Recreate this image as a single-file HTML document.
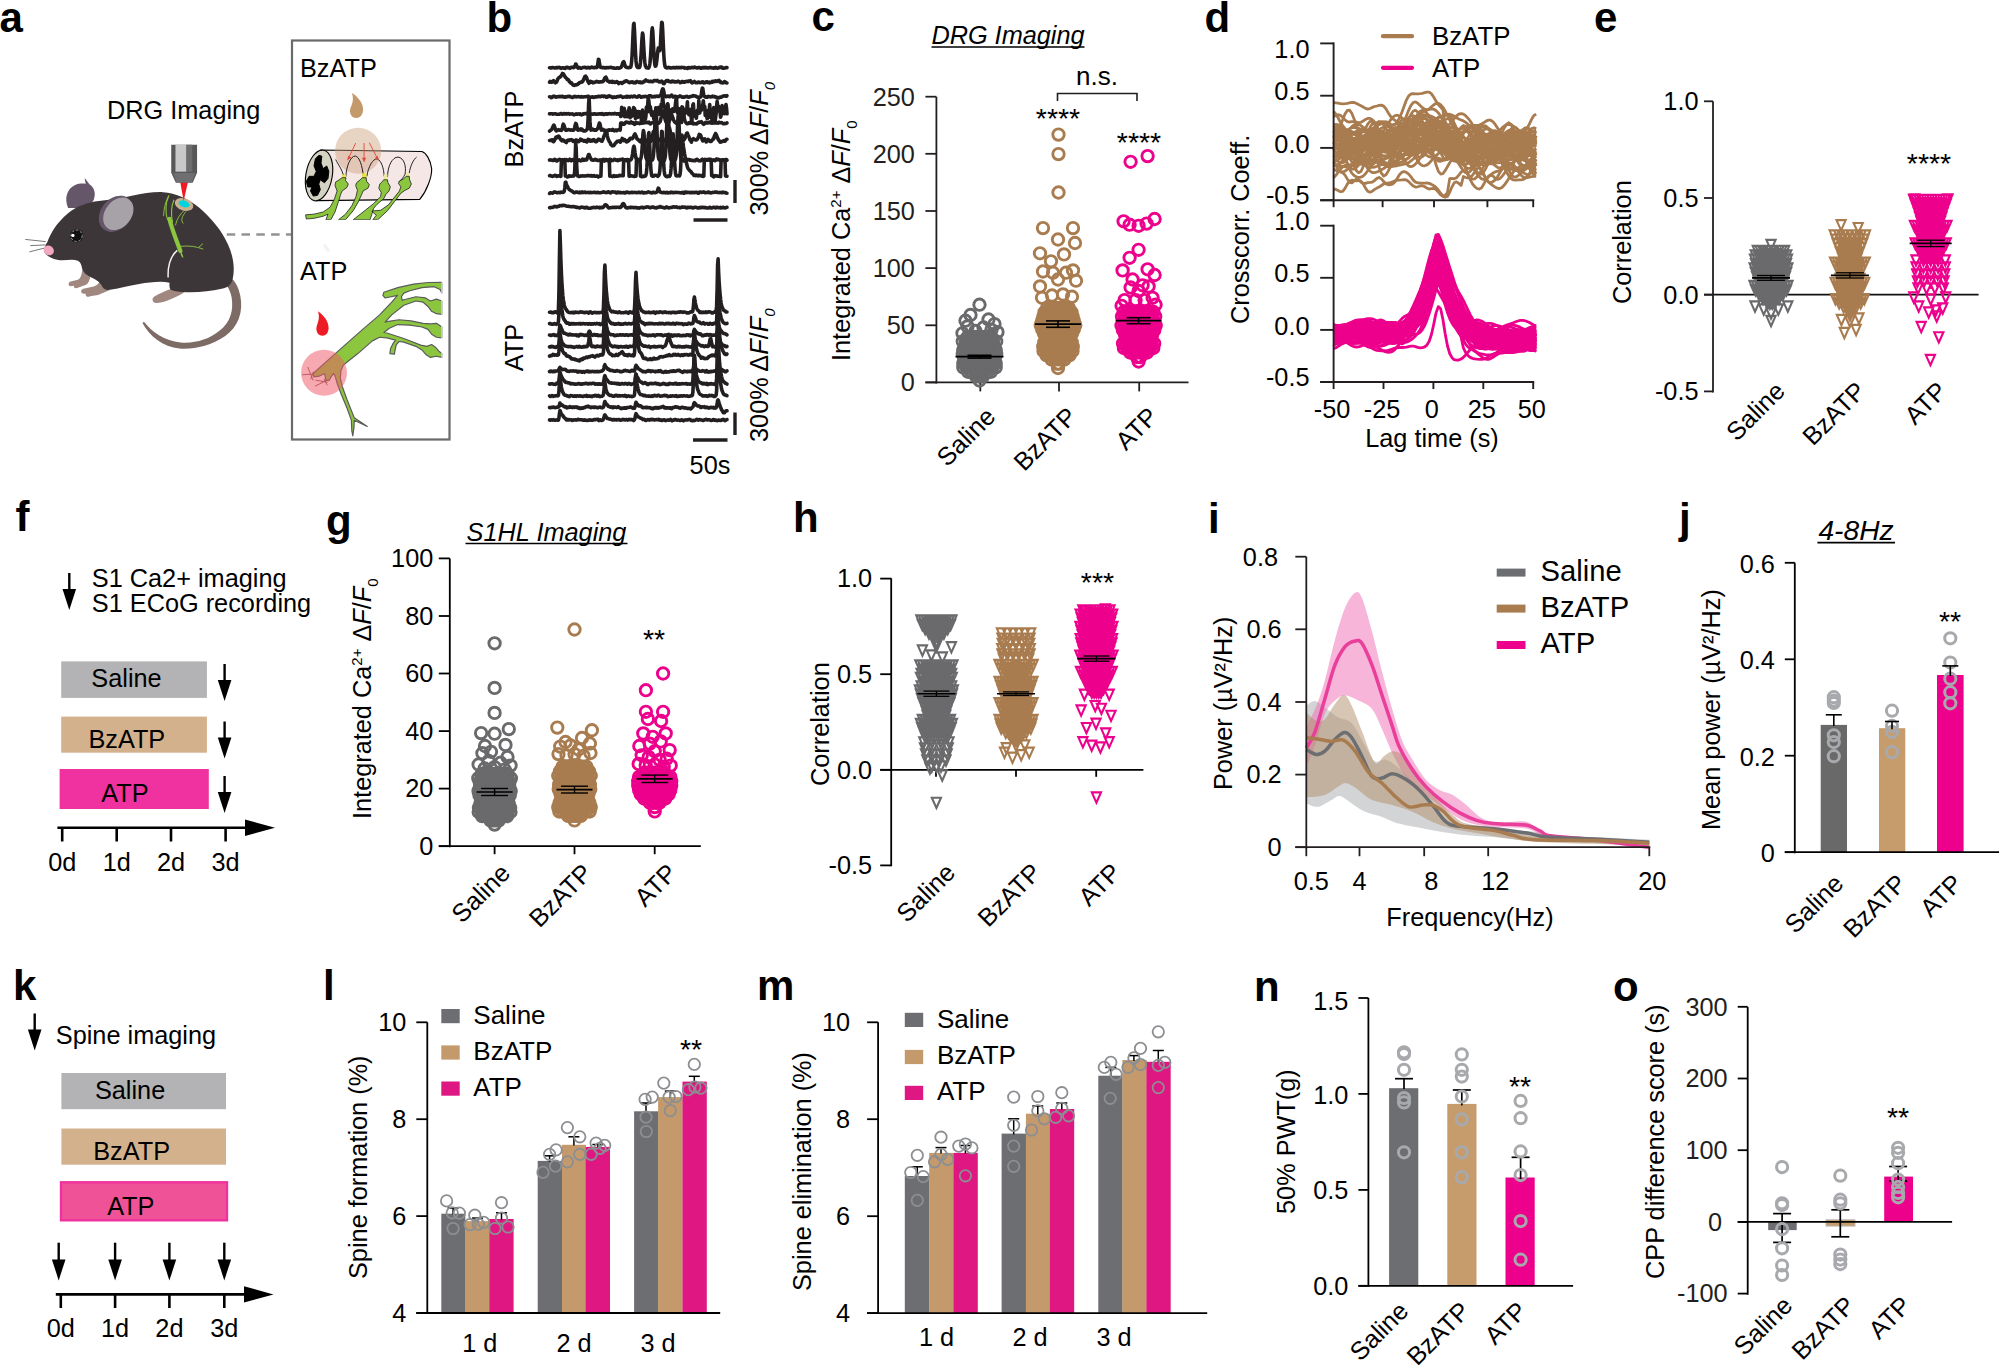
<!DOCTYPE html>
<html><head><meta charset="utf-8"><title>Figure</title>
<style>html,body{margin:0;padding:0;background:#fff;width:1999px;height:1365px;overflow:hidden}svg{display:block}svg{font-family:"Liberation Sans",sans-serif;font-size:25.3px}.pl{font-weight:bold;font-size:42px}.it{font-style:italic}</style></head>
<body>
<svg width="1999" height="1365" viewBox="0 0 1999 1365">
<rect width="1999" height="1365" fill="#fff"/>
<!-- panel a -->
<text x="-0.5" y="32" class="pl">a</text>
<text x="107" y="118.6">DRG Imaging</text>
<g transform="translate(0 120) scale(0.18315)">
<path d="M1235 850 C1275 860 1300 900 1312 960 C1330 1050 1300 1130 1230 1180 C1150 1235 1050 1255 980 1248 C890 1238 815 1180 778 1108 L786 1102 C830 1160 900 1205 985 1215 C1060 1222 1140 1200 1200 1150 C1260 1100 1275 1040 1265 970 C1258 930 1240 900 1215 880Z" fill="#7d6b66"/>
<path d="M372 480 C350 430 365 375 410 355 C430 346 450 345 468 348 C465 335 462 325 463 318 C475 330 482 345 490 352 C515 370 525 400 512 435 C500 462 470 478 440 480Z" fill="#65566a"/>
<path d="M450 815 C445 850 440 865 425 872 L385 882 C370 890 372 905 385 908 L405 905 C400 915 410 922 425 916 L470 900 C485 890 490 870 495 850Z" fill="#a08880"/>
<path d="M545 880 C535 900 525 905 505 910 L455 922 C438 930 440 945 455 948 L468 948 C465 962 478 970 492 962 L535 955 L600 928Z" fill="#a08880"/>
<path d="M935 922 C900 935 870 950 845 962 C828 972 830 992 845 998 C870 1004 905 990 935 978 C965 966 990 952 1010 938Z" fill="#a08880"/>
<path d="M246 728 C238 715 242 690 258 668 C275 620 310 560 370 510 C420 470 480 448 540 442 C600 436 660 428 720 414 C780 400 840 392 890 394 C960 398 1030 430 1090 480 C1150 532 1210 600 1245 680 C1275 745 1282 810 1272 860 C1265 900 1245 915 1210 922 C1150 936 1080 942 1020 940 C980 940 950 935 930 925 C924 912 924 898 926 888 C880 878 820 885 760 895 C700 905 650 918 610 926 C585 930 570 928 562 915 C550 890 530 872 505 862 C475 850 455 835 448 810 C445 790 440 775 425 768 C400 758 370 765 340 766 C300 766 265 750 246 728Z" fill="#3d3639"/>
<path d="M968 712 C935 740 915 790 918 860" fill="none" stroke="#f4f2f2" stroke-width="8"/>
<ellipse cx="632" cy="512" rx="108" ry="82" transform="rotate(-52 632 512)" fill="#65566a"/>
<ellipse cx="646" cy="512" rx="98" ry="72" transform="rotate(-52 646 512)" fill="#a7a1a8"/>
<circle cx="418" cy="632" r="36" fill="#111"/>
<circle cx="418" cy="632" r="31" fill="none" stroke="#fff" stroke-width="3" stroke-dasharray="14 9"/>
<circle cx="398" cy="630" r="9" fill="#fff"/>
<ellipse cx="266" cy="712" rx="29" ry="26" transform="rotate(35 266 712)" fill="#f1a7c1"/>
<path d="M250 664L138 652M246 682L165 686M240 700L160 720" fill="none" stroke="#444" stroke-width="4"/>
<path d="M922 412 C905 450 898 490 915 545M950 435 C935 470 932 510 942 560" fill="none" stroke="#8cc63f" stroke-width="6"/>
<path d="M925 540 C940 600 965 660 985 715" fill="none" stroke="#8cc63f" stroke-width="23" stroke-linecap="round"/>
<path d="M985 715L996 746" fill="none" stroke="#8cc63f" stroke-width="8" stroke-linecap="round"/>
<path d="M922 412 C905 440 895 480 893 525M1010 490 C985 510 965 540 958 575M1015 500 C995 525 985 545 1000 565M985 690 C1030 685 1070 690 1110 705M1085 695L1108 675M990 735L1000 750" fill="none" stroke="#8cc63f" stroke-width="5"/>
<ellipse cx="1005" cy="461" rx="52" ry="33" transform="rotate(18 1005 461)" fill="#c9b18e"/>
<ellipse cx="1005" cy="458" rx="31" ry="18" transform="rotate(18 1005 458)" fill="#00d4de"/>
<path d="M984 340L1026 340L1003 442Z" fill="#ed1c24"/>
<path d="M935 135L1076 135L1076 288L1052 342L960 342L935 288Z" fill="#58585a"/>
<path d="M958 135L1018 135L1018 282L958 282Z" fill="#c9c9c9"/>
<path d="M1018 135L1050 135L1050 282L1018 282Z" fill="#6d6e70"/>
<path d="M945 290L1066 290L1048 338L964 338Z" fill="#6f6f71"/>
</g>
<line x1="226.7" y1="234.5" x2="291" y2="234.5" stroke="#929297" stroke-width="2.6" stroke-dasharray="8.5 6.3"/>
<rect x="292" y="40.5" width="157.5" height="399" fill="none" stroke="#6a6a6a" stroke-width="2.2"/>
<text x="300" y="76.8">BzATP</text>
<text x="300" y="279.6">ATP</text>
<g transform="translate(300 135) scale(0.07003)">
<path d="M290 215L1740 235C1800 255 1862 350 1880 480C1885 600 1810 800 1710 920L250 937Z" fill="#f6e7e7" stroke="#000" stroke-width="16"/>
<ellipse cx="272" cy="578" rx="188" ry="366" transform="rotate(10 272 578)" fill="#d3d2c3" stroke="#000" stroke-width="16"/>
<path d="M270 290 312 302 300 400 330 480 382 442 412 520 400 620 350 682 290 640 268 700 290 780 250 862 190 872 150 800 170 742 110 742 90 660 130 590 200 590 232 520 200 440 220 340Z" fill="#000" stroke="#000" stroke-width="14" stroke-linejoin="round"/>
<circle cx="830" cy="225" r="330" fill="#c89870" fill-opacity="0.42"/>
<path d="M510 350C540 420 600 480 625 595M655 595C660 450 720 300 790 300C850 310 890 440 905 590M955 590C975 450 1040 340 1100 340C1160 360 1200 480 1200 590M1250 600C1250 440 1320 315 1400 315C1490 330 1520 450 1500 560C1480 610 1440 640 1410 672M1560 545C1575 440 1620 350 1665 315" fill="none" stroke="#111" stroke-width="13"/>
<path d="M608 565L660 565L655 615L603 615ZM890 545L950 545L948 612L888 612Z" fill="#e9e531"/>
<path d="M1195 560L1250 560L1250 645L1195 645ZM1515 540L1560 540L1560 595L1515 595Z" fill="#ece9a0"/>
<path d="M600 610 655 610 650 650 690 700 670 750 600 800 580 850 550 950 500 1100 440 1210 370 1210 400 1130 330 1160 200 1190 90 1200 80 1140 200 1130 330 1100 430 1030 490 920 530 800 500 720 510 670 560 640ZM890 610 945 610 950 660 990 710 970 760 900 800 880 850 830 960 760 1080 650 1210 550 1210 650 1130 740 1010 800 880 820 790 795 720 810 680 860 640ZM1195 640 1250 640 1255 680 1290 740 1270 800 1225 850 1195 910 1100 990 1050 1050 1030 1120 1000 1210 760 1210 900 1100 1050 980 1150 880 1160 820 1125 760 1140 700 1180 660ZM1515 590 1560 590 1565 640 1590 700 1560 760 1500 790 1440 832 1350 950 1250 1080 1110 1210 1040 1210 1090 1145 1035 1100 1030 1085 1150 1075 1260 1000 1340 900 1420 800 1440 740 1405 690 1420 660 1480 625Z" fill="#8cc63f" stroke="#1a1a1a" stroke-width="11" stroke-linejoin="round"/>
<rect x="60" y="1212" width="1200" height="60" fill="#fff"/>
<path d="M795 115L690 340M915 115L915 370M990 110L1110 345" fill="none" stroke="#e04a3a" stroke-width="13"/>
<path d="M672 365L690 295L735 320ZM915 392L885 325L945 325ZM1125 365L1068 330L1112 300Z" fill="#e04a3a"/>
</g>
<g transform="translate(280 30) scale(0.15385)">
<path d="M468 410C500 430 540 470 540 515C540 550 520 572 495 572C470 572 453 552 455 520C460 490 485 470 468 410Z" fill="#c49a6c"/>
</g>
<g transform="translate(295 275) scale(0.1209)">
<path d="M150 815 345 640 560 450 700 330 800 225 848 168 745 190 727 168 735 143 850 105 980 75 1100 62 1215 60 1215 150 1200 120 1150 97 1050 105 950 130 900 150 880 180 887 210 900 205 1000 180 1080 190 1120 215 1170 200 1215 215 1215 325 1170 320 1130 300 1100 260 1060 225 1000 215 900 250 800 330 745 390 760 385 860 370 960 380 1060 400 1120 405 1170 400 1215 430 1215 520 1170 515 1130 490 1100 450 1050 430 950 415 850 410 780 440 735 475 760 480 900 525 1040 580 1090 590 1130 575 1165 600 1190 630 1215 650 1215 682 1170 672 1120 682 1080 655 1050 620 1000 590 900 555 860 550 837 578 828 620 822 655 785 650 790 610 812 565 832 538 760 520 700 515 640 545 520 650 400 745 380 790 375 850 390 920 430 1030 470 1130 490 1180 598 1253 490 1202 488 1260 478 1330 470 1290 466 1200 430 1100 380 980 350 900 330 830 318 815 300 840 282 872 256 872 245 815 200 837 156 842Z" fill="#8cc63f" stroke="#5b5b5b" stroke-width="10" stroke-linejoin="round"/>
<path d="M1215 56L1215 690" fill="none" stroke="#fff" stroke-width="8"/>
<path d="M60 825L142 820M105 760L150 872M152 800L130 862M170 870L270 887M165 920L265 870M240 858L266 912" fill="none" stroke="#7a3b40" stroke-width="7"/>
<circle cx="240" cy="808" r="190" fill="#ee5a68" fill-opacity="0.52"/>
<path d="M190 300C235 330 280 385 278 440C276 478 256 502 228 502C198 502 175 476 177 440C180 400 212 370 190 300Z" fill="#ed1c24"/>
</g>
<path d="M324 244.5L329 251.5" fill="none" stroke="#f3f3f3" stroke-width="3.2"/>
<!-- panel b -->
<text x="486.5" y="32" class="pl">b</text>
<text x="523" y="129" text-anchor="middle" transform="rotate(-90 523 129)">BzATP</text>
<text x="523" y="347.5" text-anchor="middle" transform="rotate(-90 523 347.5)">ATP</text>
<text transform="translate(768 215.5) rotate(-90)">300% Δ<tspan class="it">F</tspan>/<tspan class="it">F</tspan><tspan class="it" font-size="15" dy="7">0</tspan></text>
<text transform="translate(768 442) rotate(-90)">300% Δ<tspan class="it">F</tspan>/<tspan class="it">F</tspan><tspan class="it" font-size="15" dy="7">0</tspan></text>
<g fill="none" stroke="#231f20" stroke-width="3.6" stroke-linejoin="round" stroke-linecap="round">
<path d="M549.5 67.8 550 67.8 550.5 67.8 551 68 551.5 67.8 552 67.7 552.5 67.5 553 67.7 553.5 67.7 553.9 67.7 554.4 67.7 554.9 68 555.4 67.9 555.9 67.8 556.4 67.5 556.9 67.9 557.4 67.6 557.9 67.7 558.4 67.5 558.9 67.4 559.4 67.4 559.9 67.6 560.4 68 560.9 68.4 561.4 68 561.9 68 562.4 67.7 562.8 67.7 563.3 67.9 563.8 67.7 564.3 68.2 564.8 68.1 565.3 68.4 565.8 67.8 566.3 67.4 566.8 67.2 567.3 67.3 567.8 67.6 568.3 67.5 568.8 67.8 569.3 68 569.8 68.4 570.3 68.2 570.8 67.6 571.3 67.2 571.7 67.4 572.2 67.4 572.7 67.4 573.2 67.3 573.7 67.6 574.2 67.4 574.7 66.6 575.2 65.3 575.7 64 576.2 64.4 576.7 65.6 577.2 67 577.7 67.8 578.2 68.1 578.7 67.7 579.2 67.5 579.7 67.6 580.2 68.1 580.6 68.2 581.1 68.1 581.6 68.1 582.1 67.7 582.6 67.7 583.1 67.5 583.6 67.5 584.1 67.2 584.6 67.2 585.1 67.4 585.6 67.6 586.1 67.6 586.6 67.9 587.1 67.9 587.6 67.7 588.1 67.4 588.6 67.6 589.1 67.8 589.5 68 590 67.9 590.5 67.6 591 67.3 591.5 67.1 592 67.2 592.5 67.4 593 67.5 593.5 67.6 594 67.8 594.5 67.8 595 67.4 595.5 67.2 596 67.2 596.5 67.6 597 67.5 597.5 65.8 598 62.4 598.4 59.3 598.9 59.4 599.4 62.9 599.9 65.6 600.4 67.1 600.9 67.1 601.4 67.5 601.9 67.5 602.4 67.8 602.9 67.5 603.4 67.4 603.9 67.6 604.4 67.8 604.9 67.9 605.4 67.7 605.9 67.9 606.4 67.6 606.9 67.6 607.3 67.6 607.8 67.8 608.3 67.7 608.8 67.6 609.3 67.6 609.8 67.5 610.3 67.4 610.8 67.4 611.3 67.4 611.8 67.6 612.3 67.8 612.8 68 613.3 67.8 613.8 67.9 614.3 68.2 614.8 68.2 615.3 68.2 615.8 68.2 616.2 68.2 616.7 68.1 617.2 67.7 617.7 67.8 618.2 67.9 618.7 68.2 619.2 68.2 619.7 68 620.2 67.8 620.7 67.5 621.2 67.1 621.7 65.8 622.2 64.6 622.7 62.9 623.2 62 623.7 61.7 624.2 62.6 624.7 64.6 625.1 66 625.6 66.9 626.1 67 626.6 67.4 627.1 67.6 627.6 67.5 628.1 67.6 628.6 67.6 629.1 67.7 629.6 67.5 630.1 67.4 630.6 67.2 631.1 65.6 631.6 62.1 632.1 54.8 632.6 44.1 633.1 32.2 633.6 24.2 634 23.4 634.5 30.5 635 41.6 635.5 52.8 636 60.7 636.5 65.1 637 66.7 637.5 67.4 638 67.3 638.5 67.4 639 67.6 639.5 67.5 640 65.9 640.5 62.2 641 55.6 641.5 47.1 642 38.4 642.5 33.1 642.9 34.1 643.4 40.8 643.9 49.7 644.4 58 644.9 63 645.4 66.1 645.9 66.9 646.4 67.7 646.9 67.8 647.4 68 647.9 68 648.4 68.1 648.9 67.4 649.4 66.2 649.9 63.5 650.4 58.5 650.9 50.1 651.4 40 651.8 31.2 652.3 27.9 652.8 31.8 653.3 41 653.8 51.5 654.3 59.6 654.8 64.3 655.3 66.2 655.8 66 656.3 64.3 656.8 60.5 657.3 55.8 657.8 50.8 658.3 48 658.8 47.8 659.3 49.6 659.8 50.6 660.3 47.6 660.7 39.7 661.2 29.4 661.7 22.4 662.2 22.7 662.7 30.6 663.2 42.2 663.7 53.2 664.2 60.6 664.7 64.8 665.2 66.8 665.7 67.6 666.2 67.7 666.7 68 667.2 67.8 667.7 67.8 668.2 67.4 668.7 67.8 669.2 67.6 669.6 67.8 670.1 67.6 670.6 68 671.1 68 671.6 68 672.1 67.8 672.6 67.7 673.1 67.6 673.6 67.5 674.1 67.6 674.6 67.8 675.1 67.9 675.6 67.8 676.1 67.4 676.6 67.3 677.1 67.7 677.6 67.8 678.1 67.7 678.5 67.4 679 67.5 679.5 67.7 680 67.8 680.5 67.6 681 67.7 681.5 67.4 682 67.4 682.5 67.5 683 67.6 683.5 67.6 684 67.5 684.5 67.7 685 68.2 685.5 68 686 68 686.5 68 687 68.4 687.4 68.4 687.9 67.9 688.4 67.6 688.9 67.5 689.4 67.8 689.9 68 690.4 68 690.9 67.7 691.4 67.5 691.9 67.4 692.4 67.6 692.9 67.7 693.4 67.8 693.9 67.3 694.4 67.2 694.9 67.1 695.4 67.5 695.9 67.5 696.3 67.8 696.8 67.9 697.3 68 697.8 67.8 698.3 67.5 698.8 67.6 699.3 67.5 699.8 67.7 700.3 67.9 700.8 68.3 701.3 68.3 701.8 67.8 702.3 67.6 702.8 67.6 703.3 67.9 703.8 67.5 704.3 67.4 704.8 67.5 705.2 67.9 705.7 67.7 706.2 67.5 706.7 67.7 707.2 68 707.7 67.9 708.2 67.8 708.7 67.9 709.2 67.8 709.7 67.6 710.2 67.4 710.7 67.7 711.2 67.7 711.7 67.8 712.2 68 712.7 68 713.2 68.1 713.7 67.8 714.1 68.1 714.6 67.9 715.1 68 715.6 67.4 716.1 67.6 716.6 67.8 717.1 68.2 717.6 68.2 718.1 68.1 718.6 67.9 719.1 67.6 719.6 67.2 720.1 67.4 720.6 67.1 721.1 67.1 721.6 67 722.1 67.8 722.6 68.1 723 68.1 723.5 68.1 724 68.1 724.5 68.1 725 67.9 725.5 67.8 726 67.6 726.5 67.5 727 67.6"/>
<path d="M549.5 82.2 550 81.5 550.5 82.1 551 82 551.5 81.7 552 82.2 552.5 82 553 81.3 553.5 80.7 553.9 81.1 554.4 81.3 554.9 82.3 555.4 82.8 555.9 82.5 556.4 82.2 556.9 81.3 557.4 79.9 557.9 78.9 558.4 78.1 558.9 77.7 559.4 77.3 559.9 77.2 560.4 76.4 560.9 76.2 561.4 75.4 561.9 74.5 562.4 73.5 562.8 73.9 563.3 73.8 563.8 74.6 564.3 75.4 564.8 76.2 565.3 77.2 565.8 77.7 566.3 78.1 566.8 78.7 567.3 79.5 567.8 79.3 568.3 79.8 568.8 80.4 569.3 81.6 569.8 81.9 570.3 82.3 570.8 83.2 571.3 83.4 571.7 83 572.2 84 572.7 84.7 573.2 85.1 573.7 85 574.2 85.4 574.7 84.9 575.2 84.8 575.7 84.8 576.2 84.9 576.7 84.8 577.2 84.5 577.7 84.5 578.2 83.6 578.7 83.5 579.2 82.9 579.7 82.5 580.2 82.4 580.6 82.4 581.1 82.1 581.6 82 582.1 82 582.6 81.4 583.1 80.7 583.6 79.2 584.1 78.5 584.6 77.1 585.1 76.4 585.6 76.2 586.1 77.1 586.6 77.3 587.1 79.4 587.6 80.5 588.1 81.8 588.6 82.4 589.1 83.3 589.5 82.7 590 82.3 590.5 81.4 591 82.3 591.5 82.2 592 81.9 592.5 82.1 593 82.8 593.5 82.3 594 82.5 594.5 82.4 595 82.1 595.5 81.9 596 81.8 596.5 81.4 597 81.7 597.5 81.9 598 81.9 598.4 81.8 598.9 81.8 599.4 82.1 599.9 82 600.4 81.7 600.9 81.9 601.4 81.8 601.9 81.7 602.4 81.6 602.9 81.6 603.4 81 603.9 80.1 604.4 78.8 604.9 78 605.4 77.3 605.9 77.1 606.4 78.3 606.9 79.5 607.3 80.8 607.8 81.2 608.3 81.2 608.8 81.5 609.3 82 609.8 81.6 610.3 81.5 610.8 81.9 611.3 82.1 611.8 81.6 612.3 81.3 612.8 82.3 613.3 82.1 613.8 81.8 614.3 82.1 614.8 82.5 615.3 82.3 615.8 82.3 616.2 81.8 616.7 81.5 617.2 81.9 617.7 82.1 618.2 82.6 618.7 83.6 619.2 83.1 619.7 82.9 620.2 82.7 620.7 82.7 621.2 82.5 621.7 83.1 622.2 83.4 622.7 82.5 623.2 82.4 623.7 82.3 624.2 82.1 624.7 81.2 625.1 81.3 625.6 81.2 626.1 80.9 626.6 80.9 627.1 81.2 627.6 81.6 628.1 81.7 628.6 82.2 629.1 82.2 629.6 82.7 630.1 82.4 630.6 82.1 631.1 82 631.6 82.2 632.1 81.9 632.6 82.4 633.1 82.1 633.6 82.3 634 82.8 634.5 82.5 635 82.5 635.5 82.8 636 82.2 636.5 81.6 637 81.5 637.5 81.7 638 81.7 638.5 82.1 639 82.4 639.5 82.5 640 82 640.5 82.7 641 82.8 641.5 82.3 642 82.2 642.5 82.6 642.9 82 643.4 82.1 643.9 81.4 644.4 81.6 644.9 81.1 645.4 80.8 645.9 80 646.4 80.7 646.9 80.9 647.4 81 647.9 81.2 648.4 81 648.9 81.5 649.4 81.5 649.9 81.6 650.4 81.2 650.9 81.5 651.4 81.5 651.8 81.4 652.3 81.8 652.8 81.6 653.3 81.3 653.8 80.7 654.3 80.6 654.8 80.6 655.3 80.8 655.8 80.6 656.3 80.8 656.8 80.9 657.3 80.4 657.8 80.9 658.3 81.1 658.8 81.6 659.3 81.9 659.8 82 660.3 81.8 660.7 81.4 661.2 81.3 661.7 81 662.2 81.5 662.7 82.2 663.2 83.4 663.7 83.2 664.2 83.6 664.7 82.8 665.2 81.8 665.7 81.3 666.2 80.9 666.7 80.5 667.2 80.5 667.7 81 668.2 80.6 668.7 81.4 669.2 81.3 669.6 81.8 670.1 81.8 670.6 81.9 671.1 81.5 671.6 81.8 672.1 81.4 672.6 81.1 673.1 81.7 673.6 81.6 674.1 81.4 674.6 81.8 675.1 82 675.6 81.9 676.1 81.7 676.6 82 677.1 81.7 677.6 81.5 678.1 81.1 678.5 81.4 679 81.6 679.5 81.8 680 82.6 680.5 82.6 681 82.5 681.5 82.1 682 81.6 682.5 81.5 683 81.7 683.5 82.2 684 82.1 684.5 82.3 685 81.9 685.5 81.5 686 81.4 686.5 81.5 687 81.2 687.4 81.4 687.9 81.6 688.4 81 688.9 81 689.4 81.2 689.9 81.2 690.4 80.6 690.9 81.8 691.4 82.2 691.9 82.8 692.4 82.1 692.9 82.6 693.4 82 693.9 82 694.4 81.5 694.9 82 695.4 82.4 695.9 82.8 696.3 82.7 696.8 82.7 697.3 82.7 697.8 82.4 698.3 82 698.8 82.2 699.3 82.3 699.8 82.7 700.3 82.7 700.8 82.5 701.3 82.2 701.8 82.5 702.3 81.9 702.8 81.8 703.3 82.1 703.8 82.9 704.3 82.5 704.8 82.7 705.2 82.4 705.7 82.4 706.2 81.7 706.7 81.8 707.2 81.7 707.7 82.5 708.2 82.3 708.7 82.4 709.2 82.2 709.7 82.9 710.2 82.4 710.7 82.5 711.2 82.3 711.7 82.2 712.2 81.4 712.7 82 713.2 81.6 713.7 81.3 714.1 81.6 714.6 81.5 715.1 80.9 715.6 80.8 716.1 81.2 716.6 81.3 717.1 81.4 717.6 80.8 718.1 81 718.6 80.5 719.1 80.4 719.6 81.2 720.1 82 720.6 81.7 721.1 82.6 721.6 82.6 722.1 82.8 722.6 82.7 723 82.9 723.5 82.7 724 82.6 724.5 81.6 725 81.7 725.5 82.3 726 82.4 726.5 82.9 727 83"/>
<path d="M549.5 96.8 550 96.8 550.5 97 551 97.6 551.5 97.3 552 97.5 552.5 96.8 553 96.4 553.5 96.5 553.9 96.1 554.4 96.6 554.9 96.5 555.4 96.5 555.9 97.2 556.4 96.9 556.9 96.9 557.4 96.8 557.9 96.7 558.4 96.6 558.9 96.7 559.4 96.5 559.9 96.3 560.4 96.6 560.9 96.6 561.4 96.6 561.9 96.3 562.4 96.4 562.8 96.4 563.3 96.8 563.8 97.2 564.3 97.2 564.8 97 565.3 96.7 565.8 97.1 566.3 96.9 566.8 96.8 567.3 96.8 567.8 96.4 568.3 96.4 568.8 96.4 569.3 96.6 569.8 96.4 570.3 96.7 570.8 96.9 571.3 97 571.7 97.3 572.2 97.4 572.7 97.4 573.2 96.9 573.7 96.9 574.2 96.5 574.7 96.3 575.2 96.5 575.7 96.6 576.2 96.9 576.7 96.8 577.2 96.7 577.7 96.8 578.2 96.5 578.7 96.6 579.2 96.7 579.7 96.9 580.2 97 580.6 97 581.1 96.9 581.6 96.6 582.1 96.9 582.6 97 583.1 97 583.6 96.9 584.1 96.8 584.6 96.8 585.1 96.8 585.6 96.7 586.1 96.8 586.6 96.6 587.1 96.5 587.6 96.3 588.1 96.2 588.6 96.4 589.1 96.9 589.5 96.9 590 97.3 590.5 97.4 591 97.2 591.5 97.2 592 96.7 592.5 96.8 593 97 593.5 97.4 594 97.4 594.5 97.1 595 96.9 595.5 96.9 596 96.9 596.5 96.7 597 96.9 597.5 96.8 598 96.4 598.4 96.5 598.9 96.3 599.4 96.2 599.9 96.7 600.4 96.8 600.9 96.4 601.4 96.1 601.9 96.3 602.4 96.2 602.9 96.1 603.4 96.6 603.9 96.2 604.4 96 604.9 96.5 605.4 96.3 605.9 96.4 606.4 97.2 606.9 97 607.3 97.1 607.8 96.9 608.3 96 608.8 95.9 609.3 95.9 609.8 96.1 610.3 96.5 610.8 96.4 611.3 96.6 611.8 97 612.3 97.5 612.8 97.6 613.3 97.3 613.8 97.2 614.3 96.9 614.8 97.1 615.3 97.3 615.8 97.3 616.2 97.2 616.7 96.8 617.2 96.5 617.7 96.6 618.2 96.6 618.7 96.7 619.2 96.6 619.7 96.4 620.2 96.1 620.7 96 621.2 96.4 621.7 96.6 622.2 97.2 622.7 97.4 623.2 97.2 623.7 97.2 624.2 97 624.7 97 625.1 96.9 625.6 96.9 626.1 96.4 626.6 96.8 627.1 97.1 627.6 96.4 628.1 96.7 628.6 96.6 629.1 96.5 629.6 97.1 630.1 96.8 630.6 96.5 631.1 96.3 631.6 96.3 632.1 96.8 632.6 96.9 633.1 96.7 633.6 96.4 634 96.1 634.5 96 635 96.4 635.5 96.7 636 96.9 636.5 97.1 637 97 637.5 97.1 638 96.6 638.5 96.1 639 95.8 639.5 95.9 640 96.2 640.5 96.8 641 97.3 641.5 97.2 642 97 642.5 96.8 642.9 96.5 643.4 96.5 643.9 96.6 644.4 96.8 644.9 96.5 645.4 96.3 645.9 96.4 646.4 96.5 646.9 97 647.4 97.2 647.9 96.7 648.4 96.3 648.9 95.9 649.4 95.7 649.9 95.7 650.4 95.8 650.9 95.9 651.4 96.2 651.8 96.9 652.3 97 652.8 96.7 653.3 96.8 653.8 96.6 654.3 96.3 654.8 96.7 655.3 96.7 655.8 96.2 656.3 96.3 656.8 96.1 657.3 96.2 657.8 96.4 658.3 96.5 658.8 96.5 659.3 96 659.8 95.8 660.3 95.6 660.7 94.9 661.2 94 661.7 92 662.2 89.8 662.7 88.8 663.2 89.1 663.7 91 664.2 93.7 664.7 95.3 665.2 96.1 665.7 96.8 666.2 96.7 666.7 96.6 667.2 96.4 667.7 96 668.2 96 668.7 96.3 669.2 96.7 669.6 96.8 670.1 96.2 670.6 95.8 671.1 95.4 671.6 95.2 672.1 96.1 672.6 96.4 673.1 96.9 673.6 96.9 674.1 96.2 674.6 96.3 675.1 96.2 675.6 96.3 676.1 96.8 676.6 96.8 677.1 97 677.6 96.9 678.1 97 678.5 96.6 679 96.4 679.5 96.5 680 95.9 680.5 96.3 681 96.5 681.5 96.6 682 97.2 682.5 97.2 683 97 683.5 97.1 684 97.1 684.5 97.1 685 96.9 685.5 96.6 686 96.8 686.5 96.4 687 96.3 687.4 96.9 687.9 96.8 688.4 97 688.9 97.3 689.4 97 689.9 96.5 690.4 96.7 690.9 96.5 691.4 96.4 691.9 96.4 692.4 96 692.9 95.6 693.4 95.7 693.9 95.9 694.4 95.8 694.9 96 695.4 96 695.9 96.2 696.3 96.5 696.8 96.9 697.3 97 697.8 97.1 698.3 97.4 698.8 97.2 699.3 97.4 699.8 97.3 700.3 97.1 700.8 96.8 701.3 94.7 701.8 90.8 702.3 88 702.8 88.5 703.3 92.4 703.8 95.3 704.3 96.1 704.8 96.8 705.2 96.6 705.7 96.9 706.2 97.3 706.7 97.1 707.2 97.2 707.7 96.9 708.2 96.4 708.7 96.6 709.2 96.6 709.7 96.7 710.2 96.7 710.7 97 711.2 96.6 711.7 96.7 712.2 96.7 712.7 96.2 713.2 96.7 713.7 96.6 714.1 96.7 714.6 96.6 715.1 96.9 715.6 96.8 716.1 97.4 716.6 97.7 717.1 97.4 717.6 98 718.1 97.9 718.6 97.9 719.1 97.8 719.6 97.4 720.1 97.1 720.6 97.3 721.1 97.2 721.6 96.9 722.1 96.6 722.6 96.3 723 96.1 723.5 96.1 724 96 724.5 95.7 725 95.9 725.5 96.1 726 96.1 726.5 96.2 727 95.7"/>
<path d="M549.5 113.8 550 113.9 550.5 113.7 551 113.8 551.5 113.7 552 113.8 552.5 113.8 553 114.1 553.5 114 553.9 113.9 554.4 113.8 554.9 113.8 555.4 113.8 555.9 113.9 556.4 114.1 556.9 114.3 557.4 114.2 557.9 114.2 558.4 114.2 558.9 114.2 559.4 114.2 559.9 114 560.4 113.8 560.9 113.5 561.4 113.7 561.9 113.7 562.4 114.2 562.8 114.1 563.3 113.9 563.8 113.5 564.3 113.7 564.8 114 565.3 113.9 565.8 113.9 566.3 113.6 566.8 114 567.3 113.8 567.8 113.8 568.3 113.5 568.8 113.9 569.3 114.1 569.8 114.1 570.3 114 570.8 113.9 571.3 114 571.7 114 572.2 113.8 572.7 114.1 573.2 114.3 573.7 114.8 574.2 114.6 574.7 114.7 575.2 114.3 575.7 114.2 576.2 113.9 576.7 114.1 577.2 114.1 577.7 114.1 578.2 113.9 578.7 114 579.2 114 579.7 114.3 580.2 113.9 580.6 114.5 581.1 114.4 581.6 114.8 582.1 114.2 582.6 114.3 583.1 113.8 583.6 114.2 584.1 113.6 584.6 113.8 585.1 113.6 585.6 113.8 586.1 113.6 586.6 113.4 587.1 113.9 587.6 114 588.1 114.1 588.6 114 589.1 114.1 589.5 114.3 590 114 590.5 114.1 591 114 591.5 114 592 114.2 592.5 114 593 114.2 593.5 114.1 594 113.8 594.5 113.7 595 113.8 595.5 114.2 596 114.3 596.5 114.1 597 114.1 597.5 114 598 113.9 598.4 114.1 598.9 114 599.4 113.8 599.9 113.9 600.4 113.9 600.9 114.1 601.4 113.8 601.9 113.6 602.4 113.7 602.9 113.9 603.4 114.4 603.9 114.4 604.4 114.4 604.9 114.1 605.4 113.7 605.9 113.8 606.4 114.1 606.9 114.2 607.3 114.2 607.8 113.9 608.3 113.9 608.8 113.8 609.3 113.7 609.8 113.6 610.3 113.8 610.8 113.8 611.3 114 611.8 113.9 612.3 113.8 612.8 113.6 613.3 113.8 613.8 113.9 614.3 113.8 614.8 113.4 615.3 113.6 615.8 113.7 616.2 113.9 616.7 114.1 617.2 113.9 617.7 113.9 618.2 113.9 618.7 114.2 619.2 113.8 619.7 113.6 620.2 113.6 620.7 116.4 621.2 116.3 621.7 107.4 622.2 110.9 622.7 110.5 623.2 110 623.7 109.3 624.2 108.3 624.7 116.6 625.1 115.5 625.6 114.7 626.1 116.5 626.6 114.2 627.1 116.8 627.6 116.1 628.1 110.6 628.6 113.2 629.1 107.8 629.6 109.7 630.1 117.8 630.6 113.2 631.1 111.1 631.6 111 632.1 116.1 632.6 112.6 633.1 111.6 633.6 107.5 634 111.4 634.5 108.6 635 114.5 635.5 118.6 636 117.5 636.5 111.4 637 114 637.5 116.4 638 117.3 638.5 111.6 639 111.9 639.5 112.9 640 111.8 640.5 115 641 113.6 641.5 123.2 642 116.8 642.5 110.1 642.9 114 643.4 122.8 643.9 114.1 644.4 116.5 644.9 115.6 645.4 119.1 645.9 116.3 646.4 107.1 646.9 110.8 647.4 112 647.9 101.5 648.4 98.1 648.9 101.4 649.4 107.2 649.9 110.9 650.4 106.8 650.9 112.4 651.4 114.3 651.8 115.5 652.3 111.5 652.8 113.4 653.3 113 653.8 118.9 654.3 119.6 654.8 115.9 655.3 113.7 655.8 111.4 656.3 108.2 656.8 111.6 657.3 113.6 657.8 114.5 658.3 113.3 658.8 107.2 659.3 110.7 659.8 112.6 660.3 114.2 660.7 112.3 661.2 104 661.7 106.2 662.2 102.2 662.7 95 663.2 102.6 663.7 104.3 664.2 107.2 664.7 106.6 665.2 113 665.7 110 666.2 107.7 666.7 111.3 667.2 109.6 667.7 103.9 668.2 108.5 668.7 110 669.2 113.8 669.6 114.6 670.1 110.5 670.6 113.4 671.1 109.7 671.6 111.3 672.1 112.1 672.6 108.9 673.1 111.1 673.6 111.1 674.1 111.3 674.6 110.7 675.1 107 675.6 102.7 676.1 98.4 676.6 99 677.1 111.2 677.6 113.1 678.1 109.9 678.5 108.5 679 114.2 679.5 114.1 680 109.8 680.5 109.1 681 113.1 681.5 122.5 682 116.8 682.5 116.2 683 117.8 683.5 109.4 684 113 684.5 111.7 685 113.7 685.5 111.8 686 112.4 686.5 111.7 687 106.7 687.4 101.9 687.9 111.2 688.4 111.7 688.9 114.8 689.4 114.8 689.9 112.3 690.4 109.6 690.9 115 691.4 119.6 691.9 121.9 692.4 109.7 692.9 104.8 693.4 103.8 693.9 112.6 694.4 115.4 694.9 115.7 695.4 116.6 695.9 114.4 696.3 118.2 696.8 114 697.3 110.4 697.8 110.8 698.3 113.3 698.8 100.6 699.3 108 699.8 113 700.3 108.6 700.8 109.4 701.3 110.2 701.8 105.8 702.3 107.2 702.8 104.7 703.3 100.8 703.8 105.4 704.3 107.9 704.8 106.7 705.2 115.5 705.7 112.6 706.2 110.5 706.7 116.3 707.2 118.8 707.7 118 708.2 111.8 708.7 110 709.2 110.6 709.7 104.5 710.2 111.1 710.7 117.4 711.2 116.5 711.7 117.6 712.2 123.2 712.7 119.4 713.2 116.2 713.7 107.5 714.1 109.2 714.6 114.7 715.1 121 715.6 117.4 716.1 113.6 716.6 106.7 717.1 101.3 717.6 105.2 718.1 108.8 718.6 106.2 719.1 107.9 719.6 111 720.1 112.7 720.6 117.2 721.1 115.6 721.6 109.8 722.1 105.6 722.6 112.3 723 108.7 723.5 112.8 724 111.1 724.5 113.8 725 112.9 725.5 107.2 726 104.6 726.5 108 727 113.8"/>
<path d="M549.5 131.1 550 130.7 550.5 130.6 551 130.1 551.5 129.4 552 128.9 552.5 127.9 553 126.8 553.5 125.3 553.9 125.1 554.4 126.1 554.9 127.5 555.4 129.5 555.9 130.4 556.4 130.9 556.9 130.3 557.4 130 557.9 130 558.4 129.6 558.9 130.1 559.4 130.1 559.9 130.1 560.4 130.2 560.9 130.1 561.4 130.4 561.9 129.7 562.4 128 562.8 125.5 563.3 124.1 563.8 124.9 564.3 126.2 564.8 128.1 565.3 129.2 565.8 130.2 566.3 130.3 566.8 130.2 567.3 130.1 567.8 129.7 568.3 129.6 568.8 129.5 569.3 129.8 569.8 129.8 570.3 130.2 570.8 130.2 571.3 130 571.7 129.9 572.2 130.1 572.7 130.1 573.2 130.3 573.7 130 574.2 129.4 574.7 127.4 575.2 125.1 575.7 123.4 576.2 123.8 576.7 125.8 577.2 128.2 577.7 129.9 578.2 130.2 578.7 129.9 579.2 129.3 579.7 129.8 580.2 129.7 580.6 129.9 581.1 128.9 581.6 129.1 582.1 129.4 582.6 130.4 583.1 130.7 583.6 131 584.1 130.8 584.6 130.9 585.1 131 585.6 130.7 586.1 130.4 586.6 129.8 587.1 129.5 587.6 127 588.1 118.6 588.6 104.2 589.1 97.3 589.5 107.8 590 121.9 590.5 128.7 591 130.1 591.5 129.6 592 129.2 592.5 129 593 129.4 593.5 130 594 130.1 594.5 129.9 595 130.1 595.5 129.9 596 130.2 596.5 129.7 597 129.4 597.5 128.6 598 127.9 598.4 126.6 598.9 124.8 599.4 123 599.9 123.7 600.4 126.2 600.9 128.7 601.4 130.1 601.9 130 602.4 129.6 602.9 129.4 603.4 129.5 603.9 130.4 604.4 130.3 604.9 130.6 605.4 130.5 605.9 131 606.4 130.4 606.9 130.5 607.3 130.4 607.8 130.8 608.3 130.3 608.8 129.9 609.3 129.9 609.8 130.2 610.3 130 610.8 130 611.3 130.2 611.8 129.9 612.3 130.1 612.8 129.4 613.3 130.3 613.8 130.5 614.3 130.9 614.8 130.7 615.3 130.1 615.8 130.4 616.2 130.2 616.7 130.7 617.2 130.1 617.7 130.1 618.2 130 618.7 129.5 619.2 129.6 619.7 129.2 620.2 130.1 620.7 123.1 621.2 123.4 621.7 123 622.2 123.1 622.7 123.3 623.2 124.2 623.7 124.2 624.2 124.2 624.7 123.5 625.1 123.1 625.6 122.3 626.1 122.1 626.6 122 627.1 122.4 627.6 122.4 628.1 122.5 628.6 122.7 629.1 123 629.6 123.1 630.1 122.5 630.6 122.2 631.1 121.9 631.6 122.7 632.1 122.9 632.6 123.2 633.1 122.7 633.6 123.1 634 123.7 634.5 124.4 635 124.2 635.5 123.1 636 122.4 636.5 122.6 637 123.2 637.5 123.3 638 123 638.5 123.2 639 123.4 639.5 123.6 640 123.3 640.5 122.9 641 122.4 641.5 122.9 642 122.7 642.5 123 642.9 122.7 643.4 122.6 643.9 122.6 644.4 122.6 644.9 122.8 645.4 122.6 645.9 122.4 646.4 122.3 646.9 122.3 647.4 122.6 647.9 122.3 648.4 122.5 648.9 122.2 649.4 123.1 649.9 123.7 650.4 124 650.9 123.7 651.4 123 651.8 122.8 652.3 122.6 652.8 122.5 653.3 122.2 653.8 122.4 654.3 122.7 654.8 123 655.3 123.2 655.8 122.9 656.3 123.2 656.8 122.9 657.3 123.3 657.8 123.5 658.3 123.2 658.8 123.2 659.3 122.3 659.8 122 660.3 121.2 660.7 119.5 661.2 117.1 661.7 113.9 662.2 111.7 662.7 111.1 663.2 111.4 663.7 112.9 664.2 114.6 664.7 117.3 665.2 119.8 665.7 121.3 666.2 122.4 666.7 121.8 667.2 122.2 667.7 122.4 668.2 123 668.7 122.1 669.2 121.1 669.6 120.4 670.1 118.8 670.6 116.9 671.1 115.1 671.6 114.8 672.1 115.6 672.6 117 673.1 118.6 673.6 120.1 674.1 120.9 674.6 122 675.1 122.2 675.6 122.5 676.1 123.2 676.6 123.3 677.1 123.4 677.6 122.6 678.1 122.6 678.5 121.7 679 121.3 679.5 120.5 680 118.7 680.5 115.5 681 111.7 681.5 108.8 682 106.9 682.5 107.1 683 108.7 683.5 112.1 684 115.8 684.5 119.2 685 121.4 685.5 122.1 686 122.7 686.5 123.3 687 123.8 687.4 123.7 687.9 123.6 688.4 123.5 688.9 122.9 689.4 122.6 689.9 122.6 690.4 123.1 690.9 122.8 691.4 122.4 691.9 122.4 692.4 123.2 692.9 123.8 693.4 123.9 693.9 123.5 694.4 123.5 694.9 123.8 695.4 123.8 695.9 123.9 696.3 124 696.8 124 697.3 123.3 697.8 122.8 698.3 122.5 698.8 122.2 699.3 122 699.8 122.4 700.3 122.2 700.8 122 701.3 121.7 701.8 122.5 702.3 122.8 702.8 123.6 703.3 123.5 703.8 124.3 704.3 123.8 704.8 123.5 705.2 122.8 705.7 122.3 706.2 122.5 706.7 122.5 707.2 123 707.7 122.9 708.2 122.9 708.7 122.5 709.2 122.2 709.7 122.1 710.2 122.7 710.7 123 711.2 122.7 711.7 122.3 712.2 122.3 712.7 122.5 713.2 122.3 713.7 123 714.1 122.9 714.6 123 715.1 122.2 715.6 122.8 716.1 122.9 716.6 122.9 717.1 123.1 717.6 123 718.1 123.1 718.6 122.3 719.1 122.4 719.6 122.4 720.1 122.8 720.6 122.8 721.1 122.7 721.6 122.6 722.1 123 722.6 123.3 723 123.6 723.5 123.8 724 123.7 724.5 123.4 725 123.5 725.5 123.6 726 123.5 726.5 123.2 727 122.9"/>
<path d="M549.5 140.5 550 140.4 550.5 140.2 551 140.4 551.5 139.9 552 140.6 552.5 139.9 553 140.2 553.5 141.7 553.9 141.3 554.4 140.6 554.9 139.2 555.4 138.2 555.9 137.2 556.4 137.1 556.9 137.8 557.4 136.9 557.9 136.3 558.4 136.1 558.9 136.4 559.4 137 559.9 138 560.4 139.3 560.9 139.4 561.4 140.3 561.9 140.8 562.4 139.8 562.8 140.2 563.3 140.6 563.8 140.3 564.3 141.1 564.8 141.5 565.3 141.5 565.8 142.2 566.3 142.5 566.8 141.5 567.3 140.6 567.8 140.3 568.3 140 568.8 140.5 569.3 140.4 569.8 139.8 570.3 140 570.8 140 571.3 139.5 571.7 139.7 572.2 139.9 572.7 140.4 573.2 141.4 573.7 141.3 574.2 141.2 574.7 140.5 575.2 140.6 575.7 140.8 576.2 140 576.7 140.4 577.2 140.3 577.7 140.7 578.2 141.6 578.7 141.6 579.2 141.1 579.7 140.9 580.2 140.3 580.6 139.1 581.1 139.6 581.6 139.5 582.1 140 582.6 140.7 583.1 140.4 583.6 140.7 584.1 141.2 584.6 140.5 585.1 140.6 585.6 141 586.1 141.3 586.6 142 587.1 141.8 587.6 140.8 588.1 139.3 588.6 139.5 589.1 139.5 589.5 140.6 590 141 590.5 140.5 591 141 591.5 140.4 592 140.4 592.5 140.8 593 139.8 593.5 140.2 594 139.7 594.5 140.3 595 141.3 595.5 141.1 596 141.8 596.5 141.5 597 140.9 597.5 140.6 598 139.5 598.4 139.2 598.9 139.5 599.4 139.3 599.9 140 600.4 140.3 600.9 140.7 601.4 141.1 601.9 141.2 602.4 140.4 602.9 139.1 603.4 137.8 603.9 136.3 604.4 135.2 604.9 133.7 605.4 132 605.9 131.6 606.4 131.5 606.9 133.2 607.3 135.5 607.8 138 608.3 139.4 608.8 140.4 609.3 141.7 609.8 142 610.3 142.9 610.8 144.3 611.3 145 611.8 145.1 612.3 145.8 612.8 145.3 613.3 145.7 613.8 145.5 614.3 144.9 614.8 144.1 615.3 143.3 615.8 143 616.2 142.3 616.7 142.1 617.2 141.2 617.7 141.3 618.2 141.2 618.7 141 619.2 140.9 619.7 141.3 620.2 142.2 620.7 141.7 621.2 140.8 621.7 139.8 622.2 138.4 622.7 139.1 623.2 139.8 623.7 140 624.2 140.7 624.7 139.7 625.1 140.3 625.6 140.7 626.1 140.8 626.6 141.9 627.1 140.9 627.6 141.6 628.1 140.9 628.6 140.2 629.1 140.4 629.6 138.9 630.1 138.3 630.6 138.6 631.1 138.2 631.6 138.4 632.1 138.7 632.6 138.2 633.1 137.7 633.6 136.3 634 135.7 634.5 134.5 635 133.9 635.5 135.1 636 135.9 636.5 137.5 637 139 637.5 139 638 139.6 638.5 139.8 639 140.7 639.5 141 640 141.7 640.5 141.9 641 140.3 641.5 139.8 642 139.3 642.5 139.7 642.9 140.3 643.4 141.3 643.9 140.9 644.4 141 644.9 140.6 645.4 139.8 645.9 140.6 646.4 140.3 646.9 141.1 647.4 141.5 647.9 141.7 648.4 141.3 648.9 141.1 649.4 141.7 649.9 140.4 650.4 141.2 650.9 141.3 651.4 140.5 651.8 139.1 652.3 136.6 652.8 134.2 653.3 131.8 653.8 131.2 654.3 131.3 654.8 132.2 655.3 134.2 655.8 134.9 656.3 136.9 656.8 137.9 657.3 139 657.8 140.7 658.3 139.8 658.8 139.6 659.3 139.3 659.8 139.4 660.3 140.4 660.7 140.6 661.2 141.1 661.7 141.1 662.2 140.4 662.7 141.1 663.2 141.3 663.7 140.7 664.2 141 664.7 140.1 665.2 139.9 665.7 139.5 666.2 138.9 666.7 137.2 667.2 134.3 667.7 132 668.2 128.6 668.7 127.4 669.2 127.7 669.6 128.3 670.1 131 670.6 133.1 671.1 135.1 671.6 137 672.1 138.6 672.6 140.3 673.1 141.3 673.6 141.6 674.1 142.2 674.6 142.4 675.1 142.4 675.6 142.6 676.1 141.6 676.6 141.1 677.1 140.1 677.6 140.1 678.1 139.7 678.5 139 679 139.6 679.5 139.7 680 140.3 680.5 140.5 681 140.1 681.5 140.2 682 139.8 682.5 139.9 683 139.7 683.5 139.6 684 139.8 684.5 139 685 138.2 685.5 136.5 686 134.8 686.5 133.8 687 133 687.4 133.1 687.9 134.5 688.4 136 688.9 136.8 689.4 138.3 689.9 140 690.4 140.3 690.9 141.3 691.4 142.1 691.9 139.9 692.4 139.3 692.9 139.1 693.4 138.6 693.9 139.4 694.4 139.5 694.9 139.7 695.4 139.9 695.9 139.9 696.3 140 696.8 139.7 697.3 139.3 697.8 138.3 698.3 137.1 698.8 135.9 699.3 134.4 699.8 134.9 700.3 134.9 700.8 135.6 701.3 137.6 701.8 138.2 702.3 139.9 702.8 141 703.3 140.3 703.8 140.2 704.3 139 704.8 138.8 705.2 139.8 705.7 140 706.2 142 706.7 141.2 707.2 140.6 707.7 140.5 708.2 139.3 708.7 140.5 709.2 140.7 709.7 141.2 710.2 141.5 710.7 141 711.2 141.4 711.7 140.3 712.2 140.3 712.7 139.6 713.2 138.6 713.7 138.8 714.1 136.7 714.6 135.6 715.1 134.4 715.6 133.5 716.1 134.4 716.6 135.4 717.1 137 717.6 138.3 718.1 138.7 718.6 140.2 719.1 140.6 719.6 141.1 720.1 142.1 720.6 142.1 721.1 142 721.6 141.7 722.1 141.4 722.6 141.5 723 141.1 723.5 140.8 724 140.7 724.5 140.5 725 141.2 725.5 140.6 726 139.9 726.5 139.2 727 139.2"/>
<path d="M549.5 160 550 159.7 550.5 160 551 160.1 551.5 160.2 552 160 552.5 160.3 553 160.5 553.5 160.5 553.9 159.9 554.4 159.4 554.9 159.6 555.4 159.6 555.9 160.6 556.4 160.8 556.9 161 557.4 160.6 557.9 160.2 558.4 159.9 558.9 159.7 559.4 159.4 559.9 159.6 560.4 159.6 560.9 160.1 561.4 160 561.9 160 562.4 159.9 562.8 160.9 563.3 161.2 563.8 160.3 564.3 159.5 564.8 159.5 565.3 160.2 565.8 159.8 566.3 159.6 566.8 159.7 567.3 160.3 567.8 160.5 568.3 160.7 568.8 160.3 569.3 159.8 569.8 159.2 570.3 159.5 570.8 160.1 571.3 160.8 571.7 160.5 572.2 160.1 572.7 159.5 573.2 159.6 573.7 160 574.2 160.7 574.7 160.5 575.2 160.4 575.7 159.4 576.2 160.3 576.7 160.4 577.2 161.1 577.7 160.5 578.2 160 578.7 159.9 579.2 159.8 579.7 160.3 580.2 160.3 580.6 160.8 581.1 160.6 581.6 160.7 582.1 160.3 582.6 159.2 583.1 159.4 583.6 159.5 584.1 160.3 584.6 159.9 585.1 159.4 585.6 159.9 586.1 159.6 586.6 159.9 587.1 158.7 587.6 157.6 588.1 155.7 588.6 154.6 589.1 154.6 589.5 155.7 590 156.9 590.5 158.1 591 158.7 591.5 159.9 592 159.9 592.5 159.9 593 160.2 593.5 160.3 594 160 594.5 159.6 595 159.4 595.5 159.9 596 159.5 596.5 159.9 597 160.1 597.5 160.4 598 160.4 598.4 160.4 598.9 160.5 599.4 160.1 599.9 160.1 600.4 160.2 600.9 160.7 601.4 160.5 601.9 160.7 602.4 160.3 602.9 160.3 603.4 159.3 603.9 159.6 604.4 160 604.9 160.3 605.4 160.1 605.9 159.6 606.4 159.6 606.9 159.8 607.3 160.5 607.8 160.5 608.3 160.4 608.8 159.7 609.3 159.6 609.8 159.3 610.3 159.3 610.8 159.5 611.3 160.2 611.8 160.7 612.3 160.5 612.8 160.5 613.3 160.1 613.8 159.9 614.3 159.3 614.8 159.4 615.3 159.7 615.8 159.9 616.2 160.3 616.7 160.1 617.2 160.4 617.7 159.9 618.2 160.6 618.7 160.2 619.2 160.3 619.7 159.6 620.2 159.7 620.7 159.9 621.2 159.5 621.7 159.2 622.2 159.2 622.7 159.1 623.2 159.7 623.7 159.6 624.2 159.9 624.7 160.1 625.1 160.1 625.6 160.4 626.1 159.9 626.6 160.2 627.1 160.5 627.6 161.1 628.1 160.8 628.6 160.3 629.1 159.8 629.6 160 630.1 159.9 630.6 160 631.1 159.5 631.6 158.5 632.1 156.4 632.6 153.5 633.1 149.7 633.6 146.8 634 146.2 634.5 148.5 635 152.5 635.5 155.7 636 158.3 636.5 158.5 637 159.6 637.5 159.7 638 160.3 638.5 159.6 639 159.7 639.5 160 640 159.8 640.5 159.4 641 158 641.5 155.4 642 149.6 642.5 142.1 642.9 134.4 643.4 130.6 643.9 132.4 644.4 139 644.9 147.1 645.4 153.4 645.9 157.4 646.4 158.8 646.9 159.7 647.4 159.8 647.9 160.6 648.4 160.7 648.9 160.5 649.4 160.1 649.9 160.3 650.4 160.5 650.9 160.6 651.4 160.4 651.8 160.2 652.3 160.1 652.8 159 653.3 156.5 653.8 151.1 654.3 140.6 654.8 126.9 655.3 113.7 655.8 107.8 656.3 112.5 656.8 125.3 657.3 139.9 657.8 150.6 658.3 156.8 658.8 159.1 659.3 159.9 659.8 160.1 660.3 160.6 660.7 160.4 661.2 160.4 661.7 159.5 662.2 160.1 662.7 159.7 663.2 160.9 663.7 160.6 664.2 160.7 664.7 159.2 665.2 157.1 665.7 151.9 666.2 141.4 666.7 126.6 667.2 111.9 667.7 104.2 668.2 108.4 668.7 121.1 669.2 136.3 669.6 148.1 670.1 155.1 670.6 158.9 671.1 159.7 671.6 160 672.1 159.8 672.6 159.7 673.1 159.3 673.6 159.1 674.1 159.8 674.6 160.1 675.1 159.9 675.6 158.6 676.1 155.9 676.6 149.3 677.1 138.1 677.6 125 678.1 115.9 678.5 115.2 679 123.4 679.5 135.9 680 147.2 680.5 154.8 681 158.7 681.5 160.1 682 160.1 682.5 159.1 683 159.7 683.5 160 684 161 684.5 160.3 685 160.4 685.5 160.2 686 160 686.5 160 687 160 687.4 159.8 687.9 159.4 688.4 159.8 688.9 159.7 689.4 160.1 689.9 159.6 690.4 160.3 690.9 160.2 691.4 160.5 691.9 160.2 692.4 160.3 692.9 160.4 693.4 160.7 693.9 160.5 694.4 160.7 694.9 160.4 695.4 160.6 695.9 159.8 696.3 159.7 696.8 159.4 697.3 159.4 697.8 159.9 698.3 160.2 698.8 160.8 699.3 160.8 699.8 160.7 700.3 160.9 700.8 160.7 701.3 160.2 701.8 159.5 702.3 159.2 702.8 159.7 703.3 160.1 703.8 160.4 704.3 160.4 704.8 160.4 705.2 160.2 705.7 160 706.2 159.9 706.7 160.1 707.2 160.2 707.7 159.9 708.2 159.5 708.7 159.6 709.2 160.1 709.7 160.1 710.2 159.3 710.7 159.2 711.2 159.8 711.7 160.8 712.2 160.6 712.7 160.3 713.2 160.1 713.7 159.8 714.1 160.1 714.6 160.2 715.1 160.7 715.6 160.2 716.1 159.7 716.6 159 717.1 159.6 717.6 159.5 718.1 159.8 718.6 159.4 719.1 159.6 719.6 159.8 720.1 160 720.6 160.6 721.1 160.6 721.6 160.6 722.1 160.5 722.6 160.4 723 160 723.5 159.8 724 160.1 724.5 160.6 725 160.5 725.5 159.7 726 159.5 726.5 159.5 727 160.3"/>
<path d="M549.5 175.7 550 175.5 550.5 175.6 551 175.8 551.5 176 552 176.3 552.5 176.4 553 176.2 553.5 176.1 553.9 175.8 554.4 175.7 554.9 175.4 555.4 175.4 555.9 175.6 556.4 175.9 556.9 176.4 557.4 176 557.9 176.1 558.4 175.9 558.9 175.8 559.4 175.9 559.9 176 560.4 176.4 560.9 176.3 561.4 160.1 561.9 160.1 562.4 159.8 562.8 159.9 563.3 159.8 563.8 160 564.3 159.8 564.8 159.7 565.3 176 565.8 176.2 566.3 176.4 566.8 176.4 567.3 177 567.8 176.9 568.3 176.7 568.8 175.9 569.3 176 569.8 175.9 570.3 176.1 570.8 176.1 571.3 176.2 571.7 176.3 572.2 176.1 572.7 176 573.2 175.8 573.7 175.9 574.2 175.4 574.7 171.3 575.2 157.2 575.7 142.9 576.2 148.6 576.7 166 577.2 174.3 577.7 176 578.2 176 578.7 176.4 579.2 176.5 579.7 176.3 580.2 176.1 580.6 176.2 581.1 176.1 581.6 176 582.1 175.9 582.6 175.9 583.1 175.9 583.6 176 584.1 176 584.6 176 585.1 175.7 585.6 176 586.1 175.9 586.6 175.8 587.1 175.6 587.6 175.6 588.1 175.7 588.6 175.6 589.1 175.7 589.5 175.7 590 175.9 590.5 175.6 591 175.8 591.5 175.6 592 176.2 592.5 175.9 593 175.8 593.5 175.9 594 175.6 594.5 176.1 595 176 595.5 176.3 596 176.3 596.5 176 597 175.9 597.5 176.3 598 176.7 598.4 177 598.9 176.3 599.4 176.3 599.9 176.3 600.4 176.2 600.9 176.2 601.4 160 601.9 160.4 602.4 160 602.9 159.8 603.4 159.8 603.9 160.4 604.4 161 604.9 160.6 605.4 160.3 605.9 159.7 606.4 160.2 606.9 160.3 607.3 160.5 607.8 160 608.3 159.9 608.8 160.1 609.3 160.2 609.8 176.1 610.3 175.8 610.8 175.9 611.3 176.1 611.8 176.2 612.3 176.6 612.8 176.4 613.3 176.2 613.8 175.6 614.3 175.9 614.8 176.4 615.3 176.2 615.8 176.2 616.2 175.9 616.7 176.1 617.2 176.1 617.7 176.1 618.2 175.8 618.7 175.8 619.2 175.4 619.7 175.7 620.2 175.5 620.7 175.7 621.2 175.6 621.7 175.4 622.2 175.5 622.7 175.8 623.2 175.7 623.7 159.8 624.2 159.9 624.7 160 625.1 159.9 625.6 159.7 626.1 159.9 626.6 159.9 627.1 159.5 627.6 159.5 628.1 159.9 628.6 160.4 629.1 176.3 629.6 176.1 630.1 176.1 630.6 176 631.1 175.9 631.6 175.8 632.1 175.9 632.6 176.1 633.1 176.2 633.6 176.3 634 176.5 634.5 176.3 635 176.2 635.5 176.1 636 176.1 636.5 160.1 637 160.1 637.5 160.3 638 160.4 638.5 160 639 160.2 639.5 160.1 640 160.2 640.5 176.1 641 176.3 641.5 176.6 642 176.8 642.5 176.4 642.9 176.2 643.4 176.1 643.9 176.4 644.4 176.4 644.9 176.2 645.4 176 645.9 175.1 646.4 172.8 646.9 167.2 647.4 157.8 647.9 145.6 648.4 135.3 648.9 132.5 649.4 137.9 649.9 149.5 650.4 160.8 650.9 169.6 651.4 174 651.8 175.8 652.3 176.2 652.8 176.2 653.3 176.2 653.8 176 654.3 175.6 654.8 175.2 655.3 175.3 655.8 175.3 656.3 175.4 656.8 175.5 657.3 176 657.8 176.3 658.3 175.7 658.8 175.3 659.3 174.1 659.8 170.8 660.3 163.7 660.7 152.5 661.2 139.9 661.7 131.2 662.2 131.7 662.7 140.9 663.2 153.5 663.7 164.5 664.2 171 664.7 174.5 665.2 175.4 665.7 175.9 666.2 176.4 666.7 176.6 667.2 176.8 667.7 176.4 668.2 176 668.7 175.8 669.2 175.8 669.6 176.3 670.1 175.6 670.6 173.5 671.1 168.2 671.6 159.2 672.1 147.3 672.6 137.2 673.1 133.8 673.6 139.6 674.1 150.3 674.6 161.6 675.1 169.6 675.6 173.9 676.1 175.8 676.6 175.8 677.1 175.9 677.6 175.8 678.1 175.7 678.5 175.8 679 175.8 679.5 175.9 680 174.6 680.5 170.3 681 160.2 681.5 145.8 682 135.1 682.5 137.9 683 142.9 683.5 146.9 684 150.2 684.5 153.6 685 156.4 685.5 159 686 161 686.5 163.3 687 165.2 687.4 166.9 687.9 168.2 688.4 169 688.9 169.5 689.4 170.2 689.9 170.8 690.4 171.3 690.9 171.6 691.4 172.2 691.9 173.2 692.4 173.5 692.9 174 693.4 174.5 693.9 175.5 694.4 175.3 694.9 175.4 695.4 175.2 695.9 175.6 696.3 175.1 696.8 175.4 697.3 175.5 697.8 175.8 698.3 175.3 698.8 175.4 699.3 175.4 699.8 175.8 700.3 175.6 700.8 175.5 701.3 175.5 701.8 175.7 702.3 176.2 702.8 176.1 703.3 176.4 703.8 176.2 704.3 160 704.8 159.4 705.2 159.3 705.7 159.5 706.2 160 706.7 159.9 707.2 159.9 707.7 159.7 708.2 159.5 708.7 159.4 709.2 159.7 709.7 159.8 710.2 160.1 710.7 160.3 711.2 160.3 711.7 175.8 712.2 175.1 712.7 175.4 713.2 176.5 713.7 176.9 714.1 176.7 714.6 176.1 715.1 175.7 715.6 176 716.1 175.8 716.6 176 717.1 175.8 717.6 176.2 718.1 176.3 718.6 176.3 719.1 176.1 719.6 176.3 720.1 176.5 720.6 176.6 721.1 160.3 721.6 160 722.1 159.7 722.6 159.7 723 159.9 723.5 160 724 160.4 724.5 160.4 725 160.2 725.5 176 726 175.8 726.5 176.3 727 176.2"/>
<path d="M549.5 193.4 550 192.9 550.5 192.7 551 192.7 551.5 193 552 193.1 552.5 193.2 553 192.7 553.5 192.6 553.9 192 554.4 192 554.9 191.9 555.4 192.3 555.9 192.3 556.4 192.4 556.9 192.8 557.4 192.8 557.9 192.7 558.4 192.3 558.9 192.4 559.4 192.6 559.9 192.6 560.4 192.6 560.9 192.1 561.4 192.2 561.9 192.3 562.4 192.4 562.8 192.4 563.3 192.2 563.8 192.1 564.3 191 564.8 188 565.3 182.5 565.8 182.1 566.3 183.8 566.8 185.2 567.3 186.2 567.8 187.1 568.3 188.1 568.8 189 569.3 189.5 569.8 189.9 570.3 190.1 570.8 190.7 571.3 190.8 571.7 190.9 572.2 191.1 572.7 191.7 573.2 192.2 573.7 192.5 574.2 192.8 574.7 192.8 575.2 192.5 575.7 192.1 576.2 192 576.7 192 577.2 192.1 577.7 192.3 578.2 192.6 578.7 192.7 579.2 192.4 579.7 192.1 580.2 192.4 580.6 192.8 581.1 192.7 581.6 192.5 582.1 192 582.6 192.4 583.1 192.6 583.6 192.5 584.1 192.4 584.6 192 585.1 192.1 585.6 192.3 586.1 192.6 586.6 192.5 587.1 192.5 587.6 192.4 588.1 192.4 588.6 192.5 589.1 192.6 589.5 192.8 590 192.4 590.5 192.3 591 192.5 591.5 192.6 592 192.6 592.5 192.5 593 192.5 593.5 192.4 594 192.3 594.5 192.2 595 192.4 595.5 192.5 596 192.7 596.5 192.5 597 192.6 597.5 192.4 598 192.3 598.4 192.4 598.9 192.8 599.4 192.8 599.9 192.8 600.4 192.7 600.9 192.7 601.4 192.6 601.9 192.2 602.4 192.2 602.9 192 603.4 192.1 603.9 191.9 604.4 192.1 604.9 192.2 605.4 192.5 605.9 192.6 606.4 192.6 606.9 192.5 607.3 192.2 607.8 191.9 608.3 191.8 608.8 191.9 609.3 192.3 609.8 192.8 610.3 192.9 610.8 192.8 611.3 192.2 611.8 191.8 612.3 191.8 612.8 191.8 613.3 192 613.8 192 614.3 192.1 614.8 192.2 615.3 192 615.8 192.3 616.2 192.8 616.7 193 617.2 192.7 617.7 192.1 618.2 192.2 618.7 192.3 619.2 192.6 619.7 192.4 620.2 192.6 620.7 192.7 621.2 192.6 621.7 192.7 622.2 192.8 622.7 192.8 623.2 192.6 623.7 192.7 624.2 192.6 624.7 192.9 625.1 192.6 625.6 192.8 626.1 192.2 626.6 192.2 627.1 192 627.6 192.3 628.1 192.3 628.6 192.6 629.1 192.6 629.6 192.8 630.1 192.7 630.6 192.7 631.1 192.4 631.6 192.2 632.1 192.3 632.6 192.3 633.1 192.6 633.6 192.5 634 192.5 634.5 192.3 635 192.4 635.5 192.5 636 192.6 636.5 192.6 637 192.5 637.5 192.7 638 192.5 638.5 192.5 639 192.1 639.5 192.5 640 192.7 640.5 192.8 641 192.5 641.5 192.4 642 192.1 642.5 192.2 642.9 192.6 643.4 193 643.9 193 644.4 192.6 644.9 192.7 645.4 192.7 645.9 192.7 646.4 192.6 646.9 192.6 647.4 192.2 647.9 192.1 648.4 191.8 648.9 192.1 649.4 192.2 649.9 192.5 650.4 192.6 650.9 192.5 651.4 192.9 651.8 192.8 652.3 192.9 652.8 192.3 653.3 192.4 653.8 192.3 654.3 192.7 654.8 192.7 655.3 192.7 655.8 192.7 656.3 192.3 656.8 192.1 657.3 191.1 657.8 189.6 658.3 188.2 658.8 188.4 659.3 190.1 659.8 191.4 660.3 192 660.7 192.1 661.2 192.3 661.7 192.5 662.2 192.6 662.7 192.8 663.2 192.6 663.7 192.4 664.2 192.4 664.7 192.5 665.2 192.9 665.7 192.8 666.2 192.5 666.7 192.4 667.2 192.3 667.7 192.9 668.2 192.9 668.7 192.8 669.2 192.5 669.6 192.8 670.1 192.8 670.6 192.7 671.1 192.1 671.6 192.3 672.1 192.3 672.6 192.7 673.1 192.6 673.6 192.8 674.1 192.6 674.6 192.5 675.1 192.2 675.6 192.5 676.1 192.5 676.6 192.4 677.1 192.4 677.6 192.5 678.1 192.5 678.5 192.5 679 192.6 679.5 192.7 680 192.7 680.5 192.8 681 192.9 681.5 192.8 682 192.5 682.5 192.3 683 193 683.5 193.3 684 193.3 684.5 192.4 685 192 685.5 192.1 686 192.4 686.5 192.7 687 192.3 687.4 192.2 687.9 192.3 688.4 192.5 688.9 192.4 689.4 192.5 689.9 192.8 690.4 192.8 690.9 192.3 691.4 192.4 691.9 192.6 692.4 192.6 692.9 192.3 693.4 192.5 693.9 192.6 694.4 192.6 694.9 192.3 695.4 192.5 695.9 192.2 696.3 192.2 696.8 192.3 697.3 192.8 697.8 193.2 698.3 193.1 698.8 193.1 699.3 192.2 699.8 192.1 700.3 192 700.8 192.3 701.3 192.3 701.8 192.4 702.3 192.3 702.8 192.3 703.3 191.9 703.8 192 704.3 192.2 704.8 192.5 705.2 192.8 705.7 192.7 706.2 192.5 706.7 192.5 707.2 192.6 707.7 192.4 708.2 192.1 708.7 192 709.2 192.4 709.7 192.7 710.2 192.9 710.7 192.9 711.2 192.9 711.7 192.7 712.2 192.6 712.7 192.3 713.2 192.5 713.7 192.5 714.1 192.3 714.6 192.1 715.1 192.2 715.6 192.1 716.1 192 716.6 192.1 717.1 192.4 717.6 192.6 718.1 192.5 718.6 192.5 719.1 192.5 719.6 192.7 720.1 192.7 720.6 192.5 721.1 192.4 721.6 192.6 722.1 192.6 722.6 192.3 723 192.1 723.5 192.3 724 192.5 724.5 192.7 725 192.7 725.5 192.6 726 192.9 726.5 193.2 727 193.2"/>
<path d="M549.5 207.7 550 207.6 550.5 207.6 551 207.6 551.5 207.5 552 207.3 552.5 207.4 553 207.2 553.5 207.1 553.9 206.8 554.4 206.4 554.9 206.5 555.4 206.6 555.9 206.7 556.4 206.9 556.9 206.6 557.4 206.5 557.9 206.6 558.4 206.2 558.9 206.3 559.4 205.9 559.9 205.6 560.4 205.8 560.9 205.6 561.4 205.7 561.9 205.8 562.4 205.3 562.8 205.4 563.3 205.2 563.8 205.3 564.3 205.4 564.8 205.5 565.3 205.7 565.8 205.7 566.3 206.1 566.8 206.2 567.3 206.2 567.8 206.3 568.3 206.2 568.8 206.3 569.3 206.5 569.8 206.5 570.3 206.6 570.8 206.7 571.3 206.7 571.7 206.8 572.2 206.7 572.7 206.6 573.2 206.6 573.7 206.5 574.2 206.8 574.7 206.8 575.2 206.9 575.7 207.2 576.2 207.1 576.7 207.4 577.2 207.2 577.7 207.2 578.2 207.5 578.7 207.5 579.2 207.8 579.7 208 580.2 207.7 580.6 207.4 581.1 207.2 581.6 207.1 582.1 207.3 582.6 207.2 583.1 207.2 583.6 207.6 584.1 207.5 584.6 207.7 585.1 208 585.6 207.6 586.1 207.4 586.6 207.4 587.1 207.4 587.6 207.9 588.1 208.1 588.6 208.2 589.1 208.2 589.5 208.2 590 208.3 590.5 208.2 591 208 591.5 207.8 592 207.6 592.5 207.6 593 207.6 593.5 207.4 594 207.5 594.5 207.4 595 207.6 595.5 207.6 596 207.4 596.5 207.3 597 207.1 597.5 207.3 598 207.5 598.4 207.6 598.9 207.5 599.4 207.9 599.9 207.4 600.4 207.6 600.9 207.7 601.4 207.4 601.9 207.7 602.4 207.4 602.9 207.5 603.4 206.9 603.9 206.5 604.4 205.8 604.9 205 605.4 204.7 605.9 204.7 606.4 205.2 606.9 205.6 607.3 206.3 607.8 207 608.3 207.4 608.8 207.9 609.3 207.9 609.8 207.7 610.3 207.8 610.8 207.6 611.3 207.6 611.8 207.5 612.3 207.4 612.8 207.3 613.3 207.3 613.8 207.5 614.3 207.4 614.8 207.2 615.3 207.4 615.8 207.2 616.2 207.3 616.7 207.4 617.2 207.2 617.7 207.3 618.2 207.3 618.7 207.4 619.2 207.4 619.7 207.3 620.2 207.5 620.7 207.3 621.2 206.8 621.7 206.1 622.2 204.8 622.7 204 623.2 203.5 623.7 203.8 624.2 204.5 624.7 205.5 625.1 206.5 625.6 207.2 626.1 207.7 626.6 207.9 627.1 207.9 627.6 207.9 628.1 207.9 628.6 207.5 629.1 207.5 629.6 207.5 630.1 207.3 630.6 207.6 631.1 207.3 631.6 207.2 632.1 207.4 632.6 207.5 633.1 207.6 633.6 207.7 634 207.6 634.5 207.6 635 207.5 635.5 207.6 636 207.7 636.5 207.6 637 207.9 637.5 207.8 638 207.8 638.5 208 639 208.1 639.5 207.8 640 207.8 640.5 207.7 641 207.5 641.5 207.4 642 207.4 642.5 207.7 642.9 207.5 643.4 207.9 643.9 207.8 644.4 207.5 644.9 207.4 645.4 207.2 645.9 207.3 646.4 207.1 646.9 206.9 647.4 207 647.9 206.8 648.4 207 648.9 207.3 649.4 207.4 649.9 207.7 650.4 207.6 650.9 207.6 651.4 207.5 651.8 207.1 652.3 207.1 652.8 207 653.3 207.1 653.8 207.4 654.3 207.3 654.8 207.7 655.3 207.8 655.8 207.9 656.3 208 656.8 207.7 657.3 207.4 657.8 207.2 658.3 207.4 658.8 207.2 659.3 206.7 659.8 206.7 660.3 206.5 660.7 206.8 661.2 207.1 661.7 207.1 662.2 207.3 662.7 207.3 663.2 207.6 663.7 207.7 664.2 207.9 664.7 208 665.2 207.6 665.7 207.5 666.2 207.2 666.7 206.9 667.2 207.4 667.7 207.5 668.2 207.8 668.7 207.9 669.2 207.8 669.6 207.7 670.1 207.6 670.6 207.5 671.1 207.5 671.6 207.5 672.1 207.3 672.6 207 673.1 206.8 673.6 206.8 674.1 207 674.6 207.2 675.1 207.2 675.6 207 676.1 206.8 676.6 206.9 677.1 207.1 677.6 207.5 678.1 207.5 678.5 207.5 679 207.6 679.5 207.4 680 207.6 680.5 207.7 681 207.4 681.5 207.4 682 207 682.5 206.9 683 207.3 683.5 207.2 684 207.2 684.5 207.2 685 207.1 685.5 207.4 686 207.7 686.5 207.9 687 208 687.4 207.4 687.9 207.6 688.4 207.2 688.9 207.3 689.4 207.5 689.9 207.4 690.4 207.4 690.9 207.3 691.4 207.3 691.9 207.5 692.4 207.9 692.9 207.9 693.4 207.9 693.9 207.7 694.4 207.3 694.9 207.2 695.4 207.3 695.9 207.3 696.3 207.4 696.8 207.6 697.3 207.8 697.8 208 698.3 208 698.8 207.9 699.3 207.6 699.8 207.7 700.3 207.4 700.8 207.6 701.3 207.6 701.8 207.3 702.3 207.4 702.8 207.4 703.3 207.4 703.8 207.6 704.3 207.6 704.8 207.6 705.2 207.4 705.7 207.6 706.2 207.8 706.7 207.9 707.2 208 707.7 208 708.2 208 708.7 207.7 709.2 207.6 709.7 207.4 710.2 207.4 710.7 207.9 711.2 207.9 711.7 207.9 712.2 207.9 712.7 207.5 713.2 207.4 713.7 207.2 714.1 207.4 714.6 207.6 715.1 207.6 715.6 207.9 716.1 207.4 716.6 207.3 717.1 207.4 717.6 207.3 718.1 207.6 718.6 207.8 719.1 207.7 719.6 207.7 720.1 207.7 720.6 207.4 721.1 207.9 721.6 207.8 722.1 207.6 722.6 207.7 723 207.4 723.5 207.4 724 207.8 724.5 207.8 725 207.9 725.5 207.9 726 207.5 726.5 207.4 727 207.3"/>
<path d="M549.5 312.3 550 312.3 550.5 312 551 312.2 551.5 312.6 552 312.7 552.5 312.6 553 312.7 553.5 312.4 553.9 312.6 554.4 312.1 554.9 312.1 555.4 311.8 555.9 311.9 556.4 312.1 556.9 312.6 557.4 313.1 557.9 312.6 558.4 309.8 558.9 294.5 559.4 260.6 559.9 230.5 560.4 244.7 560.9 260.8 561.4 273.2 561.9 282.9 562.4 289.9 562.8 295.5 563.3 299.5 563.8 302.7 564.3 305.1 564.8 307.1 565.3 308.2 565.8 308.9 566.3 309.5 566.8 310.5 567.3 311.1 567.8 311.8 568.3 312.2 568.8 312.4 569.3 312.5 569.8 312.5 570.3 312.7 570.8 312.6 571.3 312.5 571.7 312.6 572.2 312.3 572.7 312.6 573.2 312.3 573.7 312.9 574.2 312.4 574.7 312.5 575.2 312.1 575.7 312.2 576.2 312.4 576.7 312.3 577.2 312.3 577.7 312.2 578.2 312.5 578.7 312.6 579.2 312.5 579.7 312.2 580.2 311.8 580.6 311.8 581.1 312 581.6 312.1 582.1 312.3 582.6 312.1 583.1 312.2 583.6 312.5 584.1 312.6 584.6 312.8 585.1 312.4 585.6 312.4 586.1 312.3 586.6 312.3 587.1 312.2 587.6 312.4 588.1 312.8 588.6 313.1 589.1 312.9 589.5 312.1 590 311.9 590.5 311.8 591 312.2 591.5 312.7 592 313.1 592.5 313.1 593 312.7 593.5 312.6 594 312.5 594.5 312.4 595 312.4 595.5 312.5 596 312.8 596.5 312.5 597 312.8 597.5 312.5 598 312.6 598.4 312.6 598.9 312.8 599.4 312.7 599.9 312.5 600.4 312.5 600.9 312.7 601.4 312.3 601.9 312.1 602.4 312.2 602.9 312.1 603.4 308.8 603.9 295.1 604.4 272.8 604.9 265 605.4 276.4 605.9 285 606.4 291.6 606.9 296.8 607.3 300.3 607.8 303.4 608.3 305.6 608.8 307.4 609.3 308.4 609.8 309.7 610.3 310.3 610.8 311 611.3 311.2 611.8 311.8 612.3 311.5 612.8 311.7 613.3 311.3 613.8 311.8 614.3 312 614.8 312.2 615.3 312.2 615.8 312.1 616.2 312.1 616.7 312.2 617.2 312.4 617.7 312.7 618.2 312.4 618.7 312.2 619.2 311.9 619.7 312.2 620.2 312.3 620.7 312.8 621.2 312.8 621.7 312.8 622.2 312.6 622.7 312.8 623.2 312.8 623.7 312.8 624.2 312.5 624.7 312.4 625.1 312.4 625.6 312.4 626.1 312.1 626.6 312.1 627.1 312.3 627.6 312.9 628.1 313.1 628.6 313.1 629.1 312.5 629.6 311.9 630.1 311.7 630.6 312.1 631.1 312.3 631.6 312.7 632.1 312.6 632.6 313 633.1 312.7 633.6 312.4 634 311.4 634.5 308.8 635 298.9 635.5 281.4 636 272.4 636.5 281.9 637 288.7 637.5 294.1 638 298.5 638.5 301.7 639 304.3 639.5 306.3 640 307.5 640.5 308.7 641 309.4 641.5 310.6 642 310.7 642.5 311.2 642.9 311.4 643.4 312 643.9 311.9 644.4 312.2 644.9 312.5 645.4 312.7 645.9 312.6 646.4 312.3 646.9 312.4 647.4 312.5 647.9 312.5 648.4 312.4 648.9 312.1 649.4 312.2 649.9 312.6 650.4 312.8 650.9 312.8 651.4 312.5 651.8 312.4 652.3 312.4 652.8 312.2 653.3 312.4 653.8 312 654.3 312.5 654.8 312.8 655.3 313.3 655.8 312.5 656.3 312.2 656.8 312 657.3 312.5 657.8 312.5 658.3 312.4 658.8 312.5 659.3 312 659.8 311.8 660.3 311.8 660.7 312 661.2 312.2 661.7 312.4 662.2 312.3 662.7 312.6 663.2 312.2 663.7 312.4 664.2 312.1 664.7 312 665.2 311.9 665.7 312.2 666.2 312.5 666.7 312.5 667.2 312.5 667.7 312.5 668.2 312.6 668.7 312.6 669.2 312.4 669.6 312.5 670.1 312.4 670.6 312.6 671.1 312.9 671.6 312.7 672.1 312.4 672.6 312.2 673.1 312.2 673.6 312.3 674.1 312.4 674.6 312.4 675.1 312.8 675.6 312.6 676.1 312.7 676.6 312.5 677.1 312.2 677.6 312.4 678.1 312 678.5 312.3 679 312.1 679.5 312.3 680 311.9 680.5 311.9 681 311.7 681.5 312 682 312.1 682.5 312.3 683 312.4 683.5 312.2 684 312 684.5 312 685 312.2 685.5 312.2 686 312.5 686.5 312.5 687 313 687.4 312.9 687.9 312.9 688.4 312.8 688.9 312.9 689.4 312.7 689.9 312.3 690.4 311.9 690.9 311.9 691.4 311.9 691.9 311.9 692.4 311.9 692.9 310.6 693.4 306.8 693.9 299.7 694.4 297.1 694.9 300.4 695.4 303.1 695.9 305.5 696.3 307.1 696.8 308.4 697.3 309.5 697.8 310.2 698.3 310.7 698.8 310.9 699.3 311.7 699.8 312.4 700.3 312.5 700.8 312 701.3 312.1 701.8 312.3 702.3 312.6 702.8 312.2 703.3 312.1 703.8 312.3 704.3 312.5 704.8 312.3 705.2 312.2 705.7 311.9 706.2 312.5 706.7 312.4 707.2 312.5 707.7 312 708.2 311.9 708.7 311.7 709.2 311.8 709.7 312 710.2 312.1 710.7 312.2 711.2 312.4 711.7 312.8 712.2 313 712.7 313 713.2 312.4 713.7 312.3 714.1 312.1 714.6 312.3 715.1 311.8 715.6 312 716.1 310.8 716.6 306.4 717.1 290.3 717.6 265.2 718.1 258.8 718.6 271.6 719.1 281.6 719.6 288.6 720.1 294.4 720.6 299.2 721.1 303 721.6 305.6 722.1 307.2 722.6 308 723 309.2 723.5 309.7 724 310.5 724.5 310.5 725 311 725.5 311.2 726 311.9 726.5 312 727 312"/>
<path d="M549.5 323.6 550 323.5 550.5 323.6 551 324 551.5 324.1 552 324.1 552.5 324 553 324.2 553.5 323.9 553.9 323.8 554.4 323.6 554.9 323.6 555.4 324 555.9 324.1 556.4 324.3 556.9 323.7 557.4 323.6 557.9 323.3 558.4 321.7 558.9 315 559.4 298.9 559.9 284.8 560.4 291.1 560.9 298.8 561.4 304.7 561.9 309.4 562.4 312.9 562.8 315.8 563.3 317.9 563.8 319.1 564.3 319.8 564.8 320.6 565.3 321.1 565.8 322.1 566.3 322.8 566.8 323.3 567.3 323.2 567.8 322.8 568.3 322.9 568.8 323.3 569.3 324.2 569.8 323.9 570.3 324.1 570.8 323.5 571.3 323.6 571.7 323.6 572.2 323.9 572.7 324 573.2 323.5 573.7 323.5 574.2 323.8 574.7 324 575.2 323.7 575.7 323.7 576.2 323.9 576.7 323.9 577.2 323.7 577.7 323.7 578.2 323.9 578.7 323.9 579.2 323.5 579.7 323.5 580.2 323.6 580.6 324.1 581.1 324 581.6 323.9 582.1 323.6 582.6 323.7 583.1 323.7 583.6 323.6 584.1 323.7 584.6 323.9 585.1 323.9 585.6 323.9 586.1 323.8 586.6 323.8 587.1 323.8 587.6 323.8 588.1 324.1 588.6 323.8 589.1 324 589.5 323.6 590 324 590.5 323.9 591 324.2 591.5 323.9 592 323.7 592.5 323.7 593 324.1 593.5 323.9 594 323.8 594.5 323.5 595 323.8 595.5 323.9 596 323.8 596.5 323.7 597 323.4 597.5 323.5 598 323.8 598.4 323.9 598.9 323.9 599.4 323.7 599.9 324.4 600.4 324.6 600.9 324.5 601.4 324 601.9 323.8 602.4 323.7 602.9 323.3 603.4 321.3 603.9 313.2 604.4 299.7 604.9 294.9 605.4 302.3 605.9 307.8 606.4 311.6 606.9 314.3 607.3 316.8 607.8 318.7 608.3 320 608.8 320.5 609.3 321.2 609.8 321.7 610.3 322.4 610.8 323.1 611.3 323.6 611.8 323.4 612.3 323.5 612.8 323.3 613.3 323.9 613.8 324 614.3 324.2 614.8 324.1 615.3 323.9 615.8 324.2 616.2 324 616.7 323.8 617.2 323.9 617.7 323.8 618.2 323.9 618.7 323.5 619.2 324 619.7 323.9 620.2 324.3 620.7 323.9 621.2 324.2 621.7 324.1 622.2 324.2 622.7 324.3 623.2 324.1 623.7 323.8 624.2 323.7 624.7 323.6 625.1 323.7 625.6 323.4 626.1 323.8 626.6 323.8 627.1 324 627.6 323.8 628.1 323.7 628.6 323.6 629.1 323.6 629.6 323.6 630.1 323.8 630.6 323.8 631.1 324 631.6 323.8 632.1 323.6 632.6 323.3 633.1 323.5 633.6 323.7 634 323.2 634.5 320.9 635 313.3 635.5 299.4 636 292.3 636.5 299.7 637 305.7 637.5 310.3 638 313.6 638.5 316.2 639 318.2 639.5 319.6 640 320.8 640.5 321.3 641 321.6 641.5 322 642 322.6 642.5 322.9 642.9 323.1 643.4 322.9 643.9 323.6 644.4 324.1 644.9 324.7 645.4 324.2 645.9 323.7 646.4 323.6 646.9 323.7 647.4 323.9 647.9 323.7 648.4 323.4 648.9 323.8 649.4 323.4 649.9 323.6 650.4 323.3 650.9 323.6 651.4 323.8 651.8 323.6 652.3 323.6 652.8 323.5 653.3 323.8 653.8 323.7 654.3 324 654.8 323.9 655.3 323.8 655.8 323.8 656.3 323.7 656.8 323.8 657.3 323.7 657.8 324 658.3 323.9 658.8 323.9 659.3 323.3 659.8 323.6 660.3 323.4 660.7 323.9 661.2 323.7 661.7 323.6 662.2 323.6 662.7 323.4 663.2 323.7 663.7 323.8 664.2 324 664.7 324.1 665.2 324 665.7 323.6 666.2 323.4 666.7 323.7 667.2 323.7 667.7 323.7 668.2 323.2 668.7 323.3 669.2 323.5 669.6 323.6 670.1 323.9 670.6 323.8 671.1 323.9 671.6 323.9 672.1 323.6 672.6 323.4 673.1 323.4 673.6 323.4 674.1 324 674.6 324 675.1 324.2 675.6 323.7 676.1 323.4 676.6 323.4 677.1 323.3 677.6 323.5 678.1 323.4 678.5 323.7 679 323.7 679.5 323.7 680 323.6 680.5 323.8 681 323.7 681.5 323.8 682 323.6 682.5 324.3 683 324.3 683.5 324.6 684 324 684.5 324.1 685 323.9 685.5 324 686 324.2 686.5 324.1 687 324.3 687.4 324.1 687.9 323.9 688.4 323.4 688.9 323.1 689.4 323.3 689.9 323.7 690.4 323.9 690.9 323.6 691.4 323.6 691.9 323.4 692.4 323.6 692.9 323.4 693.4 321.5 693.9 317.5 694.4 315.5 694.9 316.5 695.4 317.8 695.9 319.1 696.3 320.4 696.8 321.3 697.3 321.6 697.8 321.8 698.3 322.1 698.8 322.2 699.3 322 699.8 322.4 700.3 323 700.8 323.4 701.3 323.3 701.8 323.6 702.3 323.2 702.8 323.1 703.3 322.7 703.8 323.6 704.3 323.7 704.8 324.1 705.2 323.7 705.7 323.7 706.2 323.5 706.7 323.5 707.2 323.7 707.7 323.7 708.2 324.2 708.7 324 709.2 324.1 709.7 323.2 710.2 323.3 710.7 323.7 711.2 323.9 711.7 324.1 712.2 323.8 712.7 324.1 713.2 323.8 713.7 323.2 714.1 323.3 714.6 323.5 715.1 323.8 715.6 323.8 716.1 323.5 716.6 320.8 717.1 311.1 717.6 295.6 718.1 291.8 718.6 299.4 719.1 305.4 719.6 309.3 720.1 312.8 720.6 315.5 721.1 317.7 721.6 319.3 722.1 320.4 722.6 321.4 723 322.1 723.5 322.7 724 323 724.5 323.3 725 323.5 725.5 323.8 726 323.6 726.5 323.5 727 323.4"/>
<path d="M549.5 335 550 335.2 550.5 335.3 551 335.4 551.5 335.3 552 335.1 552.5 335 553 334.7 553.5 334.6 553.9 334.8 554.4 335.1 554.9 335.4 555.4 335.1 555.9 335.1 556.4 335.2 556.9 335.6 557.4 335.4 557.9 335.4 558.4 335.3 558.9 333.5 559.4 329.2 559.9 325 560.4 326 560.9 327.3 561.4 328.5 561.9 329.6 562.4 330.7 562.8 331.9 563.3 332.8 563.8 333.1 564.3 333 564.8 333 565.3 333.5 565.8 333.8 566.3 334 566.8 334 567.3 334.4 567.8 334.7 568.3 335 568.8 335 569.3 334.6 569.8 334.1 570.3 334.3 570.8 334.5 571.3 334.9 571.7 334.9 572.2 334.9 572.7 334.8 573.2 335 573.7 334.8 574.2 335 574.7 335 575.2 334.9 575.7 335.1 576.2 334.9 576.7 335.5 577.2 335.1 577.7 335.6 578.2 335.4 578.7 335.9 579.2 335.1 579.7 334.8 580.2 334.4 580.6 334.8 581.1 335 581.6 334.7 582.1 334.5 582.6 334.8 583.1 334.9 583.6 335.2 584.1 335.2 584.6 335.5 585.1 335.2 585.6 335 586.1 335 586.6 335.2 587.1 335.6 587.6 335.4 588.1 334.5 588.6 332.9 589.1 331.4 589.5 331.2 590 331.9 590.5 333.5 591 334.1 591.5 334.9 592 335 592.5 335.4 593 335.2 593.5 335.1 594 334.5 594.5 334.5 595 334.7 595.5 335.2 596 335.2 596.5 334.9 597 334.7 597.5 334.9 598 335.3 598.4 335.7 598.9 335.6 599.4 335.4 599.9 335.2 600.4 335.2 600.9 335.4 601.4 335.8 601.9 335.8 602.4 335.5 602.9 335 603.4 333.2 603.9 327.2 604.4 317.3 604.9 314.1 605.4 319.4 605.9 323 606.4 325.9 606.9 327.9 607.3 329.7 607.8 331.2 608.3 332.2 608.8 333.4 609.3 333.8 609.8 334.2 610.3 334.3 610.8 334.6 611.3 334.6 611.8 334.7 612.3 334.7 612.8 334.7 613.3 334.8 613.8 335.1 614.3 335.6 614.8 335.6 615.3 335.7 615.8 335.3 616.2 335.4 616.7 335.1 617.2 335.2 617.7 335.1 618.2 335.3 618.7 335.2 619.2 335.1 619.7 334.8 620.2 334.7 620.7 334.9 621.2 335.1 621.7 334.9 622.2 334.8 622.7 334.7 623.2 334.9 623.7 335.1 624.2 335.2 624.7 335.3 625.1 335.2 625.6 334.9 626.1 334.9 626.6 334.7 627.1 335.1 627.6 335.2 628.1 335.4 628.6 335.1 629.1 335 629.6 335 630.1 335 630.6 334.7 631.1 334.7 631.6 334.9 632.1 335.1 632.6 334.8 633.1 334.7 633.6 334.7 634 335 634.5 332.7 635 324.1 635.5 307.3 636 299.3 636.5 307.4 637 314.4 637.5 319.4 638 323.5 638.5 326.6 639 328.8 639.5 330.1 640 331.4 640.5 332.3 641 333 641.5 333.2 642 333.5 642.5 334 642.9 334.2 643.4 334.8 643.9 334.7 644.4 334.9 644.9 334.7 645.4 335.1 645.9 335.2 646.4 335 646.9 335.2 647.4 335.4 647.9 335.8 648.4 335.5 648.9 335.4 649.4 335.1 649.9 335.5 650.4 335.4 650.9 335.5 651.4 335.4 651.8 335.2 652.3 335.1 652.8 335.1 653.3 334.9 653.8 335.1 654.3 335.1 654.8 335.9 655.3 335.4 655.8 335.2 656.3 334.8 656.8 334.9 657.3 334.9 657.8 334.8 658.3 334.7 658.8 334.7 659.3 334.7 659.8 334.9 660.3 335 660.7 334.8 661.2 334.8 661.7 334.8 662.2 335.4 662.7 335.6 663.2 335.8 663.7 335.5 664.2 335.2 664.7 335.1 665.2 335.1 665.7 335.1 666.2 335.1 666.7 334.9 667.2 335.3 667.7 335.1 668.2 335 668.7 334.4 669.2 334.7 669.6 335.2 670.1 335.4 670.6 335.1 671.1 334.9 671.6 335.2 672.1 336.1 672.6 336.1 673.1 335.3 673.6 335 674.1 335.2 674.6 335.6 675.1 335.2 675.6 335 676.1 335.3 676.6 335.3 677.1 335.6 677.6 335.1 678.1 335.1 678.5 334.8 679 335.1 679.5 335.4 680 335.8 680.5 335.6 681 335.5 681.5 335.6 682 335.7 682.5 335.8 683 335.4 683.5 335.4 684 335.3 684.5 335.5 685 335.7 685.5 335.4 686 335.5 686.5 334.9 687 334.9 687.4 334.9 687.9 335.1 688.4 335.2 688.9 334.9 689.4 335.6 689.9 335.7 690.4 335.9 690.9 335.1 691.4 335.3 691.9 335.1 692.4 335.3 692.9 334.9 693.4 333.5 693.9 330.7 694.4 329.4 694.9 330.2 695.4 331.1 695.9 331.7 696.3 332.1 696.8 332.6 697.3 333.3 697.8 333.7 698.3 333.9 698.8 333.6 699.3 334 699.8 333.9 700.3 334.4 700.8 334.1 701.3 334.8 701.8 334.9 702.3 335.7 702.8 335.6 703.3 335.7 703.8 335.2 704.3 335.1 704.8 335.1 705.2 335.3 705.7 334.9 706.2 335.1 706.7 334.6 707.2 334.6 707.7 334.6 708.2 334.9 708.7 335.3 709.2 334.9 709.7 335 710.2 334.5 710.7 334.8 711.2 335 711.7 335.4 712.2 335.4 712.7 335.3 713.2 335.1 713.7 335.1 714.1 335 714.6 335 715.1 335.2 715.6 335.5 716.1 335.5 716.6 334.4 717.1 330.7 717.6 325 718.1 323.4 718.6 325.2 719.1 327.1 719.6 328 720.1 329.5 720.6 330.1 721.1 331.1 721.6 331.4 722.1 332.1 722.6 332.8 723 333.2 723.5 333.5 724 333.5 724.5 333.6 725 333.6 725.5 333.8 726 334.3 726.5 334.5 727 334.9"/>
<path d="M549.5 346.8 550 347.2 550.5 346.6 551 346.5 551.5 346.3 552 346.8 552.5 346.5 553 346.6 553.5 346.8 553.9 347.1 554.4 347.1 554.9 347.2 555.4 347.5 555.9 347.3 556.4 347.1 556.9 346.5 557.4 346.6 557.9 346.6 558.4 346.1 558.9 343.8 559.4 337.8 559.9 333.3 560.4 335.6 560.9 338.4 561.4 340.3 561.9 341.8 562.4 343.1 562.8 343.7 563.3 344 563.8 344.6 564.3 345.4 564.8 345.8 565.3 346 565.8 346.1 566.3 346.2 566.8 346.2 567.3 346.5 567.8 346.6 568.3 346.7 568.8 346.5 569.3 346.7 569.8 346.5 570.3 346.5 570.8 346.4 571.3 346.8 571.7 346.9 572.2 346.9 572.7 346.8 573.2 347 573.7 347.3 574.2 347.4 574.7 347.2 575.2 347 575.7 346.7 576.2 346.7 576.7 346.5 577.2 346.5 577.7 346.9 578.2 347 578.7 346.8 579.2 346.3 579.7 346.4 580.2 346.9 580.6 346.9 581.1 347.1 581.6 347.2 582.1 347.2 582.6 346.8 583.1 346.6 583.6 346.6 584.1 346.9 584.6 346.6 585.1 346.5 585.6 346.4 586.1 346.8 586.6 346.8 587.1 346.4 587.6 345.9 588.1 344.5 588.6 341.7 589.1 338.3 589.5 337 590 338.7 590.5 342.2 591 344.8 591.5 346.2 592 346.6 592.5 346.3 593 346.3 593.5 346.1 594 346.5 594.5 346.6 595 346.9 595.5 347 596 346.8 596.5 346.3 597 346 597.5 346.1 598 346.4 598.4 346.4 598.9 346.5 599.4 346.6 599.9 346.6 600.4 346.3 600.9 346.3 601.4 346.7 601.9 346.9 602.4 346.8 602.9 346.2 603.4 343.5 603.9 333.3 604.4 315.4 604.9 309.1 605.4 317.7 605.9 324.5 606.4 330 606.9 334.2 607.3 337.3 607.8 339.3 608.3 340.9 608.8 342.1 609.3 343.6 609.8 344.4 610.3 345.1 610.8 345.4 611.3 345.7 611.8 346.1 612.3 346.4 612.8 346.8 613.3 346.7 613.8 346.5 614.3 346.1 614.8 346.1 615.3 346.2 615.8 346.6 616.2 346.8 616.7 346.9 617.2 346.4 617.7 346.5 618.2 346.7 618.7 347.3 619.2 346.9 619.7 346.8 620.2 346.5 620.7 346.8 621.2 346.5 621.7 346.9 622.2 346.9 622.7 347 623.2 346.7 623.7 346.8 624.2 346.6 624.7 346.9 625.1 346.9 625.6 346.9 626.1 346.3 626.6 346.2 627.1 346.6 627.6 347.2 628.1 347.3 628.6 347.1 629.1 346.6 629.6 346.3 630.1 346.1 630.6 346.5 631.1 346.5 631.6 346.5 632.1 346.3 632.6 346.4 633.1 346.6 633.6 346.6 634 345.9 634.5 343.1 635 332.4 635.5 313 636 302.8 636.5 312.9 637 321 637.5 327.1 638 332.2 638.5 336.1 639 339 639.5 340.8 640 342.2 640.5 343.3 641 344.2 641.5 344.6 642 345 642.5 345.2 642.9 345.6 643.4 345.9 643.9 346.2 644.4 346.1 644.9 346.2 645.4 346.1 645.9 346.2 646.4 346.2 646.9 346.5 647.4 346.8 647.9 346.7 648.4 346.7 648.9 346.2 649.4 346.8 649.9 347 650.4 347.5 650.9 346.9 651.4 346.8 651.8 346.8 652.3 346.8 652.8 346.8 653.3 346.7 653.8 346.6 654.3 346.3 654.8 346.6 655.3 346.9 655.8 347 656.3 346.8 656.8 346.8 657.3 346.8 657.8 346.7 658.3 346.5 658.8 346.4 659.3 346.5 659.8 346.4 660.3 346.5 660.7 346.4 661.2 346.4 661.7 346.7 662.2 347.1 662.7 347.5 663.2 347 663.7 346.5 664.2 346.2 664.7 346.1 665.2 345.8 665.7 344.7 666.2 343.3 666.7 341.5 667.2 339.9 667.7 338.5 668.2 337.5 668.7 337.5 669.2 337.7 669.6 338.9 670.1 340.4 670.6 342.1 671.1 343.2 671.6 344.5 672.1 345.4 672.6 346.4 673.1 346.5 673.6 346.6 674.1 346.3 674.6 346.4 675.1 346.3 675.6 346.7 676.1 346.9 676.6 347 677.1 347 677.6 346.7 678.1 346.4 678.5 346.4 679 346.4 679.5 346.8 680 346.4 680.5 346.8 681 346.7 681.5 347 682 346.8 682.5 346.9 683 346.8 683.5 347 684 346.6 684.5 347 685 346.6 685.5 346.6 686 346.3 686.5 346.3 687 346.5 687.4 346.6 687.9 346.5 688.4 346.7 688.9 346.7 689.4 347 689.9 346.8 690.4 346.8 690.9 347.2 691.4 347.2 691.9 347.1 692.4 346.3 692.9 345.5 693.4 343 693.9 338.7 694.4 337.3 694.9 338.7 695.4 340 695.9 340.7 696.3 341.5 696.8 342.1 697.3 343 697.8 343.6 698.3 344.1 698.8 344.6 699.3 344.8 699.8 345 700.3 345.2 700.8 345.5 701.3 346 701.8 345.8 702.3 345.8 702.8 345.6 703.3 346 703.8 346.3 704.3 346.6 704.8 346.3 705.2 345.9 705.7 345.8 706.2 346.1 706.7 346.3 707.2 346.3 707.7 346.5 708.2 346.2 708.7 345.9 709.2 344 709.7 341.4 710.2 338.9 710.7 338.7 711.2 340.7 711.7 343.5 712.2 345.5 712.7 346.7 713.2 346.8 713.7 346.7 714.1 346.5 714.6 346.9 715.1 347 715.6 346.8 716.1 346.4 716.6 345.1 717.1 340.1 717.6 332 718.1 329.7 718.6 333.8 719.1 337 719.6 339.9 720.1 341.9 720.6 342.8 721.1 343.1 721.6 343.8 722.1 344.8 722.6 345.2 723 345.4 723.5 345.3 724 345.4 724.5 345.6 725 345.9 725.5 346.5 726 346.6 726.5 346.8 727 346.5"/>
<path d="M549.5 356.1 550 355.8 550.5 355.6 551 355.5 551.5 355.7 552 355.6 552.5 355.1 553 354.4 553.5 354.6 553.9 354.6 554.4 355.3 554.9 355.2 555.4 355.1 555.9 354.8 556.4 355.1 556.9 355.2 557.4 355 557.9 355.1 558.4 354.7 558.9 351.2 559.4 342.9 559.9 335.9 560.4 339.3 560.9 343.2 561.4 346.6 561.9 348.6 562.4 350.3 562.8 351.2 563.3 352.2 563.8 353.1 564.3 353.6 564.8 353.6 565.3 353.6 565.8 354.7 566.3 355.6 566.8 356.2 567.3 356.1 567.8 356 568.3 356.1 568.8 356.5 569.3 356.5 569.8 357.1 570.3 357.2 570.8 358 571.3 358.8 571.7 358.9 572.2 358.9 572.7 358.7 573.2 359 573.7 359.3 574.2 359.1 574.7 359.6 575.2 359.1 575.7 359.5 576.2 359.9 576.7 360 577.2 360.3 577.7 360 578.2 360.5 578.7 360.3 579.2 361 579.7 360.8 580.2 359.8 580.6 359.3 581.1 359.6 581.6 359.6 582.1 359.6 582.6 358.7 583.1 359 583.6 358.2 584.1 358.4 584.6 358.2 585.1 358 585.6 357.8 586.1 357.2 586.6 357.4 587.1 357.1 587.6 357.6 588.1 357.1 588.6 356.9 589.1 356.6 589.5 356.9 590 356.4 590.5 356.3 591 356.2 591.5 356 592 356 592.5 355.7 593 356.2 593.5 356 594 356.7 594.5 356.5 595 357 595.5 356.2 596 356.2 596.5 355.6 597 355.6 597.5 355.3 598 355.9 598.4 356 598.9 355.5 599.4 355.4 599.9 354.9 600.4 355.2 600.9 354.6 601.4 354.9 601.9 354.8 602.4 354.9 602.9 354.4 603.4 352.3 603.9 344.5 604.4 331.2 604.9 326.3 605.4 332.8 605.9 338.4 606.4 342.5 606.9 345.7 607.3 348.2 607.8 350.3 608.3 351.2 608.8 352.3 609.3 353.2 609.8 353.6 610.3 354 610.8 354.1 611.3 354.4 611.8 354.8 612.3 355.7 612.8 355.7 613.3 355.3 613.8 355.3 614.3 355.7 614.8 355.5 615.3 355.4 615.8 354.9 616.2 354.5 616.7 355.2 617.2 355.1 617.7 355.4 618.2 354.9 618.7 354.6 619.2 353.8 619.7 353.7 620.2 353.4 620.7 353.3 621.2 352.6 621.7 352 622.2 351.7 622.7 352.3 623.2 353.1 623.7 354 624.2 355 624.7 354.9 625.1 355.1 625.6 354.9 626.1 354.9 626.6 355.1 627.1 355.5 627.6 355.7 628.1 354.9 628.6 354.6 629.1 354.6 629.6 354.7 630.1 355.2 630.6 355.5 631.1 355.6 631.6 355.2 632.1 355.3 632.6 354.9 633.1 355.4 633.6 355.9 634 355.6 634.5 353.3 635 344.6 635.5 329.1 636 321.6 636.5 330.1 637 336.1 637.5 341.1 638 344.5 638.5 347.5 639 349.4 639.5 351.6 640 352 640.5 352.6 641 353.2 641.5 354 642 355 642.5 356.3 642.9 357.2 643.4 358.2 643.9 358.3 644.4 358.5 644.9 358.6 645.4 358.1 645.9 358.3 646.4 358.9 646.9 359.1 647.4 359.3 647.9 359.6 648.4 359.4 648.9 359.4 649.4 359.2 649.9 359.4 650.4 358.7 650.9 359.4 651.4 359.5 651.8 359.6 652.3 359.4 652.8 359.3 653.3 358.5 653.8 358.1 654.3 358.4 654.8 359 655.3 359 655.8 358.7 656.3 358.8 656.8 358.8 657.3 358.7 657.8 358.4 658.3 358.2 658.8 358 659.3 357.4 659.8 356.8 660.3 357 660.7 356.8 661.2 356.5 661.7 356.8 662.2 356.9 662.7 357 663.2 356.8 663.7 356.7 664.2 356.2 664.7 356.3 665.2 356.3 665.7 356 666.2 356 666.7 355.4 667.2 355.3 667.7 355.7 668.2 355.7 668.7 355.1 669.2 354.7 669.6 355.2 670.1 355.3 670.6 355.6 671.1 355.5 671.6 355.5 672.1 355.5 672.6 355 673.1 355 673.6 354.3 674.1 355 674.6 354.7 675.1 354.9 675.6 354.4 676.1 355 676.6 355.2 677.1 355.1 677.6 354.8 678.1 354.4 678.5 354.8 679 354.9 679.5 355.2 680 355.3 680.5 355.6 681 355.1 681.5 354.8 682 354.8 682.5 355.3 683 355.4 683.5 355.1 684 354.7 684.5 355 685 354.6 685.5 354.8 686 354.5 686.5 354.7 687 354.6 687.4 354.8 687.9 354.7 688.4 355.2 688.9 355 689.4 355 689.9 354.4 690.4 354.2 690.9 354.5 691.4 354.7 691.9 355.1 692.4 354.8 692.9 352.9 693.4 346.2 693.9 334.9 694.4 331 694.9 336.6 695.4 341.6 695.9 344.8 696.3 348 696.8 350 697.3 352 697.8 353.1 698.3 354 698.8 354.8 699.3 355.6 699.8 355.8 700.3 356.5 700.8 357 701.3 358.2 701.8 358 702.3 357.6 702.8 357.3 703.3 357.7 703.8 358.1 704.3 358.5 704.8 358.7 705.2 358.7 705.7 358.6 706.2 358.4 706.7 358.3 707.2 358.5 707.7 358 708.2 357.5 708.7 356.7 709.2 356.5 709.7 356 710.2 356.1 710.7 355.9 711.2 355.4 711.7 355.2 712.2 355.1 712.7 355.6 713.2 355.2 713.7 355.4 714.1 355.1 714.6 355.8 715.1 355.6 715.6 355.8 716.1 355 716.6 351.1 717.1 337.6 717.6 316.2 718.1 311.1 718.6 321.8 719.1 329.4 719.6 335.3 720.1 339.6 720.6 343 721.1 345.4 721.6 347.6 722.1 349 722.6 350.3 723 351.1 723.5 351.9 724 352.8 724.5 353.9 725 354.1 725.5 354.4 726 354.5 726.5 354.5 727 354"/>
<path d="M549.5 371.5 550 371.2 550.5 371.6 551 371.1 551.5 371.2 552 371.5 552.5 371.7 553 371.8 553.5 371.1 553.9 371.5 554.4 371.2 554.9 371.6 555.4 371 555.9 371.2 556.4 371 556.9 371 557.4 371 557.9 370.7 558.4 370.4 558.9 369.4 559.4 368.2 559.9 367.4 560.4 368.1 560.9 368.6 561.4 369 561.9 369.1 562.4 369.6 562.8 369.6 563.3 369.5 563.8 369.3 564.3 369.3 564.8 369.5 565.3 369.3 565.8 369.8 566.3 370.2 566.8 370.9 567.3 370.9 567.8 371.2 568.3 371.3 568.8 371.3 569.3 371.4 569.8 371.2 570.3 371 570.8 370.8 571.3 371 571.7 371 572.2 371.1 572.7 371 573.2 370.9 573.7 370.9 574.2 371 574.7 371.2 575.2 371.1 575.7 371 576.2 371.1 576.7 371.2 577.2 371.8 577.7 372.2 578.2 372.1 578.7 371.3 579.2 371.4 579.7 371.7 580.2 371.6 580.6 371.5 581.1 371.6 581.6 372.3 582.1 372.3 582.6 371.8 583.1 371.5 583.6 371.7 584.1 372.1 584.6 372.3 585.1 371.6 585.6 371.4 586.1 371.3 586.6 371.4 587.1 371 587.6 371.1 588.1 371.2 588.6 371.9 589.1 371.6 589.5 371.6 590 371.4 590.5 371.8 591 371.8 591.5 371.7 592 371.3 592.5 371.3 593 371.5 593.5 371.7 594 371.7 594.5 371.6 595 371.6 595.5 371.5 596 371.7 596.5 371.6 597 371.7 597.5 371.4 598 371.5 598.4 371.7 598.9 371.5 599.4 371.6 599.9 371.5 600.4 371.3 600.9 371.2 601.4 371.1 601.9 371.1 602.4 370.7 602.9 370.2 603.4 369.8 603.9 368.2 604.4 365.7 604.9 364.7 605.4 366.2 605.9 366.8 606.4 367.5 606.9 368.1 607.3 368.4 607.8 369.2 608.3 368.9 608.8 369.5 609.3 369.6 609.8 370.4 610.3 370.3 610.8 370.3 611.3 370.4 611.8 370.6 612.3 370.7 612.8 370.5 613.3 370.8 613.8 371.1 614.3 371.2 614.8 371.2 615.3 371.2 615.8 370.9 616.2 370.9 616.7 370.6 617.2 370.6 617.7 371 618.2 371 618.7 371 619.2 371 619.7 371.4 620.2 371.8 620.7 371.8 621.2 371.6 621.7 371.7 622.2 371.2 622.7 371.4 623.2 371 623.7 371.1 624.2 370.6 624.7 370.5 625.1 370.4 625.6 370.4 626.1 370.8 626.6 370.7 627.1 371 627.6 370.8 628.1 371 628.6 371.1 629.1 371.3 629.6 371.4 630.1 371.5 630.6 371.3 631.1 371 631.6 370.4 632.1 370.6 632.6 370.4 633.1 370.9 633.6 371 634 371.1 634.5 370.9 635 369.3 635.5 366.6 636 365.3 636.5 365.8 637 366.7 637.5 367.2 638 368.1 638.5 368.7 639 369.2 639.5 369.4 640 369.8 640.5 370.1 641 370.4 641.5 370.7 642 371.1 642.5 371.6 642.9 371.6 643.4 371.4 643.9 371.7 644.4 371.5 644.9 371.8 645.4 371.9 645.9 371.9 646.4 371.7 646.9 371 647.4 371 647.9 370.6 648.4 371.1 648.9 370.6 649.4 370.7 649.9 370.9 650.4 371.4 650.9 371.7 651.4 371 651.8 370.9 652.3 371 652.8 371.1 653.3 371.2 653.8 371.2 654.3 371.5 654.8 371.5 655.3 371.9 655.8 371.3 656.3 371.3 656.8 371.2 657.3 371.3 657.8 371.5 658.3 371 658.8 371.4 659.3 371.1 659.8 370.8 660.3 370.6 660.7 370.8 661.2 371.6 661.7 371.9 662.2 371.9 662.7 372.1 663.2 372.3 663.7 372.4 664.2 372.2 664.7 371.6 665.2 371.6 665.7 371.3 666.2 372.1 666.7 371.8 667.2 372 667.7 371.7 668.2 371.9 668.7 372 669.2 371.6 669.6 371.6 670.1 371.3 670.6 371.2 671.1 371.2 671.6 371.1 672.1 371.5 672.6 371.2 673.1 370.8 673.6 370.7 674.1 370.9 674.6 371.3 675.1 371.4 675.6 371.2 676.1 371.1 676.6 370.9 677.1 370.5 677.6 370.6 678.1 370.3 678.5 370.4 679 370.2 679.5 370.4 680 371 680.5 371.3 681 371.6 681.5 371.7 682 371.7 682.5 372.3 683 371.7 683.5 371.9 684 371.1 684.5 371.4 685 371.2 685.5 371.3 686 371.5 686.5 371.7 687 371.9 687.4 371.4 687.9 371.2 688.4 371.3 688.9 371.7 689.4 371.5 689.9 371.2 690.4 371 690.9 371.3 691.4 371.6 691.9 371.4 692.4 370.7 692.9 369.9 693.4 368.7 693.9 366.8 694.4 366.1 694.9 367 695.4 368.1 695.9 368.7 696.3 369.6 696.8 369.8 697.3 370.1 697.8 370.1 698.3 370.4 698.8 370.7 699.3 371 699.8 371.2 700.3 371.3 700.8 371.3 701.3 371.3 701.8 370.9 702.3 370.8 702.8 370.6 703.3 371 703.8 371 704.3 371 704.8 371.1 705.2 371.9 705.7 371.7 706.2 371.4 706.7 370.7 707.2 371.4 707.7 372 708.2 372.1 708.7 371.9 709.2 371.9 709.7 371.9 710.2 371.4 710.7 371.7 711.2 371.6 711.7 371.7 712.2 371.3 712.7 371.5 713.2 371.3 713.7 371.1 714.1 370.9 714.6 371.1 715.1 371 715.6 371.1 716.1 371 716.6 370.4 717.1 368.9 717.6 367.1 718.1 367 718.6 368 719.1 368.6 719.6 368.9 720.1 369.4 720.6 369.4 721.1 369.3 721.6 369.3 722.1 370 722.6 370.4 723 370.9 723.5 370.6 724 370.9 724.5 371.1 725 371.8 725.5 371.5 726 371.7 726.5 371.1 727 370.9"/>
<path d="M549.5 383.9 550 384.2 550.5 384 551 383.8 551.5 383.7 552 383.8 552.5 383.8 553 384.1 553.5 384.2 553.9 384.3 554.4 384.2 554.9 384.3 555.4 384.4 555.9 384.1 556.4 383.6 556.9 383.1 557.4 383.1 557.9 383.1 558.4 382.6 558.9 380.6 559.4 375.9 559.9 372 560.4 373.3 560.9 374.8 561.4 376.1 561.9 377.4 562.4 378.4 562.8 379.4 563.3 379.6 563.8 380.1 564.3 380.8 564.8 381.5 565.3 382.1 565.8 382.1 566.3 382.5 566.8 382.4 567.3 382.6 567.8 382.7 568.3 383 568.8 382.7 569.3 382.9 569.8 383.1 570.3 383.8 570.8 383.9 571.3 383.8 571.7 383.6 572.2 383.6 572.7 383.7 573.2 383.8 573.7 384 574.2 383.9 574.7 384.1 575.2 384.1 575.7 384.1 576.2 384 576.7 384.1 577.2 384.2 577.7 383.8 578.2 383.7 578.7 383.5 579.2 383.7 579.7 384 580.2 383.9 580.6 384.2 581.1 384.1 581.6 384.1 582.1 383.8 582.6 383.7 583.1 383.9 583.6 383.8 584.1 383.8 584.6 383.6 585.1 383.6 585.6 383.4 586.1 383.4 586.6 383.3 587.1 383.7 587.6 383.8 588.1 384 588.6 383.5 589.1 383.5 589.5 383.5 590 383.7 590.5 383.6 591 383.6 591.5 383.7 592 383.4 592.5 383.3 593 383.3 593.5 383.2 594 383.2 594.5 383.5 595 384.2 595.5 384.2 596 383.8 596.5 383.8 597 384.2 597.5 384.2 598 384.1 598.4 383.8 598.9 384.1 599.4 383.8 599.9 383.8 600.4 383.9 600.9 384.2 601.4 384.3 601.9 384.3 602.4 384.2 602.9 383.9 603.4 382.8 603.9 380.4 604.4 376.9 604.9 375.6 605.4 376.9 605.9 378.4 606.4 379.2 606.9 379.8 607.3 380.1 607.8 380.7 608.3 381.5 608.8 382 609.3 382.6 609.8 382.8 610.3 382.9 610.8 383 611.3 382.8 611.8 383.1 612.3 383 612.8 383.3 613.3 383.3 613.8 383.3 614.3 383.3 614.8 383.4 615.3 383.3 615.8 383.5 616.2 383.3 616.7 383.8 617.2 383.9 617.7 384 618.2 383.4 618.7 383.5 619.2 383.8 619.7 384.3 620.2 384.2 620.7 384 621.2 383.6 621.7 383.6 622.2 383.5 622.7 383.7 623.2 383.8 623.7 384 624.2 383.9 624.7 383.8 625.1 383.4 625.6 383.5 626.1 383.5 626.6 384 627.1 384.1 627.6 384.1 628.1 383.8 628.6 383.4 629.1 383.6 629.6 383.5 630.1 383.8 630.6 384.1 631.1 384.4 631.6 384.3 632.1 384 632.6 383.9 633.1 383.8 633.6 383.7 634 383.5 634.5 382.9 635 380.5 635.5 376 636 374 636.5 375.7 637 376.9 637.5 377.5 638 378.1 638.5 379.2 639 380.2 639.5 381 640 381.5 640.5 381.8 641 382.1 641.5 382 642 382.6 642.5 382.8 642.9 383.4 643.4 383.5 643.9 383.2 644.4 382.8 644.9 382.6 645.4 382.9 645.9 383.2 646.4 383.3 646.9 384 647.4 384.5 647.9 384.5 648.4 384.4 648.9 383.8 649.4 383.7 649.9 383.3 650.4 383.5 650.9 383.5 651.4 383.7 651.8 383.4 652.3 383.6 652.8 383.7 653.3 383.7 653.8 383.6 654.3 383.4 654.8 383.5 655.3 383.1 655.8 383.2 656.3 383.4 656.8 384 657.3 384 657.8 383.7 658.3 383.6 658.8 383.8 659.3 384.4 659.8 384.5 660.3 384.6 660.7 384.3 661.2 384 661.7 384.1 662.2 384 662.7 383.9 663.2 383.3 663.7 383.6 664.2 383.6 664.7 383.9 665.2 383.9 665.7 384.3 666.2 384.5 666.7 384.4 667.2 384 667.7 384.1 668.2 384.4 668.7 384.3 669.2 384.1 669.6 383.4 670.1 383.5 670.6 383.6 671.1 383.8 671.6 383.7 672.1 383.8 672.6 384 673.1 383.9 673.6 383.9 674.1 383.8 674.6 383.9 675.1 383.3 675.6 383.2 676.1 383.3 676.6 383.9 677.1 384.2 677.6 384.1 678.1 383.9 678.5 383.9 679 384.1 679.5 383.8 680 383.8 680.5 383.8 681 384 681.5 383.9 682 383.7 682.5 383.6 683 383.8 683.5 383.7 684 383.8 684.5 383.7 685 383.7 685.5 383.7 686 383.6 686.5 383.6 687 383.9 687.4 384.2 687.9 384.2 688.4 384 688.9 383.9 689.4 384 689.9 384.3 690.4 384.1 690.9 384.2 691.4 383.6 691.9 383.2 692.4 382.5 692.9 380.5 693.4 373.2 693.9 360 694.4 355.3 694.9 361.9 695.4 367 695.9 371.2 696.3 374.3 696.8 376.7 697.3 378 697.8 379.5 698.3 380.6 698.8 381.6 699.3 382 699.8 382.4 700.3 382.5 700.8 383 701.3 382.8 701.8 383.5 702.3 383.6 702.8 383.9 703.3 383.4 703.8 383.3 704.3 383.3 704.8 383.8 705.2 383.9 705.7 384.1 706.2 383.6 706.7 383.4 707.2 383.7 707.7 384.6 708.2 384.5 708.7 384.1 709.2 383.8 709.7 383.7 710.2 384 710.7 383.7 711.2 383.6 711.7 383.7 712.2 384.1 712.7 384 713.2 383.7 713.7 384 714.1 384.3 714.6 384.4 715.1 384.5 715.6 384.3 716.1 383.3 716.6 378.9 717.1 365 717.6 342.9 718.1 336.8 718.6 348 719.1 356.5 719.6 363.3 720.1 368.3 720.6 371.9 721.1 374.5 721.6 376.6 722.1 378.5 722.6 379.9 723 381.2 723.5 381.5 724 381.9 724.5 382.3 725 382.9 725.5 383.2 726 383.3 726.5 383.7 727 384"/>
<path d="M549.5 395.8 550 396.3 550.5 396.5 551 396.2 551.5 396.1 552 395.6 552.5 395.9 553 395.9 553.5 396.4 553.9 396.1 554.4 396 554.9 395.8 555.4 395.9 555.9 395.9 556.4 395.8 556.9 395.7 557.4 395.5 557.9 395.9 558.4 395.3 558.9 391.8 559.4 383.1 559.9 375.8 560.4 379.3 560.9 383.3 561.4 387 561.9 389.5 562.4 391 562.8 392.2 563.3 393 563.8 394.2 564.3 394.6 564.8 395.3 565.3 395.2 565.8 395.4 566.3 395.3 566.8 395.8 567.3 396 567.8 395.9 568.3 396.3 568.8 396.4 569.3 396.6 569.8 395.9 570.3 395.7 570.8 395.6 571.3 395.7 571.7 395.7 572.2 395.9 572.7 395.9 573.2 396.3 573.7 396.3 574.2 396.3 574.7 395.8 575.2 396 575.7 395.9 576.2 396.3 576.7 396 577.2 395.9 577.7 395.8 578.2 396 578.7 396.2 579.2 396 579.7 395.8 580.2 395.7 580.6 396.1 581.1 396 581.6 396.2 582.1 396.2 582.6 396.3 583.1 396.5 583.6 396.2 584.1 396 584.6 395.8 585.1 396 585.6 396.1 586.1 395.9 586.6 395.5 587.1 396.1 587.6 396.4 588.1 396.2 588.6 396 589.1 395.9 589.5 396.2 590 396 590.5 396 591 396.5 591.5 396.4 592 396.6 592.5 396 593 395.8 593.5 395.8 594 396 594.5 395.9 595 395.4 595.5 395.2 596 395.6 596.5 395.9 597 396.2 597.5 395.8 598 395.9 598.4 395.4 598.9 396.2 599.4 396.3 599.9 396.7 600.4 396.3 600.9 396.4 601.4 396.2 601.9 396.3 602.4 395.7 602.9 395.7 603.4 394.6 603.9 391.3 604.4 384.9 604.9 382.6 605.4 385.8 605.9 388.9 606.4 390.9 606.9 392.3 607.3 392.8 607.8 393.8 608.3 394.2 608.8 394.8 609.3 395 609.8 395.4 610.3 395.2 610.8 395.4 611.3 395.4 611.8 395.7 612.3 395.8 612.8 396.1 613.3 396.3 613.8 396.3 614.3 396.2 614.8 395.6 615.3 395.6 615.8 395.3 616.2 395.2 616.7 395.3 617.2 395.8 617.7 396.2 618.2 396 618.7 395.9 619.2 395.6 619.7 395.9 620.2 395.9 620.7 395.9 621.2 395.7 621.7 395.7 622.2 395.8 622.7 395.8 623.2 395.9 623.7 395.7 624.2 395.9 624.7 395.4 625.1 395.5 625.6 395.6 626.1 396.4 626.6 396.6 627.1 396.4 627.6 396.2 628.1 395.8 628.6 395.9 629.1 396 629.6 396.3 630.1 396.4 630.6 396.2 631.1 396.3 631.6 396.3 632.1 396.6 632.6 396.4 633.1 396.3 633.6 396 634 396 634.5 394.6 635 389.1 635.5 379.5 636 374.4 636.5 379.7 637 383.2 637.5 386.1 638 388.6 638.5 390.6 639 392.4 639.5 393.2 640 393.9 640.5 394.5 641 394.6 641.5 394.8 642 394.8 642.5 395.2 642.9 395 643.4 395.5 643.9 395.7 644.4 395.8 644.9 395.4 645.4 395.7 645.9 395.9 646.4 396.1 646.9 396 647.4 396 647.9 396.1 648.4 396.2 648.9 396.2 649.4 396 649.9 396.1 650.4 396.2 650.9 396.4 651.4 396.3 651.8 395.9 652.3 395.9 652.8 396.3 653.3 396 653.8 395.8 654.3 395.3 654.8 395.6 655.3 395.8 655.8 395.6 656.3 395.9 656.8 395.8 657.3 395.9 657.8 395.3 658.3 395.4 658.8 395.3 659.3 395.6 659.8 395.8 660.3 396.3 660.7 396.2 661.2 396.2 661.7 396 662.2 395.9 662.7 395.9 663.2 395.7 663.7 395.7 664.2 395.2 664.7 395.2 665.2 395.7 665.7 395.6 666.2 395.7 666.7 395.5 667.2 396.1 667.7 396.6 668.2 396.5 668.7 396.4 669.2 396.3 669.6 396.2 670.1 396.1 670.6 395.9 671.1 396.1 671.6 396.1 672.1 395.9 672.6 395.9 673.1 395.9 673.6 396 674.1 396 674.6 396.2 675.1 396.2 675.6 395.8 676.1 395.6 676.6 396.1 677.1 396.5 677.6 396.5 678.1 396 678.5 396 679 396.2 679.5 396 680 396.2 680.5 395.9 681 396 681.5 395.7 682 395.9 682.5 396.1 683 395.9 683.5 395.8 684 395.7 684.5 395.8 685 395.9 685.5 396 686 396 686.5 396 687 395.8 687.4 396.1 687.9 396 688.4 396.4 688.9 396.2 689.4 396.3 689.9 396.2 690.4 395.8 690.9 395.9 691.4 395.8 691.9 395.7 692.4 395.1 692.9 392 693.4 381 693.9 362.1 694.4 355.5 694.9 365.1 695.4 372.5 695.9 377.6 696.3 381.9 696.8 385.4 697.3 388 697.8 389.8 698.3 390.8 698.8 392.2 699.3 393.3 699.8 393.9 700.3 394.4 700.8 394.6 701.3 395.1 701.8 395.2 702.3 395.6 702.8 395.9 703.3 395.8 703.8 395.9 704.3 395.8 704.8 396 705.2 395.9 705.7 395.7 706.2 395.9 706.7 395.9 707.2 396.3 707.7 396 708.2 396.1 708.7 395.7 709.2 395.4 709.7 395.4 710.2 395.8 710.7 395.8 711.2 395.7 711.7 395.3 712.2 395.7 712.7 395.5 713.2 396 713.7 396.4 714.1 396.5 714.6 396.5 715.1 395.9 715.6 396 716.1 395 716.6 391.1 717.1 376.7 717.6 353.3 718.1 346.6 718.6 358.1 719.1 367.7 719.6 374.5 720.1 379.3 720.6 383 721.1 386.2 721.6 389.1 722.1 390.7 722.6 391.9 723 393 723.5 394 724 394.4 724.5 394.8 725 394.9 725.5 395.2 726 395 726.5 395.5 727 395.7"/>
<path d="M549.5 407.5 550 407.7 550.5 407.8 551 407.5 551.5 407.4 552 407.4 552.5 407.3 553 407 553.5 407.3 553.9 407.1 554.4 407.5 554.9 407.6 555.4 407.7 555.9 407.5 556.4 407.4 556.9 407.2 557.4 407.1 557.9 407.2 558.4 407.1 558.9 406.8 559.4 404.9 559.9 403 560.4 403.8 560.9 404.5 561.4 405.3 561.9 405.3 562.4 405.1 562.8 405.7 563.3 406 563.8 406.4 564.3 406.5 564.8 407 565.3 407 565.8 406.6 566.3 407 566.8 407.9 567.3 407.8 567.8 407.3 568.3 407.3 568.8 407.4 569.3 407.1 569.8 406.6 570.3 406.9 570.8 407.2 571.3 407.2 571.7 407.2 572.2 407.6 572.7 407.1 573.2 407.1 573.7 407 574.2 407.4 574.7 407.1 575.2 407.1 575.7 407.1 576.2 406.9 576.7 407 577.2 407.2 577.7 407.9 578.2 407.7 578.7 407.6 579.2 407.9 579.7 408.4 580.2 408.4 580.6 408.5 581.1 408.1 581.6 407.9 582.1 408.1 582.6 408.3 583.1 408.3 583.6 407.6 584.1 407.6 584.6 407.7 585.1 407.5 585.6 406.8 586.1 406.6 586.6 406.7 587.1 406.7 587.6 406.7 588.1 406.1 588.6 406.6 589.1 406.7 589.5 407 590 407.2 590.5 407.3 591 407.6 591.5 407.4 592 407.1 592.5 407.3 593 407.1 593.5 407.4 594 407.1 594.5 407.4 595 407.1 595.5 407.3 596 407.1 596.5 407.6 597 407.7 597.5 407.8 598 407.7 598.4 407.4 598.9 407.3 599.4 407.2 599.9 407.1 600.4 407.1 600.9 407.3 601.4 407.8 601.9 407.8 602.4 407.7 602.9 407.4 603.4 407.2 603.9 405.7 604.4 402.8 604.9 401.5 605.4 402.5 605.9 403.6 606.4 404.2 606.9 404.4 607.3 404.9 607.8 405.5 608.3 406.3 608.8 406.3 609.3 406.7 609.8 406.8 610.3 407.1 610.8 407 611.3 406.8 611.8 407.4 612.3 407.6 612.8 407.7 613.3 406.9 613.8 407 614.3 407.1 614.8 407.3 615.3 407.1 615.8 407.3 616.2 407.3 616.7 407.7 617.2 407.3 617.7 407.2 618.2 406.7 618.7 407.1 619.2 407.5 619.7 407.8 620.2 408 620.7 408.4 621.2 408.6 621.7 408.3 622.2 408 622.7 408.2 623.2 408 623.7 408.2 624.2 407.9 624.7 408.2 625.1 407.8 625.6 408.2 626.1 408.2 626.6 407.9 627.1 407.5 627.6 407.6 628.1 407.5 628.6 407.5 629.1 407.4 629.6 407.2 630.1 407.1 630.6 406.8 631.1 407.3 631.6 407.2 632.1 407.8 632.6 408 633.1 408.3 633.6 407.9 634 408.1 634.5 408.2 635 406.8 635.5 404.1 636 402.3 636.5 403.1 637 403.8 637.5 404.4 638 405.6 638.5 405.6 639 406 639.5 405.5 640 405.8 640.5 405.8 641 405.9 641.5 406.4 642 407.2 642.5 407.6 642.9 407.6 643.4 407.5 643.9 407.7 644.4 407.5 644.9 407.4 645.4 407.4 645.9 407.6 646.4 407.8 646.9 407.3 647.4 407.3 647.9 407.4 648.4 407.8 648.9 407.8 649.4 407.6 649.9 407.7 650.4 407.8 650.9 408.1 651.4 408.5 651.8 408.3 652.3 408.6 652.8 408.2 653.3 408.6 653.8 408.1 654.3 408.3 654.8 407.8 655.3 407.5 655.8 407.6 656.3 408 656.8 408.2 657.3 407.6 657.8 407.6 658.3 407.7 658.8 408.1 659.3 407.5 659.8 407.6 660.3 407.5 660.7 407.5 661.2 407 661.7 406.9 662.2 406.9 662.7 406.9 663.2 406.4 663.7 407.1 664.2 407.6 664.7 408 665.2 407.7 665.7 407.6 666.2 408.1 666.7 407.9 667.2 407.8 667.7 407.7 668.2 407.9 668.7 408 669.2 408 669.6 408.2 670.1 407.7 670.6 407.9 671.1 408.2 671.6 408.7 672.1 408.4 672.6 407.6 673.1 407.7 673.6 407.5 674.1 407.4 674.6 407.2 675.1 406.9 675.6 406.9 676.1 406.7 676.6 407.2 677.1 407 677.6 407 678.1 407.3 678.5 407.7 679 407.9 679.5 407.9 680 408.1 680.5 408.1 681 407.5 681.5 407.4 682 407.3 682.5 407.3 683 407.2 683.5 407.7 684 408 684.5 408 685 407.9 685.5 407.7 686 408.1 686.5 408 687 408.4 687.4 408.3 687.9 408.4 688.4 408.4 688.9 408.5 689.4 408.2 689.9 408.2 690.4 408.8 690.9 409 691.4 408.3 691.9 407.7 692.4 407.2 692.9 406.9 693.4 405.5 693.9 403.5 694.4 402.7 694.9 403.1 695.4 403.8 695.9 404.3 696.3 405.1 696.8 405.5 697.3 405.8 697.8 406 698.3 405.9 698.8 406 699.3 406.1 699.8 406.6 700.3 407.1 700.8 407.5 701.3 407.4 701.8 406.7 702.3 406.7 702.8 406.7 703.3 407 703.8 407 704.3 406.7 704.8 407.4 705.2 407.4 705.7 407.6 706.2 407.3 706.7 407 707.2 407.3 707.7 407.5 708.2 407.9 708.7 408.1 709.2 408 709.7 407.8 710.2 407.4 710.7 407.5 711.2 407.3 711.7 407.6 712.2 407.7 712.7 407.5 713.2 407.8 713.7 407.4 714.1 408 714.6 407.9 715.1 408.1 715.6 408 716.1 407.7 716.6 406.8 717.1 404.2 717.6 400.6 718.1 399.9 718.6 401.3 719.1 403.1 719.6 404.6 720.1 406 720.6 407.5 721.1 408.5 721.6 409.7 722.1 410.5 722.6 411.5 723 412.3 723.5 412.8 724 412.8 724.5 412.8 725 411.7 725.5 411.4 726 410.8 726.5 410.9 727 410.8"/>
<path d="M549.5 419.9 550 420.2 550.5 420.2 551 420.1 551.5 419.9 552 419.9 552.5 420.1 553 420 553.5 419.7 553.9 420 554.4 420.1 554.9 420.3 555.4 420.1 555.9 420.1 556.4 420 556.9 419.8 557.4 420.1 557.9 420.3 558.4 420.1 558.9 418.3 559.4 413.9 559.9 410.6 560.4 411.3 560.9 413 561.4 414.1 561.9 414.6 562.4 415.2 562.8 415.5 563.3 416.6 563.8 416.9 564.3 417.7 564.8 418 565.3 418.5 565.8 419.1 566.3 419.9 566.8 420 567.3 419.6 567.8 419.4 568.3 419.6 568.8 420 569.3 419.6 569.8 419.8 570.3 419.7 570.8 419.8 571.3 419.8 571.7 420.1 572.2 420.4 572.7 420.3 573.2 420 573.7 419.9 574.2 419.9 574.7 420 575.2 419.8 575.7 419.8 576.2 420 576.7 420.1 577.2 419.7 577.7 419.3 578.2 419.3 578.7 419.6 579.2 419.8 579.7 419.8 580.2 419.7 580.6 419.8 581.1 419.7 581.6 419.7 582.1 419.9 582.6 420 583.1 420.3 583.6 420.1 584.1 420.2 584.6 419.9 585.1 420.1 585.6 420.1 586.1 420.3 586.6 420.3 587.1 420.5 587.6 420.3 588.1 420.3 588.6 420 589.1 420.1 589.5 419.9 590 419.8 590.5 420.1 591 420.2 591.5 420.2 592 420.1 592.5 420.2 593 420.2 593.5 419.8 594 419.6 594.5 419.6 595 419.7 595.5 419.5 596 419.6 596.5 419.5 597 419.2 597.5 419.2 598 419.3 598.4 420.2 598.9 420.6 599.4 420.2 599.9 419.9 600.4 419.8 600.9 420.2 601.4 420.5 601.9 420.3 602.4 420.3 602.9 420 603.4 419.3 603.9 417.8 604.4 415.6 604.9 415 605.4 415.6 605.9 416.5 606.4 417.2 606.9 418 607.3 418.4 607.8 418.4 608.3 418.7 608.8 418.9 609.3 419 609.8 419.2 610.3 419 610.8 419.3 611.3 419.5 611.8 419.8 612.3 419.8 612.8 419.9 613.3 419.6 613.8 419.7 614.3 419.6 614.8 419.9 615.3 419.7 615.8 419.8 616.2 419.5 616.7 420 617.2 419.7 617.7 419.8 618.2 419.5 618.7 419.5 619.2 419.6 619.7 420 620.2 420.1 620.7 420.2 621.2 420.1 621.7 419.8 622.2 419.6 622.7 419.4 623.2 419.6 623.7 419.6 624.2 419.6 624.7 419.8 625.1 419.9 625.6 419.9 626.1 419.5 626.6 419.7 627.1 419.8 627.6 420.2 628.1 419.6 628.6 419.7 629.1 419.4 629.6 419.7 630.1 419.5 630.6 419.6 631.1 419.6 631.6 419.7 632.1 419.6 632.6 419.9 633.1 420.1 633.6 420.6 634 420.2 634.5 419.6 635 418 635.5 415.3 636 413.7 636.5 414.5 637 415.3 637.5 416 638 416.5 638.5 417.1 639 417.2 639.5 417.5 640 417.8 640.5 418.2 641 418.4 641.5 418.4 642 418.7 642.5 419.2 642.9 419.6 643.4 419.5 643.9 419.2 644.4 419.4 644.9 419.8 645.4 420.5 645.9 420.5 646.4 420.2 646.9 420 647.4 419.7 647.9 419.6 648.4 419.8 648.9 419.9 649.4 420.1 649.9 419.7 650.4 419.5 650.9 419.4 651.4 419.4 651.8 419.7 652.3 419.7 652.8 419.4 653.3 419.5 653.8 419.7 654.3 420 654.8 419.9 655.3 419.8 655.8 419.8 656.3 419.6 656.8 419.7 657.3 419.8 657.8 419.6 658.3 419.4 658.8 419.4 659.3 420 659.8 420.2 660.3 420 660.7 419.8 661.2 420.1 661.7 420.4 662.2 420.5 662.7 420.2 663.2 420 663.7 419.7 664.2 419.8 664.7 420 665.2 420.5 665.7 420.6 666.2 420.5 666.7 420.2 667.2 420.1 667.7 420 668.2 420 668.7 420.2 669.2 420.2 669.6 420.1 670.1 420 670.6 419.4 671.1 420 671.6 420.1 672.1 420.8 672.6 420.4 673.1 420.3 673.6 420.2 674.1 419.9 674.6 419.6 675.1 419.6 675.6 419.5 676.1 419.9 676.6 420 677.1 420.3 677.6 420 678.1 420 678.5 420.1 679 420.2 679.5 420.3 680 420.5 680.5 420.4 681 420.2 681.5 419.9 682 419.7 682.5 420.2 683 420.5 683.5 420.8 684 420.4 684.5 420.2 685 420.1 685.5 419.9 686 420 686.5 419.9 687 420 687.4 419.8 687.9 419.9 688.4 419.7 688.9 419.7 689.4 419.4 689.9 419.6 690.4 419.7 690.9 420.1 691.4 420.5 691.9 420.7 692.4 420.8 692.9 420.5 693.4 420.6 693.9 420.4 694.4 420.5 694.9 420.3 695.4 420.2 695.9 419.8 696.3 419.6 696.8 419.3 697.3 419.5 697.8 420 698.3 420.1 698.8 419.8 699.3 419.5 699.8 419.5 700.3 419.8 700.8 419.7 701.3 420 701.8 420.1 702.3 420.2 702.8 420.5 703.3 420.4 703.8 420.3 704.3 419.8 704.8 419.8 705.2 419.8 705.7 419.5 706.2 419.3 706.7 419.4 707.2 419.8 707.7 420 708.2 419.7 708.7 419.8 709.2 419.7 709.7 419.8 710.2 420.2 710.7 420.3 711.2 420.5 711.7 420.2 712.2 420.3 712.7 420.1 713.2 419.5 713.7 419.5 714.1 419.7 714.6 420.2 715.1 420.1 715.6 420.1 716.1 420.1 716.6 420.5 717.1 420.6 717.6 420.6 718.1 420.2 718.6 420.1 719.1 420.2 719.6 420.3 720.1 420.4 720.6 420.3 721.1 420.4 721.6 420 722.1 419.9 722.6 419.5 723 419.8 723.5 419.4 724 419.8 724.5 419.8 725 420.6 725.5 420.2 726 420.1 726.5 419.7 727 419.6"/>
</g>
<line x1="735" y1="180" x2="735" y2="203" stroke="#231f20" stroke-width="3.4"/>
<line x1="693.5" y1="220" x2="727.5" y2="220" stroke="#231f20" stroke-width="3.4"/>
<line x1="735" y1="412.5" x2="735" y2="435" stroke="#231f20" stroke-width="3.4"/>
<line x1="693" y1="440" x2="727.5" y2="440" stroke="#231f20" stroke-width="3.4"/>
<text x="710" y="473.5" text-anchor="middle">50s</text>
<!-- panel c -->
<text x="811.5" y="31" class="pl">c</text>
<text x="1008" y="44" text-anchor="middle" class="it">DRG Imaging</text>
<line x1="931.5" y1="47" x2="1084.5" y2="47" stroke="#000" stroke-width="1.6"/>
<line x1="936.4" y1="96.7" x2="936.4" y2="383.4" stroke="#231f20" stroke-width="1.8"/>
<line x1="925.4" y1="382.4" x2="1188.5" y2="382.4" stroke="#231f20" stroke-width="1.8"/>
<line x1="925.4" y1="382.4" x2="936.4" y2="382.4" stroke="#231f20" stroke-width="1.8"/>
<text x="914.9" y="391.2" text-anchor="end" fill="#231f20">0</text>
<line x1="925.4" y1="325.3" x2="936.4" y2="325.3" stroke="#231f20" stroke-width="1.8"/>
<text x="914.9" y="334.1" text-anchor="end" fill="#231f20">50</text>
<line x1="925.4" y1="268.1" x2="936.4" y2="268.1" stroke="#231f20" stroke-width="1.8"/>
<text x="914.9" y="276.9" text-anchor="end" fill="#231f20">100</text>
<line x1="925.4" y1="211" x2="936.4" y2="211" stroke="#231f20" stroke-width="1.8"/>
<text x="914.9" y="219.8" text-anchor="end" fill="#231f20">150</text>
<line x1="925.4" y1="153.8" x2="936.4" y2="153.8" stroke="#231f20" stroke-width="1.8"/>
<text x="914.9" y="162.6" text-anchor="end" fill="#231f20">200</text>
<line x1="925.4" y1="96.7" x2="936.4" y2="96.7" stroke="#231f20" stroke-width="1.8"/>
<text x="914.9" y="105.5" text-anchor="end" fill="#231f20">250</text>
<line x1="1059" y1="382.4" x2="1059" y2="391.4" stroke="#231f20" stroke-width="1.8"/>
<line x1="1139.2" y1="382.4" x2="1139.2" y2="391.4" stroke="#231f20" stroke-width="1.8"/>
<line x1="980.3" y1="382.4" x2="980.3" y2="391.4" stroke="#231f20" stroke-width="1.8"/>
<text transform="translate(849.5 361) rotate(-90)">Integrated Ca<tspan font-size="15" dy="-9">2+</tspan><tspan dy="9"> Δ</tspan><tspan class="it">F</tspan>/<tspan class="it">F</tspan><tspan font-size="15" dy="7">0</tspan></text>
<g fill="none" stroke="#6a6a6c" stroke-width="2.9">
<circle cx="967.6" cy="337" r="5.7"/><circle cx="971" cy="337" r="5.7"/><circle cx="974.4" cy="337" r="5.7"/><circle cx="977.8" cy="337" r="5.7"/><circle cx="981.2" cy="337" r="5.7"/><circle cx="984.6" cy="337" r="5.7"/><circle cx="988" cy="337" r="5.7"/><circle cx="991.4" cy="337" r="5.7"/><circle cx="962.8" cy="341.4" r="5.7"/><circle cx="966.1" cy="341.4" r="5.7"/><circle cx="969.5" cy="341.4" r="5.7"/><circle cx="972.8" cy="341.4" r="5.7"/><circle cx="976.2" cy="341.4" r="5.7"/><circle cx="979.5" cy="341.4" r="5.7"/><circle cx="982.8" cy="341.4" r="5.7"/><circle cx="986.2" cy="341.4" r="5.7"/><circle cx="989.5" cy="341.4" r="5.7"/><circle cx="992.9" cy="341.4" r="5.7"/><circle cx="996.2" cy="341.4" r="5.7"/><circle cx="965.4" cy="345.7" r="5.7"/><circle cx="968.5" cy="345.7" r="5.7"/><circle cx="971.7" cy="345.7" r="5.7"/><circle cx="974.8" cy="345.7" r="5.7"/><circle cx="977.9" cy="345.7" r="5.7"/><circle cx="981.1" cy="345.7" r="5.7"/><circle cx="984.2" cy="345.7" r="5.7"/><circle cx="987.3" cy="345.7" r="5.7"/><circle cx="990.5" cy="345.7" r="5.7"/><circle cx="993.6" cy="345.7" r="5.7"/><circle cx="963.2" cy="350.1" r="5.7"/><circle cx="966.4" cy="350.1" r="5.7"/><circle cx="969.7" cy="350.1" r="5.7"/><circle cx="973" cy="350.1" r="5.7"/><circle cx="976.2" cy="350.1" r="5.7"/><circle cx="979.5" cy="350.1" r="5.7"/><circle cx="982.8" cy="350.1" r="5.7"/><circle cx="986" cy="350.1" r="5.7"/><circle cx="989.3" cy="350.1" r="5.7"/><circle cx="992.6" cy="350.1" r="5.7"/><circle cx="995.8" cy="350.1" r="5.7"/><circle cx="962.8" cy="354.4" r="5.7"/><circle cx="966.1" cy="354.4" r="5.7"/><circle cx="969.5" cy="354.4" r="5.7"/><circle cx="972.8" cy="354.4" r="5.7"/><circle cx="976.2" cy="354.4" r="5.7"/><circle cx="979.5" cy="354.4" r="5.7"/><circle cx="982.8" cy="354.4" r="5.7"/><circle cx="986.2" cy="354.4" r="5.7"/><circle cx="989.5" cy="354.4" r="5.7"/><circle cx="992.9" cy="354.4" r="5.7"/><circle cx="996.2" cy="354.4" r="5.7"/><circle cx="964.2" cy="358.8" r="5.7"/><circle cx="967.3" cy="358.8" r="5.7"/><circle cx="970.3" cy="358.8" r="5.7"/><circle cx="973.4" cy="358.8" r="5.7"/><circle cx="976.4" cy="358.8" r="5.7"/><circle cx="979.5" cy="358.8" r="5.7"/><circle cx="982.6" cy="358.8" r="5.7"/><circle cx="985.6" cy="358.8" r="5.7"/><circle cx="988.7" cy="358.8" r="5.7"/><circle cx="991.7" cy="358.8" r="5.7"/><circle cx="994.8" cy="358.8" r="5.7"/><circle cx="963.3" cy="363.1" r="5.7"/><circle cx="966.5" cy="363.1" r="5.7"/><circle cx="969.8" cy="363.1" r="5.7"/><circle cx="973" cy="363.1" r="5.7"/><circle cx="976.3" cy="363.1" r="5.7"/><circle cx="979.5" cy="363.1" r="5.7"/><circle cx="982.7" cy="363.1" r="5.7"/><circle cx="986" cy="363.1" r="5.7"/><circle cx="989.2" cy="363.1" r="5.7"/><circle cx="992.5" cy="363.1" r="5.7"/><circle cx="995.7" cy="363.1" r="5.7"/><circle cx="963.3" cy="367.4" r="5.7"/><circle cx="966.6" cy="367.4" r="5.7"/><circle cx="969.8" cy="367.4" r="5.7"/><circle cx="973" cy="367.4" r="5.7"/><circle cx="976.3" cy="367.4" r="5.7"/><circle cx="979.5" cy="367.4" r="5.7"/><circle cx="982.7" cy="367.4" r="5.7"/><circle cx="986" cy="367.4" r="5.7"/><circle cx="989.2" cy="367.4" r="5.7"/><circle cx="992.4" cy="367.4" r="5.7"/><circle cx="995.7" cy="367.4" r="5.7"/><circle cx="968" cy="371.8" r="5.7"/><circle cx="971.3" cy="371.8" r="5.7"/><circle cx="974.6" cy="371.8" r="5.7"/><circle cx="977.9" cy="371.8" r="5.7"/><circle cx="981.1" cy="371.8" r="5.7"/><circle cx="984.4" cy="371.8" r="5.7"/><circle cx="987.7" cy="371.8" r="5.7"/><circle cx="991" cy="371.8" r="5.7"/><circle cx="975.9" cy="376.1" r="5.7"/><circle cx="978.3" cy="376.1" r="5.7"/><circle cx="980.7" cy="376.1" r="5.7"/><circle cx="983.1" cy="376.1" r="5.7"/><circle cx="979.5" cy="380.5" r="5.7"/><circle cx="979.5" cy="304.7" r="5.7"/><circle cx="970.5" cy="315" r="5.7"/><circle cx="965.5" cy="320.7" r="5.7"/><circle cx="988.5" cy="319.5" r="5.7"/><circle cx="994.5" cy="324.1" r="5.7"/><circle cx="967.5" cy="326.4" r="5.7"/><circle cx="983.5" cy="327.5" r="5.7"/><circle cx="991.5" cy="329.8" r="5.7"/><circle cx="975.5" cy="331" r="5.7"/><circle cx="962.5" cy="333.3" r="5.7"/><circle cx="997.5" cy="332.1" r="5.7"/>
</g>
<line x1="955.5" y1="356.7" x2="1003.5" y2="356.7" stroke="#000" stroke-width="1.8"/>
<line x1="967.5" y1="355.3" x2="991.5" y2="355.3" stroke="#000" stroke-width="1.6"/>
<line x1="967.5" y1="358.1" x2="991.5" y2="358.1" stroke="#000" stroke-width="1.6"/>
<line x1="979.5" y1="355.3" x2="979.5" y2="358.1" stroke="#000" stroke-width="1.6"/>
<g fill="none" stroke="#a97c50" stroke-width="2.9">
<circle cx="1047.1" cy="308" r="5.7"/><circle cx="1050.2" cy="308" r="5.7"/><circle cx="1053.3" cy="308" r="5.7"/><circle cx="1056.4" cy="308" r="5.7"/><circle cx="1059.6" cy="308" r="5.7"/><circle cx="1062.7" cy="308" r="5.7"/><circle cx="1065.8" cy="308" r="5.7"/><circle cx="1068.9" cy="308" r="5.7"/><circle cx="1044.5" cy="312.3" r="5.7"/><circle cx="1047.9" cy="312.3" r="5.7"/><circle cx="1051.3" cy="312.3" r="5.7"/><circle cx="1054.6" cy="312.3" r="5.7"/><circle cx="1058" cy="312.3" r="5.7"/><circle cx="1061.4" cy="312.3" r="5.7"/><circle cx="1064.7" cy="312.3" r="5.7"/><circle cx="1068.1" cy="312.3" r="5.7"/><circle cx="1071.5" cy="312.3" r="5.7"/><circle cx="1043.4" cy="316.6" r="5.7"/><circle cx="1046.6" cy="316.6" r="5.7"/><circle cx="1049.9" cy="316.6" r="5.7"/><circle cx="1053.1" cy="316.6" r="5.7"/><circle cx="1056.4" cy="316.6" r="5.7"/><circle cx="1059.6" cy="316.6" r="5.7"/><circle cx="1062.9" cy="316.6" r="5.7"/><circle cx="1066.1" cy="316.6" r="5.7"/><circle cx="1069.4" cy="316.6" r="5.7"/><circle cx="1072.6" cy="316.6" r="5.7"/><circle cx="1042.1" cy="320.9" r="5.7"/><circle cx="1045.3" cy="320.9" r="5.7"/><circle cx="1048.5" cy="320.9" r="5.7"/><circle cx="1051.6" cy="320.9" r="5.7"/><circle cx="1054.8" cy="320.9" r="5.7"/><circle cx="1058" cy="320.9" r="5.7"/><circle cx="1061.2" cy="320.9" r="5.7"/><circle cx="1064.4" cy="320.9" r="5.7"/><circle cx="1067.5" cy="320.9" r="5.7"/><circle cx="1070.7" cy="320.9" r="5.7"/><circle cx="1073.9" cy="320.9" r="5.7"/><circle cx="1040.7" cy="325.1" r="5.7"/><circle cx="1043.9" cy="325.1" r="5.7"/><circle cx="1047" cy="325.1" r="5.7"/><circle cx="1050.2" cy="325.1" r="5.7"/><circle cx="1053.3" cy="325.1" r="5.7"/><circle cx="1056.4" cy="325.1" r="5.7"/><circle cx="1059.6" cy="325.1" r="5.7"/><circle cx="1062.7" cy="325.1" r="5.7"/><circle cx="1065.8" cy="325.1" r="5.7"/><circle cx="1069" cy="325.1" r="5.7"/><circle cx="1072.1" cy="325.1" r="5.7"/><circle cx="1075.3" cy="325.1" r="5.7"/><circle cx="1042.2" cy="329.4" r="5.7"/><circle cx="1045.4" cy="329.4" r="5.7"/><circle cx="1048.5" cy="329.4" r="5.7"/><circle cx="1051.7" cy="329.4" r="5.7"/><circle cx="1054.8" cy="329.4" r="5.7"/><circle cx="1058" cy="329.4" r="5.7"/><circle cx="1061.2" cy="329.4" r="5.7"/><circle cx="1064.3" cy="329.4" r="5.7"/><circle cx="1067.5" cy="329.4" r="5.7"/><circle cx="1070.6" cy="329.4" r="5.7"/><circle cx="1073.8" cy="329.4" r="5.7"/><circle cx="1044" cy="333.7" r="5.7"/><circle cx="1047.1" cy="333.7" r="5.7"/><circle cx="1050.2" cy="333.7" r="5.7"/><circle cx="1053.3" cy="333.7" r="5.7"/><circle cx="1056.4" cy="333.7" r="5.7"/><circle cx="1059.6" cy="333.7" r="5.7"/><circle cx="1062.7" cy="333.7" r="5.7"/><circle cx="1065.8" cy="333.7" r="5.7"/><circle cx="1068.9" cy="333.7" r="5.7"/><circle cx="1072" cy="333.7" r="5.7"/><circle cx="1046.1" cy="338" r="5.7"/><circle cx="1049.5" cy="338" r="5.7"/><circle cx="1052.9" cy="338" r="5.7"/><circle cx="1056.3" cy="338" r="5.7"/><circle cx="1059.7" cy="338" r="5.7"/><circle cx="1063.1" cy="338" r="5.7"/><circle cx="1066.5" cy="338" r="5.7"/><circle cx="1069.9" cy="338" r="5.7"/><circle cx="1044.3" cy="342.3" r="5.7"/><circle cx="1047.3" cy="342.3" r="5.7"/><circle cx="1050.4" cy="342.3" r="5.7"/><circle cx="1053.4" cy="342.3" r="5.7"/><circle cx="1056.5" cy="342.3" r="5.7"/><circle cx="1059.5" cy="342.3" r="5.7"/><circle cx="1062.6" cy="342.3" r="5.7"/><circle cx="1065.6" cy="342.3" r="5.7"/><circle cx="1068.7" cy="342.3" r="5.7"/><circle cx="1071.7" cy="342.3" r="5.7"/><circle cx="1043.2" cy="346.6" r="5.7"/><circle cx="1046.5" cy="346.6" r="5.7"/><circle cx="1049.8" cy="346.6" r="5.7"/><circle cx="1053.1" cy="346.6" r="5.7"/><circle cx="1056.4" cy="346.6" r="5.7"/><circle cx="1059.6" cy="346.6" r="5.7"/><circle cx="1062.9" cy="346.6" r="5.7"/><circle cx="1066.2" cy="346.6" r="5.7"/><circle cx="1069.5" cy="346.6" r="5.7"/><circle cx="1072.8" cy="346.6" r="5.7"/><circle cx="1043.5" cy="350.9" r="5.7"/><circle cx="1046.7" cy="350.9" r="5.7"/><circle cx="1050" cy="350.9" r="5.7"/><circle cx="1053.2" cy="350.9" r="5.7"/><circle cx="1056.4" cy="350.9" r="5.7"/><circle cx="1059.6" cy="350.9" r="5.7"/><circle cx="1062.8" cy="350.9" r="5.7"/><circle cx="1066" cy="350.9" r="5.7"/><circle cx="1069.3" cy="350.9" r="5.7"/><circle cx="1072.5" cy="350.9" r="5.7"/><circle cx="1046.4" cy="355.1" r="5.7"/><circle cx="1049.7" cy="355.1" r="5.7"/><circle cx="1053" cy="355.1" r="5.7"/><circle cx="1056.3" cy="355.1" r="5.7"/><circle cx="1059.7" cy="355.1" r="5.7"/><circle cx="1063" cy="355.1" r="5.7"/><circle cx="1066.3" cy="355.1" r="5.7"/><circle cx="1069.6" cy="355.1" r="5.7"/><circle cx="1051.5" cy="359.4" r="5.7"/><circle cx="1054.8" cy="359.4" r="5.7"/><circle cx="1058" cy="359.4" r="5.7"/><circle cx="1061.2" cy="359.4" r="5.7"/><circle cx="1064.5" cy="359.4" r="5.7"/><circle cx="1057.1" cy="363.7" r="5.7"/><circle cx="1058.9" cy="363.7" r="5.7"/><circle cx="1058" cy="368" r="5.7"/><circle cx="1058.5" cy="134.6" r="5.7"/><circle cx="1058.5" cy="154.1" r="5.7"/><circle cx="1058.5" cy="192.5" r="5.7"/><circle cx="1043" cy="228.1" r="5.7"/><circle cx="1073" cy="228.1" r="5.7"/><circle cx="1058" cy="239.5" r="5.7"/><circle cx="1075" cy="243" r="5.7"/><circle cx="1040" cy="253.3" r="5.7"/><circle cx="1064" cy="254.4" r="5.7"/><circle cx="1051" cy="261.3" r="5.7"/><circle cx="1043" cy="271.5" r="5.7"/><circle cx="1053" cy="272.7" r="5.7"/><circle cx="1066" cy="272.7" r="5.7"/><circle cx="1073" cy="270.4" r="5.7"/><circle cx="1058" cy="279.5" r="5.7"/><circle cx="1076" cy="280.7" r="5.7"/><circle cx="1040" cy="286.4" r="5.7"/><circle cx="1042" cy="297.8" r="5.7"/><circle cx="1052" cy="295.5" r="5.7"/><circle cx="1063" cy="294.4" r="5.7"/><circle cx="1072" cy="296.7" r="5.7"/>
</g>
<line x1="1035" y1="324.1" x2="1081" y2="324.1" stroke="#000" stroke-width="1.8"/>
<line x1="1046" y1="320.9" x2="1070" y2="320.9" stroke="#000" stroke-width="1.6"/>
<line x1="1046" y1="327.3" x2="1070" y2="327.3" stroke="#000" stroke-width="1.6"/>
<line x1="1058" y1="320.9" x2="1058" y2="327.3" stroke="#000" stroke-width="1.6"/>
<g fill="none" stroke="#ec008c" stroke-width="2.9">
<circle cx="1123.7" cy="312" r="5.7"/><circle cx="1127" cy="312" r="5.7"/><circle cx="1130.3" cy="312" r="5.7"/><circle cx="1133.6" cy="312" r="5.7"/><circle cx="1136.9" cy="312" r="5.7"/><circle cx="1140.3" cy="312" r="5.7"/><circle cx="1143.6" cy="312" r="5.7"/><circle cx="1146.9" cy="312" r="5.7"/><circle cx="1150.2" cy="312" r="5.7"/><circle cx="1153.5" cy="312" r="5.7"/><circle cx="1122" cy="316.5" r="5.7"/><circle cx="1125.3" cy="316.5" r="5.7"/><circle cx="1128.7" cy="316.5" r="5.7"/><circle cx="1132" cy="316.5" r="5.7"/><circle cx="1135.3" cy="316.5" r="5.7"/><circle cx="1138.6" cy="316.5" r="5.7"/><circle cx="1141.9" cy="316.5" r="5.7"/><circle cx="1145.2" cy="316.5" r="5.7"/><circle cx="1148.5" cy="316.5" r="5.7"/><circle cx="1151.9" cy="316.5" r="5.7"/><circle cx="1155.2" cy="316.5" r="5.7"/><circle cx="1123.3" cy="321" r="5.7"/><circle cx="1126.7" cy="321" r="5.7"/><circle cx="1130.1" cy="321" r="5.7"/><circle cx="1133.5" cy="321" r="5.7"/><circle cx="1136.9" cy="321" r="5.7"/><circle cx="1140.3" cy="321" r="5.7"/><circle cx="1143.7" cy="321" r="5.7"/><circle cx="1147.1" cy="321" r="5.7"/><circle cx="1150.5" cy="321" r="5.7"/><circle cx="1153.9" cy="321" r="5.7"/><circle cx="1121.5" cy="325.5" r="5.7"/><circle cx="1124.6" cy="325.5" r="5.7"/><circle cx="1127.7" cy="325.5" r="5.7"/><circle cx="1130.8" cy="325.5" r="5.7"/><circle cx="1133.9" cy="325.5" r="5.7"/><circle cx="1137" cy="325.5" r="5.7"/><circle cx="1140.2" cy="325.5" r="5.7"/><circle cx="1143.3" cy="325.5" r="5.7"/><circle cx="1146.4" cy="325.5" r="5.7"/><circle cx="1149.5" cy="325.5" r="5.7"/><circle cx="1152.6" cy="325.5" r="5.7"/><circle cx="1155.7" cy="325.5" r="5.7"/><circle cx="1122.9" cy="330" r="5.7"/><circle cx="1126" cy="330" r="5.7"/><circle cx="1129.2" cy="330" r="5.7"/><circle cx="1132.3" cy="330" r="5.7"/><circle cx="1135.5" cy="330" r="5.7"/><circle cx="1138.6" cy="330" r="5.7"/><circle cx="1141.7" cy="330" r="5.7"/><circle cx="1144.9" cy="330" r="5.7"/><circle cx="1148" cy="330" r="5.7"/><circle cx="1151.2" cy="330" r="5.7"/><circle cx="1154.3" cy="330" r="5.7"/><circle cx="1125" cy="334.5" r="5.7"/><circle cx="1128" cy="334.5" r="5.7"/><circle cx="1131" cy="334.5" r="5.7"/><circle cx="1134" cy="334.5" r="5.7"/><circle cx="1137.1" cy="334.5" r="5.7"/><circle cx="1140.1" cy="334.5" r="5.7"/><circle cx="1143.2" cy="334.5" r="5.7"/><circle cx="1146.2" cy="334.5" r="5.7"/><circle cx="1149.2" cy="334.5" r="5.7"/><circle cx="1152.2" cy="334.5" r="5.7"/><circle cx="1126" cy="339" r="5.7"/><circle cx="1129.2" cy="339" r="5.7"/><circle cx="1132.3" cy="339" r="5.7"/><circle cx="1135.5" cy="339" r="5.7"/><circle cx="1138.6" cy="339" r="5.7"/><circle cx="1141.7" cy="339" r="5.7"/><circle cx="1144.9" cy="339" r="5.7"/><circle cx="1148" cy="339" r="5.7"/><circle cx="1151.2" cy="339" r="5.7"/><circle cx="1123" cy="343.5" r="5.7"/><circle cx="1126.1" cy="343.5" r="5.7"/><circle cx="1129.2" cy="343.5" r="5.7"/><circle cx="1132.4" cy="343.5" r="5.7"/><circle cx="1135.5" cy="343.5" r="5.7"/><circle cx="1138.6" cy="343.5" r="5.7"/><circle cx="1141.7" cy="343.5" r="5.7"/><circle cx="1144.8" cy="343.5" r="5.7"/><circle cx="1148" cy="343.5" r="5.7"/><circle cx="1151.1" cy="343.5" r="5.7"/><circle cx="1154.2" cy="343.5" r="5.7"/><circle cx="1123.9" cy="348" r="5.7"/><circle cx="1127.1" cy="348" r="5.7"/><circle cx="1130.4" cy="348" r="5.7"/><circle cx="1133.7" cy="348" r="5.7"/><circle cx="1137" cy="348" r="5.7"/><circle cx="1140.2" cy="348" r="5.7"/><circle cx="1143.5" cy="348" r="5.7"/><circle cx="1146.8" cy="348" r="5.7"/><circle cx="1150.1" cy="348" r="5.7"/><circle cx="1153.3" cy="348" r="5.7"/><circle cx="1130.1" cy="352.5" r="5.7"/><circle cx="1133.5" cy="352.5" r="5.7"/><circle cx="1136.9" cy="352.5" r="5.7"/><circle cx="1140.3" cy="352.5" r="5.7"/><circle cx="1143.7" cy="352.5" r="5.7"/><circle cx="1147.1" cy="352.5" r="5.7"/><circle cx="1137" cy="357" r="5.7"/><circle cx="1140.2" cy="357" r="5.7"/><circle cx="1138.6" cy="361.5" r="5.7"/><circle cx="1147.6" cy="156.1" r="5.7"/><circle cx="1130.6" cy="161.8" r="5.7"/><circle cx="1123.6" cy="221.3" r="5.7"/><circle cx="1129.6" cy="224.7" r="5.7"/><circle cx="1138.6" cy="225.8" r="5.7"/><circle cx="1146.6" cy="223.6" r="5.7"/><circle cx="1154.6" cy="219" r="5.7"/><circle cx="1138.6" cy="249.8" r="5.7"/><circle cx="1129.6" cy="257.8" r="5.7"/><circle cx="1122.6" cy="270.4" r="5.7"/><circle cx="1147.6" cy="269.3" r="5.7"/><circle cx="1154.6" cy="275" r="5.7"/><circle cx="1132.6" cy="279.5" r="5.7"/><circle cx="1142.6" cy="285.3" r="5.7"/><circle cx="1148.6" cy="286.4" r="5.7"/><circle cx="1130.6" cy="287.5" r="5.7"/><circle cx="1138.6" cy="291" r="5.7"/><circle cx="1152.6" cy="297.8" r="5.7"/><circle cx="1124.6" cy="300.1" r="5.7"/><circle cx="1135.6" cy="300.1" r="5.7"/><circle cx="1144.6" cy="300.1" r="5.7"/><circle cx="1121.6" cy="305.8" r="5.7"/><circle cx="1155.6" cy="304.7" r="5.7"/>
</g>
<line x1="1115.6" y1="320.7" x2="1161.6" y2="320.7" stroke="#000" stroke-width="1.8"/>
<line x1="1126.6" y1="317.7" x2="1150.6" y2="317.7" stroke="#000" stroke-width="1.6"/>
<line x1="1126.6" y1="323.7" x2="1150.6" y2="323.7" stroke="#000" stroke-width="1.6"/>
<line x1="1138.6" y1="317.7" x2="1138.6" y2="323.7" stroke="#000" stroke-width="1.6"/>
<text x="1058" y="127.5" text-anchor="middle" font-size="28.5">****</text>
<text x="1139" y="151.5" text-anchor="middle" font-size="28.5">****</text>
<text x="1097" y="85.2" text-anchor="middle" font-size="26">n.s.</text>
<path d="M1057.5 101L1057.5 93.5L1137 93.5L1137 101" fill="none" stroke="#231f20" stroke-width="1.6"/>
<text x="997" y="418" text-anchor="end" transform="rotate(-45 997 418)">Saline</text>
<text x="1078.5" y="418" text-anchor="end" transform="rotate(-45 1078.5 418)">BzATP</text>
<text x="1159.5" y="418" text-anchor="end" transform="rotate(-45 1159.5 418)">ATP</text>
<!-- panel d -->
<text x="1204.5" y="31.5" class="pl">d</text>
<line x1="1383" y1="36.2" x2="1412" y2="36.2" stroke="#a97c50" stroke-width="4.2" stroke-linecap="round"/>
<line x1="1383" y1="67.8" x2="1412" y2="67.8" stroke="#ec008c" stroke-width="4.2" stroke-linecap="round"/>
<text x="1432" y="44.5" font-size="25.8">BzATP</text>
<text x="1432" y="76.5" font-size="25.8">ATP</text>
<text transform="translate(1248.6 324) rotate(-90)">Crosscorr. Coeff.</text>
<g fill="none" stroke="#a97c50" stroke-width="2.8" stroke-linejoin="round">
<path d="M1333.6 116.6 1335.9 115.5 1338.2 114.7 1340.4 115.3 1342.7 117.3 1345 119.9 1347.3 121.6 1349.5 122 1351.8 121.7 1354.1 121.7 1356.4 122.2 1358.6 122.7 1360.9 122.3 1363.2 121 1365.5 119.4 1367.7 118.4 1370 118.4 1372.3 119.8 1374.6 122 1376.9 124 1379.1 124.6 1381.4 123.6 1383.7 122.2 1386 121.7 1388.2 122.6 1390.5 124.2 1392.8 125 1395.1 124.3 1397.3 121.9 1399.6 117.8 1401.9 112.3 1404.2 106 1406.4 100.1 1408.7 95.9 1411 94 1413.3 93.6 1415.5 93.8 1417.8 93.8 1420.1 93.6 1422.4 93.3 1424.7 92.6 1426.9 92.1 1429.2 92.2 1431.5 93.9 1433.8 97.2 1436 101.1 1438.3 104.5 1440.6 107.2 1442.9 109.5 1445.1 128.2 1447.4 132.3 1449.7 136.6 1452 139.5 1454.2 140.5 1456.5 140.1 1458.8 140 1461.1 141.2 1463.4 143.7 1465.6 146.3 1467.9 147.7 1470.2 146.9 1472.5 143.8 1474.7 139.2 1477 134.4 1479.3 130.2 1481.6 127.1 1483.8 125.6 1486.1 126.1 1488.4 128.5 1490.7 132.3 1492.9 136.5 1495.2 140.6 1497.5 144.4 1499.8 147.3 1502 148.2 1504.3 146.3 1506.6 141.9 1508.9 136.7 1511.2 133.1 1513.4 132.5 1515.7 134.6 1518 137.4 1520.3 139.4 1522.5 140.4 1524.8 141.3 1527.1 142.7 1529.4 144.3 1531.6 145.1 1533.9 144.2 1536.2 141.7"/>
<path d="M1333.6 189 1335.9 189.4 1338.2 190.5 1340.4 191.7 1342.7 191.3 1345 188.3 1347.3 184.1 1349.5 181 1351.8 180.2 1354.1 180.7 1356.4 180.8 1358.6 180.5 1360.9 181.2 1363.2 183.9 1365.5 188 1367.7 191.2 1370 192.2 1372.3 191.2 1374.6 189.4 1376.9 188.1 1379.1 187 1381.4 185.5 1383.7 183.9 1386 183.1 1388.2 182.9 1390.5 182.6 1392.8 181.7 1395.1 180.7 1397.3 180.2 1399.6 180.1 1401.9 179.9 1404.2 179.6 1406.4 180 1408.7 181.6 1411 184 1413.3 186.1 1415.5 187.1 1417.8 186.8 1420.1 186 1422.4 185.7 1424.7 186.6 1426.9 188.1 1429.2 189 1431.5 188.7 1433.8 188.4 1436 189.4 1438.3 192.1 1440.6 194.9 1442.9 196.2 1445.1 195.2 1447.4 192.8 1449.7 178.6 1452 178.5 1454.2 178.8 1456.5 177.7 1458.8 175.1 1461.1 172.2 1463.4 170.5 1465.6 171.3 1467.9 174.8 1470.2 179.6 1472.5 183.8 1474.7 186.7 1477 188.5 1479.3 189.1 1481.6 187.7 1483.8 184.1 1486.1 179.7 1488.4 176.2 1490.7 175 1492.9 176.1 1495.2 178.3 1497.5 179.4 1499.8 178.6 1502 176.5 1504.3 173.4 1506.6 170.1 1508.9 167.9 1511.2 167.8 1513.4 169.2 1515.7 170.5 1518 171 1520.3 171.2 1522.5 172 1524.8 173.6 1527.1 174.8 1529.4 174.3 1531.6 172 1533.9 170 1536.2 170.5"/>
<path d="M1333.6 102.6 1335.9 102.9 1338.2 103.2 1340.4 103.7 1342.7 103.8 1345 103.7 1347.3 103.4 1349.5 102.9 1351.8 102.4 1354.1 102.5 1356.4 103.4 1358.6 104.6 1360.9 105.7 1363.2 107 1365.5 108.4 1367.7 109.1 1370 108.5 1372.3 107.4 1374.6 106.5 1376.9 106 1379.1 105.4 1381.4 105.1 1383.7 106.1 1386 108.9 1388.2 112.7 1390.5 116.3 1392.8 118.8 1395.1 120.3 1397.3 122.2 1399.6 125 1401.9 128.4 1404.2 131.1 1406.4 132.2 1408.7 132 1411 132.7 1413.3 135.6 1415.5 139.7 1417.8 142 1420.1 141.8 1422.4 140.6 1424.7 140.1 1426.9 140 1429.2 139.4 1431.5 137.9 1433.8 135.9 1436 134 1438.3 132.8 1440.6 132.6 1442.9 133.5 1445.1 135.9 1447.4 139.4 1449.7 142.4 1452 143.7 1454.2 143.4 1456.5 142.8 1458.8 142.6 1461.1 142.7 1463.4 143.1 1465.6 143.6 1467.9 143.4 1470.2 141.9 1472.5 139.1 1474.7 135.8 1477 132.8 1479.3 131.3 1481.6 132.5 1483.8 135.9 1486.1 139.2 1488.4 140 1490.7 138.3 1492.9 136 1495.2 135 1497.5 135.1 1499.8 135.3 1502 134.7 1504.3 133.4 1506.6 131.8 1508.9 130.5 1511.2 130.1 1513.4 130.6 1515.7 131.5 1518 132.4 1520.3 133.2 1522.5 134.2 1524.8 135.5 1527.1 137.2 1529.4 138.8 1531.6 140.3 1533.9 141.9 1536.2 143.3"/>
<path d="M1333.6 161.8 1335.9 165.7 1338.2 169.3 1340.4 171.4 1342.7 172.7 1345 175.1 1347.3 178.9 1349.5 182.3 1351.8 182.9 1354.1 180.9 1356.4 179.2 1358.6 179.8 1360.9 182 1363.2 183.5 1365.5 183.3 1367.7 182.6 1370 182.4 1372.3 182.1 1374.6 180.5 1376.9 178.4 1379.1 177.5 1381.4 178.9 1383.7 181.6 1386 183.9 1388.2 184.8 1390.5 184.7 1392.8 183.9 1395.1 181.8 1397.3 178.3 1399.6 174.5 1401.9 172.2 1404.2 171.7 1406.4 172.4 1408.7 174.1 1411 176.9 1413.3 180.1 1415.5 182.1 1417.8 182.8 1420.1 183 1422.4 183.1 1424.7 183.1 1426.9 183 1429.2 183.4 1431.5 184.4 1433.8 185.7 1436 187.4 1438.3 190 1440.6 193.2 1442.9 196.2 1445.1 197.3 1447.4 196.5 1449.7 192.3 1452 186.8 1454.2 182.8 1456.5 181.9 1458.8 183.4 1461.1 185.4 1463.4 176.5 1465.6 177.5 1467.9 178 1470.2 177.4 1472.5 175.3 1474.7 171.9 1477 168.7 1479.3 167.6 1481.6 169.7 1483.8 174.3 1486.1 179.1 1488.4 182.1 1490.7 182.7 1492.9 181.7 1495.2 179.8 1497.5 176.8 1499.8 172.7 1502 169.2 1504.3 167.7 1506.6 168 1508.9 168.9 1511.2 169.3 1513.4 169.2 1515.7 169.5 1518 170.6 1520.3 171.3 1522.5 170.2 1524.8 168.2 1527.1 167.5 1529.4 168.1 1531.6 168.4 1533.9 168.3 1536.2 167.7"/>
<path d="M1333.6 131.3 1335.9 134.9 1338.2 137.6 1340.4 138.8 1342.7 138.1 1345 135.8 1347.3 132.7 1349.5 129.4 1351.8 126.7 1354.1 124.9 1356.4 124.2 1358.6 124.5 1360.9 125.6 1363.2 127.3 1365.5 129.2 1367.7 131.3 1370 133.3 1372.3 135.1 1374.6 136.7 1376.9 138.2 1379.1 139.8 1381.4 141.2 1383.7 142.7 1386 143.7 1388.2 144.5 1390.5 144.8 1392.8 144.8 1395.1 144.8 1397.3 144.9 1399.6 145.3 1401.9 145.9 1404.2 146.4 1406.4 146.2 1408.7 145.1 1411 143 1413.3 140.4 1415.5 137.9 1417.8 135.7 1420.1 133.9 1422.4 131.9 1424.7 129.7 1426.9 127.5 1429.2 125.9 1431.5 125.7 1433.8 127.3 1436 131.3 1438.3 136.8 1440.6 143 1442.9 148.4 1445.1 151.8 1447.4 152.8 1449.7 151.4 1452 148.6 1454.2 145.4 1456.5 143 1458.8 141.8 1461.1 141.8 1463.4 142.4 1465.6 143.1 1467.9 142.8 1470.2 141.7 1472.5 140.3 1474.7 139.8 1477 141.3 1479.3 145.2 1481.6 150.5 1483.8 155.4 1486.1 158.3 1488.4 158.6 1490.7 156.3 1492.9 152.5 1495.2 148.5 1497.5 145.2 1499.8 143.3 1502 142.9 1504.3 144 1506.6 146.2 1508.9 148.8 1511.2 151.3 1513.4 153.2 1515.7 154.1 1518 154.1 1520.3 153.3 1522.5 152.3 1524.8 151 1527.1 150 1529.4 149.6 1531.6 149.8 1533.9 150.2 1536.2 150.2"/>
<path d="M1333.6 144.6 1335.9 140.8 1338.2 138.2 1340.4 136.8 1342.7 135.9 1345 135.2 1347.3 134.2 1349.5 133.5 1351.8 133.4 1354.1 134 1356.4 135.8 1358.6 138.6 1360.9 141.6 1363.2 143.7 1365.5 144 1367.7 141.7 1370 137.3 1372.3 131.7 1374.6 126.5 1376.9 122.8 1379.1 121.5 1381.4 122.3 1383.7 124.8 1386 128.5 1388.2 132.8 1390.5 136.8 1392.8 140 1395.1 141.6 1397.3 141.3 1399.6 139 1401.9 135.4 1404.2 130.5 1406.4 125.1 1408.7 119.3 1411 114.3 1413.3 111 1415.5 110.2 1417.8 112.2 1420.1 116.3 1422.4 121.1 1424.7 125.5 1426.9 128 1429.2 128.1 1431.5 126 1433.8 122.4 1436 119.2 1438.3 117.2 1440.6 117.2 1442.9 119 1445.1 121.8 1447.4 125.6 1449.7 130.3 1452 135.7 1454.2 141.2 1456.5 146.2 1458.8 150.1 1461.1 152.6 1463.4 153.9 1465.6 154.8 1467.9 155.2 1470.2 155 1472.5 154.2 1474.7 152.6 1477 150.7 1479.3 148.5 1481.6 147 1483.8 146.7 1486.1 147.7 1488.4 150 1490.7 152.9 1492.9 154.9 1495.2 154.9 1497.5 152 1499.8 147.1 1502 141.4 1504.3 136.7 1506.6 134.1 1508.9 133.9 1511.2 135.6 1513.4 138.1 1515.7 140.6 1518 142.4 1520.3 142.8 1522.5 142 1524.8 140.3 1527.1 138.1 1529.4 136.4 1531.6 136.2 1533.9 138 1536.2 141.8"/>
<path d="M1333.6 143.5 1335.9 140 1338.2 136.1 1340.4 132.8 1342.7 130.7 1345 130.4 1347.3 132.2 1349.5 135.9 1351.8 141.1 1354.1 146.8 1356.4 152.3 1358.6 157.2 1360.9 161 1363.2 163.5 1365.5 164.2 1367.7 162.5 1370 158.9 1372.3 153.7 1374.6 148.1 1376.9 143.1 1379.1 139.7 1381.4 137.8 1383.7 137.4 1386 138 1388.2 139.1 1390.5 140.3 1392.8 141.2 1395.1 141.4 1397.3 140.5 1399.6 138.6 1401.9 136.2 1404.2 133.9 1406.4 132.5 1408.7 131.9 1411 132 1413.3 132.1 1415.5 132 1417.8 131.9 1420.1 132 1422.4 132.6 1424.7 133.1 1426.9 133.3 1429.2 132.7 1431.5 131.7 1433.8 130.4 1436 129 1438.3 127.3 1440.6 125.1 1442.9 122.3 1445.1 119.9 1447.4 118.6 1449.7 119.1 1452 121.5 1454.2 125.1 1456.5 129.3 1458.8 133.6 1461.1 138.2 1463.4 143 1465.6 148.3 1467.9 153.4 1470.2 158 1472.5 161.5 1474.7 163.6 1477 164.3 1479.3 163.7 1481.6 162 1483.8 159.3 1486.1 156.2 1488.4 152.9 1490.7 150 1492.9 147.6 1495.2 145.9 1497.5 144.8 1499.8 144.4 1502 144.7 1504.3 145.4 1506.6 146.3 1508.9 146.9 1511.2 147.1 1513.4 146.9 1515.7 147 1518 148 1520.3 150.3 1522.5 154 1524.8 158.7 1527.1 163.9 1529.4 168.6 1531.6 172.4 1533.9 174.6 1536.2 175"/>
<path d="M1333.6 154.4 1335.9 155.5 1338.2 156.1 1340.4 156.3 1342.7 156.5 1345 157 1347.3 157.8 1349.5 158.4 1351.8 158.7 1354.1 157.9 1356.4 156.1 1358.6 153.4 1360.9 150.1 1363.2 146.8 1365.5 143.6 1367.7 140.8 1370 138.5 1372.3 137.1 1374.6 136.4 1376.9 136.8 1379.1 137.9 1381.4 139.2 1383.7 140.4 1386 140.9 1388.2 140.6 1390.5 139.5 1392.8 138 1395.1 136.4 1397.3 135.3 1399.6 135 1401.9 135.5 1404.2 136.7 1406.4 138.2 1408.7 139.6 1411 140.5 1413.3 140.8 1415.5 140.4 1417.8 139.6 1420.1 138.7 1422.4 138.2 1424.7 138.5 1426.9 139.8 1429.2 141.7 1431.5 143.6 1433.8 145 1436 145.5 1438.3 145.2 1440.6 144.6 1442.9 144.1 1445.1 144 1447.4 144.5 1449.7 145.5 1452 147.2 1454.2 149.1 1456.5 151.3 1458.8 153.3 1461.1 154.7 1463.4 155.3 1465.6 155.1 1467.9 154.3 1470.2 153.1 1472.5 151.9 1474.7 150.9 1477 150.3 1479.3 150.2 1481.6 150.3 1483.8 150.7 1486.1 151.1 1488.4 151.2 1490.7 150.7 1492.9 149.7 1495.2 148 1497.5 145.7 1499.8 143.3 1502 141.2 1504.3 139.7 1506.6 139.5 1508.9 140.4 1511.2 142 1513.4 143.8 1515.7 145.1 1518 145.4 1520.3 144.8 1522.5 143.8 1524.8 142.8 1527.1 142.6 1529.4 143.1 1531.6 144 1533.9 144.8 1536.2 144.9"/>
<path d="M1333.6 111.3 1335.9 114.1 1338.2 118 1340.4 122.3 1342.7 126.7 1345 130.4 1347.3 132.9 1349.5 134.2 1351.8 134.1 1354.1 132.7 1356.4 131.1 1358.6 129.7 1360.9 129.6 1363.2 130.5 1365.5 132.2 1367.7 133.9 1370 135 1372.3 135.9 1374.6 136.8 1376.9 138.1 1379.1 139.6 1381.4 140.7 1383.7 140.9 1386 140.4 1388.2 139.2 1390.5 138 1392.8 137.2 1395.1 136.6 1397.3 135.9 1399.6 135.1 1401.9 134.2 1404.2 133.6 1406.4 133.3 1408.7 133.4 1411 133.1 1413.3 131.7 1415.5 129.1 1417.8 125.3 1420.1 121.5 1422.4 119 1424.7 118.4 1426.9 119.8 1429.2 123.1 1431.5 127.3 1433.8 132.6 1436 138.9 1438.3 145.8 1440.6 152.3 1442.9 157.2 1445.1 159.6 1447.4 159.7 1449.7 158.1 1452 156.3 1454.2 154.5 1456.5 153.2 1458.8 151.5 1461.1 149.8 1463.4 148.2 1465.6 147.4 1467.9 147.5 1470.2 148 1472.5 148.5 1474.7 148.4 1477 147.9 1479.3 147.3 1481.6 146.5 1483.8 145.8 1486.1 144.5 1488.4 142.7 1490.7 140.5 1492.9 138.8 1495.2 137.9 1497.5 138 1499.8 138.5 1502 138.7 1504.3 137.8 1506.6 136.1 1508.9 134.2 1511.2 132.6 1513.4 132 1515.7 132.2 1518 133 1520.3 133.5 1522.5 133.2 1524.8 131.5 1527.1 128.3 1529.4 124 1531.6 119.3 1533.9 115.5 1536.2 114.1"/>
<path d="M1333.6 142.7 1335.9 143.3 1338.2 145.1 1340.4 148.5 1342.7 152.9 1345 158 1347.3 162.9 1349.5 166.8 1351.8 169.1 1354.1 169.2 1356.4 167.5 1358.6 165.1 1360.9 162.9 1363.2 162 1365.5 162.4 1367.7 163.7 1370 164.6 1372.3 164.1 1374.6 161.8 1376.9 157.9 1379.1 152.8 1381.4 147.8 1383.7 143.7 1386 141.3 1388.2 140.5 1390.5 140.9 1392.8 142.2 1395.1 144.1 1397.3 146.9 1399.6 150.7 1401.9 155.2 1404.2 159.8 1406.4 163.6 1408.7 166.1 1411 166.7 1413.3 165.9 1415.5 164 1417.8 161.4 1420.1 158.2 1422.4 154.1 1424.7 148.7 1426.9 142.1 1429.2 134.7 1431.5 127.9 1433.8 123.6 1436 122.8 1438.3 125.5 1440.6 130.4 1442.9 135.9 1445.1 140.4 1447.4 143.4 1449.7 145 1452 145.8 1454.2 146.5 1456.5 147.5 1458.8 148.6 1461.1 150.2 1463.4 152 1465.6 153.7 1467.9 155.5 1470.2 157.1 1472.5 158.5 1474.7 159.2 1477 159.3 1479.3 158.6 1481.6 157.2 1483.8 155.4 1486.1 153.6 1488.4 151.9 1490.7 150.1 1492.9 148.2 1495.2 146.8 1497.5 146.6 1499.8 148.4 1502 152.3 1504.3 158 1506.6 164.3 1508.9 170.1 1511.2 174.4 1513.4 176.7 1515.7 177 1518 175.7 1520.3 173.6 1522.5 171.6 1524.8 169.7 1527.1 168.3 1529.4 166.9 1531.6 165.4 1533.9 163.7 1536.2 162.4"/>
<path d="M1333.6 136.7 1335.9 137.3 1338.2 138 1340.4 138.6 1342.7 139.2 1345 139.7 1347.3 140.1 1349.5 140.2 1351.8 139.9 1354.1 139.2 1356.4 138.3 1358.6 137.6 1360.9 137.5 1363.2 138.2 1365.5 139.8 1367.7 142.1 1370 144.8 1372.3 147.5 1374.6 149.7 1376.9 151.2 1379.1 151.6 1381.4 151 1383.7 149.5 1386 147.5 1388.2 145.2 1390.5 143 1392.8 141.3 1395.1 139.8 1397.3 138.6 1399.6 137.3 1401.9 136 1404.2 134.5 1406.4 133.2 1408.7 132 1411 131.2 1413.3 131 1415.5 131.5 1417.8 132.6 1420.1 134 1422.4 135.6 1424.7 136.8 1426.9 137.7 1429.2 138.2 1431.5 138.7 1433.8 139.4 1436 140.7 1438.3 142.8 1440.6 145.5 1442.9 148.6 1445.1 151.6 1447.4 153.9 1449.7 155.3 1452 155.9 1454.2 155.8 1456.5 155.6 1458.8 155.5 1461.1 155.9 1463.4 156.6 1465.6 157.3 1467.9 157.7 1470.2 157.5 1472.5 156.6 1474.7 155.3 1477 154 1479.3 152.8 1481.6 151.9 1483.8 151.4 1486.1 151.2 1488.4 151.2 1490.7 151.1 1492.9 150.9 1495.2 150.5 1497.5 150.1 1499.8 149.8 1502 149.8 1504.3 150.1 1506.6 150.5 1508.9 151 1511.2 151.3 1513.4 151.3 1515.7 150.8 1518 149.8 1520.3 148.1 1522.5 146 1524.8 143.8 1527.1 142.1 1529.4 141.1 1531.6 141.1 1533.9 141.9 1536.2 143.1"/>
<path d="M1333.6 133.6 1335.9 134.9 1338.2 136.1 1340.4 137.6 1342.7 139.2 1345 141.3 1347.3 143.6 1349.5 145.8 1351.8 147.7 1354.1 149.2 1356.4 149.8 1358.6 149.8 1360.9 149.4 1363.2 148.5 1365.5 146.9 1367.7 144.3 1370 140.5 1372.3 135.8 1374.6 130.7 1376.9 126.2 1379.1 123.1 1381.4 121.7 1383.7 122 1386 123.6 1388.2 125.9 1390.5 128.5 1392.8 130.9 1395.1 133.1 1397.3 135 1399.6 136.5 1401.9 137.6 1404.2 137.6 1406.4 136.3 1408.7 133.3 1411 128.8 1413.3 123.5 1415.5 118.3 1417.8 114 1420.1 111.2 1422.4 110.3 1424.7 111.1 1426.9 113.3 1429.2 116.2 1431.5 118.9 1433.8 121 1436 122 1438.3 122.7 1440.6 123.5 1442.9 124.7 1445.1 125.5 1447.4 125.6 1449.7 124.3 1452 121.7 1454.2 118.6 1456.5 115.9 1458.8 114.1 1461.1 113.6 1463.4 114.2 1465.6 115.7 1467.9 118.1 1470.2 121 1472.5 124.6 1474.7 128.3 1477 131.6 1479.3 134.1 1481.6 135.5 1483.8 136.3 1486.1 136.8 1488.4 137.6 1490.7 138.9 1492.9 140.3 1495.2 141.2 1497.5 141.4 1499.8 141.2 1502 141.4 1504.3 142.6 1506.6 144.3 1508.9 146 1511.2 146.2 1513.4 144.7 1515.7 141.4 1518 137.3 1520.3 133.1 1522.5 129.8 1524.8 128 1527.1 127.7 1529.4 128.8 1531.6 130.4 1533.9 131.9 1536.2 132.2"/>
<path d="M1333.6 132.2 1335.9 133.5 1338.2 136 1340.4 139.5 1342.7 143.2 1345 146.5 1347.3 148.9 1349.5 150.6 1351.8 151.7 1354.1 152.1 1356.4 152 1358.6 150.9 1360.9 148.5 1363.2 145.1 1365.5 141.5 1367.7 138.5 1370 136.7 1372.3 136.5 1374.6 137.3 1376.9 138.6 1379.1 139.4 1381.4 139.7 1383.7 139.7 1386 139.8 1388.2 140.2 1390.5 140.7 1392.8 140.6 1395.1 139.4 1397.3 137.2 1399.6 134.1 1401.9 130.9 1404.2 127.9 1406.4 125.3 1408.7 122.8 1411 120.4 1413.3 118.2 1415.5 116.5 1417.8 115.4 1420.1 114.9 1422.4 114.7 1424.7 114.9 1426.9 115.8 1429.2 117.3 1431.5 120 1433.8 123.7 1436 128.3 1438.3 133.2 1440.6 137.9 1442.9 141.7 1445.1 144.7 1447.4 146.7 1449.7 147.9 1452 148 1454.2 147 1456.5 144.6 1458.8 140.9 1461.1 136.4 1463.4 131.9 1465.6 128.2 1467.9 126.1 1470.2 125.6 1472.5 126.4 1474.7 127.8 1477 128.9 1479.3 129.8 1481.6 130.9 1483.8 132.7 1486.1 135.6 1488.4 139 1490.7 142.6 1492.9 145.6 1495.2 147.9 1497.5 149.2 1499.8 149.6 1502 148.7 1504.3 147.1 1506.6 145.1 1508.9 143.8 1511.2 143.6 1513.4 144.6 1515.7 146.1 1518 147.4 1520.3 147.4 1522.5 146.1 1524.8 143.8 1527.1 141.2 1529.4 139.3 1531.6 138.7 1533.9 139.4 1536.2 140.7"/>
<path d="M1333.6 129.5 1335.9 131.2 1338.2 132.9 1340.4 134.4 1342.7 135.6 1345 136.5 1347.3 137.1 1349.5 137.8 1351.8 138.5 1354.1 139.1 1356.4 139.5 1358.6 139.4 1360.9 138.9 1363.2 138.2 1365.5 137.5 1367.7 137.2 1370 137.6 1372.3 138.7 1374.6 140 1376.9 140.8 1379.1 140.6 1381.4 139.2 1383.7 136.7 1386 133.7 1388.2 130.9 1390.5 128.9 1392.8 127.8 1395.1 127.7 1397.3 128.1 1399.6 128.8 1401.9 129.5 1404.2 129.8 1406.4 129.8 1408.7 129.3 1411 128.8 1413.3 128.4 1415.5 128.4 1417.8 128.7 1420.1 129.1 1422.4 129.6 1424.7 130.1 1426.9 130.7 1429.2 131.2 1431.5 131.7 1433.8 132 1436 132.2 1438.3 132.5 1440.6 133.3 1442.9 134.5 1445.1 136 1447.4 137.6 1449.7 139.3 1452 141.1 1454.2 143.2 1456.5 145.5 1458.8 147.8 1461.1 149.9 1463.4 151.1 1465.6 151.1 1467.9 149.6 1470.2 146.9 1472.5 143.3 1474.7 139.6 1477 136.1 1479.3 133.3 1481.6 131.1 1483.8 129.6 1486.1 129 1488.4 129 1490.7 129.9 1492.9 131.3 1495.2 132.9 1497.5 134.5 1499.8 135.8 1502 136.8 1504.3 137.5 1506.6 138 1508.9 138.3 1511.2 138.3 1513.4 138 1515.7 137.5 1518 137.1 1520.3 136.7 1522.5 136.5 1524.8 136.6 1527.1 137.1 1529.4 137.8 1531.6 139.1 1533.9 140.9 1536.2 143.2"/>
<path d="M1333.6 134.4 1335.9 137 1338.2 139.5 1340.4 141.8 1342.7 144.1 1345 146.9 1347.3 150.3 1349.5 154 1351.8 157.1 1354.1 158.9 1356.4 158.5 1358.6 156.1 1360.9 152.3 1363.2 148.4 1365.5 145.4 1367.7 144 1370 144.3 1372.3 145.8 1374.6 148.2 1376.9 150.9 1379.1 153.3 1381.4 155.1 1383.7 156 1386 155.9 1388.2 154.8 1390.5 152.8 1392.8 149.5 1395.1 145.1 1397.3 139.9 1399.6 134.5 1401.9 129.3 1404.2 125.2 1406.4 122.3 1408.7 120.5 1411 119.5 1413.3 118.9 1415.5 118.4 1417.8 117.9 1420.1 117.1 1422.4 116.2 1424.7 115.5 1426.9 115.3 1429.2 115.5 1431.5 116.3 1433.8 117.4 1436 118.7 1438.3 120.4 1440.6 122.7 1442.9 125.7 1445.1 129.4 1447.4 133.8 1449.7 138.9 1452 144.5 1454.2 150.4 1456.5 156 1458.8 160.8 1461.1 163.9 1463.4 165.1 1465.6 164.3 1467.9 162.4 1470.2 159.7 1472.5 157.3 1474.7 155.9 1477 155.9 1479.3 157.1 1481.6 159.1 1483.8 161.3 1486.1 162.9 1488.4 163.7 1490.7 163.8 1492.9 163.5 1495.2 163.2 1497.5 162.9 1499.8 162.7 1502 162.3 1504.3 161.5 1506.6 160.7 1508.9 160.1 1511.2 159.5 1513.4 158.8 1515.7 157.9 1518 156.8 1520.3 155.7 1522.5 154.8 1524.8 154.3 1527.1 154.2 1529.4 154.2 1531.6 154.5 1533.9 155 1536.2 155.7"/>
<path d="M1333.6 125.5 1335.9 124.7 1338.2 126.2 1340.4 129.5 1342.7 133.6 1345 137.5 1347.3 140.5 1349.5 143 1351.8 145.6 1354.1 148.7 1356.4 153 1358.6 157.7 1360.9 161.8 1363.2 164.1 1365.5 163.8 1367.7 160.6 1370 155.2 1372.3 148.5 1374.6 142 1376.9 136.8 1379.1 133.9 1381.4 132.8 1383.7 132.7 1386 132.7 1388.2 132 1390.5 131.2 1392.8 131.2 1395.1 132.7 1397.3 135.8 1399.6 139.8 1401.9 143.4 1404.2 145.6 1406.4 145.7 1408.7 144 1411 141.2 1413.3 137.8 1415.5 134.7 1417.8 132.2 1420.1 130.9 1422.4 130.3 1424.7 130.1 1426.9 129.9 1429.2 129.7 1431.5 129.7 1433.8 130.6 1436 132.6 1438.3 135.4 1440.6 138.4 1442.9 141 1445.1 142.6 1447.4 143.4 1449.7 143.7 1452 143.8 1454.2 143.4 1456.5 142.1 1458.8 140 1461.1 137 1463.4 133.5 1465.6 130.4 1467.9 128.2 1470.2 127.5 1472.5 128.2 1474.7 130 1477 132 1479.3 134.2 1481.6 135.8 1483.8 137.1 1486.1 137.8 1488.4 137.9 1490.7 137.2 1492.9 136.2 1495.2 135.4 1497.5 135.1 1499.8 135.3 1502 135.5 1504.3 135.1 1506.6 133.6 1508.9 131.3 1511.2 128.9 1513.4 127.3 1515.7 127.5 1518 129.6 1520.3 133.3 1522.5 137.5 1524.8 141.1 1527.1 143.4 1529.4 144 1531.6 143.3 1533.9 142 1536.2 140.7"/>
<path d="M1333.6 154.1 1335.9 154.1 1338.2 154 1340.4 153.8 1342.7 153.4 1345 153.3 1347.3 153.9 1349.5 155.4 1351.8 157.6 1354.1 160 1356.4 161.7 1358.6 162.1 1360.9 161.3 1363.2 159.4 1365.5 157.4 1367.7 155.6 1370 154.3 1372.3 153.5 1374.6 152.7 1376.9 151.7 1379.1 150.5 1381.4 149.2 1383.7 148.4 1386 148.6 1388.2 149.8 1390.5 152 1392.8 154.5 1395.1 156.7 1397.3 157.8 1399.6 157.6 1401.9 156.1 1404.2 153.6 1406.4 150.5 1408.7 147 1411 143.3 1413.3 139.7 1415.5 136.5 1417.8 134.1 1420.1 133 1422.4 132.8 1424.7 133.5 1426.9 134.3 1429.2 135 1431.5 135.4 1433.8 135.5 1436 135.7 1438.3 136.4 1440.6 137.6 1442.9 139.4 1445.1 141.5 1447.4 143.7 1449.7 146.1 1452 148.5 1454.2 151 1456.5 153.4 1458.8 155.2 1461.1 156.3 1463.4 156.7 1465.6 156.9 1467.9 157.1 1470.2 157.5 1472.5 157.8 1474.7 157.5 1477 156.7 1479.3 155.7 1481.6 154.8 1483.8 154.1 1486.1 153.6 1488.4 153 1490.7 152.1 1492.9 151.1 1495.2 150.2 1497.5 149.8 1499.8 150.1 1502 151.1 1504.3 152.6 1506.6 154.2 1508.9 155.4 1511.2 155.9 1513.4 155.7 1515.7 154.9 1518 154.1 1520.3 153.8 1522.5 154.5 1524.8 156.3 1527.1 159.1 1529.4 162.7 1531.6 166.7 1533.9 170.6 1536.2 173.8"/>
<path d="M1333.6 145.5 1335.9 145.7 1338.2 145.5 1340.4 145.2 1342.7 144.8 1345 144.4 1347.3 144.2 1349.5 144.2 1351.8 144.5 1354.1 145.1 1356.4 146 1358.6 146.8 1360.9 147.5 1363.2 148 1365.5 148.2 1367.7 148.6 1370 149 1372.3 149.5 1374.6 149.8 1376.9 149.4 1379.1 148 1381.4 145.8 1383.7 142.9 1386 140 1388.2 137.8 1390.5 136.5 1392.8 136.3 1395.1 136.9 1397.3 137.5 1399.6 137.7 1401.9 137.2 1404.2 136.2 1406.4 135.1 1408.7 134.4 1411 134.1 1413.3 134.2 1415.5 134.5 1417.8 134.8 1420.1 134.9 1422.4 134.8 1424.7 134.4 1426.9 133.5 1429.2 132.5 1431.5 131.4 1433.8 130.7 1436 130.8 1438.3 131.6 1440.6 132.9 1442.9 134.6 1445.1 136.4 1447.4 138.3 1449.7 140.3 1452 142.3 1454.2 144.3 1456.5 145.9 1458.8 147.1 1461.1 148 1463.4 148.7 1465.6 149.6 1467.9 150.7 1470.2 152.2 1472.5 154 1474.7 156.3 1477 159.1 1479.3 161.8 1481.6 164.1 1483.8 165.3 1486.1 165.3 1488.4 164.1 1490.7 162.1 1492.9 159.9 1495.2 157.5 1497.5 155.1 1499.8 152.7 1502 150.4 1504.3 148.3 1506.6 146.7 1508.9 146 1511.2 146.3 1513.4 147.5 1515.7 149.3 1518 151.2 1520.3 152.9 1522.5 154 1524.8 154.4 1527.1 154.3 1529.4 153.7 1531.6 152.9 1533.9 152.2 1536.2 151.8"/>
<path d="M1333.6 163.8 1335.9 165.3 1338.2 166.3 1340.4 166.7 1342.7 166.5 1345 165.9 1347.3 165.5 1349.5 165.6 1351.8 165.8 1354.1 165.6 1356.4 164 1358.6 160.6 1360.9 155.3 1363.2 148.5 1365.5 140.9 1367.7 133.6 1370 127.5 1372.3 123.8 1374.6 123.4 1376.9 126.2 1379.1 131.6 1381.4 138.2 1383.7 144.5 1386 148.9 1388.2 150.6 1390.5 149.5 1392.8 146.2 1395.1 142 1397.3 138.4 1399.6 136.4 1401.9 136.7 1404.2 138.8 1406.4 141.9 1408.7 144.5 1411 145.7 1413.3 144.9 1415.5 142.4 1417.8 138.2 1420.1 133.4 1422.4 128.4 1424.7 124.3 1426.9 121.8 1429.2 121.3 1431.5 123.3 1433.8 127.1 1436 132.2 1438.3 137.8 1440.6 143.3 1442.9 147.9 1445.1 151.2 1447.4 153.2 1449.7 154 1452 153.9 1454.2 153.2 1456.5 152.5 1458.8 151.9 1461.1 151.2 1463.4 150.8 1465.6 150.8 1467.9 151.6 1470.2 153.4 1472.5 156.2 1474.7 159.2 1477 162 1479.3 163.9 1481.6 164.7 1483.8 164.4 1486.1 163.7 1488.4 162.8 1490.7 162.8 1492.9 163.9 1495.2 165.7 1497.5 167.4 1499.8 168.2 1502 167 1504.3 164 1506.6 159.8 1508.9 155.6 1511.2 152.5 1513.4 150.6 1515.7 149.6 1518 149 1520.3 148.6 1522.5 148.3 1524.8 148.4 1527.1 149.6 1529.4 151.6 1531.6 154.6 1533.9 158.1 1536.2 161.4"/>
<path d="M1333.6 144.6 1335.9 146.6 1338.2 148.7 1340.4 150.9 1342.7 152.7 1345 153.9 1347.3 154.5 1349.5 154.5 1351.8 154.4 1354.1 154.2 1356.4 154.3 1358.6 154.5 1360.9 154.7 1363.2 154.7 1365.5 154.4 1367.7 153.9 1370 153.2 1372.3 152.6 1374.6 152.1 1376.9 151.6 1379.1 151 1381.4 150.4 1383.7 149.6 1386 148.7 1388.2 147.5 1390.5 145.8 1392.8 143.5 1395.1 140.6 1397.3 137.5 1399.6 134.4 1401.9 131.7 1404.2 129.4 1406.4 127.5 1408.7 125.9 1411 124.4 1413.3 123.3 1415.5 122.7 1417.8 122.8 1420.1 123.9 1422.4 125.6 1424.7 127.5 1426.9 129.4 1429.2 131 1431.5 132.3 1433.8 133.5 1436 134.6 1438.3 135.7 1440.6 136.4 1442.9 136.6 1445.1 136.2 1447.4 135.6 1449.7 135.2 1452 135.6 1454.2 137.3 1456.5 140.2 1458.8 144.2 1461.1 148.7 1463.4 152.9 1465.6 155.8 1467.9 157.2 1470.2 157 1472.5 155.6 1474.7 153.8 1477 152 1479.3 150.8 1481.6 150.5 1483.8 150.7 1486.1 151.3 1488.4 151.7 1490.7 151.3 1492.9 150.2 1495.2 148.8 1497.5 147.6 1499.8 147 1502 147.2 1504.3 147.6 1506.6 147.9 1508.9 147.6 1511.2 146.7 1513.4 145.2 1515.7 143.2 1518 141.1 1520.3 139.3 1522.5 138.4 1524.8 138.9 1527.1 140.9 1529.4 144.2 1531.6 148.3 1533.9 152.2 1536.2 155.4"/>
<path d="M1333.6 159.5 1335.9 160.2 1338.2 161.5 1340.4 162.4 1342.7 162.6 1345 161.6 1347.3 159.4 1349.5 156.3 1351.8 152.7 1354.1 149.3 1356.4 146.8 1358.6 145.6 1360.9 145.4 1363.2 145.8 1365.5 146.4 1367.7 147.2 1370 148.7 1372.3 150.7 1374.6 153.3 1376.9 155.7 1379.1 157.5 1381.4 158.5 1383.7 158.8 1386 158.5 1388.2 157.8 1390.5 157 1392.8 156.1 1395.1 155.6 1397.3 155.5 1399.6 155.6 1401.9 155.5 1404.2 155.1 1406.4 154.7 1408.7 154.7 1411 155 1413.3 155.2 1415.5 154.5 1417.8 152 1420.1 148.4 1422.4 145.2 1424.7 143.4 1426.9 143.6 1429.2 144.7 1431.5 145.2 1433.8 144 1436 140.8 1438.3 136.9 1440.6 133.4 1442.9 131.2 1445.1 130.7 1447.4 131.8 1449.7 134 1452 137 1454.2 140.7 1456.5 145.2 1458.8 150.4 1461.1 156.3 1463.4 162.6 1465.6 168.7 1467.9 173.9 1470.2 177.6 1472.5 179.2 1474.7 178.9 1477 176.8 1479.3 173.6 1481.6 169.9 1483.8 166.1 1486.1 162.3 1488.4 158.4 1490.7 154.8 1492.9 151.5 1495.2 149.1 1497.5 147.8 1499.8 147.7 1502 148.8 1504.3 150.4 1506.6 152.2 1508.9 153.8 1511.2 155.2 1513.4 156.1 1515.7 156.9 1518 157.8 1520.3 158.7 1522.5 159.8 1524.8 160.6 1527.1 161 1529.4 160.4 1531.6 158.7 1533.9 155.8 1536.2 152.5"/>
<path d="M1333.6 132.3 1335.9 129.2 1338.2 126.1 1340.4 124.7 1342.7 125.6 1345 128.6 1347.3 133 1349.5 137.7 1351.8 141.6 1354.1 144 1356.4 144.7 1358.6 143.6 1360.9 141.1 1363.2 138 1365.5 135 1367.7 132.8 1370 131.8 1372.3 132.1 1374.6 132.8 1376.9 133.9 1379.1 135 1381.4 136.3 1383.7 137.8 1386 139.3 1388.2 140.3 1390.5 140.4 1392.8 139.2 1395.1 136.8 1397.3 133.5 1399.6 130 1401.9 126.4 1404.2 123.1 1406.4 120.1 1408.7 117.6 1411 115.9 1413.3 115.7 1415.5 117.4 1417.8 121.1 1420.1 126.8 1422.4 133.5 1424.7 139.7 1426.9 144.2 1429.2 146.2 1431.5 145.3 1433.8 142.5 1436 138.6 1438.3 134.6 1440.6 131.3 1442.9 128.9 1445.1 127.5 1447.4 126.9 1449.7 127.1 1452 127.7 1454.2 128.5 1456.5 129.1 1458.8 129.2 1461.1 128.8 1463.4 128.2 1465.6 127.9 1467.9 128.8 1470.2 131.4 1472.5 135.6 1474.7 140.7 1477 145.5 1479.3 148.4 1481.6 148.7 1483.8 146.2 1486.1 141.9 1488.4 137.1 1490.7 133.2 1492.9 131 1495.2 130.6 1497.5 132 1499.8 134.7 1502 138.1 1504.3 141.3 1506.6 143.6 1508.9 144.8 1511.2 145.2 1513.4 145.2 1515.7 145.4 1518 145.6 1520.3 145.2 1522.5 143.8 1524.8 141.4 1527.1 138.6 1529.4 136.2 1531.6 135 1533.9 134.5 1536.2 134.4"/>
<path d="M1333.6 148.7 1335.9 148 1338.2 146.8 1340.4 145.4 1342.7 144.3 1345 144.2 1347.3 145.3 1349.5 147.6 1351.8 150.3 1354.1 152.4 1356.4 153.2 1358.6 152.4 1360.9 150.5 1363.2 148 1365.5 145.8 1367.7 143.9 1370 142.6 1372.3 141.7 1374.6 141.1 1376.9 140.8 1379.1 140.6 1381.4 140.7 1383.7 141 1386 141.4 1388.2 142 1390.5 142.5 1392.8 142.7 1395.1 142.3 1397.3 141.1 1399.6 139.6 1401.9 138.4 1404.2 137.9 1406.4 138.3 1408.7 139.6 1411 141.4 1413.3 143.1 1415.5 144.7 1417.8 145.9 1420.1 146.7 1422.4 146.5 1424.7 145.2 1426.9 142.8 1429.2 139.8 1431.5 136.7 1433.8 134.4 1436 133.3 1438.3 133.4 1440.6 134.6 1442.9 136.4 1445.1 138.6 1447.4 141.1 1449.7 143.9 1452 147 1454.2 149.7 1456.5 151.8 1458.8 152.8 1461.1 152.5 1463.4 151.2 1465.6 149.1 1467.9 147 1470.2 145.3 1472.5 144.5 1474.7 144.8 1477 145.7 1479.3 146.6 1481.6 147.5 1483.8 147.8 1486.1 147.8 1488.4 147.6 1490.7 147.2 1492.9 146.6 1495.2 145.6 1497.5 144.5 1499.8 143.7 1502 143.1 1504.3 142.9 1506.6 142.6 1508.9 142.1 1511.2 140.9 1513.4 139 1515.7 136.9 1518 134.8 1520.3 133 1522.5 132 1524.8 132 1527.1 132.8 1529.4 134.6 1531.6 137.2 1533.9 140.5 1536.2 144.2"/>
<path d="M1333.6 139.5 1335.9 137.3 1338.2 136.7 1340.4 137.7 1342.7 139.8 1345 142.6 1347.3 145.6 1349.5 148.5 1351.8 150.7 1354.1 151.8 1356.4 151.7 1358.6 150.1 1360.9 147.5 1363.2 143.8 1365.5 139.5 1367.7 135.1 1370 131.2 1372.3 128.6 1374.6 127.8 1376.9 128.8 1379.1 131.4 1381.4 134.9 1383.7 138.7 1386 142.5 1388.2 146 1390.5 148.9 1392.8 151 1395.1 152.2 1397.3 152.3 1399.6 150.8 1401.9 148 1404.2 143.7 1406.4 139 1408.7 134.8 1411 132.1 1413.3 131 1415.5 131.3 1417.8 132.3 1420.1 133 1422.4 133.1 1424.7 132.3 1426.9 130.7 1429.2 129.3 1431.5 128.7 1433.8 129.7 1436 132.3 1438.3 135.9 1440.6 139.2 1442.9 141.3 1445.1 142.1 1447.4 142 1449.7 142.4 1452 143.8 1454.2 146.6 1456.5 150.3 1458.8 153.6 1461.1 155.9 1463.4 156.5 1465.6 155.5 1467.9 153.1 1470.2 150.3 1472.5 147.7 1474.7 145.9 1477 145.3 1479.3 146.1 1481.6 148 1483.8 150.8 1486.1 153.9 1488.4 156.8 1490.7 159 1492.9 160.5 1495.2 160.8 1497.5 160.3 1499.8 159 1502 157.4 1504.3 156.2 1506.6 155.6 1508.9 156 1511.2 156.9 1513.4 157.9 1515.7 158.4 1518 158.3 1520.3 157.6 1522.5 156.8 1524.8 156.1 1527.1 155.9 1529.4 155.7 1531.6 155.5 1533.9 155.2 1536.2 154.7"/>
<path d="M1333.6 132.7 1335.9 134.1 1338.2 135 1340.4 135.7 1342.7 136.5 1345 137.8 1347.3 139.7 1349.5 142.1 1351.8 144.2 1354.1 145.6 1356.4 146.4 1358.6 146.2 1360.9 145.2 1363.2 143.9 1365.5 142.5 1367.7 140.7 1370 138.8 1372.3 136.7 1374.6 134.5 1376.9 132.1 1379.1 129.9 1381.4 128.2 1383.7 127 1386 126.5 1388.2 126.2 1390.5 125.9 1392.8 125.2 1395.1 124.2 1397.3 123.2 1399.6 122.9 1401.9 123.4 1404.2 125.1 1406.4 128 1408.7 131.7 1411 136.1 1413.3 140.5 1415.5 143.9 1417.8 146 1420.1 146.9 1422.4 147.1 1424.7 147.5 1426.9 148.2 1429.2 149.2 1431.5 149.7 1433.8 149.4 1436 148.4 1438.3 147.3 1440.6 146.6 1442.9 146.4 1445.1 146.4 1447.4 146 1449.7 144.8 1452 142.5 1454.2 139.2 1456.5 135.2 1458.8 130.9 1461.1 127.4 1463.4 125.5 1465.6 126.3 1467.9 129.7 1470.2 135.1 1472.5 141.3 1474.7 146.8 1477 150.2 1479.3 151.6 1481.6 151.1 1483.8 149.9 1486.1 148.7 1488.4 148.8 1490.7 149.8 1492.9 151.7 1495.2 153.6 1497.5 154.7 1499.8 154.3 1502 152.1 1504.3 148 1506.6 142.7 1508.9 137.3 1511.2 133 1513.4 130.9 1515.7 131.6 1518 134 1520.3 136.8 1522.5 138.6 1524.8 138.6 1527.1 136.8 1529.4 134.2 1531.6 132.1 1533.9 131.7 1536.2 133.6"/>
<path d="M1333.6 168.8 1335.9 170.4 1338.2 171.4 1340.4 172 1342.7 172 1345 171.1 1347.3 169.3 1349.5 166.8 1351.8 164.1 1354.1 161.8 1356.4 160.1 1358.6 159.3 1360.9 159 1363.2 159.4 1365.5 159.9 1367.7 160.5 1370 160.9 1372.3 161.1 1374.6 160.9 1376.9 160.6 1379.1 160.4 1381.4 160.7 1383.7 161.5 1386 162.9 1388.2 164.4 1390.5 165.6 1392.8 166.2 1395.1 166.1 1397.3 165.6 1399.6 165 1401.9 164.6 1404.2 164.2 1406.4 163.6 1408.7 162.6 1411 160.9 1413.3 159 1415.5 156.5 1417.8 154.1 1420.1 151.7 1422.4 149.9 1424.7 148.8 1426.9 149.1 1429.2 150.7 1431.5 153.5 1433.8 156.8 1436 159.4 1438.3 161.1 1440.6 161.3 1442.9 160.5 1445.1 158.8 1447.4 157.2 1449.7 156.3 1452 156.2 1454.2 156.8 1456.5 157.3 1458.8 157.6 1461.1 157.5 1463.4 157.4 1465.6 157.4 1467.9 158 1470.2 158.9 1472.5 159.9 1474.7 161.4 1477 163.7 1479.3 167 1481.6 170.9 1483.8 175.1 1486.1 178.8 1488.4 181.7 1490.7 183.9 1492.9 185.7 1495.2 187.2 1497.5 188.3 1499.8 188.5 1502 187.4 1504.3 185.1 1506.6 181.9 1508.9 178.3 1511.2 174.9 1513.4 171.9 1515.7 169.4 1518 167.7 1520.3 166.5 1522.5 166 1524.8 166.2 1527.1 167 1529.4 168 1531.6 169.1 1533.9 170 1536.2 170.7"/>
<path d="M1333.6 177.7 1335.9 175.3 1338.2 172.2 1340.4 169.2 1342.7 166.9 1345 165.4 1347.3 165 1349.5 165 1351.8 165.1 1354.1 164.9 1356.4 164.5 1358.6 164.1 1360.9 164.1 1363.2 164.6 1365.5 165.4 1367.7 166.5 1370 167.1 1372.3 167.3 1374.6 167.1 1376.9 166.3 1379.1 165.4 1381.4 164.7 1383.7 164.6 1386 164.9 1388.2 165.6 1390.5 165.7 1392.8 165.1 1395.1 163.5 1397.3 161.2 1399.6 158.6 1401.9 156.3 1404.2 154.7 1406.4 153.7 1408.7 153.3 1411 152.8 1413.3 152 1415.5 150.7 1417.8 149.2 1420.1 148.1 1422.4 147.9 1424.7 148.9 1426.9 150.6 1429.2 152.3 1431.5 152.5 1433.8 150.6 1436 146.6 1438.3 141.6 1440.6 136.9 1442.9 133.8 1445.1 133.1 1447.4 134.8 1449.7 138.2 1452 142.3 1454.2 146.2 1456.5 149.7 1458.8 152.5 1461.1 154.8 1463.4 156.8 1465.6 158.9 1467.9 161.2 1470.2 163.9 1472.5 167.1 1474.7 170.5 1477 173.9 1479.3 176.8 1481.6 178.9 1483.8 179.5 1486.1 178.8 1488.4 177 1490.7 174.9 1492.9 173.1 1495.2 171.9 1497.5 171.2 1499.8 170.6 1502 169.4 1504.3 167.5 1506.6 165.4 1508.9 163.7 1511.2 163.4 1513.4 164.7 1515.7 167.5 1518 171.1 1520.3 174.3 1522.5 176.6 1524.8 177.7 1527.1 177.6 1529.4 177.1 1531.6 176.6 1533.9 176.3 1536.2 176.3"/>
<path d="M1333.6 131.4 1335.9 130.7 1338.2 130 1340.4 129.5 1342.7 129.4 1345 129.5 1347.3 129.9 1349.5 130.6 1351.8 131.5 1354.1 132.8 1356.4 134.2 1358.6 135.7 1360.9 136.8 1363.2 137.5 1365.5 137.7 1367.7 137.7 1370 137.7 1372.3 137.8 1374.6 138.3 1376.9 139.1 1379.1 140 1381.4 141.1 1383.7 142 1386 142.5 1388.2 142.4 1390.5 141.4 1392.8 139.6 1395.1 137.3 1397.3 135.1 1399.6 133.3 1401.9 132.3 1404.2 131.9 1406.4 132.2 1408.7 132.5 1411 132.6 1413.3 132.4 1415.5 131.8 1417.8 131 1420.1 130.4 1422.4 130.4 1424.7 131 1426.9 132.6 1429.2 134.6 1431.5 136.8 1433.8 138.1 1436 138.4 1438.3 137.6 1440.6 136.1 1442.9 134.7 1445.1 133.8 1447.4 133.9 1449.7 134.6 1452 135.7 1454.2 137.1 1456.5 138.4 1458.8 139.8 1461.1 141.2 1463.4 142.6 1465.6 143.7 1467.9 144.6 1470.2 145.2 1472.5 145.5 1474.7 145.7 1477 145.9 1479.3 146 1481.6 145.7 1483.8 144.9 1486.1 143.4 1488.4 141.4 1490.7 139.2 1492.9 137 1495.2 134.8 1497.5 132.5 1499.8 130.1 1502 127.9 1504.3 126 1506.6 124.7 1508.9 124.3 1511.2 124.8 1513.4 126.1 1515.7 127.9 1518 130 1520.3 132.3 1522.5 134.6 1524.8 136.8 1527.1 139 1529.4 141.2 1531.6 143.3 1533.9 145.3 1536.2 147"/>
<path d="M1333.6 139.5 1335.9 139.8 1338.2 140.7 1340.4 142.4 1342.7 144.1 1345 145.7 1347.3 146.8 1349.5 147.7 1351.8 148.9 1354.1 150.6 1356.4 152.9 1358.6 155.4 1360.9 157.8 1363.2 159.6 1365.5 160.7 1367.7 160.9 1370 160.7 1372.3 159.9 1374.6 158.7 1376.9 156.8 1379.1 154.7 1381.4 152.5 1383.7 150.8 1386 149.9 1388.2 149.7 1390.5 149.8 1392.8 149.5 1395.1 148.4 1397.3 146.7 1399.6 144.8 1401.9 143.1 1404.2 142 1406.4 141.7 1408.7 141.8 1411 141.9 1413.3 141.9 1415.5 142 1417.8 142.1 1420.1 142.4 1422.4 142.6 1424.7 142.6 1426.9 142.1 1429.2 141.1 1431.5 139.9 1433.8 139 1436 138.6 1438.3 138.9 1440.6 139.5 1442.9 140.2 1445.1 141.1 1447.4 142.3 1449.7 144.5 1452 147.5 1454.2 150.8 1456.5 154.2 1458.8 156.4 1461.1 157.7 1463.4 158.2 1465.6 158.4 1467.9 159 1470.2 159.8 1472.5 160.4 1474.7 160.3 1477 159.5 1479.3 157.9 1481.6 156.4 1483.8 154.9 1486.1 153.5 1488.4 152 1490.7 150.5 1492.9 148.8 1495.2 147.1 1497.5 145.8 1499.8 144.7 1502 144.2 1504.3 144.5 1506.6 145.6 1508.9 147.6 1511.2 150.1 1513.4 152.5 1515.7 154.5 1518 155.8 1520.3 156.3 1522.5 156.1 1524.8 155.3 1527.1 154.2 1529.4 153 1531.6 152.2 1533.9 151.7 1536.2 151.5"/>
<path d="M1333.6 146.1 1335.9 145.8 1338.2 145.4 1340.4 145.1 1342.7 144.6 1345 143.6 1347.3 142.1 1349.5 140.4 1351.8 138.9 1354.1 138.3 1356.4 138.8 1358.6 139.9 1360.9 141.2 1363.2 141.9 1365.5 141.9 1367.7 141.3 1370 140.6 1372.3 140.4 1374.6 140.9 1376.9 142.1 1379.1 143.6 1381.4 145.2 1383.7 146.4 1386 147.2 1388.2 147.4 1390.5 147 1392.8 146.1 1395.1 144.9 1397.3 143.7 1399.6 142.8 1401.9 142.6 1404.2 143 1406.4 143.9 1408.7 145.3 1411 146.6 1413.3 147.8 1415.5 148.8 1417.8 149.9 1420.1 151.1 1422.4 152.6 1424.7 154.2 1426.9 155.6 1429.2 156.7 1431.5 157.3 1433.8 157.7 1436 158.1 1438.3 158.7 1440.6 159.4 1442.9 159.9 1445.1 160 1447.4 159.2 1449.7 157.6 1452 155.4 1454.2 153 1456.5 150.9 1458.8 149.7 1461.1 149.4 1463.4 149.7 1465.6 150.2 1467.9 150.3 1470.2 149.7 1472.5 148.2 1474.7 146 1477 143.4 1479.3 141.4 1481.6 140.6 1483.8 141.6 1486.1 144.3 1488.4 147.9 1490.7 151.4 1492.9 153.8 1495.2 155.2 1497.5 155.3 1499.8 155 1502 154.6 1504.3 154.1 1506.6 153.5 1508.9 152.7 1511.2 151.7 1513.4 150.6 1515.7 149.3 1518 147.9 1520.3 146.4 1522.5 144.8 1524.8 143.1 1527.1 141.8 1529.4 140.9 1531.6 140.4 1533.9 140.4 1536.2 140.8"/>
<path d="M1333.6 142.5 1335.9 144.8 1338.2 146.8 1340.4 148.3 1342.7 149.4 1345 149.9 1347.3 149.9 1349.5 149.3 1351.8 148.1 1354.1 146.4 1356.4 144.5 1358.6 142.4 1360.9 140.2 1363.2 138 1365.5 135.5 1367.7 133.2 1370 131 1372.3 129.7 1374.6 129.4 1376.9 130.2 1379.1 131.9 1381.4 133.8 1383.7 135.4 1386 136.6 1388.2 137.2 1390.5 137.5 1392.8 137.5 1395.1 137.2 1397.3 136.4 1399.6 134.8 1401.9 132.3 1404.2 129.1 1406.4 125.5 1408.7 122.4 1411 120 1413.3 118.6 1415.5 117.8 1417.8 117.5 1420.1 117.3 1422.4 117.3 1424.7 117.8 1426.9 119.3 1429.2 122.1 1431.5 125.9 1433.8 130.4 1436 134.8 1438.3 138.5 1440.6 141.5 1442.9 143.9 1445.1 145.8 1447.4 147.6 1449.7 149 1452 149.9 1454.2 150 1456.5 149.2 1458.8 147.8 1461.1 145.8 1463.4 143.7 1465.6 141.7 1467.9 140.3 1470.2 139.4 1472.5 139 1474.7 139.3 1477 140.1 1479.3 141.3 1481.6 142.9 1483.8 145 1486.1 147.3 1488.4 149.6 1490.7 151.4 1492.9 152.3 1495.2 151.9 1497.5 150.5 1499.8 148.8 1502 147.8 1504.3 148.2 1506.6 150.3 1508.9 153.3 1511.2 156.5 1513.4 158.5 1515.7 158.8 1518 157.1 1520.3 154.2 1522.5 150.6 1524.8 147.3 1527.1 144.9 1529.4 143.8 1531.6 143.7 1533.9 144.2 1536.2 144.8"/>
<path d="M1333.6 125.7 1335.9 128.6 1338.2 130.7 1340.4 131.9 1342.7 132 1345 131.3 1347.3 130.1 1349.5 128.7 1351.8 127.7 1354.1 127.4 1356.4 127.7 1358.6 128.4 1360.9 129.3 1363.2 129.9 1365.5 130.1 1367.7 129.7 1370 129.2 1372.3 128.9 1374.6 129.3 1376.9 130.7 1379.1 133.2 1381.4 136.5 1383.7 139.8 1386 142.2 1388.2 142.9 1390.5 141.5 1392.8 137.9 1395.1 133 1397.3 127.5 1399.6 122.9 1401.9 119.8 1404.2 118.8 1406.4 119.2 1408.7 120.3 1411 121.5 1413.3 122.6 1415.5 123.5 1417.8 124.5 1420.1 125.2 1422.4 125.9 1424.7 126.1 1426.9 125.4 1429.2 124.1 1431.5 122.3 1433.8 120.5 1436 119 1438.3 117.8 1440.6 116.8 1442.9 115.8 1445.1 114.9 1447.4 114.3 1449.7 114.2 1452 115 1454.2 116.3 1456.5 117.8 1458.8 119 1461.1 120 1463.4 120.9 1465.6 122.3 1467.9 124.2 1470.2 126.4 1472.5 128.5 1474.7 130.6 1477 132.7 1479.3 135.2 1481.6 137.9 1483.8 140.5 1486.1 142.2 1488.4 142.7 1490.7 142 1492.9 141.2 1495.2 141.1 1497.5 142.4 1499.8 144.9 1502 147.7 1504.3 149.5 1506.6 149.7 1508.9 147.9 1511.2 145.1 1513.4 142 1515.7 139.5 1518 137.8 1520.3 136.9 1522.5 136.2 1524.8 135.5 1527.1 134.4 1529.4 133.2 1531.6 131.8 1533.9 130.8 1536.2 130.1"/>
<path d="M1333.6 133.8 1335.9 133 1338.2 132.8 1340.4 133.3 1342.7 134.4 1345 135.8 1347.3 137.3 1349.5 138.6 1351.8 139.7 1354.1 140.9 1356.4 142.2 1358.6 143.6 1360.9 144.7 1363.2 145 1365.5 144.4 1367.7 143 1370 141.6 1372.3 140.5 1374.6 140.4 1376.9 141.2 1379.1 142.6 1381.4 144.4 1383.7 145.9 1386 147.1 1388.2 147.5 1390.5 147.5 1392.8 147.1 1395.1 146.8 1397.3 146.4 1399.6 146 1401.9 145.3 1404.2 144.1 1406.4 142.6 1408.7 141 1411 139.5 1413.3 137.9 1415.5 136.4 1417.8 134.7 1420.1 132.7 1422.4 130.5 1424.7 128 1426.9 125.7 1429.2 123.6 1431.5 122.1 1433.8 121.2 1436 121 1438.3 121.3 1440.6 122.2 1442.9 123.8 1445.1 126 1447.4 128.9 1449.7 132.3 1452 136 1454.2 139.7 1456.5 143.1 1458.8 146.1 1461.1 148.2 1463.4 149.4 1465.6 150 1467.9 150.1 1470.2 150.1 1472.5 150 1474.7 149.9 1477 149.6 1479.3 149.3 1481.6 148.8 1483.8 148.4 1486.1 147.7 1488.4 146.7 1490.7 145.2 1492.9 143.4 1495.2 141.4 1497.5 140 1499.8 139.3 1502 139.5 1504.3 140.3 1506.6 141.4 1508.9 142.2 1511.2 142.8 1513.4 142.9 1515.7 142.7 1518 142.5 1520.3 142.2 1522.5 142.2 1524.8 142.4 1527.1 142.8 1529.4 143.4 1531.6 143.9 1533.9 144.2 1536.2 144.4"/>
<path d="M1333.6 137 1335.9 135.4 1338.2 133.9 1340.4 132.8 1342.7 132.8 1345 133.9 1347.3 136 1349.5 138.5 1351.8 141.1 1354.1 143.1 1356.4 144.4 1358.6 144.4 1360.9 143.2 1363.2 140.8 1365.5 138.4 1367.7 136.6 1370 136.3 1372.3 137.5 1374.6 139.6 1376.9 141.7 1379.1 142.8 1381.4 142.2 1383.7 140.3 1386 137.7 1388.2 135.3 1390.5 134 1392.8 134 1395.1 135.2 1397.3 137 1399.6 138.8 1401.9 139.8 1404.2 139.5 1406.4 137.6 1408.7 134.1 1411 129.4 1413.3 124.2 1415.5 119.4 1417.8 115.8 1420.1 113.4 1422.4 112.1 1424.7 111.3 1426.9 110.3 1429.2 108.8 1431.5 106.8 1433.8 104.8 1436 103.5 1438.3 103.3 1440.6 104.6 1442.9 107.3 1445.1 111 1447.4 115.3 1449.7 120 1452 124.6 1454.2 128.7 1456.5 132.2 1458.8 134.8 1461.1 136.5 1463.4 137.7 1465.6 138.6 1467.9 139.5 1470.2 140.4 1472.5 141.6 1474.7 143 1477 144.8 1479.3 146.8 1481.6 148.7 1483.8 150.1 1486.1 151 1488.4 151.2 1490.7 151 1492.9 150.6 1495.2 150.1 1497.5 149.3 1499.8 148.4 1502 147.4 1504.3 146.5 1506.6 146.1 1508.9 146.2 1511.2 146.6 1513.4 147.2 1515.7 147.5 1518 147.6 1520.3 147.4 1522.5 146.9 1524.8 146.2 1527.1 145.3 1529.4 144 1531.6 142.9 1533.9 142.5 1536.2 143"/>
<path d="M1333.6 155.1 1335.9 153.4 1338.2 151.9 1340.4 150 1342.7 147 1345 143.2 1347.3 139.1 1349.5 135.7 1351.8 134 1354.1 133.9 1356.4 135.1 1358.6 136.3 1360.9 136.8 1363.2 136.2 1365.5 134.6 1367.7 133.2 1370 133.1 1372.3 135.4 1374.6 140.3 1376.9 147.1 1379.1 154.4 1381.4 160.7 1383.7 164.6 1386 165.6 1388.2 163.6 1390.5 159.1 1392.8 153.2 1395.1 146.8 1397.3 140.9 1399.6 136.1 1401.9 132.8 1404.2 131 1406.4 130.4 1408.7 130.8 1411 131.3 1413.3 131.7 1415.5 131.9 1417.8 131.7 1420.1 131.6 1422.4 132.1 1424.7 133.3 1426.9 135.2 1429.2 137.5 1431.5 139.5 1433.8 140.3 1436 140.1 1438.3 138.6 1440.6 136.6 1442.9 135 1445.1 134.2 1447.4 134.3 1449.7 135.3 1452 136.8 1454.2 138.6 1456.5 140.8 1458.8 142.9 1461.1 144.6 1463.4 145.7 1465.6 145.8 1467.9 145 1470.2 143.7 1472.5 142.1 1474.7 140.7 1477 139.9 1479.3 139.5 1481.6 139.7 1483.8 140.3 1486.1 141.5 1488.4 143.1 1490.7 145.4 1492.9 148 1495.2 150.8 1497.5 153.2 1499.8 154.8 1502 155.4 1504.3 155 1506.6 153.6 1508.9 151.7 1511.2 149.7 1513.4 148 1515.7 146.7 1518 145.8 1520.3 144.9 1522.5 144 1524.8 142.9 1527.1 142.1 1529.4 141.6 1531.6 141.8 1533.9 142.8 1536.2 144.5"/>
<path d="M1333.6 164.4 1335.9 165.4 1338.2 164.6 1340.4 162.8 1342.7 160.6 1345 158.2 1347.3 155.6 1349.5 152.7 1351.8 149.4 1354.1 146 1356.4 142.6 1358.6 140.3 1360.9 139.5 1363.2 140.4 1365.5 142.8 1367.7 146.2 1370 150.3 1372.3 154.2 1374.6 157.6 1376.9 160.5 1379.1 162.4 1381.4 163.6 1383.7 164.4 1386 164.8 1388.2 165.5 1390.5 165.9 1392.8 165.4 1395.1 163.5 1397.3 159.5 1399.6 154 1401.9 148.4 1404.2 144.3 1406.4 142.8 1408.7 144 1411 147.2 1413.3 151 1415.5 154.3 1417.8 156.5 1420.1 157.3 1422.4 156.6 1424.7 154.7 1426.9 152.1 1429.2 149.8 1431.5 148.3 1433.8 148.2 1436 149.2 1438.3 150.6 1440.6 151.8 1442.9 152.5 1445.1 152.7 1447.4 152.3 1449.7 151.9 1452 151.9 1454.2 152.8 1456.5 154.9 1458.8 157.9 1461.1 161.1 1463.4 163.6 1465.6 164.5 1467.9 163.4 1470.2 160.9 1472.5 157.5 1474.7 154.1 1477 151.3 1479.3 149.4 1481.6 148.4 1483.8 148.5 1486.1 149.4 1488.4 150.5 1490.7 151.4 1492.9 152.3 1495.2 153.2 1497.5 154.8 1499.8 157.3 1502 160.6 1504.3 163.7 1506.6 165.6 1508.9 165.8 1511.2 164.3 1513.4 161.9 1515.7 159.3 1518 157.1 1520.3 155.6 1522.5 154.4 1524.8 153.4 1527.1 152.6 1529.4 151.9 1531.6 151.1 1533.9 150 1536.2 148.4"/>
<path d="M1333.6 148.8 1335.9 152.5 1338.2 155.2 1340.4 156.7 1342.7 156.8 1345 156.3 1347.3 156.6 1349.5 158.3 1351.8 161.8 1354.1 166.4 1356.4 170.5 1358.6 172.7 1360.9 171.6 1363.2 166.7 1365.5 159.3 1367.7 151 1370 143.8 1372.3 139.8 1374.6 139.3 1376.9 142 1379.1 145.9 1381.4 149.6 1383.7 151.8 1386 152.4 1388.2 152.5 1390.5 152.7 1392.8 153.6 1395.1 154.8 1397.3 155.8 1399.6 156.2 1401.9 155.9 1404.2 155.1 1406.4 154 1408.7 152.6 1411 150.6 1413.3 147.7 1415.5 143.4 1417.8 138.3 1420.1 133.1 1422.4 129.2 1424.7 128.3 1426.9 131.1 1429.2 137.4 1431.5 146.5 1433.8 156.1 1436 164.8 1438.3 171.1 1440.6 174 1442.9 173.6 1445.1 170.7 1447.4 166.7 1449.7 162.7 1452 159.5 1454.2 157.3 1456.5 155.6 1458.8 153.7 1461.1 152.2 1463.4 151.1 1465.6 151.6 1467.9 153.9 1470.2 157.9 1472.5 163.1 1474.7 168.2 1477 172.1 1479.3 174.2 1481.6 174 1483.8 171.7 1486.1 167.7 1488.4 162.8 1490.7 158 1492.9 154.7 1495.2 153.2 1497.5 153.5 1499.8 154.9 1502 156.5 1504.3 158 1506.6 159.2 1508.9 159.9 1511.2 159.8 1513.4 158.6 1515.7 156.4 1518 153.8 1520.3 151.5 1522.5 149.9 1524.8 148.7 1527.1 147.6 1529.4 146 1531.6 143.4 1533.9 139.9 1536.2 136"/>
<path d="M1333.6 165.6 1335.9 164.7 1338.2 164.9 1340.4 165.6 1342.7 166.3 1345 166.8 1347.3 166.9 1349.5 166.7 1351.8 165.9 1354.1 164.5 1356.4 163 1358.6 161.1 1360.9 159 1363.2 156.4 1365.5 153.5 1367.7 150.6 1370 148.2 1372.3 147.1 1374.6 147.9 1376.9 150.4 1379.1 154.1 1381.4 158.4 1383.7 162.4 1386 165.4 1388.2 166.9 1390.5 167 1392.8 166.1 1395.1 164.6 1397.3 163.5 1399.6 162.5 1401.9 161.9 1404.2 160.9 1406.4 159.3 1408.7 157.2 1411 154.9 1413.3 152.8 1415.5 151.2 1417.8 150 1420.1 148.7 1422.4 146.9 1424.7 144.6 1426.9 142.1 1429.2 139.4 1431.5 137.3 1433.8 135.8 1436 135.2 1438.3 136 1440.6 138 1442.9 141.3 1445.1 145.4 1447.4 149.7 1449.7 153.3 1452 155.9 1454.2 158.2 1456.5 160.6 1458.8 163.8 1461.1 167.4 1463.4 170.7 1465.6 172.6 1467.9 172.8 1470.2 171.3 1472.5 168.9 1474.7 166.6 1477 165.2 1479.3 164.7 1481.6 164.6 1483.8 164.4 1486.1 163.7 1488.4 162.3 1490.7 160.7 1492.9 159.1 1495.2 158.3 1497.5 158.6 1499.8 160.5 1502 163.6 1504.3 167.9 1506.6 172.2 1508.9 176 1511.2 178.7 1513.4 179.9 1515.7 180.1 1518 179.9 1520.3 179.9 1522.5 179.6 1524.8 178.6 1527.1 176.7 1529.4 173.5 1531.6 169.7 1533.9 165.9 1536.2 162.9"/>
<path d="M1333.6 139.9 1335.9 138.8 1338.2 137.5 1340.4 136.4 1342.7 135.6 1345 135.2 1347.3 135.3 1349.5 136 1351.8 137.4 1354.1 139.4 1356.4 141.5 1358.6 143.1 1360.9 143.7 1363.2 142.9 1365.5 141.3 1367.7 139.4 1370 138.3 1372.3 138.1 1374.6 138.6 1376.9 139.2 1379.1 139.3 1381.4 138.6 1383.7 137 1386 134.9 1388.2 132.7 1390.5 130.8 1392.8 129.2 1395.1 128.2 1397.3 127.5 1399.6 127.5 1401.9 128 1404.2 128.8 1406.4 129.3 1408.7 128.9 1411 127.5 1413.3 125 1415.5 122.1 1417.8 119.5 1420.1 117.8 1422.4 117.3 1424.7 117.9 1426.9 119.3 1429.2 121.1 1431.5 122.9 1433.8 124.4 1436 125.5 1438.3 126.2 1440.6 126.9 1442.9 128.1 1445.1 130.1 1447.4 133.1 1449.7 136.9 1452 140.7 1454.2 143.7 1456.5 145.6 1458.8 146.2 1461.1 146 1463.4 145.3 1465.6 144.3 1467.9 143.1 1470.2 141.7 1472.5 140.3 1474.7 139.2 1477 138.4 1479.3 137.7 1481.6 136.9 1483.8 136 1486.1 135.1 1488.4 134.7 1490.7 135.2 1492.9 136.5 1495.2 138.5 1497.5 140.6 1499.8 142.1 1502 143 1504.3 143.4 1506.6 143.7 1508.9 144.3 1511.2 145.3 1513.4 146.7 1515.7 148.3 1518 149.7 1520.3 150.6 1522.5 150.8 1524.8 149.8 1527.1 147.7 1529.4 144.5 1531.6 140.8 1533.9 137.5 1536.2 135.5"/>
<path d="M1333.6 144.1 1335.9 145.5 1338.2 147.2 1340.4 148.9 1342.7 150.5 1345 151.8 1347.3 152 1349.5 150.8 1351.8 148.3 1354.1 145.2 1356.4 142.3 1358.6 140.1 1360.9 138.9 1363.2 138.7 1365.5 139.1 1367.7 139.8 1370 140.8 1372.3 141.9 1374.6 142.7 1376.9 143.3 1379.1 143.5 1381.4 143.5 1383.7 143.2 1386 142.5 1388.2 141.7 1390.5 140.8 1392.8 140.5 1395.1 141 1397.3 142.2 1399.6 143.7 1401.9 144.7 1404.2 145.3 1406.4 145.5 1408.7 145.8 1411 146.2 1413.3 146.8 1415.5 147.2 1417.8 147.1 1420.1 146.6 1422.4 145.7 1424.7 145.1 1426.9 144.6 1429.2 144.3 1431.5 144.2 1433.8 144 1436 143.7 1438.3 143.4 1440.6 143.1 1442.9 143 1445.1 143.6 1447.4 144.9 1449.7 147 1452 149.7 1454.2 152.5 1456.5 155.1 1458.8 156.9 1461.1 158.3 1463.4 159.1 1465.6 159.7 1467.9 160.4 1470.2 161 1472.5 161.3 1474.7 161.1 1477 160.2 1479.3 158.5 1481.6 156.1 1483.8 153.2 1486.1 150.3 1488.4 147.8 1490.7 146.4 1492.9 146.5 1495.2 148.3 1497.5 151.4 1499.8 154.9 1502 157.9 1504.3 159.8 1506.6 160.4 1508.9 159.9 1511.2 158.9 1513.4 157.5 1515.7 156 1518 155 1520.3 154.5 1522.5 154.7 1524.8 155.1 1527.1 155.3 1529.4 154.7 1531.6 153.4 1533.9 152 1536.2 151.6"/>
<path d="M1333.6 134 1335.9 133.4 1338.2 130.6 1340.4 125.8 1342.7 119.8 1345 114.1 1347.3 110.4 1349.5 110.1 1351.8 113.3 1354.1 119 1356.4 125.6 1358.6 130.8 1360.9 133 1363.2 131.8 1365.5 128.3 1367.7 124.1 1370 121.3 1372.3 121.2 1374.6 123.4 1376.9 127 1379.1 130.3 1381.4 131.6 1383.7 130.6 1386 127.7 1388.2 123.8 1390.5 120.1 1392.8 117.1 1395.1 115.6 1397.3 115.2 1399.6 116.1 1401.9 117.9 1404.2 120.4 1406.4 123.9 1408.7 127.8 1411 131.7 1413.3 135.3 1415.5 137.8 1417.8 139.3 1420.1 139.8 1422.4 139.7 1424.7 139.3 1426.9 138.6 1429.2 137.8 1431.5 136.2 1433.8 133.8 1436 130.6 1438.3 126.6 1440.6 122.3 1442.9 118.4 1445.1 115.4 1447.4 114.4 1449.7 115.4 1452 118.5 1454.2 123.1 1456.5 128.1 1458.8 131.8 1461.1 133.4 1463.4 132.5 1465.6 130.2 1467.9 128 1470.2 127.5 1472.5 129.4 1474.7 133.6 1477 138.5 1479.3 143.3 1481.6 146.7 1483.8 148.4 1486.1 148.4 1488.4 147.3 1490.7 145.5 1492.9 143.5 1495.2 141.5 1497.5 139.2 1499.8 136.2 1502 132.3 1504.3 127.9 1506.6 124.2 1508.9 122.8 1511.2 124.7 1513.4 129.4 1515.7 136 1518 142.9 1520.3 149 1522.5 153.8 1524.8 156.6 1527.1 157 1529.4 154.4 1531.6 149 1533.9 142.3 1536.2 135.9"/>
<path d="M1333.6 157.3 1335.9 154.3 1338.2 151.7 1340.4 149.3 1342.7 147.4 1345 145.7 1347.3 144.6 1349.5 144.4 1351.8 145.3 1354.1 147.4 1356.4 150.3 1358.6 153.8 1360.9 157.5 1363.2 161.3 1365.5 165.1 1367.7 168.5 1370 171.1 1372.3 172.5 1374.6 172.7 1376.9 172 1379.1 171 1381.4 169.7 1383.7 168.5 1386 166.9 1388.2 165 1390.5 162.5 1392.8 159.5 1395.1 156.5 1397.3 153.8 1399.6 151.8 1401.9 150.7 1404.2 150.2 1406.4 150 1408.7 149.8 1411 149.5 1413.3 149.5 1415.5 150.2 1417.8 151.2 1420.1 152.1 1422.4 152.2 1424.7 150.9 1426.9 148.3 1429.2 145 1431.5 142.1 1433.8 140.3 1436 139.7 1438.3 140.3 1440.6 141.2 1442.9 142.2 1445.1 142.9 1447.4 143.8 1449.7 145.2 1452 147.3 1454.2 149.5 1456.5 151.2 1458.8 151.7 1461.1 150.7 1463.4 148.6 1465.6 146.2 1467.9 144 1470.2 142.4 1472.5 141.5 1474.7 141.5 1477 142.3 1479.3 144 1481.6 146.3 1483.8 149.1 1486.1 151.7 1488.4 153.8 1490.7 155.1 1492.9 155.9 1495.2 156.3 1497.5 156.8 1499.8 157.5 1502 158.7 1504.3 160.2 1506.6 161.7 1508.9 163.4 1511.2 165.1 1513.4 166.5 1515.7 167.8 1518 168.7 1520.3 169 1522.5 168.6 1524.8 167.6 1527.1 166 1529.4 164.2 1531.6 162.7 1533.9 161.9 1536.2 162"/>
<path d="M1333.6 150.1 1335.9 147.8 1338.2 144.9 1340.4 142.2 1342.7 140.1 1345 139.3 1347.3 139.8 1349.5 141.4 1351.8 143.7 1354.1 146.2 1356.4 147.9 1358.6 148.6 1360.9 148.2 1363.2 146.6 1365.5 144.6 1367.7 142.4 1370 140.7 1372.3 139.5 1374.6 139 1376.9 139.1 1379.1 139.7 1381.4 140.9 1383.7 142.5 1386 144.4 1388.2 146.1 1390.5 147.4 1392.8 148.1 1395.1 148.1 1397.3 147.4 1399.6 146.2 1401.9 144.2 1404.2 141.6 1406.4 138.5 1408.7 134.9 1411 131.3 1413.3 127.9 1415.5 125.1 1417.8 123 1420.1 122.2 1422.4 122.4 1424.7 123.5 1426.9 125.3 1429.2 126.9 1431.5 128.5 1433.8 130 1436 131.9 1438.3 134.2 1440.6 136.5 1442.9 138.2 1445.1 138.4 1447.4 137.1 1449.7 134.6 1452 131.9 1454.2 130.2 1456.5 130.1 1458.8 131.3 1461.1 133.7 1463.4 136.5 1465.6 139.1 1467.9 141.2 1470.2 143 1472.5 144.4 1474.7 145.6 1477 146.8 1479.3 147.8 1481.6 148.5 1483.8 149 1486.1 149.3 1488.4 149.7 1490.7 150.5 1492.9 151.7 1495.2 153 1497.5 153.7 1499.8 153.1 1502 150.7 1504.3 146.9 1506.6 142.5 1508.9 138.6 1511.2 136.3 1513.4 136 1515.7 137.5 1518 140.6 1520.3 144.4 1522.5 147.9 1524.8 150.6 1527.1 152.1 1529.4 152.6 1531.6 152.2 1533.9 151.5 1536.2 151"/>
<path d="M1333.6 125.1 1335.9 124.3 1338.2 124.9 1340.4 126.6 1342.7 129.1 1345 131.9 1347.3 134.9 1349.5 138 1351.8 140.7 1354.1 142.7 1356.4 143.7 1358.6 143.5 1360.9 142.7 1363.2 141.6 1365.5 140.9 1367.7 140.7 1370 141.2 1372.3 141.6 1374.6 141.7 1376.9 141.4 1379.1 141.1 1381.4 140.7 1383.7 140.3 1386 139.5 1388.2 137.9 1390.5 135.6 1392.8 133.2 1395.1 131.1 1397.3 129.7 1399.6 128.2 1401.9 125.7 1404.2 121.6 1406.4 116 1408.7 110.1 1411 105.3 1413.3 102.5 1415.5 101.9 1417.8 103.2 1420.1 105.5 1422.4 107.7 1424.7 109.2 1426.9 109.7 1429.2 109.5 1431.5 109 1433.8 109.2 1436 110.5 1438.3 112.9 1440.6 115.9 1442.9 119.2 1445.1 122.4 1447.4 125.5 1449.7 128.7 1452 132 1454.2 135 1456.5 136.9 1458.8 137.3 1461.1 135.8 1463.4 133.2 1465.6 130.1 1467.9 127.7 1470.2 126.2 1472.5 125.6 1474.7 125.5 1477 125.4 1479.3 125.1 1481.6 124 1483.8 122.6 1486.1 121.1 1488.4 120.1 1490.7 120.2 1492.9 121.6 1495.2 124.4 1497.5 127.9 1499.8 131.6 1502 134.7 1504.3 136.6 1506.6 137.1 1508.9 136.6 1511.2 135.5 1513.4 134.6 1515.7 134.2 1518 134.5 1520.3 135 1522.5 135.1 1524.8 134.4 1527.1 132.7 1529.4 130.5 1531.6 128.5 1533.9 127.7 1536.2 128.8"/>
<path d="M1333.6 156.2 1335.9 157.7 1338.2 156.6 1340.4 153.2 1342.7 149 1345 145.5 1347.3 143.5 1349.5 143.5 1351.8 145.4 1354.1 148.4 1356.4 151.8 1358.6 155.5 1360.9 158.7 1363.2 161.4 1365.5 162.8 1367.7 163.3 1370 162.4 1372.3 160.4 1374.6 157.3 1376.9 153.4 1379.1 149.2 1381.4 145.1 1383.7 141.7 1386 140.2 1388.2 140.1 1390.5 140.8 1392.8 141.5 1395.1 140.8 1397.3 138.6 1399.6 135.5 1401.9 132.8 1404.2 132.1 1406.4 134 1408.7 138.6 1411 144.7 1413.3 151.2 1415.5 156.9 1417.8 161.2 1420.1 164.2 1422.4 165.7 1424.7 165.8 1426.9 164.9 1429.2 163.1 1431.5 160.5 1433.8 158 1436 155.6 1438.3 153.6 1440.6 151.7 1442.9 149.4 1445.1 146.7 1447.4 143.7 1449.7 141.1 1452 139.8 1454.2 140.2 1456.5 142.2 1458.8 145.1 1461.1 147.9 1463.4 150.1 1465.6 151.3 1467.9 151.6 1470.2 151.5 1472.5 150.9 1474.7 150.5 1477 150.3 1479.3 150.9 1481.6 152.5 1483.8 154.9 1486.1 157.3 1488.4 158.9 1490.7 158.6 1492.9 155.9 1495.2 151.5 1497.5 146.8 1499.8 143.1 1502 141.1 1504.3 140.6 1506.6 141.1 1508.9 141.8 1511.2 142.5 1513.4 143.5 1515.7 144.8 1518 146.7 1520.3 148.5 1522.5 149.9 1524.8 150.8 1527.1 151.2 1529.4 151.7 1531.6 152.8 1533.9 155.1 1536.2 158"/>
<path d="M1333.6 150.8 1335.9 147.3 1338.2 146.5 1340.4 148.4 1342.7 152.6 1345 158.2 1347.3 164.1 1349.5 169.2 1351.8 173.1 1354.1 175.5 1356.4 176.9 1358.6 177.6 1360.9 177.2 1363.2 176 1365.5 173.8 1367.7 170.7 1370 167.4 1372.3 164.8 1374.6 163 1376.9 162 1379.1 161.6 1381.4 160.9 1383.7 159.7 1386 157.9 1388.2 155.7 1390.5 154.1 1392.8 153.4 1395.1 153.7 1397.3 155 1399.6 156.8 1401.9 158.4 1404.2 159.3 1406.4 159.2 1408.7 158 1411 155.6 1413.3 152.7 1415.5 149.6 1417.8 147.4 1420.1 146.5 1422.4 146.8 1424.7 148.3 1426.9 150.4 1429.2 152.6 1431.5 154.5 1433.8 156.1 1436 157.3 1438.3 158.2 1440.6 159 1442.9 159.6 1445.1 159.5 1447.4 159 1449.7 158.2 1452 157.4 1454.2 157 1456.5 157.2 1458.8 157.9 1461.1 158.7 1463.4 159.2 1465.6 159.6 1467.9 159.8 1470.2 160.2 1472.5 160.4 1474.7 160.7 1477 161.2 1479.3 161.6 1481.6 162.1 1483.8 162.4 1486.1 162 1488.4 160.5 1490.7 157.4 1492.9 152.8 1495.2 147.3 1497.5 141.6 1499.8 137.3 1502 135.1 1504.3 135.4 1506.6 138 1508.9 142.4 1511.2 147.5 1513.4 152.9 1515.7 157.9 1518 162.1 1520.3 165.1 1522.5 166.3 1524.8 165.9 1527.1 164 1529.4 161.3 1531.6 158.3 1533.9 155.4 1536.2 152.8"/>
<path d="M1333.6 162.4 1335.9 161.1 1338.2 159.5 1340.4 157.9 1342.7 156.2 1345 154.6 1347.3 153 1349.5 151.5 1351.8 150 1354.1 148.9 1356.4 148.2 1358.6 147.9 1360.9 148 1363.2 148 1365.5 147.6 1367.7 146.4 1370 144.6 1372.3 142.3 1374.6 140.3 1376.9 139.1 1379.1 138.9 1381.4 139.9 1383.7 142 1386 144.9 1388.2 148.1 1390.5 150.6 1392.8 151.6 1395.1 150.9 1397.3 148.5 1399.6 145.3 1401.9 142.2 1404.2 139.6 1406.4 137.7 1408.7 136.1 1411 134.4 1413.3 132.7 1415.5 131.2 1417.8 130.4 1420.1 130.3 1422.4 131.3 1424.7 133 1426.9 134.9 1429.2 136.7 1431.5 137.5 1433.8 137.3 1436 136.5 1438.3 135.3 1440.6 134.1 1442.9 133.3 1445.1 132.7 1447.4 132.4 1449.7 132.4 1452 132.8 1454.2 133.3 1456.5 133.4 1458.8 133.2 1461.1 132.4 1463.4 131.3 1465.6 131 1467.9 132.1 1470.2 135 1472.5 139.2 1474.7 144 1477 148.5 1479.3 151.9 1481.6 153.9 1483.8 154.6 1486.1 154.3 1488.4 153 1490.7 150.9 1492.9 148.4 1495.2 145.8 1497.5 143.7 1499.8 142.6 1502 142.5 1504.3 143 1506.6 143.6 1508.9 144.2 1511.2 144.7 1513.4 145.4 1515.7 146.2 1518 147.1 1520.3 147.9 1522.5 148.1 1524.8 147.6 1527.1 146.4 1529.4 144.9 1531.6 143.9 1533.9 143.8 1536.2 144.9"/>
<path d="M1333.6 136.1 1335.9 142.3 1338.2 149.4 1340.4 155.6 1342.7 159.2 1345 159.2 1347.3 155.8 1349.5 150.4 1351.8 144.8 1354.1 140.4 1356.4 138.2 1358.6 137.7 1360.9 138.3 1363.2 139.5 1365.5 140.9 1367.7 142.5 1370 144.2 1372.3 145.8 1374.6 147.1 1376.9 148 1379.1 148.3 1381.4 148.3 1383.7 148.1 1386 147.8 1388.2 147.1 1390.5 146 1392.8 144.1 1395.1 141.5 1397.3 138.6 1399.6 136 1401.9 134.4 1404.2 134.4 1406.4 136 1408.7 138.7 1411 141.8 1413.3 144.5 1415.5 145.9 1417.8 146 1420.1 144.9 1422.4 142.9 1424.7 140.3 1426.9 137.6 1429.2 135.1 1431.5 133.4 1433.8 133.2 1436 134.8 1438.3 138.1 1440.6 142.3 1442.9 146.4 1445.1 148.8 1447.4 149.4 1449.7 148.2 1452 146.3 1454.2 144.8 1456.5 144.1 1458.8 144.1 1461.1 143.9 1463.4 142.9 1465.6 140.6 1467.9 137.5 1470.2 134.1 1472.5 131.1 1474.7 128.9 1477 127.5 1479.3 126.8 1481.6 126.8 1483.8 127 1486.1 127.4 1488.4 128.4 1490.7 130 1492.9 132.4 1495.2 135.3 1497.5 137.9 1499.8 139.7 1502 140.8 1504.3 141.7 1506.6 143.2 1508.9 145.7 1511.2 149.4 1513.4 154 1515.7 158 1518 160.6 1520.3 161 1522.5 159 1524.8 154.9 1527.1 150.1 1529.4 145.9 1531.6 143.4 1533.9 142.7 1536.2 143.6"/>
<path d="M1333.6 150.6 1335.9 149.2 1338.2 147.8 1340.4 146.9 1342.7 146.9 1345 147.9 1347.3 149.6 1349.5 151.7 1351.8 153.9 1354.1 155.4 1356.4 155.9 1358.6 155.2 1360.9 153.6 1363.2 151.4 1365.5 149.4 1367.7 147.7 1370 146.7 1372.3 146.4 1374.6 146.7 1376.9 147.5 1379.1 148.4 1381.4 148.9 1383.7 148.4 1386 147 1388.2 145.2 1390.5 143.5 1392.8 142.8 1395.1 143.1 1397.3 144.3 1399.6 145.7 1401.9 147 1404.2 147.9 1406.4 148.1 1408.7 147.6 1411 146.4 1413.3 144.7 1415.5 142.7 1417.8 140.9 1420.1 139.7 1422.4 139.2 1424.7 139.4 1426.9 140.2 1429.2 141.5 1431.5 143 1433.8 144.5 1436 146.1 1438.3 147.8 1440.6 149.8 1442.9 152.2 1445.1 154.7 1447.4 157 1449.7 158.8 1452 160.1 1454.2 161 1456.5 161.4 1458.8 161.6 1461.1 161.3 1463.4 160.8 1465.6 160.3 1467.9 159.9 1470.2 159.6 1472.5 159.6 1474.7 159.3 1477 158.8 1479.3 157.8 1481.6 156.7 1483.8 155.7 1486.1 155.3 1488.4 155.9 1490.7 157.2 1492.9 158.6 1495.2 159.4 1497.5 159 1499.8 157.4 1502 154.8 1504.3 152.2 1506.6 150.1 1508.9 149.3 1511.2 150.2 1513.4 152.8 1515.7 156.4 1518 160.2 1520.3 163.2 1522.5 165.1 1524.8 165.6 1527.1 165.1 1529.4 164.3 1531.6 164 1533.9 164.5 1536.2 165.7"/>
<path d="M1333.6 132.9 1335.9 134.8 1338.2 136.5 1340.4 138 1342.7 139.1 1345 139.4 1347.3 138.8 1349.5 137.1 1351.8 134.9 1354.1 133.1 1356.4 132.4 1358.6 133.2 1360.9 134.9 1363.2 137.2 1365.5 139.3 1367.7 140.9 1370 142.1 1372.3 142.6 1374.6 142.6 1376.9 141.7 1379.1 140.2 1381.4 138.3 1383.7 136.6 1386 135.7 1388.2 135.8 1390.5 136.9 1392.8 138.1 1395.1 138.9 1397.3 138.5 1399.6 136.9 1401.9 134.5 1404.2 131.9 1406.4 130 1408.7 129.1 1411 129.1 1413.3 129.9 1415.5 131.1 1417.8 132.5 1420.1 133.9 1422.4 135.1 1424.7 135.8 1426.9 135.9 1429.2 135.2 1431.5 134 1433.8 132.4 1436 131.3 1438.3 131.1 1440.6 132 1442.9 134.4 1445.1 137.5 1447.4 140.7 1449.7 143.4 1452 145.3 1454.2 146.4 1456.5 147.1 1458.8 147.5 1461.1 147.7 1463.4 147.5 1465.6 146.6 1467.9 145.1 1470.2 143.2 1472.5 141.2 1474.7 139.3 1477 137.8 1479.3 136.7 1481.6 135.8 1483.8 135.1 1486.1 134.5 1488.4 133.7 1490.7 133.1 1492.9 132.7 1495.2 132.7 1497.5 133.2 1499.8 134.2 1502 135.7 1504.3 137.6 1506.6 139.8 1508.9 142.2 1511.2 144.8 1513.4 147.5 1515.7 150.3 1518 152.9 1520.3 155.2 1522.5 157.1 1524.8 158.6 1527.1 159.8 1529.4 160.7 1531.6 161.4 1533.9 161.6 1536.2 161.3"/>
<path d="M1333.6 139.5 1335.9 142.5 1338.2 145.8 1340.4 148.2 1342.7 149.1 1345 148.2 1347.3 146.4 1349.5 144.8 1351.8 144.4 1354.1 145.4 1356.4 147.3 1358.6 148.6 1360.9 148.9 1363.2 147.7 1365.5 145.6 1367.7 143.8 1370 143.9 1372.3 146.6 1374.6 152.2 1376.9 159.5 1379.1 167.3 1381.4 173.2 1383.7 176 1386 174.8 1388.2 171.1 1390.5 166.4 1392.8 162.7 1395.1 160.8 1397.3 160.1 1399.6 159.2 1401.9 157.6 1404.2 155.2 1406.4 152.9 1408.7 151.4 1411 151.1 1413.3 151.5 1415.5 151.8 1417.8 151.8 1420.1 151.3 1422.4 150.7 1424.7 150.4 1426.9 150.1 1429.2 149.8 1431.5 149 1433.8 147.4 1436 144.9 1438.3 142 1440.6 139.1 1442.9 136.9 1445.1 135.6 1447.4 135.2 1449.7 135.9 1452 138 1454.2 141.5 1456.5 146.4 1458.8 152.4 1461.1 158.5 1463.4 163.6 1465.6 167.1 1467.9 168.5 1470.2 168.1 1472.5 166.5 1474.7 164.2 1477 161.6 1479.3 159.2 1481.6 157.3 1483.8 155.9 1486.1 154.7 1488.4 153.7 1490.7 152.2 1492.9 150.8 1495.2 149.3 1497.5 149.1 1499.8 150.4 1502 153.4 1504.3 157.3 1506.6 161.2 1508.9 164 1511.2 164.8 1513.4 163.5 1515.7 160.5 1518 156.5 1520.3 152.3 1522.5 148.9 1524.8 147.3 1527.1 147.7 1529.4 150.7 1531.6 155.6 1533.9 161.4 1536.2 166.4"/>
<path d="M1333.6 136.7 1335.9 137.4 1338.2 137.9 1340.4 138.5 1342.7 139.2 1345 140.3 1347.3 141.9 1349.5 143.8 1351.8 145.6 1354.1 147.1 1356.4 148 1358.6 148.4 1360.9 148.4 1363.2 147.9 1365.5 146.9 1367.7 145.1 1370 142.6 1372.3 140.1 1374.6 138.1 1376.9 137.1 1379.1 137.2 1381.4 137.9 1383.7 138.9 1386 139.6 1388.2 139.9 1390.5 140.2 1392.8 140.5 1395.1 141.6 1397.3 143.3 1399.6 145.7 1401.9 148.4 1404.2 151 1406.4 152.9 1408.7 153.7 1411 153.3 1413.3 151.6 1415.5 149 1417.8 146.1 1420.1 143 1422.4 140.1 1424.7 137.6 1426.9 135 1429.2 132.3 1431.5 130 1433.8 128 1436 126.6 1438.3 126.2 1440.6 126.5 1442.9 127.7 1445.1 130 1447.4 133.1 1449.7 137 1452 141.4 1454.2 145.6 1456.5 149.7 1458.8 153.4 1461.1 156.5 1463.4 158.7 1465.6 159.9 1467.9 159.6 1470.2 157.8 1472.5 155 1474.7 151.7 1477 148.5 1479.3 146.1 1481.6 145.1 1483.8 145.4 1486.1 147.1 1488.4 149.5 1490.7 152.3 1492.9 154.8 1495.2 156.7 1497.5 157.8 1499.8 157.8 1502 156.9 1504.3 154.8 1506.6 151.7 1508.9 147.9 1511.2 143.5 1513.4 139 1515.7 135 1518 132 1520.3 130.7 1522.5 131.7 1524.8 135 1527.1 140.4 1529.4 146.8 1531.6 153.1 1533.9 158.2 1536.2 161.6"/>
</g>
<g fill="none" stroke="#ec008c" stroke-width="2.8" stroke-linejoin="round">
<path d="M1333.6 325.6 1335.9 325.5 1338.2 325.3 1340.4 325.1 1342.7 324.8 1345 324.5 1347.3 324.1 1349.5 323.8 1351.8 323.6 1354.1 323.6 1356.4 323.6 1358.6 323.8 1360.9 324.2 1363.2 324.7 1365.5 325.5 1367.7 326.5 1370 327.6 1372.3 328.8 1374.6 330 1376.9 331 1379.1 331.8 1381.4 332.6 1383.7 333.1 1386 333.4 1388.2 333.1 1390.5 332.3 1392.8 331 1395.1 329.3 1397.3 327.5 1399.6 325.6 1401.9 323.8 1404.2 322 1406.4 320.1 1408.7 318 1411 315.7 1413.3 312.9 1415.5 309.5 1417.8 305.3 1420.1 300 1422.4 293.6 1424.7 285.7 1426.9 276.6 1429.2 266.5 1431.5 255.9 1433.8 245.6 1436 236.9 1438.3 234.5 1440.6 239.1 1442.9 245.5 1445.1 252.6 1447.4 260 1449.7 267.3 1452 274.5 1454.2 281.4 1456.5 288.1 1458.8 294.5 1461.1 300.7 1463.4 306.4 1465.6 311.6 1467.9 315.9 1470.2 319.2 1472.5 321.6 1474.7 323.2 1477 324.3 1479.3 325.2 1481.6 326.1 1483.8 327.2 1486.1 328.7 1488.4 330.3 1490.7 331.8 1492.9 332.9 1495.2 333.5 1497.5 333.7 1499.8 333.6 1502 333.4 1504.3 333.1 1506.6 332.9 1508.9 332.8 1511.2 332.9 1513.4 333.5 1515.7 334.4 1518 335.7 1520.3 337.2 1522.5 338.5 1524.8 339.5 1527.1 340.1 1529.4 340.2 1531.6 339.9 1533.9 339.2 1536.2 338.3"/>
<path d="M1333.6 328.6 1335.9 328.9 1338.2 329.2 1340.4 329.4 1342.7 329.4 1345 329.5 1347.3 330 1349.5 330.8 1351.8 331.9 1354.1 333.1 1356.4 334 1358.6 334.2 1360.9 333.7 1363.2 332.7 1365.5 331.7 1367.7 331.2 1370 331.6 1372.3 332.6 1374.6 334 1376.9 335.3 1379.1 336.1 1381.4 336.6 1383.7 336.7 1386 336.7 1388.2 336.6 1390.5 336.1 1392.8 335.3 1395.1 333.8 1397.3 331.9 1399.6 329.6 1401.9 327.1 1404.2 324.8 1406.4 322.6 1408.7 320.5 1411 318.2 1413.3 315.6 1415.5 312.3 1417.8 308.3 1420.1 303.2 1422.4 297 1424.7 289.6 1426.9 281 1429.2 271.5 1431.5 261.4 1433.8 251.4 1436 242.8 1438.3 241.9 1440.6 248.4 1442.9 256.3 1445.1 264.7 1447.4 272.9 1449.7 280.5 1452 287.3 1454.2 293.4 1456.5 298.9 1458.8 304 1461.1 308.5 1463.4 312.4 1465.6 315.6 1467.9 318.1 1470.2 319.9 1472.5 321.1 1474.7 321.9 1477 322.5 1479.3 323.1 1481.6 324.1 1483.8 325.7 1486.1 327.8 1488.4 330.2 1490.7 332.7 1492.9 334.8 1495.2 336.4 1497.5 337.5 1499.8 338.3 1502 338.8 1504.3 339.1 1506.6 339.3 1508.9 339.2 1511.2 338.8 1513.4 338.4 1515.7 338.1 1518 337.9 1520.3 337.7 1522.5 337.6 1524.8 337.4 1527.1 337.3 1529.4 337.1 1531.6 337 1533.9 336.9 1536.2 336.5"/>
<path d="M1333.6 329.5 1335.9 329.3 1338.2 329.5 1340.4 330 1342.7 330.7 1345 331.6 1347.3 332.3 1349.5 332.5 1351.8 331.9 1354.1 330.5 1356.4 328.4 1358.6 325.9 1360.9 323.5 1363.2 321.6 1365.5 320.4 1367.7 320.2 1370 320.8 1372.3 322 1374.6 323.5 1376.9 324.9 1379.1 326.2 1381.4 327 1383.7 327.3 1386 327.3 1388.2 327 1390.5 326.5 1392.8 326.2 1395.1 326.2 1397.3 326.3 1399.6 326.6 1401.9 326.5 1404.2 325.8 1406.4 324.5 1408.7 322.4 1411 319.3 1413.3 315.3 1415.5 310.3 1417.8 304.6 1420.1 298.2 1422.4 291.3 1424.7 283.6 1426.9 275.1 1429.2 265.6 1431.5 255.1 1433.8 244.4 1436 235 1438.3 234.7 1440.6 244.2 1442.9 255.5 1445.1 267 1447.4 278 1449.7 288.1 1452 297.1 1454.2 304.9 1456.5 311.5 1458.8 316.6 1461.1 320.6 1463.4 323.5 1465.6 325.7 1467.9 327.3 1470.2 328.5 1472.5 329.2 1474.7 329.5 1477 329.6 1479.3 329.7 1481.6 330 1483.8 330.7 1486.1 331.7 1488.4 332.7 1490.7 333.8 1492.9 334.7 1495.2 335.6 1497.5 336.3 1499.8 336.8 1502 336.9 1504.3 336.5 1506.6 335.5 1508.9 334.3 1511.2 333.1 1513.4 332.3 1515.7 332.2 1518 332.6 1520.3 333.3 1522.5 334.1 1524.8 335 1527.1 335.9 1529.4 336.9 1531.6 337.7 1533.9 338.3 1536.2 338.5"/>
<path d="M1333.6 328.7 1335.9 328.9 1338.2 329.2 1340.4 329.6 1342.7 330.2 1345 330.9 1347.3 331.5 1349.5 331.9 1351.8 332 1354.1 332 1356.4 331.9 1358.6 332 1360.9 332.3 1363.2 332.6 1365.5 333.1 1367.7 333.5 1370 333.5 1372.3 332.9 1374.6 331.7 1376.9 330 1379.1 328.2 1381.4 326.5 1383.7 325.5 1386 325.1 1388.2 325.4 1390.5 326.1 1392.8 327 1395.1 327.8 1397.3 328.1 1399.6 327.8 1401.9 327.1 1404.2 326.1 1406.4 324.9 1408.7 323.3 1411 321 1413.3 317.9 1415.5 313.9 1417.8 309.2 1420.1 303.8 1422.4 297.6 1424.7 290.5 1426.9 282.2 1429.2 272.9 1431.5 263.1 1433.8 253.3 1436 244.7 1438.3 242 1440.6 247.1 1442.9 253.3 1445.1 259.7 1447.4 266 1449.7 272.4 1452 278.6 1454.2 284.6 1456.5 290.6 1458.8 296.5 1461.1 302.5 1463.4 308.6 1465.6 314.8 1467.9 320.8 1470.2 326.2 1472.5 330.9 1474.7 334.6 1477 337.2 1479.3 338.5 1481.6 339 1483.8 338.9 1486.1 338.7 1488.4 338.7 1490.7 339.1 1492.9 339.8 1495.2 340.6 1497.5 341.3 1499.8 341.7 1502 341.9 1504.3 341.8 1506.6 341.5 1508.9 340.8 1511.2 340 1513.4 339 1515.7 338.1 1518 337.3 1520.3 336.8 1522.5 336.7 1524.8 337 1527.1 337.6 1529.4 338.2 1531.6 338.6 1533.9 338.9 1536.2 338.8"/>
<path d="M1333.6 333.7 1335.9 334 1338.2 334.3 1340.4 334.6 1342.7 334.9 1345 335 1347.3 335 1349.5 334.6 1351.8 334 1354.1 333.1 1356.4 332.1 1358.6 331.1 1360.9 330.3 1363.2 329.9 1365.5 330 1367.7 330.7 1370 331.6 1372.3 332.6 1374.6 333.5 1376.9 333.9 1379.1 334 1381.4 333.6 1383.7 333 1386 332.3 1388.2 331.6 1390.5 331 1392.8 330.5 1395.1 330.1 1397.3 329.7 1399.6 329.1 1401.9 328.2 1404.2 326.8 1406.4 324.6 1408.7 321.6 1411 317.8 1413.3 313.4 1415.5 308.5 1417.8 303.4 1420.1 297.9 1422.4 292 1424.7 285.6 1426.9 278.8 1429.2 271.8 1431.5 265.4 1433.8 261.7 1436 267.7 1438.3 276.5 1440.6 286.3 1442.9 295.9 1445.1 304.8 1447.4 312.4 1449.7 318.5 1452 323.1 1454.2 326.4 1456.5 328.4 1458.8 329.7 1461.1 330.5 1463.4 331.2 1465.6 332.1 1467.9 333.2 1470.2 334.7 1472.5 336.6 1474.7 338.8 1477 341 1479.3 343.2 1481.6 345 1483.8 346.3 1486.1 347 1488.4 347.4 1490.7 347.5 1492.9 347.5 1495.2 347.6 1497.5 347.5 1499.8 347.4 1502 347.3 1504.3 347.1 1506.6 346.8 1508.9 346.1 1511.2 345 1513.4 343.6 1515.7 341.9 1518 340.2 1520.3 338.9 1522.5 338.1 1524.8 337.7 1527.1 337.9 1529.4 338.4 1531.6 339 1533.9 339.7 1536.2 340.2"/>
<path d="M1333.6 336.8 1335.9 337.5 1338.2 338.2 1340.4 339.1 1342.7 340.1 1345 341.4 1347.3 342.9 1349.5 344.4 1351.8 345.8 1354.1 346.7 1356.4 347 1358.6 346.8 1360.9 346.2 1363.2 345.3 1365.5 344.4 1367.7 343.6 1370 342.9 1372.3 342.3 1374.6 341.8 1376.9 341.4 1379.1 340.8 1381.4 339.9 1383.7 338.9 1386 337.9 1388.2 337 1390.5 336.5 1392.8 336.2 1395.1 336.1 1397.3 336.2 1399.6 336.2 1401.9 336.2 1404.2 335.8 1406.4 334.9 1408.7 333.3 1411 330.9 1413.3 328 1415.5 324.8 1417.8 321.4 1420.1 318 1422.4 314.1 1424.7 309.4 1426.9 303.4 1429.2 295.9 1431.5 287.3 1433.8 278.3 1436 270.8 1438.3 271.4 1440.6 277.2 1442.9 284.3 1445.1 291.7 1447.4 298.8 1449.7 305.4 1452 311.6 1454.2 317.9 1456.5 324.3 1458.8 330.8 1461.1 337.1 1463.4 347.9 1465.6 352.4 1467.9 355.5 1470.2 357.4 1472.5 358.4 1474.7 358.9 1477 359.2 1479.3 359.4 1481.6 359.4 1483.8 359 1486.1 358.1 1488.4 356.7 1490.7 355.4 1492.9 354.3 1495.2 353.7 1497.5 353.4 1499.8 353.2 1502 353 1504.3 352.7 1506.6 352.5 1508.9 352.5 1511.2 352.5 1513.4 352.5 1515.7 352.2 1518 351.6 1520.3 350.7 1522.5 349.5 1524.8 348.3 1527.1 347.1 1529.4 346.2 1531.6 345.8 1533.9 346.1 1536.2 347"/>
<path d="M1333.6 348.8 1335.9 347.7 1338.2 346.3 1340.4 344.9 1342.7 343.6 1345 342.7 1347.3 342.3 1349.5 342.2 1351.8 342.3 1354.1 342.2 1356.4 342.1 1358.6 341.9 1360.9 342.1 1363.2 342.7 1365.5 343.8 1367.7 345.2 1370 346.8 1372.3 348.4 1374.6 349.6 1376.9 350.3 1379.1 350.7 1381.4 350.8 1383.7 350.8 1386 350.6 1388.2 350.3 1390.5 349.7 1392.8 348.9 1395.1 348.1 1397.3 347.6 1399.6 347.5 1401.9 347.5 1404.2 347.4 1406.4 347.1 1408.7 346.6 1411 346.2 1413.3 346.2 1415.5 346.6 1417.8 347.3 1420.1 347.8 1422.4 347.7 1424.7 346.9 1426.9 345.1 1429.2 341.2 1431.5 334.3 1433.8 324 1436 313.1 1438.3 306.6 1440.6 308.8 1442.9 319.3 1445.1 333.3 1447.4 345.5 1449.7 353.5 1452 357.7 1454.2 359.7 1456.5 360.2 1458.8 360 1461.1 359 1463.4 357.3 1465.6 355 1467.9 352.3 1470.2 349.5 1472.5 347 1474.7 345 1477 343.5 1479.3 342.7 1481.6 342.4 1483.8 342.5 1486.1 343.1 1488.4 344.1 1490.7 345.2 1492.9 346.3 1495.2 347.1 1497.5 347.6 1499.8 347.9 1502 348.1 1504.3 348.3 1506.6 348.7 1508.9 349.2 1511.2 349.6 1513.4 350.1 1515.7 350.5 1518 350.9 1520.3 351.3 1522.5 351.4 1524.8 351 1527.1 349.9 1529.4 348.4 1531.6 346.5 1533.9 344.6 1536.2 342.9"/>
<path d="M1333.6 328 1335.9 327.2 1338.2 326.7 1340.4 326.6 1342.7 326.8 1345 327.2 1347.3 327.7 1349.5 328.1 1351.8 328.4 1354.1 328.6 1356.4 328.9 1358.6 329.3 1360.9 330 1363.2 330.6 1365.5 331.2 1367.7 331.6 1370 331.9 1372.3 332.2 1374.6 332.7 1376.9 333.3 1379.1 333.9 1381.4 334 1383.7 333.3 1386 331.8 1388.2 329.9 1390.5 328.2 1392.8 327.3 1395.1 327.2 1397.3 327.8 1399.6 328.6 1401.9 329.2 1404.2 329.1 1406.4 328.2 1408.7 326.5 1411 324.3 1413.3 321.9 1415.5 319.5 1417.8 317.1 1420.1 314.5 1422.4 311.5 1424.7 307.7 1426.9 303.1 1429.2 297.8 1431.5 291.8 1433.8 285.8 1436 281.1 1438.3 283.2 1440.6 288.3 1442.9 293.8 1445.1 299.1 1447.4 304.1 1449.7 308.7 1452 312.9 1454.2 316.6 1456.5 319.7 1458.8 322.4 1461.1 324.5 1463.4 326.4 1465.6 328 1467.9 329.6 1470.2 331.3 1472.5 332.9 1474.7 334.4 1477 335.7 1479.3 336.6 1481.6 337.1 1483.8 337.5 1486.1 337.8 1488.4 338.3 1490.7 339 1492.9 340 1495.2 340.9 1497.5 341.4 1499.8 341.4 1502 340.5 1504.3 339 1506.6 337 1508.9 334.7 1511.2 332.6 1513.4 330.9 1515.7 330 1518 329.9 1520.3 330.6 1522.5 331.8 1524.8 333.1 1527.1 334 1529.4 334.5 1531.6 334.5 1533.9 334.3 1536.2 334.1"/>
<path d="M1333.6 340.1 1335.9 339.8 1338.2 339.1 1340.4 338.4 1342.7 338.1 1345 338.4 1347.3 339.3 1349.5 340.5 1351.8 341.6 1354.1 342.3 1356.4 342.5 1358.6 342.1 1360.9 341.5 1363.2 341 1365.5 340.8 1367.7 341.2 1370 342 1372.3 343.2 1374.6 344.4 1376.9 345.5 1379.1 346.2 1381.4 346.2 1383.7 345.7 1386 344.8 1388.2 343.8 1390.5 342.7 1392.8 341.4 1395.1 339.8 1397.3 337.8 1399.6 335.5 1401.9 333.3 1404.2 331.4 1406.4 329.9 1408.7 328.9 1411 328.2 1413.3 327.6 1415.5 326.9 1417.8 325.8 1420.1 323.6 1422.4 320.1 1424.7 314.6 1426.9 307.2 1429.2 297.9 1431.5 287.1 1433.8 275.8 1436 265.6 1438.3 262.8 1440.6 267.5 1442.9 274 1445.1 281.1 1447.4 288.4 1449.7 295.5 1452 302.2 1454.2 308.4 1456.5 314.2 1458.8 319.6 1461.1 324.7 1463.4 329.2 1465.6 333 1467.9 335.7 1470.2 337.4 1472.5 338.1 1474.7 338.3 1477 338.3 1479.3 338.4 1481.6 338.8 1483.8 339.4 1486.1 340.4 1488.4 341.5 1490.7 342.6 1492.9 343.6 1495.2 344.3 1497.5 344.9 1499.8 345.2 1502 345.5 1504.3 345.9 1506.6 346.5 1508.9 347.2 1511.2 347.8 1513.4 348.4 1515.7 348.6 1518 348.5 1520.3 348.1 1522.5 347.4 1524.8 346.5 1527.1 345.4 1529.4 344.4 1531.6 343.3 1533.9 342.2 1536.2 340.9"/>
<path d="M1333.6 329 1335.9 328.8 1338.2 328.9 1340.4 329.4 1342.7 330 1345 330.4 1347.3 330.4 1349.5 330 1351.8 329.7 1354.1 329.8 1356.4 330.4 1358.6 331.2 1360.9 331.9 1363.2 332 1365.5 331.4 1367.7 330.2 1370 328.6 1372.3 327.2 1374.6 326.4 1376.9 326.4 1379.1 327.3 1381.4 328.8 1383.7 330.5 1386 332.2 1388.2 333.4 1390.5 334 1392.8 333.8 1395.1 333 1397.3 331.8 1399.6 330.5 1401.9 329.2 1404.2 327.9 1406.4 326.1 1408.7 323.9 1411 321.1 1413.3 317.8 1415.5 314.2 1417.8 310.8 1420.1 307.4 1422.4 304.2 1424.7 300.7 1426.9 296.9 1429.2 292.5 1431.5 287.6 1433.8 282.6 1436 278.2 1438.3 277.1 1440.6 282.7 1442.9 289.3 1445.1 295.8 1447.4 301.8 1449.7 306.9 1452 311.2 1454.2 314.8 1456.5 318 1458.8 321 1461.1 324.2 1463.4 333 1465.6 337 1467.9 341 1470.2 344.9 1472.5 348.1 1474.7 350.6 1477 352.3 1479.3 353.4 1481.6 354 1483.8 354.4 1486.1 354.8 1488.4 354.9 1490.7 354.9 1492.9 354.4 1495.2 353.4 1497.5 351.8 1499.8 349.8 1502 347.8 1504.3 346 1506.6 344.8 1508.9 344.2 1511.2 344 1513.4 344 1515.7 343.9 1518 343.7 1520.3 343.3 1522.5 342.8 1524.8 342.2 1527.1 341.6 1529.4 340.9 1531.6 340.5 1533.9 340.4 1536.2 340.4"/>
<path d="M1333.6 328.9 1335.9 327.6 1338.2 327.3 1340.4 327.7 1342.7 328.6 1345 329.6 1347.3 330.4 1349.5 331.2 1351.8 331.9 1354.1 332.6 1356.4 333.4 1358.6 334.5 1360.9 335.7 1363.2 336.7 1365.5 337.4 1367.7 337.5 1370 337 1372.3 336 1374.6 334.9 1376.9 333.8 1379.1 332.9 1381.4 332.2 1383.7 331.7 1386 331.6 1388.2 331.6 1390.5 331.9 1392.8 332.2 1395.1 332.2 1397.3 331.8 1399.6 330.6 1401.9 328.8 1404.2 326.5 1406.4 323.9 1408.7 321.2 1411 318.6 1413.3 315.9 1415.5 313.2 1417.8 310.4 1420.1 307.4 1422.4 304.2 1424.7 300.6 1426.9 296.3 1429.2 291.4 1431.5 285.8 1433.8 279.8 1436 273.8 1438.3 268.9 1440.6 268.4 1442.9 273.4 1445.1 279.4 1447.4 285.5 1449.7 291.2 1452 296.3 1454.2 301 1456.5 305.4 1458.8 309.6 1461.1 313.7 1463.4 317.5 1465.6 321.1 1467.9 324.5 1470.2 327.6 1472.5 330.4 1474.7 332.7 1477 334.2 1479.3 335.1 1481.6 335.1 1483.8 334.4 1486.1 333.5 1488.4 332.6 1490.7 332.1 1492.9 331.9 1495.2 332.3 1497.5 333 1499.8 333.9 1502 334.9 1504.3 335.9 1506.6 336.7 1508.9 337.2 1511.2 337.5 1513.4 337.6 1515.7 337.5 1518 337.5 1520.3 337.6 1522.5 337.8 1524.8 338 1527.1 338 1529.4 337.8 1531.6 337.5 1533.9 337.1 1536.2 336.7"/>
<path d="M1333.6 337.9 1335.9 338.5 1338.2 338.7 1340.4 338.3 1342.7 337.6 1345 336.7 1347.3 335.9 1349.5 335.3 1351.8 335.1 1354.1 335.2 1356.4 335.6 1358.6 336.2 1360.9 336.9 1363.2 337.8 1365.5 338.8 1367.7 339.9 1370 340.9 1372.3 341.6 1374.6 341.9 1376.9 341.5 1379.1 340.7 1381.4 339.6 1383.7 338.6 1386 337.7 1388.2 337.1 1390.5 336.7 1392.8 336.2 1395.1 335.5 1397.3 334.4 1399.6 332.8 1401.9 331 1404.2 329 1406.4 327.1 1408.7 325.2 1411 323.4 1413.3 321.3 1415.5 318.9 1417.8 315.7 1420.1 311.3 1422.4 305.6 1424.7 298.3 1426.9 289.7 1429.2 280.4 1431.5 271.3 1433.8 263.4 1436 258.3 1438.3 262.9 1440.6 269.7 1442.9 277.2 1445.1 284.5 1447.4 291.3 1449.7 297.5 1452 303.1 1454.2 308.1 1456.5 312.5 1458.8 316.5 1461.1 319.9 1463.4 323.2 1465.6 326 1467.9 328.5 1470.2 330.6 1472.5 332.1 1474.7 333.3 1477 334.3 1479.3 335.2 1481.6 336.2 1483.8 337.6 1486.1 339.2 1488.4 341.1 1490.7 343 1492.9 344.6 1495.2 345.7 1497.5 345.9 1499.8 345.2 1502 344 1504.3 342.5 1506.6 340.9 1508.9 339.5 1511.2 338.2 1513.4 337.1 1515.7 336.3 1518 335.8 1520.3 335.7 1522.5 335.7 1524.8 335.8 1527.1 335.7 1529.4 335.3 1531.6 334.8 1533.9 334.4 1536.2 334.2"/>
<path d="M1333.6 338.8 1335.9 338.2 1338.2 337.8 1340.4 337.5 1342.7 337.5 1345 337.5 1347.3 337.5 1349.5 337.6 1351.8 337.7 1354.1 338 1356.4 338.5 1358.6 338.9 1360.9 339 1363.2 338.8 1365.5 338.2 1367.7 337.5 1370 336.6 1372.3 335.9 1374.6 335.3 1376.9 334.9 1379.1 334.7 1381.4 334.8 1383.7 334.9 1386 335.3 1388.2 335.8 1390.5 336.2 1392.8 336.6 1395.1 336.6 1397.3 335.9 1399.6 334.7 1401.9 333.1 1404.2 331.5 1406.4 330.1 1408.7 328.8 1411 327.2 1413.3 325 1415.5 321.8 1417.8 318 1420.1 313.5 1422.4 308.8 1424.7 304 1426.9 299.4 1429.2 294.8 1431.5 290.4 1433.8 286.9 1436 288 1438.3 291.7 1440.6 295.7 1442.9 299.8 1445.1 303.8 1447.4 307.6 1449.7 311 1452 314 1454.2 316.6 1456.5 319 1458.8 321.4 1461.1 323.9 1463.4 326.7 1465.6 329.8 1467.9 332.9 1470.2 335.6 1472.5 337.9 1474.7 339.3 1477 339.8 1479.3 339.5 1481.6 338.3 1483.8 336.6 1486.1 335.2 1488.4 334.3 1490.7 334.5 1492.9 335.6 1495.2 337.4 1497.5 339.4 1499.8 341.4 1502 343 1504.3 344.2 1506.6 345 1508.9 345.4 1511.2 345.5 1513.4 345.2 1515.7 344.8 1518 344.4 1520.3 344.2 1522.5 344.2 1524.8 344.4 1527.1 344.8 1529.4 345.5 1531.6 346.4 1533.9 347.5 1536.2 348.7"/>
<path d="M1333.6 330.3 1335.9 329.6 1338.2 329.1 1340.4 328.8 1342.7 328.7 1345 328.9 1347.3 329.3 1349.5 329.9 1351.8 330.7 1354.1 331.6 1356.4 332.4 1358.6 333.2 1360.9 333.8 1363.2 334.2 1365.5 334.4 1367.7 334.3 1370 333.7 1372.3 332.6 1374.6 331.4 1376.9 330.3 1379.1 330 1381.4 330.6 1383.7 332.2 1386 334.3 1388.2 336.2 1390.5 337.5 1392.8 337.8 1395.1 337.1 1397.3 335.4 1399.6 333.2 1401.9 330.6 1404.2 328 1406.4 325.6 1408.7 323.6 1411 321.7 1413.3 319.7 1415.5 317.2 1417.8 313.7 1420.1 309.2 1422.4 303.3 1424.7 296.3 1426.9 288.4 1429.2 279.9 1431.5 271.3 1433.8 263.4 1436 257.9 1438.3 260.9 1440.6 265.9 1442.9 271.6 1445.1 277.5 1447.4 283.5 1449.7 289.3 1452 294.7 1454.2 299.7 1456.5 304.3 1458.8 308.5 1461.1 312.6 1463.4 316.4 1465.6 319.4 1467.9 321.6 1470.2 322.9 1472.5 323.5 1474.7 323.8 1477 324 1479.3 324.3 1481.6 324.7 1483.8 325.2 1486.1 325.7 1488.4 326.5 1490.7 327.5 1492.9 328.5 1495.2 329.4 1497.5 330.1 1499.8 330.3 1502 330.5 1504.3 330.6 1506.6 330.8 1508.9 330.9 1511.2 331 1513.4 330.9 1515.7 331 1518 331.6 1520.3 332.4 1522.5 333.4 1524.8 334.1 1527.1 334.1 1529.4 333.3 1531.6 331.9 1533.9 330.5 1536.2 329.6"/>
<path d="M1333.6 330.8 1335.9 330.4 1338.2 330.3 1340.4 330.7 1342.7 331.3 1345 331.9 1347.3 332.5 1349.5 332.8 1351.8 333 1354.1 333.1 1356.4 333.1 1358.6 332.8 1360.9 332.4 1363.2 332.2 1365.5 332.5 1367.7 333.5 1370 335 1372.3 336.6 1374.6 337.8 1376.9 338.4 1379.1 338.2 1381.4 337.7 1383.7 337.1 1386 336.7 1388.2 336.4 1390.5 336 1392.8 335.6 1395.1 335 1397.3 334.6 1399.6 334.5 1401.9 334.6 1404.2 334.8 1406.4 334.8 1408.7 334.7 1411 334.6 1413.3 334.5 1415.5 334.4 1417.8 333.9 1420.1 332.4 1422.4 329.6 1424.7 325.5 1426.9 320.1 1429.2 313.6 1431.5 306.1 1433.8 298 1436 289.7 1438.3 282.3 1440.6 279.2 1442.9 282.3 1445.1 286.6 1447.4 291.3 1449.7 296.4 1452 302.1 1454.2 308.4 1456.5 315.4 1458.8 322.6 1461.1 329.3 1463.4 340 1465.6 344.1 1467.9 346.8 1470.2 348.5 1472.5 349.9 1474.7 351.2 1477 352.9 1479.3 354.8 1481.6 356.8 1483.8 358.4 1486.1 359.3 1488.4 359.3 1490.7 358.6 1492.9 357.3 1495.2 355.8 1497.5 354.3 1499.8 353.1 1502 352 1504.3 351.1 1506.6 350.1 1508.9 349 1511.2 347.8 1513.4 346.6 1515.7 345.7 1518 345.3 1520.3 345.6 1522.5 346.6 1524.8 348 1527.1 349.2 1529.4 349.9 1531.6 350.2 1533.9 350 1536.2 349.6"/>
<path d="M1333.6 330.3 1335.9 330.6 1338.2 330.7 1340.4 330.7 1342.7 330.5 1345 330.2 1347.3 329.9 1349.5 329.8 1351.8 330.1 1354.1 330.7 1356.4 331.5 1358.6 332.2 1360.9 332.6 1363.2 332.4 1365.5 331.8 1367.7 330.9 1370 330 1372.3 329.5 1374.6 329.4 1376.9 329.5 1379.1 329.7 1381.4 329.8 1383.7 329.5 1386 328.8 1388.2 327.9 1390.5 327 1392.8 326.2 1395.1 325.7 1397.3 325.4 1399.6 325.3 1401.9 325 1404.2 324.5 1406.4 323.7 1408.7 322.6 1411 321.2 1413.3 319.6 1415.5 317.7 1417.8 315.6 1420.1 313 1422.4 309.9 1424.7 306.1 1426.9 301.7 1429.2 296.6 1431.5 291.1 1433.8 285.3 1436 279.7 1438.3 274.8 1440.6 274.5 1442.9 279.8 1445.1 286.5 1447.4 293.8 1449.7 301.3 1452 308.4 1454.2 314.7 1456.5 320 1458.8 324.1 1461.1 327.1 1463.4 329.1 1465.6 330.2 1467.9 330.7 1470.2 330.9 1472.5 331 1474.7 331.2 1477 331.8 1479.3 332.6 1481.6 333.6 1483.8 334.7 1486.1 335.6 1488.4 336.2 1490.7 336.5 1492.9 336.6 1495.2 336.4 1497.5 336.2 1499.8 336.1 1502 335.9 1504.3 335.8 1506.6 335.6 1508.9 335.2 1511.2 334.5 1513.4 333.8 1515.7 333.1 1518 332.6 1520.3 332.3 1522.5 332.1 1524.8 332 1527.1 331.8 1529.4 331.6 1531.6 331.2 1533.9 330.8 1536.2 330.4"/>
<path d="M1333.6 327.3 1335.9 327 1338.2 326.7 1340.4 326.4 1342.7 325.9 1345 325.2 1347.3 324.3 1349.5 323.1 1351.8 322 1354.1 320.9 1356.4 320.2 1358.6 319.8 1360.9 319.7 1363.2 319.9 1365.5 320.4 1367.7 321.3 1370 322.5 1372.3 324.1 1374.6 325.9 1376.9 327.7 1379.1 329.3 1381.4 330.3 1383.7 330.8 1386 330.5 1388.2 329.8 1390.5 328.7 1392.8 327.4 1395.1 326.1 1397.3 324.8 1399.6 323.6 1401.9 322.4 1404.2 321.2 1406.4 319.9 1408.7 318.4 1411 316.4 1413.3 313.8 1415.5 310.4 1417.8 306.1 1420.1 300.9 1422.4 295.1 1424.7 288.9 1426.9 282.6 1429.2 276.4 1431.5 270.7 1433.8 266.2 1436 267.2 1438.3 272.2 1440.6 277.7 1442.9 283.1 1445.1 287.9 1447.4 292.2 1449.7 296 1452 299.4 1454.2 302.5 1456.5 305.5 1458.8 308.2 1461.1 310.7 1463.4 312.9 1465.6 314.9 1467.9 316.9 1470.2 318.6 1472.5 320.1 1474.7 321.5 1477 322.5 1479.3 323.5 1481.6 324.4 1483.8 325.5 1486.1 326.7 1488.4 328 1490.7 329.1 1492.9 329.8 1495.2 329.9 1497.5 329.4 1499.8 328.5 1502 327.3 1504.3 326.1 1506.6 325.1 1508.9 324.3 1511.2 323.5 1513.4 322.7 1515.7 321.8 1518 321 1520.3 320.4 1522.5 320.3 1524.8 320.7 1527.1 321.5 1529.4 322.6 1531.6 323.8 1533.9 325 1536.2 325.8"/>
<path d="M1333.6 330.2 1335.9 329.6 1338.2 329.9 1340.4 330.9 1342.7 331.8 1345 332.3 1347.3 332 1349.5 331.2 1351.8 330.3 1354.1 329.8 1356.4 329.8 1358.6 330.4 1360.9 331.3 1363.2 332.4 1365.5 333.4 1367.7 334.3 1370 335.2 1372.3 335.7 1374.6 336.1 1376.9 336.4 1379.1 336.7 1381.4 336.9 1383.7 336.9 1386 336.4 1388.2 335.3 1390.5 333.3 1392.8 330.5 1395.1 327.4 1397.3 324.1 1399.6 321.1 1401.9 318.6 1404.2 316.7 1406.4 315.4 1408.7 314.3 1411 313.1 1413.3 311.5 1415.5 308.9 1417.8 305.4 1420.1 301.2 1422.4 296.6 1424.7 292 1426.9 287.2 1429.2 281.9 1431.5 276 1433.8 269.6 1436 263.5 1438.3 262.4 1440.6 266.2 1442.9 271.7 1445.1 278.2 1447.4 285.4 1449.7 292.6 1452 299.2 1454.2 305.1 1456.5 309.9 1458.8 313.8 1461.1 317.1 1463.4 319.9 1465.6 322.2 1467.9 324.4 1470.2 326.3 1472.5 327.9 1474.7 329.2 1477 330.1 1479.3 330.3 1481.6 329.9 1483.8 329.2 1486.1 328.6 1488.4 328.9 1490.7 330.2 1492.9 332.4 1495.2 335 1497.5 337.3 1499.8 338.7 1502 339.1 1504.3 338.5 1506.6 336.9 1508.9 334.9 1511.2 332.8 1513.4 331.3 1515.7 330.5 1518 330.4 1520.3 330.9 1522.5 331.4 1524.8 332.1 1527.1 332.8 1529.4 333.9 1531.6 335.4 1533.9 337.1 1536.2 338.4"/>
<path d="M1333.6 342.7 1335.9 341.2 1338.2 339.7 1340.4 338.4 1342.7 337.4 1345 336.7 1347.3 336.3 1349.5 335.9 1351.8 335.4 1354.1 334.8 1356.4 334.1 1358.6 333.7 1360.9 334 1363.2 335.1 1365.5 336.8 1367.7 339 1370 341 1372.3 342.7 1374.6 343.5 1376.9 343.5 1379.1 342.7 1381.4 341.4 1383.7 340 1386 338.8 1388.2 338.2 1390.5 338.1 1392.8 338.4 1395.1 338.9 1397.3 339.1 1399.6 338.8 1401.9 338 1404.2 336.8 1406.4 335.2 1408.7 333.2 1411 330.7 1413.3 327.6 1415.5 323.8 1417.8 319.1 1420.1 313.8 1422.4 307.9 1424.7 301.5 1426.9 294.6 1429.2 287.3 1431.5 279.6 1433.8 272.1 1436 265.6 1438.3 264.4 1440.6 269.3 1442.9 275.2 1445.1 281.3 1447.4 287.2 1449.7 292.8 1452 298 1454.2 303 1456.5 307.7 1458.8 312.3 1461.1 316.7 1463.4 320.7 1465.6 324.3 1467.9 327.6 1470.2 330.8 1472.5 333.7 1474.7 336.2 1477 338 1479.3 339.1 1481.6 339.5 1483.8 339.5 1486.1 339.5 1488.4 339.8 1490.7 340.4 1492.9 341.4 1495.2 342.5 1497.5 343.3 1499.8 343.7 1502 343.6 1504.3 343 1506.6 342.4 1508.9 341.9 1511.2 341.8 1513.4 342.2 1515.7 342.9 1518 343.9 1520.3 344.8 1522.5 345.6 1524.8 346 1527.1 346.2 1529.4 346.1 1531.6 345.8 1533.9 345.3 1536.2 344.8"/>
<path d="M1333.6 346.2 1335.9 343 1338.2 340 1340.4 337.9 1342.7 336.8 1345 336.7 1347.3 337 1349.5 337.5 1351.8 338.2 1354.1 339 1356.4 340.1 1358.6 341.5 1360.9 343 1363.2 344.2 1365.5 344.9 1367.7 344.9 1370 344.6 1372.3 344.1 1374.6 343.7 1376.9 343.6 1379.1 343.2 1381.4 342.4 1383.7 340.9 1386 339 1388.2 337.3 1390.5 335.9 1392.8 335.1 1395.1 334.5 1397.3 333.7 1399.6 332.5 1401.9 330.8 1404.2 328.9 1406.4 327.1 1408.7 325.4 1411 324.1 1413.3 323 1415.5 321.4 1417.8 318.8 1420.1 314.8 1422.4 309.4 1424.7 302.6 1426.9 295.1 1429.2 287.6 1431.5 280.5 1433.8 274.6 1436 270.4 1438.3 273.2 1440.6 280.2 1442.9 287.3 1445.1 293.9 1447.4 300.1 1449.7 306 1452 311.5 1454.2 316.4 1456.5 320.4 1458.8 323.4 1461.1 325.8 1463.4 328 1465.6 330.2 1467.9 332.9 1470.2 336.1 1472.5 339.7 1474.7 343.1 1477 345.9 1479.3 347.3 1481.6 347.3 1483.8 346.4 1486.1 345.2 1488.4 344.6 1490.7 344.6 1492.9 345.1 1495.2 345.7 1497.5 345.8 1499.8 345.6 1502 345.1 1504.3 344.7 1506.6 344.3 1508.9 344 1511.2 343.6 1513.4 343.3 1515.7 343.2 1518 343.6 1520.3 344.7 1522.5 346.2 1524.8 347.9 1527.1 349.3 1529.4 350.3 1531.6 350.6 1533.9 350.5 1536.2 350.1"/>
<path d="M1333.6 342.9 1335.9 341.9 1338.2 340.3 1340.4 338.3 1342.7 336.2 1345 334.1 1347.3 332.6 1349.5 331.6 1351.8 331.3 1354.1 331.3 1356.4 331.5 1358.6 331.7 1360.9 331.7 1363.2 331.9 1365.5 332.1 1367.7 332.3 1370 332.6 1372.3 333.1 1374.6 333.6 1376.9 334.2 1379.1 334.7 1381.4 334.8 1383.7 334.4 1386 333.6 1388.2 332.4 1390.5 330.9 1392.8 329.4 1395.1 328 1397.3 326.8 1399.6 326.1 1401.9 325.7 1404.2 325.3 1406.4 324.4 1408.7 322.7 1411 319.9 1413.3 316.4 1415.5 312.5 1417.8 308.3 1420.1 304.3 1422.4 300.4 1424.7 296.6 1426.9 292.9 1429.2 289.1 1431.5 285.2 1433.8 281.4 1436 278.1 1438.3 278.9 1440.6 285 1442.9 292.2 1445.1 299.3 1447.4 306.1 1449.7 312 1452 316.9 1454.2 320.9 1456.5 324 1458.8 326.4 1461.1 328.3 1463.4 329.7 1465.6 330.8 1467.9 331.7 1470.2 332.4 1472.5 332.8 1474.7 333 1477 333 1479.3 333 1481.6 333 1483.8 333.3 1486.1 333.8 1488.4 334.6 1490.7 335.2 1492.9 335.6 1495.2 335.7 1497.5 335.6 1499.8 335.3 1502 335.1 1504.3 334.8 1506.6 334.2 1508.9 333.5 1511.2 332.6 1513.4 331.9 1515.7 331.4 1518 331.1 1520.3 331.2 1522.5 331.6 1524.8 332.2 1527.1 332.8 1529.4 333.5 1531.6 334 1533.9 334.4 1536.2 334.4"/>
<path d="M1333.6 330.9 1335.9 331.3 1338.2 332.5 1340.4 334.3 1342.7 336.3 1345 338.1 1347.3 339.4 1349.5 340 1351.8 339.8 1354.1 339.2 1356.4 338.3 1358.6 337.4 1360.9 336.6 1363.2 335.9 1365.5 335.5 1367.7 335.3 1370 335.5 1372.3 336.2 1374.6 337.3 1376.9 338.5 1379.1 339.8 1381.4 341 1383.7 341.9 1386 342.6 1388.2 343.1 1390.5 343.4 1392.8 343.5 1395.1 343.3 1397.3 342.8 1399.6 342.1 1401.9 341.3 1404.2 340.3 1406.4 339.4 1408.7 338.2 1411 336.3 1413.3 333.5 1415.5 329.5 1417.8 324.3 1420.1 317.9 1422.4 310.5 1424.7 302.1 1426.9 292.6 1429.2 282.5 1431.5 271.9 1433.8 261.7 1436 253.5 1438.3 255.5 1440.6 263.6 1442.9 272.7 1445.1 281.6 1447.4 289.8 1449.7 297 1452 303.5 1454.2 309.4 1456.5 315.2 1458.8 321.1 1461.1 327.1 1463.4 332.6 1465.6 337.5 1467.9 341.3 1470.2 344 1472.5 345.9 1474.7 347.1 1477 348 1479.3 348.5 1481.6 348.6 1483.8 348.3 1486.1 347.6 1488.4 346.7 1490.7 345.9 1492.9 345.1 1495.2 344.6 1497.5 344.3 1499.8 344.4 1502 344.8 1504.3 345.8 1506.6 347.2 1508.9 348.8 1511.2 350.2 1513.4 351.1 1515.7 351.4 1518 351.1 1520.3 350.5 1522.5 349.9 1524.8 349.3 1527.1 348.9 1529.4 348.6 1531.6 348.6 1533.9 348.7 1536.2 348.8"/>
<path d="M1333.6 328.2 1335.9 327.7 1338.2 327.4 1340.4 327.2 1342.7 327.2 1345 327.4 1347.3 327.7 1349.5 328.3 1351.8 329 1354.1 329.7 1356.4 330.1 1358.6 330 1360.9 329.4 1363.2 328.2 1365.5 326.8 1367.7 325.5 1370 324.8 1372.3 324.7 1374.6 325.2 1376.9 326.3 1379.1 327.8 1381.4 329.4 1383.7 331 1386 332.3 1388.2 333.3 1390.5 333.8 1392.8 333.9 1395.1 333.5 1397.3 332.6 1399.6 331.4 1401.9 329.9 1404.2 328.4 1406.4 326.9 1408.7 325.3 1411 323.4 1413.3 321 1415.5 317.9 1417.8 313.9 1420.1 308.9 1422.4 302.6 1424.7 295.1 1426.9 286.5 1429.2 277.4 1431.5 268.6 1433.8 261.9 1436 264.6 1438.3 272.2 1440.6 280.9 1442.9 289.5 1445.1 297.8 1447.4 305.5 1449.7 312.6 1452 319 1454.2 324.8 1456.5 329.6 1458.8 333.4 1461.1 336.1 1463.4 337.8 1465.6 338.7 1467.9 339.2 1470.2 339.7 1472.5 340.3 1474.7 340.7 1477 340.9 1479.3 340.7 1481.6 340.1 1483.8 339.5 1486.1 339 1488.4 338.7 1490.7 338.7 1492.9 338.9 1495.2 339.3 1497.5 339.6 1499.8 339.8 1502 340 1504.3 340 1506.6 339.8 1508.9 339.4 1511.2 338.9 1513.4 338.3 1515.7 337.8 1518 337.4 1520.3 337.4 1522.5 337.8 1524.8 338.5 1527.1 339.3 1529.4 339.9 1531.6 340.1 1533.9 340.3 1536.2 340.4"/>
<path d="M1333.6 331.1 1335.9 332 1338.2 332.7 1340.4 332.9 1342.7 332.8 1345 332.5 1347.3 332.2 1349.5 332 1351.8 331.9 1354.1 332.1 1356.4 332.2 1358.6 332.5 1360.9 332.6 1363.2 332.6 1365.5 332.4 1367.7 331.9 1370 331.1 1372.3 330.2 1374.6 329.3 1376.9 328.6 1379.1 328 1381.4 327.5 1383.7 326.8 1386 325.9 1388.2 324.8 1390.5 323.9 1392.8 323.6 1395.1 324 1397.3 325.2 1399.6 326.7 1401.9 328.1 1404.2 329 1406.4 329 1408.7 327.9 1411 325.8 1413.3 323 1415.5 319.4 1417.8 315.2 1420.1 310.1 1422.4 304.2 1424.7 297 1426.9 288.7 1429.2 279.3 1431.5 269.2 1433.8 259.6 1436 254.3 1438.3 258.6 1440.6 264.4 1442.9 271.1 1445.1 278.2 1447.4 285.7 1449.7 293.5 1452 301.1 1454.2 307.9 1456.5 313.6 1458.8 318.1 1461.1 321.6 1463.4 324.2 1465.6 326.3 1467.9 327.7 1470.2 328.6 1472.5 328.9 1474.7 328.9 1477 328.8 1479.3 328.9 1481.6 329.2 1483.8 329.9 1486.1 330.6 1488.4 331.3 1490.7 331.7 1492.9 331.6 1495.2 330.9 1497.5 329.8 1499.8 328.7 1502 327.7 1504.3 326.9 1506.6 326.6 1508.9 326.6 1511.2 327.2 1513.4 328 1515.7 329.1 1518 330.3 1520.3 331.4 1522.5 332.4 1524.8 333.2 1527.1 333.9 1529.4 334.4 1531.6 334.9 1533.9 335.6 1536.2 336.5"/>
<path d="M1333.6 328.8 1335.9 329.6 1338.2 330.6 1340.4 331 1342.7 330.7 1345 329.8 1347.3 328.5 1349.5 327 1351.8 325.4 1354.1 324 1356.4 322.7 1358.6 321.6 1360.9 320.7 1363.2 319.9 1365.5 319.2 1367.7 318.7 1370 318.6 1372.3 318.9 1374.6 319.8 1376.9 320.8 1379.1 321.8 1381.4 322.7 1383.7 323.6 1386 324.5 1388.2 325.5 1390.5 326.6 1392.8 327.3 1395.1 327.5 1397.3 326.9 1399.6 325.8 1401.9 324.4 1404.2 323.1 1406.4 322.1 1408.7 321.4 1411 320.4 1413.3 319 1415.5 316.9 1417.8 314.2 1420.1 311 1422.4 307.4 1424.7 303.4 1426.9 298.7 1429.2 293 1431.5 285.9 1433.8 277.7 1436 268.6 1438.3 259.8 1440.6 253.3 1442.9 257.2 1445.1 263.7 1447.4 270.8 1449.7 278.2 1452 285.7 1454.2 293.2 1456.5 300.4 1458.8 306.7 1461.1 311.7 1463.4 315.3 1465.6 317.6 1467.9 319.1 1470.2 320.4 1472.5 321.5 1474.7 322.7 1477 323.7 1479.3 324.3 1481.6 324.5 1483.8 324.2 1486.1 323.7 1488.4 323.3 1490.7 323.4 1492.9 323.8 1495.2 324.7 1497.5 325.9 1499.8 327.1 1502 328.1 1504.3 328.7 1506.6 329.2 1508.9 329.8 1511.2 330.7 1513.4 331.9 1515.7 333.1 1518 333.7 1520.3 333.6 1522.5 332.7 1524.8 331.1 1527.1 329.3 1529.4 327.6 1531.6 326.7 1533.9 326.8 1536.2 327.6"/>
<path d="M1333.6 327.7 1335.9 328.1 1338.2 328.5 1340.4 328.7 1342.7 328.7 1345 328.4 1347.3 328.1 1349.5 328.1 1351.8 328.3 1354.1 328.9 1356.4 329.6 1358.6 330.4 1360.9 331.1 1363.2 331.4 1365.5 331 1367.7 329.9 1370 328 1372.3 325.6 1374.6 323.3 1376.9 321.4 1379.1 320.2 1381.4 320 1383.7 320.8 1386 322.4 1388.2 324.5 1390.5 326.4 1392.8 327.6 1395.1 327.9 1397.3 327.1 1399.6 325.7 1401.9 323.9 1404.2 322 1406.4 320.2 1408.7 318.5 1411 316.9 1413.3 314.9 1415.5 312.3 1417.8 308.7 1420.1 303.7 1422.4 297.4 1424.7 289.9 1426.9 281.6 1429.2 273.2 1431.5 264.9 1433.8 257.2 1436 250.6 1438.3 246.4 1440.6 250.4 1442.9 257.5 1445.1 265.8 1447.4 274.1 1449.7 281.5 1452 287.9 1454.2 293.2 1456.5 297.8 1458.8 302.2 1461.1 306.6 1463.4 311.1 1465.6 315.4 1467.9 319.2 1470.2 322.2 1472.5 324.3 1474.7 325.7 1477 326.4 1479.3 327 1481.6 327.5 1483.8 328.1 1486.1 328.7 1488.4 329.4 1490.7 330.1 1492.9 331 1495.2 331.9 1497.5 332.8 1499.8 333.8 1502 334.7 1504.3 335.4 1506.6 335.9 1508.9 336.3 1511.2 336.6 1513.4 336.6 1515.7 336.4 1518 336.2 1520.3 335.6 1522.5 335 1524.8 334.5 1527.1 334.3 1529.4 334.2 1531.6 334.1 1533.9 333.9 1536.2 333.6"/>
<path d="M1333.6 334.4 1335.9 334.5 1338.2 333.9 1340.4 332.5 1342.7 330.5 1345 328.3 1347.3 326 1349.5 323.9 1351.8 322.5 1354.1 321.8 1356.4 321.9 1358.6 322.6 1360.9 323.3 1363.2 323.8 1365.5 324 1367.7 323.9 1370 323.6 1372.3 323.4 1374.6 323.3 1376.9 323.4 1379.1 323.8 1381.4 324.4 1383.7 325.2 1386 326.1 1388.2 326.8 1390.5 327.2 1392.8 327.1 1395.1 326.6 1397.3 325.7 1399.6 324.7 1401.9 323.4 1404.2 322.1 1406.4 320.5 1408.7 318.7 1411 316.5 1413.3 313.8 1415.5 310.6 1417.8 306.8 1420.1 302.5 1422.4 297.6 1424.7 292.4 1426.9 286.7 1429.2 280.6 1431.5 274.4 1433.8 268.3 1436 263.7 1438.3 267.7 1440.6 274.3 1442.9 281.3 1445.1 288.1 1447.4 294.5 1449.7 300.5 1452 306.1 1454.2 311.1 1456.5 315.3 1458.8 318.7 1461.1 321 1463.4 322.3 1465.6 322.8 1467.9 322.9 1470.2 323.2 1472.5 323.9 1474.7 325.2 1477 326.9 1479.3 328.4 1481.6 329.3 1483.8 329.6 1486.1 329.2 1488.4 328.2 1490.7 327.1 1492.9 326.1 1495.2 325.5 1497.5 325.5 1499.8 326 1502 327.1 1504.3 328.5 1506.6 330.1 1508.9 331.7 1511.2 333.1 1513.4 334.2 1515.7 335 1518 335.5 1520.3 335.7 1522.5 335.7 1524.8 335.5 1527.1 335.1 1529.4 334.4 1531.6 333.5 1533.9 332.3 1536.2 330.8"/>
<path d="M1333.6 332.6 1335.9 334.2 1338.2 335.7 1340.4 336.4 1342.7 336.4 1345 335.9 1347.3 335.1 1349.5 334.4 1351.8 334.2 1354.1 334.2 1356.4 334.4 1358.6 334.4 1360.9 334.2 1363.2 333.7 1365.5 333.2 1367.7 332.9 1370 333 1372.3 333.8 1374.6 335.1 1376.9 336.8 1379.1 338.6 1381.4 340.2 1383.7 341 1386 341 1388.2 340 1390.5 338.2 1392.8 336.3 1395.1 334.4 1397.3 332.9 1399.6 331.8 1401.9 330.9 1404.2 329.8 1406.4 328.5 1408.7 327.1 1411 326 1413.3 325.4 1415.5 325.3 1417.8 325.3 1420.1 324.5 1422.4 322.4 1424.7 318.4 1426.9 312.8 1429.2 305.9 1431.5 298.3 1433.8 290.7 1436 283.9 1438.3 283.5 1440.6 287.4 1442.9 292.2 1445.1 297.2 1447.4 302.1 1449.7 306.7 1452 310.7 1454.2 314 1456.5 316.6 1458.8 318.6 1461.1 320.3 1463.4 321.9 1465.6 323.5 1467.9 325.3 1470.2 327.1 1472.5 328.7 1474.7 330 1477 330.7 1479.3 331 1481.6 330.8 1483.8 330.5 1486.1 330.2 1488.4 330.2 1490.7 330.6 1492.9 331.3 1495.2 332.1 1497.5 332.9 1499.8 333.6 1502 334.2 1504.3 334.7 1506.6 335.3 1508.9 335.9 1511.2 336.6 1513.4 337.1 1515.7 337.3 1518 337.3 1520.3 337.2 1522.5 337 1524.8 336.8 1527.1 336.6 1529.4 336.3 1531.6 335.7 1533.9 334.8 1536.2 333.6"/>
<path d="M1333.6 336.9 1335.9 336.1 1338.2 335.4 1340.4 334.8 1342.7 334.5 1345 334.7 1347.3 335.2 1349.5 336.2 1351.8 337.3 1354.1 338.6 1356.4 339.8 1358.6 340.9 1360.9 341.6 1363.2 341.9 1365.5 341.6 1367.7 340.9 1370 340 1372.3 339.1 1374.6 338.7 1376.9 338.8 1379.1 339.3 1381.4 340 1383.7 340.7 1386 341.4 1388.2 341.9 1390.5 342.3 1392.8 342.5 1395.1 342.2 1397.3 341.1 1399.6 339.1 1401.9 336.3 1404.2 332.9 1406.4 329.4 1408.7 326 1411 322.8 1413.3 319.8 1415.5 316.6 1417.8 313.3 1420.1 309.5 1422.4 305 1424.7 299.6 1426.9 293.1 1429.2 285.5 1431.5 277.1 1433.8 268.4 1436 260.5 1438.3 254.2 1440.6 254.3 1442.9 262.4 1445.1 271.9 1447.4 281.5 1449.7 290.6 1452 298.8 1454.2 305.9 1456.5 312.2 1458.8 317.6 1461.1 322.6 1463.4 327.2 1465.6 331.6 1467.9 335.7 1470.2 339.2 1472.5 341.7 1474.7 343 1477 343.2 1479.3 342.9 1481.6 342.6 1483.8 342.8 1486.1 343.8 1488.4 345.2 1490.7 346.6 1492.9 347.7 1495.2 348.4 1497.5 348.8 1499.8 348.8 1502 348.7 1504.3 348.4 1506.6 347.8 1508.9 347 1511.2 346 1513.4 345 1515.7 344.1 1518 343.6 1520.3 343.4 1522.5 343.5 1524.8 343.8 1527.1 344.4 1529.4 345.1 1531.6 346.1 1533.9 347.4 1536.2 348.7"/>
<path d="M1333.6 340.9 1335.9 340.8 1338.2 340.6 1340.4 340.7 1342.7 341.1 1345 341.8 1347.3 342.7 1349.5 343.3 1351.8 343.5 1354.1 343.4 1356.4 343 1358.6 342.5 1360.9 342.1 1363.2 341.7 1365.5 341.7 1367.7 342.1 1370 342.9 1372.3 344.2 1374.6 345.6 1376.9 347.1 1379.1 348.5 1381.4 349.8 1383.7 350.9 1386 351.9 1388.2 352.4 1390.5 352.2 1392.8 351.2 1395.1 349.3 1397.3 346.7 1399.6 343.6 1401.9 340.3 1404.2 337.2 1406.4 334.7 1408.7 332.6 1411 330.8 1413.3 329 1415.5 326.7 1417.8 323.7 1420.1 319.5 1422.4 314.2 1424.7 307.7 1426.9 300.3 1429.2 292.4 1431.5 284.4 1433.8 276.9 1436 270.9 1438.3 271.1 1440.6 276 1442.9 282.1 1445.1 288.9 1447.4 295.9 1449.7 303 1452 309.7 1454.2 315.9 1456.5 321.5 1458.8 326.2 1461.1 330.2 1463.4 333.3 1465.6 335.7 1467.9 337.5 1470.2 338.9 1472.5 340 1474.7 341 1477 342 1479.3 343.2 1481.6 344.5 1483.8 345.9 1486.1 347 1488.4 347.9 1490.7 348.3 1492.9 348.4 1495.2 348.4 1497.5 348.3 1499.8 348.2 1502 348.2 1504.3 348.1 1506.6 348 1508.9 347.9 1511.2 347.9 1513.4 347.9 1515.7 348 1518 348.2 1520.3 348.4 1522.5 348.5 1524.8 348.5 1527.1 348.4 1529.4 348.1 1531.6 347.8 1533.9 347.6 1536.2 347.6"/>
<path d="M1333.6 336.2 1335.9 334.9 1338.2 333.6 1340.4 332.5 1342.7 331.9 1345 331.7 1347.3 332 1349.5 332.7 1351.8 333.5 1354.1 334.3 1356.4 335.1 1358.6 335.7 1360.9 335.9 1363.2 336 1365.5 335.9 1367.7 335.8 1370 335.9 1372.3 336.1 1374.6 336.7 1376.9 337.4 1379.1 337.8 1381.4 337.5 1383.7 336.2 1386 333.8 1388.2 330.6 1390.5 327.4 1392.8 324.9 1395.1 323.5 1397.3 323.3 1399.6 323.8 1401.9 324.4 1404.2 324.6 1406.4 323.9 1408.7 322.1 1411 319.3 1413.3 315.6 1415.5 311 1417.8 305.8 1420.1 300.2 1422.4 294.1 1424.7 287.7 1426.9 280.9 1429.2 273.6 1431.5 266.1 1433.8 258.8 1436 254.1 1438.3 260.5 1440.6 269.6 1442.9 279.4 1445.1 288.8 1447.4 297.1 1449.7 303.9 1452 309.3 1454.2 313.5 1456.5 316.9 1458.8 320 1461.1 323 1463.4 326.1 1465.6 329.2 1467.9 332.2 1470.2 335 1472.5 337.3 1474.7 339.1 1477 340.1 1479.3 340.6 1481.6 340.3 1483.8 339.7 1486.1 338.8 1488.4 337.8 1490.7 336.9 1492.9 336.3 1495.2 336.1 1497.5 336.2 1499.8 336.7 1502 337.4 1504.3 338.1 1506.6 338.7 1508.9 338.8 1511.2 338.6 1513.4 338.1 1515.7 337.7 1518 337.8 1520.3 338.4 1522.5 339.2 1524.8 340.1 1527.1 340.9 1529.4 341.3 1531.6 341.6 1533.9 341.8 1536.2 341.9"/>
<path d="M1333.6 326 1335.9 326.4 1338.2 327.2 1340.4 328 1342.7 328.6 1345 328.9 1347.3 328.9 1349.5 328.8 1351.8 328.7 1354.1 328.7 1356.4 328.9 1358.6 329.3 1360.9 329.8 1363.2 330.5 1365.5 331.3 1367.7 332.1 1370 332.8 1372.3 333.2 1374.6 333.4 1376.9 333 1379.1 332.3 1381.4 331.5 1383.7 330.9 1386 330.6 1388.2 331 1390.5 332 1392.8 333.2 1395.1 334.4 1397.3 335.3 1399.6 335.5 1401.9 335.2 1404.2 334.4 1406.4 333.3 1408.7 332 1411 330.4 1413.3 328.6 1415.5 326.1 1417.8 323 1420.1 319.1 1422.4 314.6 1424.7 309.7 1426.9 304.6 1429.2 299.5 1431.5 294.3 1433.8 289 1436 283.6 1438.3 278.8 1440.6 279.4 1442.9 283.8 1445.1 288.9 1447.4 294.5 1449.7 300.2 1452 305.8 1454.2 310.6 1456.5 314.5 1458.8 317.4 1461.1 319.6 1463.4 321.4 1465.6 323.3 1467.9 324.9 1470.2 326.4 1472.5 327.7 1474.7 329.1 1477 330.8 1479.3 333 1481.6 335.4 1483.8 337.7 1486.1 339.8 1488.4 341.2 1490.7 342.1 1492.9 342.5 1495.2 342.3 1497.5 341.5 1499.8 340.3 1502 338.8 1504.3 337.3 1506.6 336.3 1508.9 335.8 1511.2 335.9 1513.4 336.6 1515.7 337.8 1518 339.3 1520.3 340.6 1522.5 341.3 1524.8 341.3 1527.1 340.6 1529.4 339.6 1531.6 338.7 1533.9 338.4 1536.2 338.4"/>
<path d="M1333.6 337.5 1335.9 336.2 1338.2 335.1 1340.4 334.4 1342.7 334.1 1345 334.2 1347.3 334.5 1349.5 335.1 1351.8 336 1354.1 337.2 1356.4 338.7 1358.6 340.2 1360.9 341.5 1363.2 342.1 1365.5 342 1367.7 341.2 1370 339.8 1372.3 338.3 1374.6 336.8 1376.9 335.7 1379.1 335.2 1381.4 335.2 1383.7 335.8 1386 336.5 1388.2 336.9 1390.5 337 1392.8 336.4 1395.1 335.5 1397.3 334.2 1399.6 332.7 1401.9 330.9 1404.2 329 1406.4 326.9 1408.7 324.7 1411 322.4 1413.3 320.3 1415.5 318.1 1417.8 315.8 1420.1 313.1 1422.4 309.9 1424.7 305.9 1426.9 301 1429.2 295.2 1431.5 288.7 1433.8 282.1 1436 276.4 1438.3 275.4 1440.6 279 1442.9 283.5 1445.1 288.4 1447.4 293 1449.7 297.1 1452 300.6 1454.2 303.7 1456.5 306.4 1458.8 309 1461.1 311.4 1463.4 313.8 1465.6 316.1 1467.9 318.3 1470.2 320.6 1472.5 322.9 1474.7 325.1 1477 326.8 1479.3 328.2 1481.6 329.1 1483.8 330 1486.1 330.9 1488.4 331.8 1490.7 332.7 1492.9 333.4 1495.2 333.9 1497.5 334.4 1499.8 334.9 1502 335.5 1504.3 336.1 1506.6 336.8 1508.9 337.5 1511.2 338.2 1513.4 338.7 1515.7 339.1 1518 339.2 1520.3 339.2 1522.5 339 1524.8 339 1527.1 339.1 1529.4 339.3 1531.6 339.5 1533.9 339.6 1536.2 339.6"/>
<path d="M1333.6 333 1335.9 333.8 1338.2 334.4 1340.4 334.6 1342.7 334.6 1345 334.5 1347.3 334.5 1349.5 334.6 1351.8 334.6 1354.1 334.6 1356.4 334.4 1358.6 334 1360.9 333.5 1363.2 333.2 1365.5 333 1367.7 333.2 1370 333.5 1372.3 333.9 1374.6 334.3 1376.9 334.6 1379.1 334.6 1381.4 334.2 1383.7 333.4 1386 332.3 1388.2 331 1390.5 330 1392.8 329.3 1395.1 329.2 1397.3 329.4 1399.6 329.7 1401.9 330.1 1404.2 330.3 1406.4 330.4 1408.7 330.4 1411 330.2 1413.3 329.6 1415.5 328.4 1417.8 326.1 1420.1 322.3 1422.4 316.8 1424.7 309.3 1426.9 300 1429.2 288.9 1431.5 276.4 1433.8 263 1436 250.1 1438.3 240.4 1440.6 242.5 1442.9 248.4 1445.1 255.6 1447.4 263.4 1449.7 271 1452 277.8 1454.2 283.5 1456.5 288.3 1458.8 292.4 1461.1 296.2 1463.4 300.4 1465.6 305 1467.9 309.8 1470.2 314.6 1472.5 318.7 1474.7 322.2 1477 324.9 1479.3 327.1 1481.6 329 1483.8 330.8 1486.1 332.7 1488.4 334.6 1490.7 336.1 1492.9 337.2 1495.2 337.7 1497.5 337.5 1499.8 336.8 1502 335.8 1504.3 334.8 1506.6 333.8 1508.9 333 1511.2 332.4 1513.4 331.9 1515.7 331.4 1518 330.9 1520.3 330.3 1522.5 329.7 1524.8 329.3 1527.1 329.5 1529.4 330.4 1531.6 331.9 1533.9 333.9 1536.2 335.9"/>
<path d="M1333.6 337.8 1335.9 339.4 1338.2 340.4 1340.4 340.7 1342.7 340.2 1345 339 1347.3 337.3 1349.5 335.3 1351.8 333.2 1354.1 331.4 1356.4 330 1358.6 329 1360.9 328.5 1363.2 328.3 1365.5 328.5 1367.7 328.8 1370 329.3 1372.3 329.7 1374.6 329.9 1376.9 329.8 1379.1 329.7 1381.4 329.7 1383.7 330.1 1386 330.8 1388.2 331.9 1390.5 333 1392.8 334.1 1395.1 334.7 1397.3 334.9 1399.6 334.3 1401.9 333 1404.2 331.2 1406.4 329.1 1408.7 326.7 1411 324.2 1413.3 321.2 1415.5 317.4 1417.8 312.4 1420.1 306.1 1422.4 298.7 1424.7 290.6 1426.9 282.3 1429.2 274.3 1431.5 266.9 1433.8 260.3 1436 255.2 1438.3 256 1440.6 261.4 1442.9 267.6 1445.1 274.1 1447.4 280.6 1449.7 286.9 1452 293.1 1454.2 299 1456.5 304.6 1458.8 309.7 1461.1 314.4 1463.4 318.5 1465.6 322.1 1467.9 325.3 1470.2 328 1472.5 330.2 1474.7 332 1477 333.5 1479.3 334.8 1481.6 336.2 1483.8 337.6 1486.1 338.9 1488.4 340 1490.7 340.7 1492.9 341 1495.2 341.2 1497.5 341.3 1499.8 341.4 1502 341.5 1504.3 341.4 1506.6 341.4 1508.9 341.4 1511.2 341.6 1513.4 342.1 1515.7 342.8 1518 343.7 1520.3 344.7 1522.5 345.7 1524.8 346.5 1527.1 347 1529.4 347.2 1531.6 347.1 1533.9 346.8 1536.2 346.3"/>
<path d="M1333.6 341.8 1335.9 340.8 1338.2 340.1 1340.4 339.9 1342.7 340.2 1345 340.8 1347.3 341.6 1349.5 342.4 1351.8 343 1354.1 343.3 1356.4 343.4 1358.6 343.3 1360.9 343 1363.2 342.6 1365.5 341.9 1367.7 341.1 1370 340.2 1372.3 339.3 1374.6 338.7 1376.9 338.2 1379.1 337.9 1381.4 337.5 1383.7 337.2 1386 337 1388.2 336.8 1390.5 336.6 1392.8 336.3 1395.1 335.6 1397.3 334.6 1399.6 333.2 1401.9 331.6 1404.2 329.8 1406.4 327.7 1408.7 325 1411 321.6 1413.3 317.5 1415.5 313.1 1417.8 308.4 1420.1 303.7 1422.4 299 1424.7 294 1426.9 288.5 1429.2 282.4 1431.5 275.9 1433.8 269.8 1436 268.5 1438.3 274.3 1440.6 281.7 1442.9 289.4 1445.1 297.1 1447.4 304.2 1449.7 310.6 1452 316 1454.2 320.4 1456.5 323.8 1458.8 326.1 1461.1 327.6 1463.4 328.4 1465.6 328.8 1467.9 329.4 1470.2 330.4 1472.5 332 1474.7 334 1477 336.1 1479.3 338 1481.6 339.5 1483.8 340.4 1486.1 340.9 1488.4 341 1490.7 341 1492.9 340.8 1495.2 340.5 1497.5 340.1 1499.8 339.6 1502 339.1 1504.3 338.6 1506.6 338.2 1508.9 338 1511.2 337.9 1513.4 337.9 1515.7 337.9 1518 338.2 1520.3 338.8 1522.5 339.7 1524.8 341 1527.1 342.4 1529.4 343.9 1531.6 345 1533.9 345.6 1536.2 345.6"/>
<path d="M1333.6 332.2 1335.9 331.9 1338.2 331.7 1340.4 331.6 1342.7 331.6 1345 331.7 1347.3 331.9 1349.5 331.9 1351.8 331.6 1354.1 330.8 1356.4 329.7 1358.6 328.2 1360.9 326.6 1363.2 325.1 1365.5 323.9 1367.7 323.3 1370 323.6 1372.3 324.6 1374.6 326.2 1376.9 328 1379.1 329.9 1381.4 331.4 1383.7 332.3 1386 332.6 1388.2 332.6 1390.5 332.4 1392.8 332.2 1395.1 332.1 1397.3 332.1 1399.6 332 1401.9 331.7 1404.2 330.9 1406.4 329.5 1408.7 327.2 1411 324.1 1413.3 320.2 1415.5 315.8 1417.8 310.8 1420.1 305.3 1422.4 298.9 1424.7 291.8 1426.9 283.9 1429.2 275.9 1431.5 268.2 1433.8 261.4 1436 256.7 1438.3 261.4 1440.6 270.5 1442.9 280 1445.1 289.2 1447.4 297.6 1449.7 304.9 1452 311.1 1454.2 315.8 1456.5 319.1 1458.8 321.1 1461.1 322.5 1463.4 323.6 1465.6 325.1 1467.9 327.1 1470.2 329.5 1472.5 332.1 1474.7 334.7 1477 337 1479.3 339.1 1481.6 340.7 1483.8 341.7 1486.1 341.8 1488.4 341.1 1490.7 339.8 1492.9 338.1 1495.2 336.5 1497.5 335.4 1499.8 335.1 1502 335.4 1504.3 336.3 1506.6 337.6 1508.9 338.7 1511.2 339.6 1513.4 340 1515.7 340.2 1518 340.2 1520.3 340.2 1522.5 340.2 1524.8 340.3 1527.1 340.3 1529.4 340.2 1531.6 339.8 1533.9 339.2 1536.2 338.6"/>
<path d="M1333.6 335.6 1335.9 335.8 1338.2 335.8 1340.4 335.5 1342.7 335.2 1345 335 1347.3 335.2 1349.5 335.6 1351.8 336.2 1354.1 336.5 1356.4 336.6 1358.6 336.4 1360.9 336.3 1363.2 336.5 1365.5 337.1 1367.7 338 1370 339 1372.3 339.8 1374.6 340.3 1376.9 340.5 1379.1 340.4 1381.4 340 1383.7 339.3 1386 338.3 1388.2 337.1 1390.5 335.7 1392.8 334.3 1395.1 333.4 1397.3 333 1399.6 333.2 1401.9 333.6 1404.2 333.9 1406.4 333.6 1408.7 332.6 1411 330.7 1413.3 328 1415.5 324.7 1417.8 320.6 1420.1 315.9 1422.4 310.4 1424.7 304.3 1426.9 297.5 1429.2 290.1 1431.5 282.5 1433.8 275.3 1436 270.1 1438.3 272.4 1440.6 276.5 1442.9 281.5 1445.1 287 1447.4 292.5 1449.7 298 1452 303 1454.2 307.5 1456.5 311.5 1458.8 315.2 1461.1 318.7 1463.4 322.3 1465.6 325.8 1467.9 329.2 1470.2 332.2 1472.5 334.7 1474.7 336.7 1477 338.1 1479.3 339 1481.6 339.7 1483.8 340.4 1486.1 341.2 1488.4 342.2 1490.7 343.2 1492.9 344.2 1495.2 344.8 1497.5 345 1499.8 345 1502 344.8 1504.3 344.7 1506.6 344.8 1508.9 345.2 1511.2 345.9 1513.4 346.7 1515.7 347.5 1518 348 1520.3 348.1 1522.5 347.9 1524.8 347.5 1527.1 347 1529.4 346.4 1531.6 345.8 1533.9 344.9 1536.2 343.9"/>
<path d="M1333.6 328.7 1335.9 328.4 1338.2 328 1340.4 327.5 1342.7 326.8 1345 325.8 1347.3 324.8 1349.5 324.1 1351.8 323.8 1354.1 324.4 1356.4 325.7 1358.6 327.6 1360.9 329.6 1363.2 331.4 1365.5 332.5 1367.7 332.9 1370 332.8 1372.3 332.6 1374.6 332.7 1376.9 333.3 1379.1 334.2 1381.4 335.3 1383.7 336.2 1386 336.7 1388.2 336.8 1390.5 336.7 1392.8 336.2 1395.1 335.8 1397.3 335.3 1399.6 334.7 1401.9 334 1404.2 332.8 1406.4 331.2 1408.7 328.9 1411 326.1 1413.3 322.8 1415.5 319.1 1417.8 315.1 1420.1 311 1422.4 306.8 1424.7 302.5 1426.9 298.2 1429.2 293.6 1431.5 288.9 1433.8 284.3 1436 280.6 1438.3 282.2 1440.6 285.4 1442.9 289.3 1445.1 293.5 1447.4 298.1 1449.7 302.8 1452 307.4 1454.2 311.6 1456.5 315.1 1458.8 318.1 1461.1 320.7 1463.4 323.2 1465.6 325.7 1467.9 328.2 1470.2 330.7 1472.5 333 1474.7 334.8 1477 336 1479.3 336.9 1481.6 337.3 1483.8 337.7 1486.1 337.9 1488.4 338.1 1490.7 338.4 1492.9 338.8 1495.2 339.4 1497.5 340.1 1499.8 340.7 1502 340.9 1504.3 340.5 1506.6 339.8 1508.9 338.9 1511.2 338.3 1513.4 337.9 1515.7 337.9 1518 337.9 1520.3 337.9 1522.5 337.9 1524.8 338.1 1527.1 338.6 1529.4 339.2 1531.6 339.8 1533.9 340.2 1536.2 340.4"/>
<path d="M1333.6 343.9 1335.9 344 1338.2 343.4 1340.4 342.2 1342.7 340.3 1345 338.3 1347.3 336.5 1349.5 335.4 1351.8 335.3 1354.1 335.9 1356.4 337 1358.6 338.4 1360.9 340 1363.2 341.7 1365.5 343.5 1367.7 345.1 1370 346.2 1372.3 346.5 1374.6 345.8 1376.9 344.2 1379.1 342.2 1381.4 340.3 1383.7 338.9 1386 338.4 1388.2 338.5 1390.5 339.1 1392.8 339.8 1395.1 340.5 1397.3 341.2 1399.6 341.8 1401.9 342.3 1404.2 342.4 1406.4 342.1 1408.7 341.2 1411 339.8 1413.3 338.1 1415.5 335.9 1417.8 333.2 1420.1 329.7 1422.4 325.2 1424.7 319.7 1426.9 313.3 1429.2 306.2 1431.5 298.6 1433.8 290.8 1436 283.4 1438.3 277.7 1440.6 279.6 1442.9 285.1 1445.1 291.4 1447.4 298.1 1449.7 304.6 1452 310.9 1454.2 316.7 1456.5 322 1458.8 326.7 1461.1 330.5 1463.4 333.5 1465.6 335.7 1467.9 337.6 1470.2 339.4 1472.5 341.2 1474.7 343.1 1477 345.1 1479.3 346.8 1481.6 348.2 1483.8 349 1486.1 349.2 1488.4 348.6 1490.7 347.6 1492.9 346.4 1495.2 345.5 1497.5 345.3 1499.8 346 1502 347.5 1504.3 349.3 1506.6 350.8 1508.9 351.4 1511.2 351 1513.4 349.8 1515.7 348.1 1518 346.3 1520.3 344.7 1522.5 343.5 1524.8 342.6 1527.1 342.2 1529.4 342.2 1531.6 342.7 1533.9 343.6 1536.2 344.9"/>
<path d="M1333.6 335.7 1335.9 334.5 1338.2 333.3 1340.4 332.5 1342.7 331.9 1345 331.7 1347.3 331.9 1349.5 332.6 1351.8 333.9 1354.1 335.6 1356.4 337.2 1358.6 338.6 1360.9 339.3 1363.2 339.3 1365.5 338.5 1367.7 337.1 1370 335.5 1372.3 334.2 1374.6 333.6 1376.9 333.7 1379.1 334.2 1381.4 334.6 1383.7 334.6 1386 334.1 1388.2 333.2 1390.5 332.1 1392.8 330.6 1395.1 328.8 1397.3 326.9 1399.6 324.8 1401.9 322.9 1404.2 321.3 1406.4 320 1408.7 318.7 1411 317.2 1413.3 315.2 1415.5 312.8 1417.8 310.2 1420.1 307.5 1422.4 304.6 1424.7 301.3 1426.9 297.3 1429.2 292.5 1431.5 286.7 1433.8 280.3 1436 273.4 1438.3 266.8 1440.6 264.2 1442.9 269.8 1445.1 277.6 1447.4 286.6 1449.7 295.8 1452 304.7 1454.2 312.5 1456.5 318.8 1458.8 323.8 1461.1 327.8 1463.4 331.2 1465.6 334.2 1467.9 336.7 1470.2 338.7 1472.5 340.1 1474.7 341 1477 341.5 1479.3 341.8 1481.6 342.1 1483.8 342.5 1486.1 342.9 1488.4 343.3 1490.7 343.6 1492.9 343.8 1495.2 344.1 1497.5 344.4 1499.8 344.7 1502 344.8 1504.3 344.5 1506.6 344.1 1508.9 343.6 1511.2 343.2 1513.4 343.3 1515.7 343.3 1518 343.5 1520.3 343.6 1522.5 343.6 1524.8 343.6 1527.1 343.5 1529.4 343.2 1531.6 342.6 1533.9 341.5 1536.2 340.1"/>
<path d="M1333.6 332.1 1335.9 332 1338.2 331.9 1340.4 331.3 1342.7 330.5 1345 329.5 1347.3 328.5 1349.5 328.1 1351.8 328.4 1354.1 329.8 1356.4 332.1 1358.6 334.9 1360.9 337.7 1363.2 339.9 1365.5 341.1 1367.7 340.8 1370 339.3 1372.3 337 1374.6 334.5 1376.9 332.4 1379.1 330.9 1381.4 330.3 1383.7 330.6 1386 331.4 1388.2 332.3 1390.5 332.9 1392.8 332.9 1395.1 332.2 1397.3 331 1399.6 329.8 1401.9 328.9 1404.2 328.4 1406.4 328.3 1408.7 328.1 1411 327.5 1413.3 326.1 1415.5 323.8 1417.8 320.4 1420.1 316 1422.4 310.8 1424.7 304.9 1426.9 298.5 1429.2 292 1431.5 285.4 1433.8 278.9 1436 273 1438.3 270.5 1440.6 275 1442.9 280.5 1445.1 286 1447.4 291.4 1449.7 296.5 1452 301.4 1454.2 306.1 1456.5 310.5 1458.8 314.4 1461.1 317.8 1463.4 320.4 1465.6 322.2 1467.9 323.4 1470.2 324.2 1472.5 324.9 1474.7 325.8 1477 327 1479.3 328.4 1481.6 330.1 1483.8 332 1486.1 333.7 1488.4 335 1490.7 335.8 1492.9 335.8 1495.2 335.3 1497.5 334.6 1499.8 333.9 1502 333.5 1504.3 333.5 1506.6 333.9 1508.9 334.5 1511.2 335.2 1513.4 335.9 1515.7 336.4 1518 336.8 1520.3 337 1522.5 337 1524.8 336.9 1527.1 336.9 1529.4 337.1 1531.6 337.7 1533.9 338.6 1536.2 339.5"/>
<path d="M1333.6 324.5 1335.9 325.9 1338.2 327.6 1340.4 329.2 1342.7 330.3 1345 330.5 1347.3 329.7 1349.5 328.2 1351.8 326.3 1354.1 324.6 1356.4 323.2 1358.6 322.5 1360.9 322.4 1363.2 322.7 1365.5 323.3 1367.7 324 1370 324.5 1372.3 324.9 1374.6 325.2 1376.9 325.7 1379.1 326.5 1381.4 327.3 1383.7 328 1386 328.4 1388.2 328.2 1390.5 327.8 1392.8 327.2 1395.1 326.6 1397.3 326 1399.6 325.2 1401.9 323.9 1404.2 321.8 1406.4 318.8 1408.7 315 1411 310.6 1413.3 305.8 1415.5 300.8 1417.8 295.6 1420.1 290.1 1422.4 284.1 1424.7 277.5 1426.9 269.9 1429.2 261.3 1431.5 252.1 1433.8 243.2 1436 236.8 1438.3 240.8 1440.6 248 1442.9 256.5 1445.1 265.4 1447.4 273.8 1449.7 281.6 1452 288.7 1454.2 295.2 1456.5 301.1 1458.8 306.7 1461.1 311.6 1463.4 316 1465.6 319.7 1467.9 322.5 1470.2 324.6 1472.5 326.1 1474.7 327.2 1477 328.2 1479.3 329.3 1481.6 330.4 1483.8 331.5 1486.1 332.6 1488.4 333.5 1490.7 333.9 1492.9 333.6 1495.2 332.7 1497.5 331.2 1499.8 329.8 1502 328.7 1504.3 328.4 1506.6 328.8 1508.9 329.7 1511.2 330.6 1513.4 331.4 1515.7 331.9 1518 332.3 1520.3 333 1522.5 333.8 1524.8 334.7 1527.1 335.4 1529.4 335.8 1531.6 335.8 1533.9 335.5 1536.2 335"/>
<path d="M1333.6 327 1335.9 327.1 1338.2 326.9 1340.4 326.6 1342.7 326.2 1345 326 1347.3 326.2 1349.5 326.5 1351.8 327 1354.1 327.2 1356.4 327 1358.6 326.6 1360.9 326.2 1363.2 326.1 1365.5 326.2 1367.7 326.3 1370 325.9 1372.3 324.8 1374.6 323.3 1376.9 321.8 1379.1 321 1381.4 321.2 1383.7 322.5 1386 324.4 1388.2 326.5 1390.5 328.1 1392.8 328.8 1395.1 328.4 1397.3 327.2 1399.6 325.4 1401.9 323.5 1404.2 322 1406.4 321.2 1408.7 320.8 1411 320.5 1413.3 319.8 1415.5 318.3 1417.8 315.7 1420.1 312.1 1422.4 307.4 1424.7 301.7 1426.9 295.1 1429.2 288 1431.5 280.8 1433.8 274.9 1436 274.5 1438.3 276.9 1440.6 280.3 1442.9 284.7 1445.1 289.6 1447.4 294.9 1449.7 300.3 1452 305.3 1454.2 309.7 1456.5 313.4 1458.8 316.4 1461.1 318.7 1463.4 320.4 1465.6 321.5 1467.9 321.9 1470.2 321.7 1472.5 321.2 1474.7 320.4 1477 320 1479.3 320.2 1481.6 321 1483.8 322.4 1486.1 324.1 1488.4 326 1490.7 327.8 1492.9 329.5 1495.2 331.1 1497.5 332.3 1499.8 333.2 1502 333.7 1504.3 333.9 1506.6 334 1508.9 333.9 1511.2 333.6 1513.4 333.1 1515.7 332.7 1518 332.5 1520.3 332.9 1522.5 333.8 1524.8 334.8 1527.1 335.8 1529.4 336.2 1531.6 336.1 1533.9 335.5 1536.2 334.8"/>
<path d="M1333.6 343.4 1335.9 343.5 1338.2 342.9 1340.4 341.7 1342.7 340.1 1345 338.4 1347.3 336.9 1349.5 336.1 1351.8 336 1354.1 336.8 1356.4 338.3 1358.6 340.3 1360.9 342.4 1363.2 344.3 1365.5 345.8 1367.7 346.8 1370 347.4 1372.3 347.6 1374.6 347.4 1376.9 347 1379.1 346.2 1381.4 345.4 1383.7 344.4 1386 343.4 1388.2 342.3 1390.5 341.3 1392.8 340.1 1395.1 339.1 1397.3 338 1399.6 337 1401.9 335.9 1404.2 334.7 1406.4 333.1 1408.7 331 1411 328.5 1413.3 325.3 1415.5 321.7 1417.8 317.5 1420.1 312.7 1422.4 307.1 1424.7 300.7 1426.9 293.6 1429.2 286 1431.5 277.8 1433.8 269.3 1436 261 1438.3 254.2 1440.6 255.2 1442.9 259.9 1445.1 265.6 1447.4 271.8 1449.7 278.4 1452 285.6 1454.2 293.4 1456.5 302 1458.8 310.6 1461.1 318.5 1463.4 324.9 1465.6 329.6 1467.9 332.8 1470.2 335.2 1472.5 337.3 1474.7 339.4 1477 341.4 1479.3 343.2 1481.6 344.4 1483.8 345.1 1486.1 345.5 1488.4 346 1490.7 346.5 1492.9 347.2 1495.2 348.1 1497.5 349.1 1499.8 349.8 1502 350.3 1504.3 350.3 1506.6 349.9 1508.9 349.3 1511.2 348.6 1513.4 348.2 1515.7 348.1 1518 348.2 1520.3 348.6 1522.5 349 1524.8 349.4 1527.1 349.7 1529.4 350 1531.6 350.2 1533.9 350.6 1536.2 351"/>
<path d="M1333.6 331.5 1335.9 331.7 1338.2 331.9 1340.4 332.1 1342.7 332.3 1345 332.5 1347.3 332.7 1349.5 333.1 1351.8 333.5 1354.1 334.2 1356.4 335 1358.6 336 1360.9 336.8 1363.2 337.2 1365.5 337.3 1367.7 337 1370 336.4 1372.3 335.8 1374.6 335.2 1376.9 334.7 1379.1 334.4 1381.4 334.1 1383.7 333.7 1386 333.2 1388.2 332.4 1390.5 331.4 1392.8 330.1 1395.1 328.7 1397.3 327.5 1399.6 326.6 1401.9 325.9 1404.2 325.4 1406.4 324.9 1408.7 323.9 1411 322.3 1413.3 319.8 1415.5 316.3 1417.8 311.6 1420.1 305.9 1422.4 299.2 1424.7 291.7 1426.9 283.6 1429.2 275.4 1431.5 267.7 1433.8 261.9 1436 264.1 1438.3 270.4 1440.6 277.4 1442.9 284.7 1445.1 291.8 1447.4 298.7 1449.7 305.3 1452 311.4 1454.2 317 1456.5 321.9 1458.8 325.9 1461.1 328.9 1463.4 331 1465.6 332.6 1467.9 333.8 1470.2 335.1 1472.5 336.4 1474.7 337.6 1477 338.6 1479.3 339.3 1481.6 339.6 1483.8 339.5 1486.1 339.3 1488.4 339 1490.7 338.8 1492.9 338.8 1495.2 339 1497.5 339.2 1499.8 339.5 1502 339.5 1504.3 339.2 1506.6 338.5 1508.9 337.6 1511.2 336.7 1513.4 335.9 1515.7 335.4 1518 335 1520.3 334.6 1522.5 334 1524.8 333.3 1527.1 332.5 1529.4 331.7 1531.6 331.2 1533.9 331.1 1536.2 331.4"/>
<path d="M1333.6 328.8 1335.9 328.7 1338.2 327.6 1340.4 326.2 1342.7 325.1 1345 324.8 1347.3 325.8 1349.5 327.6 1351.8 329.6 1354.1 331.1 1356.4 331.4 1358.6 330.1 1360.9 327.6 1363.2 324.7 1365.5 322.4 1367.7 321.5 1370 321.9 1372.3 323.4 1374.6 325.4 1376.9 327.6 1379.1 329.4 1381.4 330.8 1383.7 331.6 1386 331.9 1388.2 331.9 1390.5 331.8 1392.8 331.7 1395.1 331.6 1397.3 331.7 1399.6 331.8 1401.9 331.6 1404.2 331.1 1406.4 330.3 1408.7 329.1 1411 327.6 1413.3 325.6 1415.5 323.2 1417.8 320.4 1420.1 317.2 1422.4 313.6 1424.7 309.4 1426.9 304.5 1429.2 298.9 1431.5 292.8 1433.8 286 1436 278.9 1438.3 272.3 1440.6 268.8 1442.9 273.3 1445.1 279.1 1447.4 285.3 1449.7 291.7 1452 298.4 1454.2 305.4 1456.5 312.3 1458.8 318.6 1461.1 323.6 1463.4 327 1465.6 328.9 1467.9 329.6 1470.2 329.9 1472.5 330.2 1474.7 331 1477 332.1 1479.3 333.2 1481.6 334 1483.8 334 1486.1 333.4 1488.4 332.3 1490.7 331.2 1492.9 330.5 1495.2 330.2 1497.5 330.2 1499.8 330.2 1502 330.1 1504.3 330.1 1506.6 330.4 1508.9 331.2 1511.2 332.5 1513.4 334 1515.7 335.1 1518 335.5 1520.3 334.7 1522.5 333 1524.8 330.9 1527.1 329.2 1529.4 328.5 1531.6 328.7 1533.9 329.3 1536.2 330"/>
<path d="M1333.6 327.3 1335.9 328.1 1338.2 328.7 1340.4 329 1342.7 329 1345 328.8 1347.3 328.5 1349.5 328.3 1351.8 328.5 1354.1 329.1 1356.4 330.1 1358.6 331.2 1360.9 332.4 1363.2 333.3 1365.5 333.8 1367.7 333.7 1370 333.2 1372.3 332.4 1374.6 331.3 1376.9 330 1379.1 328.7 1381.4 327.5 1383.7 326.3 1386 325.3 1388.2 324.5 1390.5 324 1392.8 323.7 1395.1 323.7 1397.3 323.8 1399.6 323.8 1401.9 323.6 1404.2 323 1406.4 321.9 1408.7 320.3 1411 317.9 1413.3 314.9 1415.5 310.9 1417.8 305.9 1420.1 299.8 1422.4 292.7 1424.7 284.8 1426.9 276.5 1429.2 268.3 1431.5 260.4 1433.8 253.4 1436 248.9 1438.3 253.6 1440.6 260.2 1442.9 267.4 1445.1 274.7 1447.4 281.8 1449.7 288.4 1452 294.4 1454.2 299.7 1456.5 304.6 1458.8 308.9 1461.1 312.8 1463.4 316.1 1465.6 319 1467.9 321.2 1470.2 322.8 1472.5 323.8 1474.7 324.5 1477 325 1479.3 325.5 1481.6 326.3 1483.8 327.2 1486.1 328.1 1488.4 328.9 1490.7 329.5 1492.9 329.8 1495.2 329.8 1497.5 329.5 1499.8 328.9 1502 328.2 1504.3 327.2 1506.6 326.3 1508.9 325.6 1511.2 325.1 1513.4 325.1 1515.7 325.6 1518 326.4 1520.3 327.4 1522.5 328.6 1524.8 329.8 1527.1 331 1529.4 332.4 1531.6 333.7 1533.9 334.9 1536.2 335.8"/>
<path d="M1333.6 328.7 1335.9 330 1338.2 331.4 1340.4 332.5 1342.7 333.5 1345 334.3 1347.3 335 1349.5 335.6 1351.8 336 1354.1 336.3 1356.4 336.5 1358.6 336.7 1360.9 337 1363.2 337.3 1365.5 337.7 1367.7 338.2 1370 338.7 1372.3 339.1 1374.6 339.2 1376.9 338.6 1379.1 337.3 1381.4 335.4 1383.7 333.2 1386 331.1 1388.2 329.8 1390.5 329.4 1392.8 330 1395.1 331.2 1397.3 332.6 1399.6 333.8 1401.9 334.2 1404.2 333.6 1406.4 332.2 1408.7 329.9 1411 327.3 1413.3 324.5 1415.5 321.8 1417.8 318.8 1420.1 315.4 1422.4 311.2 1424.7 306 1426.9 299.9 1429.2 293 1431.5 285.9 1433.8 279.4 1436 274.6 1438.3 275.1 1440.6 279.2 1442.9 284.3 1445.1 289.5 1447.4 294.3 1449.7 298.4 1452 301.6 1454.2 304.2 1456.5 306.4 1458.8 308.5 1461.1 311.1 1463.4 314 1465.6 317.2 1467.9 320.4 1470.2 323.2 1472.5 325.6 1474.7 327.4 1477 328.8 1479.3 329.8 1481.6 330.6 1483.8 331.4 1486.1 332.4 1488.4 333.8 1490.7 335.2 1492.9 336.6 1495.2 337.5 1497.5 337.9 1499.8 337.8 1502 337.6 1504.3 337.9 1506.6 338.7 1508.9 340 1511.2 341.3 1513.4 342.3 1515.7 342.4 1518 341.6 1520.3 340.2 1522.5 338.7 1524.8 337.8 1527.1 337.7 1529.4 338.5 1531.6 339.8 1533.9 341.2 1536.2 342.1"/>
<path d="M1333.6 328.7 1335.9 328.1 1338.2 327.5 1340.4 327.2 1342.7 327.3 1345 327.8 1347.3 328.3 1349.5 328.8 1351.8 329.1 1354.1 329.3 1356.4 329.4 1358.6 329.4 1360.9 329.2 1363.2 328.8 1365.5 328.4 1367.7 328.4 1370 328.9 1372.3 330.1 1374.6 332 1376.9 334.2 1379.1 336.4 1381.4 338 1383.7 338.7 1386 338.1 1388.2 336.6 1390.5 334.6 1392.8 332.5 1395.1 331 1397.3 330 1399.6 329.5 1401.9 329.1 1404.2 328.7 1406.4 328 1408.7 326.6 1411 324.4 1413.3 321.1 1415.5 316.7 1417.8 311.1 1420.1 304.6 1422.4 297.2 1424.7 289.3 1426.9 281.1 1429.2 273.4 1431.5 267 1433.8 266.7 1436 271.7 1438.3 277.3 1440.6 282.8 1442.9 288.2 1445.1 293.5 1447.4 298.6 1449.7 303.5 1452 308.1 1454.2 312.3 1456.5 316.3 1458.8 319.8 1461.1 323.1 1463.4 325.8 1465.6 327.8 1467.9 328.9 1470.2 329.2 1472.5 328.8 1474.7 328.2 1477 327.3 1479.3 326.5 1481.6 326 1483.8 326.1 1486.1 327 1488.4 328.6 1490.7 330.8 1492.9 332.9 1495.2 334.7 1497.5 336 1499.8 336.9 1502 337.2 1504.3 337.2 1506.6 336.8 1508.9 336 1511.2 335.1 1513.4 333.9 1515.7 332.9 1518 332.1 1520.3 331.7 1522.5 331.9 1524.8 332.4 1527.1 333 1529.4 333.6 1531.6 334.1 1533.9 334.3 1536.2 334.5"/>
<path d="M1333.6 332.9 1335.9 332.1 1338.2 331.2 1340.4 330.3 1342.7 329.5 1345 329 1347.3 328.4 1349.5 327.9 1351.8 327.5 1354.1 327.2 1356.4 327.3 1358.6 327.6 1360.9 328 1363.2 328.3 1365.5 328.3 1367.7 327.7 1370 326.7 1372.3 325.5 1374.6 324.6 1376.9 324.1 1379.1 324.4 1381.4 325.1 1383.7 325.9 1386 326.5 1388.2 326.8 1390.5 326.9 1392.8 326.9 1395.1 327.1 1397.3 327.4 1399.6 327.6 1401.9 327.3 1404.2 326.4 1406.4 324.4 1408.7 321.3 1411 317.1 1413.3 311.9 1415.5 305.9 1417.8 299.2 1420.1 291.8 1422.4 283.9 1424.7 275.5 1426.9 266.8 1429.2 258.2 1431.5 250.4 1433.8 246.2 1436 251.5 1438.3 258.8 1440.6 266.7 1442.9 274.8 1445.1 282.8 1447.4 290.5 1449.7 297.6 1452 303.9 1454.2 309.4 1456.5 313.9 1458.8 317.6 1461.1 320.7 1463.4 323.3 1465.6 325.7 1467.9 327.9 1470.2 329.9 1472.5 331.9 1474.7 333.7 1477 335.1 1479.3 336.1 1481.6 336.9 1483.8 337.5 1486.1 337.8 1488.4 338.1 1490.7 338.3 1492.9 338.4 1495.2 338.4 1497.5 338.5 1499.8 338.7 1502 338.9 1504.3 339 1506.6 338.9 1508.9 338.4 1511.2 337.7 1513.4 336.9 1515.7 336.2 1518 335.7 1520.3 335.6 1522.5 335.6 1524.8 335.7 1527.1 335.4 1529.4 334.8 1531.6 334 1533.9 333.1 1536.2 332.3"/>
<path d="M1333.6 336.4 1335.9 335.1 1338.2 334.4 1340.4 334.2 1342.7 334.5 1345 335.1 1347.3 335.7 1349.5 336 1351.8 335.9 1354.1 335.5 1356.4 334.8 1358.6 334 1360.9 333.2 1363.2 332.4 1365.5 331.4 1367.7 330.4 1370 329.4 1372.3 328.6 1374.6 328.1 1376.9 327.9 1379.1 328 1381.4 328.3 1383.7 328.7 1386 329.1 1388.2 329.5 1390.5 329.9 1392.8 330 1395.1 330 1397.3 330 1399.6 330 1401.9 330.2 1404.2 330.5 1406.4 330.7 1408.7 330.3 1411 329.3 1413.3 327.5 1415.5 325 1417.8 321.7 1420.1 317.5 1422.4 312.5 1424.7 306.6 1426.9 300 1429.2 293 1431.5 285.8 1433.8 279 1436 273.4 1438.3 273.1 1440.6 276.8 1442.9 281.3 1445.1 286.2 1447.4 291.3 1449.7 296.7 1452 302 1454.2 307.3 1456.5 312.4 1458.8 317 1461.1 321 1463.4 324.2 1465.6 326.4 1467.9 327.8 1470.2 328.7 1472.5 329.4 1474.7 330.2 1477 331.1 1479.3 332.2 1481.6 333.4 1483.8 334.6 1486.1 335.7 1488.4 336.8 1490.7 337.9 1492.9 338.7 1495.2 339.2 1497.5 339.3 1499.8 339.1 1502 338.7 1504.3 338.2 1506.6 337.7 1508.9 337.2 1511.2 336.7 1513.4 336.2 1515.7 335.7 1518 335.5 1520.3 336 1522.5 337.1 1524.8 338.8 1527.1 340.8 1529.4 342.6 1531.6 343.7 1533.9 343.9 1536.2 343.3"/>
<path d="M1333.6 332.8 1335.9 334 1338.2 334.9 1340.4 335.4 1342.7 335.4 1345 335.2 1347.3 334.8 1349.5 334.4 1351.8 333.9 1354.1 333.3 1356.4 332.7 1358.6 332.1 1360.9 331.4 1363.2 330.7 1365.5 329.9 1367.7 329.1 1370 328.4 1372.3 328.1 1374.6 328 1376.9 328.4 1379.1 329.2 1381.4 330.5 1383.7 332.1 1386 333.5 1388.2 334.6 1390.5 335.1 1392.8 335.2 1395.1 335 1397.3 334.9 1399.6 334.9 1401.9 334.9 1404.2 334.8 1406.4 334.4 1408.7 333.4 1411 331.9 1413.3 329.8 1415.5 326.8 1417.8 322.7 1420.1 317.5 1422.4 311 1424.7 303.2 1426.9 294.2 1429.2 284.7 1431.5 275.2 1433.8 267 1436 264.7 1438.3 270.7 1440.6 278.7 1442.9 287.3 1445.1 295.8 1447.4 303.6 1449.7 310.2 1452 315.6 1454.2 319.7 1456.5 322.9 1458.8 325.2 1461.1 327.1 1463.4 328.6 1465.6 330 1467.9 331.3 1470.2 332.6 1472.5 334 1474.7 335.3 1477 336.1 1479.3 336.4 1481.6 336.2 1483.8 335.6 1486.1 334.6 1488.4 333.5 1490.7 332.4 1492.9 331.6 1495.2 331.2 1497.5 331.5 1499.8 332.4 1502 333.6 1504.3 334.8 1506.6 335.9 1508.9 337 1511.2 338 1513.4 338.8 1515.7 339.1 1518 338.9 1520.3 338 1522.5 336.7 1524.8 335.3 1527.1 334.3 1529.4 333.8 1531.6 333.7 1533.9 334 1536.2 334.4"/>
<path d="M1333.6 328.6 1335.9 327.7 1338.2 327 1340.4 326.7 1342.7 326.8 1345 327.4 1347.3 328.3 1349.5 329.3 1351.8 330 1354.1 330.3 1356.4 330.3 1358.6 330 1360.9 329.6 1363.2 329.2 1365.5 328.8 1367.7 328.3 1370 327.7 1372.3 327 1374.6 326.1 1376.9 325.1 1379.1 324.5 1381.4 324.3 1383.7 324.6 1386 325.5 1388.2 326.5 1390.5 327.5 1392.8 328.4 1395.1 328.9 1397.3 329 1399.6 328.5 1401.9 327.1 1404.2 324.7 1406.4 321.3 1408.7 317.2 1411 312.6 1413.3 307.6 1415.5 302.3 1417.8 296.9 1420.1 291.3 1422.4 285.3 1424.7 278.9 1426.9 272.1 1429.2 265 1431.5 257.9 1433.8 251.6 1436 247.3 1438.3 250.7 1440.6 258 1442.9 266.1 1445.1 274 1447.4 281.3 1449.7 287.8 1452 293.3 1454.2 297.7 1456.5 301.1 1458.8 303.9 1461.1 306.3 1463.4 308.8 1465.6 311.5 1467.9 314.6 1470.2 317.7 1472.5 320.8 1474.7 323.5 1477 325.9 1479.3 327.7 1481.6 329 1483.8 329.8 1486.1 330.3 1488.4 330.7 1490.7 331 1492.9 331.3 1495.2 331.5 1497.5 331.6 1499.8 331.5 1502 331.4 1504.3 331.3 1506.6 331.2 1508.9 331.3 1511.2 331.5 1513.4 332 1515.7 332.8 1518 333.7 1520.3 334.4 1522.5 334.8 1524.8 334.7 1527.1 334.1 1529.4 333.2 1531.6 332.5 1533.9 332.1 1536.2 332.3"/>
<path d="M1333.6 337.1 1335.9 336.4 1338.2 335.4 1340.4 334.2 1342.7 333.2 1345 332.4 1347.3 332.2 1349.5 332.7 1351.8 333.8 1354.1 335.4 1356.4 336.9 1358.6 338 1360.9 338.4 1363.2 338.1 1365.5 337.3 1367.7 336.2 1370 335 1372.3 333.7 1374.6 332.5 1376.9 331.4 1379.1 330.6 1381.4 330.1 1383.7 329.9 1386 330.1 1388.2 330.8 1390.5 332.3 1392.8 334.7 1395.1 337.7 1397.3 340.8 1399.6 343.2 1401.9 344 1404.2 342.9 1406.4 340 1408.7 336.1 1411 332 1413.3 328.1 1415.5 324.7 1417.8 321.5 1420.1 318.1 1422.4 314.1 1424.7 309 1426.9 303.1 1429.2 296.4 1431.5 289.6 1433.8 283.1 1436 277.9 1438.3 275.4 1440.6 281.5 1442.9 289.6 1445.1 297.9 1447.4 305.5 1449.7 311.9 1452 317 1454.2 321 1456.5 324.2 1458.8 327 1461.1 329.7 1463.4 332.3 1465.6 334.8 1467.9 337 1470.2 339 1472.5 340.6 1474.7 342 1477 343.2 1479.3 344.2 1481.6 344.8 1483.8 344.9 1486.1 344.4 1488.4 343.7 1490.7 342.9 1492.9 342.5 1495.2 342.8 1497.5 343.8 1499.8 345.1 1502 346.2 1504.3 346.8 1506.6 346.9 1508.9 346.4 1511.2 345.8 1513.4 345.4 1515.7 345.4 1518 345.7 1520.3 346.2 1522.5 346.6 1524.8 346.6 1527.1 346.3 1529.4 345.6 1531.6 344.4 1533.9 342.8 1536.2 341"/>
<path d="M1333.6 324.3 1335.9 325.7 1338.2 327 1340.4 328.2 1342.7 329 1345 329.4 1347.3 329.4 1349.5 329.2 1351.8 329.1 1354.1 329.4 1356.4 330.1 1358.6 331.3 1360.9 332.7 1363.2 334 1365.5 335.1 1367.7 336 1370 336.8 1372.3 337.4 1374.6 337.7 1376.9 337.7 1379.1 337.3 1381.4 336.6 1383.7 335.9 1386 335.4 1388.2 335.2 1390.5 335.4 1392.8 335.6 1395.1 335.8 1397.3 335.6 1399.6 334.9 1401.9 333.8 1404.2 332.1 1406.4 330 1408.7 327.7 1411 325.2 1413.3 322.6 1415.5 319.8 1417.8 316.5 1420.1 312.7 1422.4 308 1424.7 302.2 1426.9 295.6 1429.2 288 1431.5 279.9 1433.8 271.6 1436 263.8 1438.3 257.9 1440.6 259.5 1442.9 264.2 1445.1 269.8 1447.4 276 1449.7 282.4 1452 288.8 1454.2 294.9 1456.5 300.6 1458.8 305.7 1461.1 310.4 1463.4 314.4 1465.6 317.7 1467.9 320.3 1470.2 322.2 1472.5 323.5 1474.7 324.5 1477 325.4 1479.3 326.4 1481.6 327.9 1483.8 329.8 1486.1 332 1488.4 334.1 1490.7 335.6 1492.9 336.5 1495.2 337.1 1497.5 337.7 1499.8 338.7 1502 340.4 1504.3 342.4 1506.6 344.3 1508.9 345.6 1511.2 345.9 1513.4 344.9 1515.7 343.2 1518 341 1520.3 339.1 1522.5 338 1524.8 338.1 1527.1 339.1 1529.4 340.7 1531.6 342.4 1533.9 343.7 1536.2 344.5"/>
<path d="M1333.6 330.9 1335.9 333.8 1338.2 336 1340.4 337.2 1342.7 337.7 1345 337.6 1347.3 337.2 1349.5 336.9 1351.8 337 1354.1 337.7 1356.4 338.8 1358.6 340 1360.9 341.1 1363.2 341.6 1365.5 341.3 1367.7 340.5 1370 339.5 1372.3 338.7 1374.6 338.2 1376.9 338 1379.1 338 1381.4 337.8 1383.7 337.4 1386 336.8 1388.2 336.1 1390.5 335.5 1392.8 335 1395.1 334.7 1397.3 334.3 1399.6 333.6 1401.9 332.6 1404.2 331.4 1406.4 330 1408.7 328.5 1411 326.6 1413.3 324.1 1415.5 320.6 1417.8 316 1420.1 310.4 1422.4 303.8 1424.7 296.8 1426.9 289.6 1429.2 282.7 1431.5 276.4 1433.8 271 1436 266.9 1438.3 268.3 1440.6 275.1 1442.9 282.1 1445.1 288.5 1447.4 294.2 1449.7 299.7 1452 305 1454.2 310.3 1456.5 315.5 1458.8 320.5 1461.1 324.9 1463.4 328.6 1465.6 331.5 1467.9 333.5 1470.2 334.6 1472.5 335.2 1474.7 335.5 1477 335.8 1479.3 336.3 1481.6 336.9 1483.8 337.6 1486.1 338.1 1488.4 338.3 1490.7 338.1 1492.9 337.8 1495.2 337.6 1497.5 337.8 1499.8 338.3 1502 339.2 1504.3 340.2 1506.6 341.2 1508.9 341.9 1511.2 342.3 1513.4 342.5 1515.7 342.6 1518 342.8 1520.3 343.1 1522.5 343.6 1524.8 344.1 1527.1 344.6 1529.4 345 1531.6 345.2 1533.9 345.2 1536.2 344.9"/>
<path d="M1333.6 336.2 1335.9 335.5 1338.2 334 1340.4 332 1342.7 330.1 1345 328.9 1347.3 328.6 1349.5 329.2 1351.8 330.5 1354.1 332.1 1356.4 333.4 1358.6 334.4 1360.9 335 1363.2 335.2 1365.5 335 1367.7 334.5 1370 333.7 1372.3 332.6 1374.6 331.4 1376.9 330.1 1379.1 329 1381.4 328.2 1383.7 327.6 1386 327.3 1388.2 327.5 1390.5 328.3 1392.8 329.5 1395.1 330.9 1397.3 332.1 1399.6 332.8 1401.9 332.8 1404.2 332.4 1406.4 331.8 1408.7 331.1 1411 330.4 1413.3 329.1 1415.5 326.7 1417.8 322.8 1420.1 317 1422.4 309.5 1424.7 300.9 1426.9 292.1 1429.2 283.6 1431.5 276.1 1433.8 270 1436 268.4 1438.3 272.7 1440.6 277.6 1442.9 282.6 1445.1 287.6 1447.4 292.8 1449.7 298.1 1452 303.2 1454.2 307.9 1456.5 311.9 1458.8 315.5 1461.1 318.7 1463.4 321.8 1465.6 324.8 1467.9 327.5 1470.2 329.6 1472.5 331.3 1474.7 332.6 1477 333.8 1479.3 335.1 1481.6 336.4 1483.8 337.3 1486.1 337.7 1488.4 337.9 1490.7 338.2 1492.9 339 1495.2 340.3 1497.5 342 1499.8 343.5 1502 344.7 1504.3 345.6 1506.6 346.3 1508.9 346.8 1511.2 347.3 1513.4 347.6 1515.7 348 1518 348.3 1520.3 348.2 1522.5 347.6 1524.8 346.1 1527.1 343.9 1529.4 341.2 1531.6 338.4 1533.9 336 1536.2 334.3"/>
<path d="M1333.6 330.3 1335.9 331.3 1338.2 332.1 1340.4 332.6 1342.7 332.8 1345 332.6 1347.3 332.1 1349.5 331.3 1351.8 330.4 1354.1 329.5 1356.4 328.5 1358.6 327.5 1360.9 326.3 1363.2 325.1 1365.5 324.1 1367.7 323.3 1370 322.7 1372.3 322.4 1374.6 322.3 1376.9 322.3 1379.1 322.4 1381.4 322.5 1383.7 322.5 1386 322.5 1388.2 322.4 1390.5 322.4 1392.8 322.4 1395.1 322.5 1397.3 322.8 1399.6 323.1 1401.9 323.5 1404.2 323.8 1406.4 323.8 1408.7 323.4 1411 322.3 1413.3 320.5 1415.5 318 1417.8 314.8 1420.1 310.7 1422.4 305.5 1424.7 299.3 1426.9 292.1 1429.2 284.4 1431.5 276.8 1433.8 270 1436 264.6 1438.3 262 1440.6 267.6 1442.9 275.5 1445.1 283.7 1447.4 291.4 1449.7 298.3 1452 304.3 1454.2 309.5 1456.5 314 1458.8 317.7 1461.1 320.7 1463.4 323 1465.6 324.6 1467.9 325.9 1470.2 327.1 1472.5 328.2 1474.7 329.2 1477 330 1479.3 330.5 1481.6 330.7 1483.8 330.5 1486.1 330.2 1488.4 330.1 1490.7 330.2 1492.9 330.6 1495.2 331.1 1497.5 331.7 1499.8 332.1 1502 332.4 1504.3 332.4 1506.6 332.1 1508.9 331.6 1511.2 331 1513.4 330.5 1515.7 330 1518 329.7 1520.3 329.6 1522.5 329.5 1524.8 329.2 1527.1 328.8 1529.4 328.2 1531.6 327.7 1533.9 327.4 1536.2 327.6"/>
<path d="M1333.6 338.7 1335.9 339.1 1338.2 339 1340.4 338.6 1342.7 338 1345 337.5 1347.3 337.1 1349.5 336.8 1351.8 336.6 1354.1 336.4 1356.4 336.1 1358.6 335.7 1360.9 335.2 1363.2 334.6 1365.5 333.9 1367.7 333.2 1370 332.8 1372.3 332.7 1374.6 332.9 1376.9 333.4 1379.1 334.1 1381.4 334.7 1383.7 335.2 1386 335.5 1388.2 335.6 1390.5 335.5 1392.8 335.1 1395.1 334.6 1397.3 334 1399.6 333.2 1401.9 332.3 1404.2 331.2 1406.4 330.1 1408.7 328.9 1411 327.6 1413.3 326.1 1415.5 324.2 1417.8 321.4 1420.1 317.4 1422.4 312.1 1424.7 305.3 1426.9 297.1 1429.2 287.7 1431.5 277.5 1433.8 267.3 1436 258.7 1438.3 257.9 1440.6 263.3 1442.9 269.8 1445.1 277 1447.4 284.2 1449.7 291.2 1452 297.9 1454.2 304.1 1456.5 310 1458.8 315.4 1461.1 320.4 1463.4 325.1 1465.6 329.4 1467.9 333.2 1470.2 336.7 1472.5 339.6 1474.7 342 1477 343.8 1479.3 345.1 1481.6 346.2 1483.8 347.1 1486.1 348 1488.4 348.7 1490.7 349.2 1492.9 349.4 1495.2 349.1 1497.5 348.6 1499.8 348 1502 347.4 1504.3 346.8 1506.6 346.2 1508.9 345.6 1511.2 344.8 1513.4 344.2 1515.7 343.8 1518 343.8 1520.3 344.4 1522.5 345.6 1524.8 347.2 1527.1 348.8 1529.4 350 1531.6 350.7 1533.9 350.7 1536.2 350.2"/>
</g>
<line x1="1333.6" y1="42.4" x2="1333.6" y2="201.2" stroke="#231f20" stroke-width="1.9"/>
<line x1="1320.2" y1="200.2" x2="1534.2" y2="200.2" stroke="#231f20" stroke-width="1.9"/>
<line x1="1320.2" y1="43.4" x2="1333.6" y2="43.4" stroke="#231f20" stroke-width="1.9"/>
<text x="1309.5" y="57.8" text-anchor="end">1.0</text>
<line x1="1320.2" y1="95.7" x2="1333.6" y2="95.7" stroke="#231f20" stroke-width="1.9"/>
<text x="1309.5" y="99.9" text-anchor="end">0.5</text>
<line x1="1320.2" y1="147.9" x2="1333.6" y2="147.9" stroke="#231f20" stroke-width="1.9"/>
<text x="1309.5" y="152.6" text-anchor="end">0.0</text>
<line x1="1320.2" y1="200.2" x2="1333.6" y2="200.2" stroke="#231f20" stroke-width="1.9"/>
<text x="1309.5" y="203.9" text-anchor="end">-0.5</text>
<line x1="1333.6" y1="200.2" x2="1333.6" y2="207.2" stroke="#231f20" stroke-width="1.9"/>
<line x1="1382.6" y1="200.2" x2="1382.6" y2="207.2" stroke="#231f20" stroke-width="1.9"/>
<line x1="1434" y1="200.2" x2="1434" y2="207.2" stroke="#231f20" stroke-width="1.9"/>
<line x1="1487.4" y1="200.2" x2="1487.4" y2="207.2" stroke="#231f20" stroke-width="1.9"/>
<line x1="1533.2" y1="200.2" x2="1533.2" y2="207.2" stroke="#231f20" stroke-width="1.9"/>
<line x1="1333.6" y1="224.7" x2="1333.6" y2="383" stroke="#231f20" stroke-width="1.9"/>
<line x1="1320.2" y1="382" x2="1534.2" y2="382" stroke="#231f20" stroke-width="1.9"/>
<line x1="1320.2" y1="225.7" x2="1333.6" y2="225.7" stroke="#231f20" stroke-width="1.9"/>
<text x="1309.5" y="229.9" text-anchor="end">1.0</text>
<line x1="1320.2" y1="277.8" x2="1333.6" y2="277.8" stroke="#231f20" stroke-width="1.9"/>
<text x="1309.5" y="281.9" text-anchor="end">0.5</text>
<line x1="1320.2" y1="329.9" x2="1333.6" y2="329.9" stroke="#231f20" stroke-width="1.9"/>
<text x="1309.5" y="335.3" text-anchor="end">0.0</text>
<line x1="1320.2" y1="382" x2="1333.6" y2="382" stroke="#231f20" stroke-width="1.9"/>
<text x="1309.5" y="385.8" text-anchor="end">-0.5</text>
<line x1="1333.6" y1="382" x2="1333.6" y2="389" stroke="#231f20" stroke-width="1.9"/>
<line x1="1383.5" y1="382" x2="1383.5" y2="389" stroke="#231f20" stroke-width="1.9"/>
<line x1="1433.4" y1="382" x2="1433.4" y2="389" stroke="#231f20" stroke-width="1.9"/>
<line x1="1483.3" y1="382" x2="1483.3" y2="389" stroke="#231f20" stroke-width="1.9"/>
<line x1="1533.2" y1="382" x2="1533.2" y2="389" stroke="#231f20" stroke-width="1.9"/>
<text x="1332.1" y="417.5" text-anchor="middle">-50</text>
<text x="1382" y="417.5" text-anchor="middle">-25</text>
<text x="1431.9" y="417.5" text-anchor="middle">0</text>
<text x="1481.8" y="417.5" text-anchor="middle">25</text>
<text x="1531.7" y="417.5" text-anchor="middle">50</text>
<text x="1432" y="447.3" text-anchor="middle">Lag time (s)</text>
<!-- panel e -->
<text x="1594" y="32" class="pl">e</text>
<text transform="translate(1631 304) rotate(-90)">Correlation</text>
<line x1="1704" y1="294.7" x2="1978.6" y2="294.7" stroke="#111" stroke-width="1.8"/>
<path d="M1757.3 256.2l4.6 -10.3l-9.2 0zM1760.1 256.2l4.6 -10.3l-9.2 0zM1762.8 256.2l4.6 -10.3l-9.2 0zM1765.5 256.2l4.6 -10.3l-9.2 0zM1768.3 256.2l4.6 -10.3l-9.2 0zM1771 256.2l4.6 -10.3l-9.2 0zM1773.7 256.2l4.6 -10.3l-9.2 0zM1776.5 256.2l4.6 -10.3l-9.2 0zM1779.2 256.2l4.6 -10.3l-9.2 0zM1781.9 256.2l4.6 -10.3l-9.2 0zM1784.6 256.2l4.6 -10.3l-9.2 0zM1755.2 260.5l4.6 -10.3l-9.2 0zM1757.9 260.5l4.6 -10.3l-9.2 0zM1760.5 260.5l4.6 -10.3l-9.2 0zM1763.1 260.5l4.6 -10.3l-9.2 0zM1765.7 260.5l4.6 -10.3l-9.2 0zM1768.4 260.5l4.6 -10.3l-9.2 0zM1771 260.5l4.6 -10.3l-9.2 0zM1773.6 260.5l4.6 -10.3l-9.2 0zM1776.3 260.5l4.6 -10.3l-9.2 0zM1778.9 260.5l4.6 -10.3l-9.2 0zM1781.5 260.5l4.6 -10.3l-9.2 0zM1784.1 260.5l4.6 -10.3l-9.2 0zM1786.8 260.5l4.6 -10.3l-9.2 0zM1754.5 264.9l4.6 -10.3l-9.2 0zM1757.3 264.9l4.6 -10.3l-9.2 0zM1760 264.9l4.6 -10.3l-9.2 0zM1762.8 264.9l4.6 -10.3l-9.2 0zM1765.5 264.9l4.6 -10.3l-9.2 0zM1768.3 264.9l4.6 -10.3l-9.2 0zM1771 264.9l4.6 -10.3l-9.2 0zM1773.7 264.9l4.6 -10.3l-9.2 0zM1776.5 264.9l4.6 -10.3l-9.2 0zM1779.2 264.9l4.6 -10.3l-9.2 0zM1782 264.9l4.6 -10.3l-9.2 0zM1784.7 264.9l4.6 -10.3l-9.2 0zM1787.5 264.9l4.6 -10.3l-9.2 0zM1755.5 269.3l4.6 -10.3l-9.2 0zM1758.1 269.3l4.6 -10.3l-9.2 0zM1760.6 269.3l4.6 -10.3l-9.2 0zM1763.2 269.3l4.6 -10.3l-9.2 0zM1765.8 269.3l4.6 -10.3l-9.2 0zM1768.4 269.3l4.6 -10.3l-9.2 0zM1771 269.3l4.6 -10.3l-9.2 0zM1773.6 269.3l4.6 -10.3l-9.2 0zM1776.2 269.3l4.6 -10.3l-9.2 0zM1778.8 269.3l4.6 -10.3l-9.2 0zM1781.4 269.3l4.6 -10.3l-9.2 0zM1783.9 269.3l4.6 -10.3l-9.2 0zM1786.5 269.3l4.6 -10.3l-9.2 0zM1754.1 273.7l4.6 -10.3l-9.2 0zM1756.7 273.7l4.6 -10.3l-9.2 0zM1759.3 273.7l4.6 -10.3l-9.2 0zM1761.9 273.7l4.6 -10.3l-9.2 0zM1764.5 273.7l4.6 -10.3l-9.2 0zM1767.1 273.7l4.6 -10.3l-9.2 0zM1769.7 273.7l4.6 -10.3l-9.2 0zM1772.3 273.7l4.6 -10.3l-9.2 0zM1774.9 273.7l4.6 -10.3l-9.2 0zM1777.5 273.7l4.6 -10.3l-9.2 0zM1780.1 273.7l4.6 -10.3l-9.2 0zM1782.7 273.7l4.6 -10.3l-9.2 0zM1785.3 273.7l4.6 -10.3l-9.2 0zM1787.9 273.7l4.6 -10.3l-9.2 0zM1755.3 278l4.6 -10.3l-9.2 0zM1757.9 278l4.6 -10.3l-9.2 0zM1760.6 278l4.6 -10.3l-9.2 0zM1763.2 278l4.6 -10.3l-9.2 0zM1765.8 278l4.6 -10.3l-9.2 0zM1768.4 278l4.6 -10.3l-9.2 0zM1771 278l4.6 -10.3l-9.2 0zM1773.6 278l4.6 -10.3l-9.2 0zM1776.2 278l4.6 -10.3l-9.2 0zM1778.8 278l4.6 -10.3l-9.2 0zM1781.4 278l4.6 -10.3l-9.2 0zM1784.1 278l4.6 -10.3l-9.2 0zM1786.7 278l4.6 -10.3l-9.2 0zM1756.6 282.4l4.6 -10.3l-9.2 0zM1759.2 282.4l4.6 -10.3l-9.2 0zM1761.8 282.4l4.6 -10.3l-9.2 0zM1764.5 282.4l4.6 -10.3l-9.2 0zM1767.1 282.4l4.6 -10.3l-9.2 0zM1769.7 282.4l4.6 -10.3l-9.2 0zM1772.3 282.4l4.6 -10.3l-9.2 0zM1774.9 282.4l4.6 -10.3l-9.2 0zM1777.5 282.4l4.6 -10.3l-9.2 0zM1780.2 282.4l4.6 -10.3l-9.2 0zM1782.8 282.4l4.6 -10.3l-9.2 0zM1785.4 282.4l4.6 -10.3l-9.2 0zM1758.1 286.8l4.6 -10.3l-9.2 0zM1760.6 286.8l4.6 -10.3l-9.2 0zM1763.2 286.8l4.6 -10.3l-9.2 0zM1765.8 286.8l4.6 -10.3l-9.2 0zM1768.4 286.8l4.6 -10.3l-9.2 0zM1771 286.8l4.6 -10.3l-9.2 0zM1773.6 286.8l4.6 -10.3l-9.2 0zM1776.2 286.8l4.6 -10.3l-9.2 0zM1778.8 286.8l4.6 -10.3l-9.2 0zM1781.4 286.8l4.6 -10.3l-9.2 0zM1783.9 286.8l4.6 -10.3l-9.2 0zM1754 291.2l4.6 -10.3l-9.2 0zM1756.6 291.2l4.6 -10.3l-9.2 0zM1759.2 291.2l4.6 -10.3l-9.2 0zM1761.8 291.2l4.6 -10.3l-9.2 0zM1764.4 291.2l4.6 -10.3l-9.2 0zM1767.1 291.2l4.6 -10.3l-9.2 0zM1769.7 291.2l4.6 -10.3l-9.2 0zM1772.3 291.2l4.6 -10.3l-9.2 0zM1774.9 291.2l4.6 -10.3l-9.2 0zM1777.6 291.2l4.6 -10.3l-9.2 0zM1780.2 291.2l4.6 -10.3l-9.2 0zM1782.8 291.2l4.6 -10.3l-9.2 0zM1785.4 291.2l4.6 -10.3l-9.2 0zM1788 291.2l4.6 -10.3l-9.2 0zM1755.5 295.5l4.6 -10.3l-9.2 0zM1758 295.5l4.6 -10.3l-9.2 0zM1760.6 295.5l4.6 -10.3l-9.2 0zM1763.2 295.5l4.6 -10.3l-9.2 0zM1765.8 295.5l4.6 -10.3l-9.2 0zM1768.4 295.5l4.6 -10.3l-9.2 0zM1771 295.5l4.6 -10.3l-9.2 0zM1773.6 295.5l4.6 -10.3l-9.2 0zM1776.2 295.5l4.6 -10.3l-9.2 0zM1778.8 295.5l4.6 -10.3l-9.2 0zM1781.4 295.5l4.6 -10.3l-9.2 0zM1784 295.5l4.6 -10.3l-9.2 0zM1786.5 295.5l4.6 -10.3l-9.2 0zM1759 299.9l4.6 -10.3l-9.2 0zM1761.6 299.9l4.6 -10.3l-9.2 0zM1764.3 299.9l4.6 -10.3l-9.2 0zM1767 299.9l4.6 -10.3l-9.2 0zM1769.7 299.9l4.6 -10.3l-9.2 0zM1772.3 299.9l4.6 -10.3l-9.2 0zM1775 299.9l4.6 -10.3l-9.2 0zM1777.7 299.9l4.6 -10.3l-9.2 0zM1780.4 299.9l4.6 -10.3l-9.2 0zM1783 299.9l4.6 -10.3l-9.2 0zM1763 304.3l4.6 -10.3l-9.2 0zM1765.6 304.3l4.6 -10.3l-9.2 0zM1768.3 304.3l4.6 -10.3l-9.2 0zM1771 304.3l4.6 -10.3l-9.2 0zM1773.7 304.3l4.6 -10.3l-9.2 0zM1776.3 304.3l4.6 -10.3l-9.2 0zM1779 304.3l4.6 -10.3l-9.2 0zM1767.3 308.7l4.6 -10.3l-9.2 0zM1769.8 308.7l4.6 -10.3l-9.2 0zM1772.2 308.7l4.6 -10.3l-9.2 0zM1774.6 308.7l4.6 -10.3l-9.2 0zM1771 250.2l4.6 -10.3l-9.2 0zM1755 311.7l4.6 -10.3l-9.2 0zM1763.7 314.7l4.6 -10.3l-9.2 0zM1778.3 314.7l4.6 -10.3l-9.2 0zM1787.8 311.7l4.6 -10.3l-9.2 0zM1771 318.7l4.6 -10.3l-9.2 0zM1771 326.2l4.6 -10.3l-9.2 0z" fill="none" stroke="#6a6a6c" stroke-width="2.1" stroke-linejoin="miter"/>
<line x1="1752" y1="277.9" x2="1790" y2="277.9" stroke="#000" stroke-width="1.6"/>
<line x1="1757" y1="275.5" x2="1785" y2="275.5" stroke="#000" stroke-width="1.3"/>
<line x1="1757" y1="280.3" x2="1785" y2="280.3" stroke="#000" stroke-width="1.3"/>
<line x1="1771" y1="275.5" x2="1771" y2="280.3" stroke="#000" stroke-width="1.3"/>
<path d="M1834.2 240.7l4.6 -10.3l-9.2 0zM1838.7 240.7l4.6 -10.3l-9.2 0zM1843.2 240.7l4.6 -10.3l-9.2 0zM1847.7 240.7l4.6 -10.3l-9.2 0zM1852.1 240.7l4.6 -10.3l-9.2 0zM1856.6 240.7l4.6 -10.3l-9.2 0zM1861.1 240.7l4.6 -10.3l-9.2 0zM1865.5 240.7l4.6 -10.3l-9.2 0zM1835.7 244.9l4.6 -10.3l-9.2 0zM1840.4 244.9l4.6 -10.3l-9.2 0zM1845.2 244.9l4.6 -10.3l-9.2 0zM1849.9 244.9l4.6 -10.3l-9.2 0zM1854.6 244.9l4.6 -10.3l-9.2 0zM1859.4 244.9l4.6 -10.3l-9.2 0zM1864.1 244.9l4.6 -10.3l-9.2 0zM1837.1 249.2l4.6 -10.3l-9.2 0zM1841.4 249.2l4.6 -10.3l-9.2 0zM1845.6 249.2l4.6 -10.3l-9.2 0zM1849.9 249.2l4.6 -10.3l-9.2 0zM1854.2 249.2l4.6 -10.3l-9.2 0zM1858.4 249.2l4.6 -10.3l-9.2 0zM1862.7 249.2l4.6 -10.3l-9.2 0zM1838.7 253.4l4.6 -10.3l-9.2 0zM1843.2 253.4l4.6 -10.3l-9.2 0zM1847.7 253.4l4.6 -10.3l-9.2 0zM1852.1 253.4l4.6 -10.3l-9.2 0zM1856.6 253.4l4.6 -10.3l-9.2 0zM1861.1 253.4l4.6 -10.3l-9.2 0zM1840.2 257.7l4.6 -10.3l-9.2 0zM1845.1 257.7l4.6 -10.3l-9.2 0zM1849.9 257.7l4.6 -10.3l-9.2 0zM1854.7 257.7l4.6 -10.3l-9.2 0zM1859.5 257.7l4.6 -10.3l-9.2 0zM1841.2 259.7l4.6 -10.3l-9.2 0zM1843.7 259.7l4.6 -10.3l-9.2 0zM1846.2 259.7l4.6 -10.3l-9.2 0zM1848.7 259.7l4.6 -10.3l-9.2 0zM1851.1 259.7l4.6 -10.3l-9.2 0zM1853.6 259.7l4.6 -10.3l-9.2 0zM1856.1 259.7l4.6 -10.3l-9.2 0zM1858.5 259.7l4.6 -10.3l-9.2 0zM1842.5 263.7l4.6 -10.3l-9.2 0zM1844.9 263.7l4.6 -10.3l-9.2 0zM1847.4 263.7l4.6 -10.3l-9.2 0zM1849.9 263.7l4.6 -10.3l-9.2 0zM1852.4 263.7l4.6 -10.3l-9.2 0zM1854.9 263.7l4.6 -10.3l-9.2 0zM1857.3 263.7l4.6 -10.3l-9.2 0zM1834.5 267.8l4.6 -10.3l-9.2 0zM1837.3 267.8l4.6 -10.3l-9.2 0zM1840.1 267.8l4.6 -10.3l-9.2 0zM1842.9 267.8l4.6 -10.3l-9.2 0zM1845.7 267.8l4.6 -10.3l-9.2 0zM1848.5 267.8l4.6 -10.3l-9.2 0zM1851.3 267.8l4.6 -10.3l-9.2 0zM1854.1 267.8l4.6 -10.3l-9.2 0zM1856.9 267.8l4.6 -10.3l-9.2 0zM1859.7 267.8l4.6 -10.3l-9.2 0zM1862.5 267.8l4.6 -10.3l-9.2 0zM1865.3 267.8l4.6 -10.3l-9.2 0zM1836.5 271.9l4.6 -10.3l-9.2 0zM1839.1 271.9l4.6 -10.3l-9.2 0zM1841.8 271.9l4.6 -10.3l-9.2 0zM1844.5 271.9l4.6 -10.3l-9.2 0zM1847.2 271.9l4.6 -10.3l-9.2 0zM1849.9 271.9l4.6 -10.3l-9.2 0zM1852.6 271.9l4.6 -10.3l-9.2 0zM1855.3 271.9l4.6 -10.3l-9.2 0zM1858 271.9l4.6 -10.3l-9.2 0zM1860.7 271.9l4.6 -10.3l-9.2 0zM1863.4 271.9l4.6 -10.3l-9.2 0zM1838.4 275.9l4.6 -10.3l-9.2 0zM1840.9 275.9l4.6 -10.3l-9.2 0zM1843.5 275.9l4.6 -10.3l-9.2 0zM1846.1 275.9l4.6 -10.3l-9.2 0zM1848.6 275.9l4.6 -10.3l-9.2 0zM1851.2 275.9l4.6 -10.3l-9.2 0zM1853.7 275.9l4.6 -10.3l-9.2 0zM1856.3 275.9l4.6 -10.3l-9.2 0zM1858.9 275.9l4.6 -10.3l-9.2 0zM1861.4 275.9l4.6 -10.3l-9.2 0zM1840.4 280l4.6 -10.3l-9.2 0zM1843.1 280l4.6 -10.3l-9.2 0zM1845.8 280l4.6 -10.3l-9.2 0zM1848.5 280l4.6 -10.3l-9.2 0zM1851.3 280l4.6 -10.3l-9.2 0zM1854 280l4.6 -10.3l-9.2 0zM1856.7 280l4.6 -10.3l-9.2 0zM1859.4 280l4.6 -10.3l-9.2 0zM1839.9 284.1l4.6 -10.3l-9.2 0zM1842.4 284.1l4.6 -10.3l-9.2 0zM1844.9 284.1l4.6 -10.3l-9.2 0zM1847.4 284.1l4.6 -10.3l-9.2 0zM1849.9 284.1l4.6 -10.3l-9.2 0zM1852.4 284.1l4.6 -10.3l-9.2 0zM1854.9 284.1l4.6 -10.3l-9.2 0zM1857.4 284.1l4.6 -10.3l-9.2 0zM1859.9 284.1l4.6 -10.3l-9.2 0zM1835 288.1l4.6 -10.3l-9.2 0zM1837.7 288.1l4.6 -10.3l-9.2 0zM1840.4 288.1l4.6 -10.3l-9.2 0zM1843.1 288.1l4.6 -10.3l-9.2 0zM1845.8 288.1l4.6 -10.3l-9.2 0zM1848.5 288.1l4.6 -10.3l-9.2 0zM1851.3 288.1l4.6 -10.3l-9.2 0zM1854 288.1l4.6 -10.3l-9.2 0zM1856.7 288.1l4.6 -10.3l-9.2 0zM1859.4 288.1l4.6 -10.3l-9.2 0zM1862.1 288.1l4.6 -10.3l-9.2 0zM1864.8 288.1l4.6 -10.3l-9.2 0zM1837.4 292.2l4.6 -10.3l-9.2 0zM1840.2 292.2l4.6 -10.3l-9.2 0zM1842.9 292.2l4.6 -10.3l-9.2 0zM1845.7 292.2l4.6 -10.3l-9.2 0zM1848.5 292.2l4.6 -10.3l-9.2 0zM1851.3 292.2l4.6 -10.3l-9.2 0zM1854.1 292.2l4.6 -10.3l-9.2 0zM1856.9 292.2l4.6 -10.3l-9.2 0zM1859.6 292.2l4.6 -10.3l-9.2 0zM1862.4 292.2l4.6 -10.3l-9.2 0zM1839.2 296.3l4.6 -10.3l-9.2 0zM1841.9 296.3l4.6 -10.3l-9.2 0zM1844.6 296.3l4.6 -10.3l-9.2 0zM1847.2 296.3l4.6 -10.3l-9.2 0zM1849.9 296.3l4.6 -10.3l-9.2 0zM1852.6 296.3l4.6 -10.3l-9.2 0zM1855.2 296.3l4.6 -10.3l-9.2 0zM1857.9 296.3l4.6 -10.3l-9.2 0zM1860.6 296.3l4.6 -10.3l-9.2 0zM1840.8 300.3l4.6 -10.3l-9.2 0zM1843.4 300.3l4.6 -10.3l-9.2 0zM1846 300.3l4.6 -10.3l-9.2 0zM1848.6 300.3l4.6 -10.3l-9.2 0zM1851.2 300.3l4.6 -10.3l-9.2 0zM1853.8 300.3l4.6 -10.3l-9.2 0zM1856.4 300.3l4.6 -10.3l-9.2 0zM1859 300.3l4.6 -10.3l-9.2 0zM1835.4 304.4l4.6 -10.3l-9.2 0zM1838 304.4l4.6 -10.3l-9.2 0zM1840.7 304.4l4.6 -10.3l-9.2 0zM1843.3 304.4l4.6 -10.3l-9.2 0zM1845.9 304.4l4.6 -10.3l-9.2 0zM1848.6 304.4l4.6 -10.3l-9.2 0zM1851.2 304.4l4.6 -10.3l-9.2 0zM1853.9 304.4l4.6 -10.3l-9.2 0zM1856.5 304.4l4.6 -10.3l-9.2 0zM1859.1 304.4l4.6 -10.3l-9.2 0zM1861.8 304.4l4.6 -10.3l-9.2 0zM1864.4 304.4l4.6 -10.3l-9.2 0zM1839.1 308.5l4.6 -10.3l-9.2 0zM1841.8 308.5l4.6 -10.3l-9.2 0zM1844.5 308.5l4.6 -10.3l-9.2 0zM1847.2 308.5l4.6 -10.3l-9.2 0zM1849.9 308.5l4.6 -10.3l-9.2 0zM1852.6 308.5l4.6 -10.3l-9.2 0zM1855.3 308.5l4.6 -10.3l-9.2 0zM1858 308.5l4.6 -10.3l-9.2 0zM1860.7 308.5l4.6 -10.3l-9.2 0zM1843.6 312.5l4.6 -10.3l-9.2 0zM1846.1 312.5l4.6 -10.3l-9.2 0zM1848.6 312.5l4.6 -10.3l-9.2 0zM1851.2 312.5l4.6 -10.3l-9.2 0zM1853.7 312.5l4.6 -10.3l-9.2 0zM1856.2 312.5l4.6 -10.3l-9.2 0zM1848.4 316.6l4.6 -10.3l-9.2 0zM1849.9 316.6l4.6 -10.3l-9.2 0zM1851.4 316.6l4.6 -10.3l-9.2 0zM1849.9 320.7l4.6 -10.3l-9.2 0zM1841.1 230.4l4.6 -10.3l-9.2 0zM1858.2 233.3l4.6 -10.3l-9.2 0zM1841.4 325.2l4.6 -10.3l-9.2 0zM1858.9 323.7l4.6 -10.3l-9.2 0zM1844.3 338.2l4.6 -10.3l-9.2 0zM1856.1 335.2l4.6 -10.3l-9.2 0zM1849.9 326.7l4.6 -10.3l-9.2 0z" fill="none" stroke="#a97c50" stroke-width="2.1" stroke-linejoin="miter"/>
<line x1="1830.9" y1="275.4" x2="1868.9" y2="275.4" stroke="#000" stroke-width="1.6"/>
<line x1="1835.9" y1="272.8" x2="1863.9" y2="272.8" stroke="#000" stroke-width="1.3"/>
<line x1="1835.9" y1="278" x2="1863.9" y2="278" stroke="#000" stroke-width="1.3"/>
<line x1="1849.9" y1="272.8" x2="1849.9" y2="278" stroke="#000" stroke-width="1.3"/>
<path d="M1913.5 205.2l4.6 -10.3l-9.2 0zM1916.2 205.2l4.6 -10.3l-9.2 0zM1918.8 205.2l4.6 -10.3l-9.2 0zM1921.5 205.2l4.6 -10.3l-9.2 0zM1924.1 205.2l4.6 -10.3l-9.2 0zM1926.7 205.2l4.6 -10.3l-9.2 0zM1929.4 205.2l4.6 -10.3l-9.2 0zM1932 205.2l4.6 -10.3l-9.2 0zM1934.7 205.2l4.6 -10.3l-9.2 0zM1937.3 205.2l4.6 -10.3l-9.2 0zM1939.9 205.2l4.6 -10.3l-9.2 0zM1942.6 205.2l4.6 -10.3l-9.2 0zM1945.2 205.2l4.6 -10.3l-9.2 0zM1947.8 205.2l4.6 -10.3l-9.2 0zM1915.1 209.5l4.6 -10.3l-9.2 0zM1917.7 209.5l4.6 -10.3l-9.2 0zM1920.3 209.5l4.6 -10.3l-9.2 0zM1922.9 209.5l4.6 -10.3l-9.2 0zM1925.5 209.5l4.6 -10.3l-9.2 0zM1928.1 209.5l4.6 -10.3l-9.2 0zM1930.7 209.5l4.6 -10.3l-9.2 0zM1933.3 209.5l4.6 -10.3l-9.2 0zM1935.9 209.5l4.6 -10.3l-9.2 0zM1938.5 209.5l4.6 -10.3l-9.2 0zM1941.1 209.5l4.6 -10.3l-9.2 0zM1943.7 209.5l4.6 -10.3l-9.2 0zM1946.3 209.5l4.6 -10.3l-9.2 0zM1916.7 213.9l4.6 -10.3l-9.2 0zM1919.2 213.9l4.6 -10.3l-9.2 0zM1921.8 213.9l4.6 -10.3l-9.2 0zM1924.3 213.9l4.6 -10.3l-9.2 0zM1926.9 213.9l4.6 -10.3l-9.2 0zM1929.4 213.9l4.6 -10.3l-9.2 0zM1932 213.9l4.6 -10.3l-9.2 0zM1934.5 213.9l4.6 -10.3l-9.2 0zM1937.1 213.9l4.6 -10.3l-9.2 0zM1939.6 213.9l4.6 -10.3l-9.2 0zM1942.2 213.9l4.6 -10.3l-9.2 0zM1944.7 213.9l4.6 -10.3l-9.2 0zM1918.2 218.2l4.6 -10.3l-9.2 0zM1921 218.2l4.6 -10.3l-9.2 0zM1923.8 218.2l4.6 -10.3l-9.2 0zM1926.5 218.2l4.6 -10.3l-9.2 0zM1929.3 218.2l4.6 -10.3l-9.2 0zM1932.1 218.2l4.6 -10.3l-9.2 0zM1934.9 218.2l4.6 -10.3l-9.2 0zM1937.6 218.2l4.6 -10.3l-9.2 0zM1940.4 218.2l4.6 -10.3l-9.2 0zM1943.2 218.2l4.6 -10.3l-9.2 0zM1919.5 222.5l4.6 -10.3l-9.2 0zM1922.3 222.5l4.6 -10.3l-9.2 0zM1925.1 222.5l4.6 -10.3l-9.2 0zM1927.9 222.5l4.6 -10.3l-9.2 0zM1930.7 222.5l4.6 -10.3l-9.2 0zM1933.5 222.5l4.6 -10.3l-9.2 0zM1936.3 222.5l4.6 -10.3l-9.2 0zM1939.1 222.5l4.6 -10.3l-9.2 0zM1941.9 222.5l4.6 -10.3l-9.2 0zM1920.8 226.9l4.6 -10.3l-9.2 0zM1923.3 226.9l4.6 -10.3l-9.2 0zM1925.8 226.9l4.6 -10.3l-9.2 0zM1928.2 226.9l4.6 -10.3l-9.2 0zM1930.7 226.9l4.6 -10.3l-9.2 0zM1933.2 226.9l4.6 -10.3l-9.2 0zM1935.6 226.9l4.6 -10.3l-9.2 0zM1938.1 226.9l4.6 -10.3l-9.2 0zM1940.6 226.9l4.6 -10.3l-9.2 0zM1914.4 231.2l4.6 -10.3l-9.2 0zM1917.1 231.2l4.6 -10.3l-9.2 0zM1919.9 231.2l4.6 -10.3l-9.2 0zM1922.6 231.2l4.6 -10.3l-9.2 0zM1925.3 231.2l4.6 -10.3l-9.2 0zM1928 231.2l4.6 -10.3l-9.2 0zM1930.7 231.2l4.6 -10.3l-9.2 0zM1933.4 231.2l4.6 -10.3l-9.2 0zM1936.1 231.2l4.6 -10.3l-9.2 0zM1938.8 231.2l4.6 -10.3l-9.2 0zM1941.5 231.2l4.6 -10.3l-9.2 0zM1944.3 231.2l4.6 -10.3l-9.2 0zM1947 231.2l4.6 -10.3l-9.2 0zM1916.9 235.6l4.6 -10.3l-9.2 0zM1919.6 235.6l4.6 -10.3l-9.2 0zM1922.4 235.6l4.6 -10.3l-9.2 0zM1925.2 235.6l4.6 -10.3l-9.2 0zM1927.9 235.6l4.6 -10.3l-9.2 0zM1930.7 235.6l4.6 -10.3l-9.2 0zM1933.5 235.6l4.6 -10.3l-9.2 0zM1936.2 235.6l4.6 -10.3l-9.2 0zM1939 235.6l4.6 -10.3l-9.2 0zM1941.8 235.6l4.6 -10.3l-9.2 0zM1944.5 235.6l4.6 -10.3l-9.2 0zM1919 239.9l4.6 -10.3l-9.2 0zM1921.6 239.9l4.6 -10.3l-9.2 0zM1924.2 239.9l4.6 -10.3l-9.2 0zM1926.8 239.9l4.6 -10.3l-9.2 0zM1929.4 239.9l4.6 -10.3l-9.2 0zM1932 239.9l4.6 -10.3l-9.2 0zM1934.6 239.9l4.6 -10.3l-9.2 0zM1937.2 239.9l4.6 -10.3l-9.2 0zM1939.8 239.9l4.6 -10.3l-9.2 0zM1942.4 239.9l4.6 -10.3l-9.2 0zM1920.9 244.3l4.6 -10.3l-9.2 0zM1923.3 244.3l4.6 -10.3l-9.2 0zM1925.8 244.3l4.6 -10.3l-9.2 0zM1928.2 244.3l4.6 -10.3l-9.2 0zM1930.7 244.3l4.6 -10.3l-9.2 0zM1933.2 244.3l4.6 -10.3l-9.2 0zM1935.6 244.3l4.6 -10.3l-9.2 0zM1938.1 244.3l4.6 -10.3l-9.2 0zM1940.5 244.3l4.6 -10.3l-9.2 0zM1915.1 248.6l4.6 -10.3l-9.2 0zM1917.7 248.6l4.6 -10.3l-9.2 0zM1920.3 248.6l4.6 -10.3l-9.2 0zM1922.9 248.6l4.6 -10.3l-9.2 0zM1925.5 248.6l4.6 -10.3l-9.2 0zM1928.1 248.6l4.6 -10.3l-9.2 0zM1930.7 248.6l4.6 -10.3l-9.2 0zM1933.3 248.6l4.6 -10.3l-9.2 0zM1935.9 248.6l4.6 -10.3l-9.2 0zM1938.5 248.6l4.6 -10.3l-9.2 0zM1941.1 248.6l4.6 -10.3l-9.2 0zM1943.7 248.6l4.6 -10.3l-9.2 0zM1946.3 248.6l4.6 -10.3l-9.2 0zM1917.6 253l4.6 -10.3l-9.2 0zM1920.2 253l4.6 -10.3l-9.2 0zM1922.8 253l4.6 -10.3l-9.2 0zM1925.4 253l4.6 -10.3l-9.2 0zM1928.1 253l4.6 -10.3l-9.2 0zM1930.7 253l4.6 -10.3l-9.2 0zM1933.3 253l4.6 -10.3l-9.2 0zM1936 253l4.6 -10.3l-9.2 0zM1938.6 253l4.6 -10.3l-9.2 0zM1941.2 253l4.6 -10.3l-9.2 0zM1943.8 253l4.6 -10.3l-9.2 0zM1920.2 257.3l4.6 -10.3l-9.2 0zM1922.8 257.3l4.6 -10.3l-9.2 0zM1925.4 257.3l4.6 -10.3l-9.2 0zM1928.1 257.3l4.6 -10.3l-9.2 0zM1930.7 257.3l4.6 -10.3l-9.2 0zM1933.3 257.3l4.6 -10.3l-9.2 0zM1936 257.3l4.6 -10.3l-9.2 0zM1938.6 257.3l4.6 -10.3l-9.2 0zM1941.2 257.3l4.6 -10.3l-9.2 0zM1923 261.7l4.6 -10.3l-9.2 0zM1925.6 261.7l4.6 -10.3l-9.2 0zM1928.1 261.7l4.6 -10.3l-9.2 0zM1930.7 261.7l4.6 -10.3l-9.2 0zM1933.2 261.7l4.6 -10.3l-9.2 0zM1935.8 261.7l4.6 -10.3l-9.2 0zM1938.3 261.7l4.6 -10.3l-9.2 0zM1916 265.7l4.6 -10.3l-9.2 0zM1923.4 265.7l4.6 -10.3l-9.2 0zM1930.7 265.7l4.6 -10.3l-9.2 0zM1938 265.7l4.6 -10.3l-9.2 0zM1945.3 265.7l4.6 -10.3l-9.2 0zM1916 272.7l4.6 -10.3l-9.2 0zM1923.4 272.7l4.6 -10.3l-9.2 0zM1930.7 272.7l4.6 -10.3l-9.2 0zM1938 272.7l4.6 -10.3l-9.2 0zM1945.3 272.7l4.6 -10.3l-9.2 0zM1916.7 279.7l4.6 -10.3l-9.2 0zM1923.7 279.7l4.6 -10.3l-9.2 0zM1930.7 279.7l4.6 -10.3l-9.2 0zM1937.7 279.7l4.6 -10.3l-9.2 0zM1944.8 279.7l4.6 -10.3l-9.2 0zM1917.4 286.7l4.6 -10.3l-9.2 0zM1924 286.7l4.6 -10.3l-9.2 0zM1930.7 286.7l4.6 -10.3l-9.2 0zM1937.4 286.7l4.6 -10.3l-9.2 0zM1944.1 286.7l4.6 -10.3l-9.2 0zM1918 293.7l4.6 -10.3l-9.2 0zM1926.5 293.7l4.6 -10.3l-9.2 0zM1934.9 293.7l4.6 -10.3l-9.2 0zM1943.3 293.7l4.6 -10.3l-9.2 0zM1913.7 302.7l4.6 -10.3l-9.2 0zM1930.7 304.7l4.6 -10.3l-9.2 0zM1945.7 302.7l4.6 -10.3l-9.2 0zM1918.7 311.7l4.6 -10.3l-9.2 0zM1935.7 315.7l4.6 -10.3l-9.2 0zM1942.7 313.7l4.6 -10.3l-9.2 0zM1928.7 317.7l4.6 -10.3l-9.2 0zM1936.7 321.7l4.6 -10.3l-9.2 0zM1921.2 332.2l4.6 -10.3l-9.2 0zM1938.8 342.5l4.6 -10.3l-9.2 0zM1930.4 365.2l4.6 -10.3l-9.2 0zM1914.7 204.7l4.6 -10.3l-9.2 0zM1947.7 204.7l4.6 -10.3l-9.2 0z" fill="none" stroke="#ec008c" stroke-width="2.1" stroke-linejoin="miter"/>
<line x1="1909.7" y1="243.4" x2="1951.7" y2="243.4" stroke="#000" stroke-width="1.6"/>
<line x1="1916.7" y1="240.2" x2="1944.7" y2="240.2" stroke="#000" stroke-width="1.3"/>
<line x1="1916.7" y1="246.6" x2="1944.7" y2="246.6" stroke="#000" stroke-width="1.3"/>
<line x1="1930.7" y1="240.2" x2="1930.7" y2="246.6" stroke="#000" stroke-width="1.3"/>
<line x1="1713" y1="101.3" x2="1713" y2="392.4" stroke="#231f20" stroke-width="1.8"/>
<line x1="1704" y1="101.3" x2="1713" y2="101.3" stroke="#231f20" stroke-width="1.8"/>
<text x="1698.5" y="110.1" text-anchor="end">1.0</text>
<line x1="1704" y1="198" x2="1713" y2="198" stroke="#231f20" stroke-width="1.8"/>
<text x="1698.5" y="206.8" text-anchor="end">0.5</text>
<line x1="1704" y1="294.7" x2="1713" y2="294.7" stroke="#231f20" stroke-width="1.8"/>
<text x="1698.5" y="303.5" text-anchor="end">0.0</text>
<line x1="1704" y1="391.4" x2="1713" y2="391.4" stroke="#231f20" stroke-width="1.8"/>
<text x="1698.5" y="400.2" text-anchor="end">-0.5</text>
<text x="1929" y="172.8" text-anchor="middle" font-size="28.5">****</text>
<text x="1786.5" y="392.5" text-anchor="end" transform="rotate(-45 1786.5 392.5)">Saline</text>
<text x="1867.3" y="392.5" text-anchor="end" transform="rotate(-45 1867.3 392.5)">BzATP</text>
<text x="1948.4" y="392.5" text-anchor="end" transform="rotate(-45 1948.4 392.5)">ATP</text>
<!-- panel f -->
<text x="15.5" y="531" class="pl">f</text>
<line x1="69.3" y1="573" x2="69.3" y2="591" stroke="#000" stroke-width="2.4"/>
<path d="M62.5 589L76.1 589L69.3 610Z" fill="#000"/>
<text x="91.8" y="587">S1 Ca2+ imaging</text>
<text x="91.8" y="611.5">S1 ECoG recording</text>
<rect x="61.2" y="661.4" width="145.7" height="36.5" fill="#b3b3b5"/>
<text x="126.5" y="686.6" text-anchor="middle">Saline</text>
<rect x="61.2" y="716.6" width="145.7" height="36.1" fill="#d3b18c"/>
<text x="126.8" y="747.8" text-anchor="middle">BzATP</text>
<rect x="59.6" y="769" width="149.2" height="40" fill="#f032a0"/>
<text x="124.9" y="802" text-anchor="middle">ATP</text>
<line x1="224.6" y1="664" x2="224.6" y2="682" stroke="#000" stroke-width="2.4"/>
<path d="M217.8 680L231.4 680L224.6 701Z" fill="#000"/>
<line x1="224.6" y1="721.5" x2="224.6" y2="739.5" stroke="#000" stroke-width="2.4"/>
<path d="M217.8 737.5L231.4 737.5L224.6 758.5Z" fill="#000"/>
<line x1="224.6" y1="776" x2="224.6" y2="794" stroke="#000" stroke-width="2.4"/>
<path d="M217.8 792L231.4 792L224.6 813Z" fill="#000"/>
<line x1="57.4" y1="827.7" x2="255" y2="827.7" stroke="#000" stroke-width="2.6"/>
<path d="M245 819.5L275 827.7L245 836Z" fill="#000"/>
<line x1="62.2" y1="827.7" x2="62.2" y2="841.5" stroke="#000" stroke-width="2.6"/>
<text x="62.2" y="870.5" text-anchor="middle">0d</text>
<line x1="116.7" y1="827.7" x2="116.7" y2="841.5" stroke="#000" stroke-width="2.6"/>
<text x="116.7" y="870.5" text-anchor="middle">1d</text>
<line x1="171" y1="827.7" x2="171" y2="841.5" stroke="#000" stroke-width="2.6"/>
<text x="171" y="870.5" text-anchor="middle">2d</text>
<line x1="225.6" y1="827.7" x2="225.6" y2="841.5" stroke="#000" stroke-width="2.6"/>
<text x="225.6" y="870.5" text-anchor="middle">3d</text>
<!-- panel g -->
<text x="326" y="534.5" class="pl">g</text>
<text x="546.5" y="541" text-anchor="middle" class="it">S1HL Imaging</text>
<line x1="465.5" y1="543.5" x2="627.5" y2="543.5" stroke="#000" stroke-width="1.6"/>
<line x1="449.8" y1="558.4" x2="449.8" y2="847.2" stroke="#000" stroke-width="1.8"/>
<line x1="438.8" y1="846.2" x2="700.8" y2="846.2" stroke="#000" stroke-width="1.8"/>
<line x1="438.8" y1="846.2" x2="449.8" y2="846.2" stroke="#000" stroke-width="1.8"/>
<text x="433.3" y="855" text-anchor="end">0</text>
<line x1="438.8" y1="788.6" x2="449.8" y2="788.6" stroke="#000" stroke-width="1.8"/>
<text x="433.3" y="797.4" text-anchor="end">20</text>
<line x1="438.8" y1="731.1" x2="449.8" y2="731.1" stroke="#000" stroke-width="1.8"/>
<text x="433.3" y="739.9" text-anchor="end">40</text>
<line x1="438.8" y1="673.5" x2="449.8" y2="673.5" stroke="#000" stroke-width="1.8"/>
<text x="433.3" y="682.3" text-anchor="end">60</text>
<line x1="438.8" y1="616" x2="449.8" y2="616" stroke="#000" stroke-width="1.8"/>
<text x="433.3" y="624.8" text-anchor="end">80</text>
<line x1="438.8" y1="558.4" x2="449.8" y2="558.4" stroke="#000" stroke-width="1.8"/>
<text x="433.3" y="567.2" text-anchor="end">100</text>
<line x1="494.6" y1="846.2" x2="494.6" y2="854.2" stroke="#000" stroke-width="1.8"/>
<line x1="574.5" y1="846.2" x2="574.5" y2="854.2" stroke="#000" stroke-width="1.8"/>
<line x1="654.7" y1="846.2" x2="654.7" y2="854.2" stroke="#000" stroke-width="1.8"/>
<text transform="translate(371 819) rotate(-90)">Integrated Ca<tspan font-size="15" dy="-9">2+</tspan><tspan dy="9"> Δ</tspan><tspan class="it">F</tspan>/<tspan class="it">F</tspan><tspan font-size="15" dy="7">0</tspan></text>
<g fill="none" stroke="#6a6a6c" stroke-width="2.9">
<circle cx="481.7" cy="774" r="5.7"/><circle cx="484.9" cy="774" r="5.7"/><circle cx="488.2" cy="774" r="5.7"/><circle cx="491.4" cy="774" r="5.7"/><circle cx="494.6" cy="774" r="5.7"/><circle cx="497.8" cy="774" r="5.7"/><circle cx="501.1" cy="774" r="5.7"/><circle cx="504.3" cy="774" r="5.7"/><circle cx="507.5" cy="774" r="5.7"/><circle cx="478.3" cy="778.2" r="5.7"/><circle cx="481.6" cy="778.2" r="5.7"/><circle cx="484.8" cy="778.2" r="5.7"/><circle cx="488.1" cy="778.2" r="5.7"/><circle cx="491.3" cy="778.2" r="5.7"/><circle cx="494.6" cy="778.2" r="5.7"/><circle cx="497.9" cy="778.2" r="5.7"/><circle cx="501.1" cy="778.2" r="5.7"/><circle cx="504.4" cy="778.2" r="5.7"/><circle cx="507.6" cy="778.2" r="5.7"/><circle cx="510.9" cy="778.2" r="5.7"/><circle cx="479.8" cy="782.4" r="5.7"/><circle cx="483.1" cy="782.4" r="5.7"/><circle cx="486.4" cy="782.4" r="5.7"/><circle cx="489.7" cy="782.4" r="5.7"/><circle cx="493" cy="782.4" r="5.7"/><circle cx="496.2" cy="782.4" r="5.7"/><circle cx="499.5" cy="782.4" r="5.7"/><circle cx="502.8" cy="782.4" r="5.7"/><circle cx="506.1" cy="782.4" r="5.7"/><circle cx="509.4" cy="782.4" r="5.7"/><circle cx="480" cy="786.6" r="5.7"/><circle cx="483.3" cy="786.6" r="5.7"/><circle cx="486.5" cy="786.6" r="5.7"/><circle cx="489.7" cy="786.6" r="5.7"/><circle cx="493" cy="786.6" r="5.7"/><circle cx="496.2" cy="786.6" r="5.7"/><circle cx="499.5" cy="786.6" r="5.7"/><circle cx="502.7" cy="786.6" r="5.7"/><circle cx="505.9" cy="786.6" r="5.7"/><circle cx="509.2" cy="786.6" r="5.7"/><circle cx="478.5" cy="790.9" r="5.7"/><circle cx="481.7" cy="790.9" r="5.7"/><circle cx="484.9" cy="790.9" r="5.7"/><circle cx="488.2" cy="790.9" r="5.7"/><circle cx="491.4" cy="790.9" r="5.7"/><circle cx="494.6" cy="790.9" r="5.7"/><circle cx="497.8" cy="790.9" r="5.7"/><circle cx="501" cy="790.9" r="5.7"/><circle cx="504.3" cy="790.9" r="5.7"/><circle cx="507.5" cy="790.9" r="5.7"/><circle cx="510.7" cy="790.9" r="5.7"/><circle cx="479.4" cy="795.1" r="5.7"/><circle cx="482.8" cy="795.1" r="5.7"/><circle cx="486.2" cy="795.1" r="5.7"/><circle cx="489.5" cy="795.1" r="5.7"/><circle cx="492.9" cy="795.1" r="5.7"/><circle cx="496.3" cy="795.1" r="5.7"/><circle cx="499.7" cy="795.1" r="5.7"/><circle cx="503" cy="795.1" r="5.7"/><circle cx="506.4" cy="795.1" r="5.7"/><circle cx="509.8" cy="795.1" r="5.7"/><circle cx="481.2" cy="799.3" r="5.7"/><circle cx="484.6" cy="799.3" r="5.7"/><circle cx="487.9" cy="799.3" r="5.7"/><circle cx="491.3" cy="799.3" r="5.7"/><circle cx="494.6" cy="799.3" r="5.7"/><circle cx="497.9" cy="799.3" r="5.7"/><circle cx="501.3" cy="799.3" r="5.7"/><circle cx="504.6" cy="799.3" r="5.7"/><circle cx="508" cy="799.3" r="5.7"/><circle cx="480.5" cy="803.5" r="5.7"/><circle cx="483.7" cy="803.5" r="5.7"/><circle cx="486.8" cy="803.5" r="5.7"/><circle cx="489.9" cy="803.5" r="5.7"/><circle cx="493" cy="803.5" r="5.7"/><circle cx="496.2" cy="803.5" r="5.7"/><circle cx="499.3" cy="803.5" r="5.7"/><circle cx="502.4" cy="803.5" r="5.7"/><circle cx="505.5" cy="803.5" r="5.7"/><circle cx="508.7" cy="803.5" r="5.7"/><circle cx="478.9" cy="807.7" r="5.7"/><circle cx="482.1" cy="807.7" r="5.7"/><circle cx="485.2" cy="807.7" r="5.7"/><circle cx="488.3" cy="807.7" r="5.7"/><circle cx="491.5" cy="807.7" r="5.7"/><circle cx="494.6" cy="807.7" r="5.7"/><circle cx="497.7" cy="807.7" r="5.7"/><circle cx="500.9" cy="807.7" r="5.7"/><circle cx="504" cy="807.7" r="5.7"/><circle cx="507.1" cy="807.7" r="5.7"/><circle cx="510.2" cy="807.7" r="5.7"/><circle cx="478.7" cy="812" r="5.7"/><circle cx="481.9" cy="812" r="5.7"/><circle cx="485.1" cy="812" r="5.7"/><circle cx="488.3" cy="812" r="5.7"/><circle cx="491.4" cy="812" r="5.7"/><circle cx="494.6" cy="812" r="5.7"/><circle cx="497.8" cy="812" r="5.7"/><circle cx="500.9" cy="812" r="5.7"/><circle cx="504.1" cy="812" r="5.7"/><circle cx="507.3" cy="812" r="5.7"/><circle cx="510.5" cy="812" r="5.7"/><circle cx="482.2" cy="816.2" r="5.7"/><circle cx="485.3" cy="816.2" r="5.7"/><circle cx="488.4" cy="816.2" r="5.7"/><circle cx="491.5" cy="816.2" r="5.7"/><circle cx="494.6" cy="816.2" r="5.7"/><circle cx="497.7" cy="816.2" r="5.7"/><circle cx="500.8" cy="816.2" r="5.7"/><circle cx="503.9" cy="816.2" r="5.7"/><circle cx="507" cy="816.2" r="5.7"/><circle cx="490.4" cy="820.4" r="5.7"/><circle cx="493.2" cy="820.4" r="5.7"/><circle cx="496" cy="820.4" r="5.7"/><circle cx="498.8" cy="820.4" r="5.7"/><circle cx="494.6" cy="824.6" r="5.7"/><circle cx="494.6" cy="643.3" r="5.7"/><circle cx="494.6" cy="687.9" r="5.7"/><circle cx="494.6" cy="712.9" r="5.7"/><circle cx="481.1" cy="733.1" r="5.7"/><circle cx="494.6" cy="733.7" r="5.7"/><circle cx="508.8" cy="729.1" r="5.7"/><circle cx="485" cy="746" r="5.7"/><circle cx="505.5" cy="744.9" r="5.7"/><circle cx="482.4" cy="753.2" r="5.7"/><circle cx="491" cy="751.8" r="5.7"/><circle cx="507.5" cy="757" r="5.7"/><circle cx="478.6" cy="764.5" r="5.7"/><circle cx="488.6" cy="761" r="5.7"/><circle cx="500.6" cy="762.7" r="5.7"/><circle cx="510.6" cy="765.6" r="5.7"/><circle cx="484.6" cy="768.5" r="5.7"/><circle cx="504.6" cy="769.6" r="5.7"/><circle cx="494.6" cy="767.1" r="5.7"/>
</g>
<line x1="476.6" y1="792" x2="512.6" y2="792" stroke="#000" stroke-width="1.7"/>
<line x1="481.1" y1="788.5" x2="508.1" y2="788.5" stroke="#000" stroke-width="1.4"/>
<line x1="481.1" y1="795.5" x2="508.1" y2="795.5" stroke="#000" stroke-width="1.4"/>
<line x1="494.6" y1="788.5" x2="494.6" y2="795.5" stroke="#000" stroke-width="1.4"/>
<g fill="none" stroke="#a97c50" stroke-width="2.9">
<circle cx="562.6" cy="766.7" r="5.7"/><circle cx="566" cy="766.7" r="5.7"/><circle cx="569.4" cy="766.7" r="5.7"/><circle cx="572.8" cy="766.7" r="5.7"/><circle cx="576.2" cy="766.7" r="5.7"/><circle cx="579.6" cy="766.7" r="5.7"/><circle cx="583" cy="766.7" r="5.7"/><circle cx="586.4" cy="766.7" r="5.7"/><circle cx="560" cy="771.2" r="5.7"/><circle cx="563.2" cy="771.2" r="5.7"/><circle cx="566.5" cy="771.2" r="5.7"/><circle cx="569.7" cy="771.2" r="5.7"/><circle cx="572.9" cy="771.2" r="5.7"/><circle cx="576.1" cy="771.2" r="5.7"/><circle cx="579.3" cy="771.2" r="5.7"/><circle cx="582.5" cy="771.2" r="5.7"/><circle cx="585.8" cy="771.2" r="5.7"/><circle cx="589" cy="771.2" r="5.7"/><circle cx="558.2" cy="775.7" r="5.7"/><circle cx="561.5" cy="775.7" r="5.7"/><circle cx="564.7" cy="775.7" r="5.7"/><circle cx="568" cy="775.7" r="5.7"/><circle cx="571.2" cy="775.7" r="5.7"/><circle cx="574.5" cy="775.7" r="5.7"/><circle cx="577.8" cy="775.7" r="5.7"/><circle cx="581" cy="775.7" r="5.7"/><circle cx="584.3" cy="775.7" r="5.7"/><circle cx="587.5" cy="775.7" r="5.7"/><circle cx="590.8" cy="775.7" r="5.7"/><circle cx="560.2" cy="780.1" r="5.7"/><circle cx="563.4" cy="780.1" r="5.7"/><circle cx="566.6" cy="780.1" r="5.7"/><circle cx="569.7" cy="780.1" r="5.7"/><circle cx="572.9" cy="780.1" r="5.7"/><circle cx="576.1" cy="780.1" r="5.7"/><circle cx="579.3" cy="780.1" r="5.7"/><circle cx="582.4" cy="780.1" r="5.7"/><circle cx="585.6" cy="780.1" r="5.7"/><circle cx="588.8" cy="780.1" r="5.7"/><circle cx="559.1" cy="784.6" r="5.7"/><circle cx="562.2" cy="784.6" r="5.7"/><circle cx="565.3" cy="784.6" r="5.7"/><circle cx="568.3" cy="784.6" r="5.7"/><circle cx="571.4" cy="784.6" r="5.7"/><circle cx="574.5" cy="784.6" r="5.7"/><circle cx="577.6" cy="784.6" r="5.7"/><circle cx="580.7" cy="784.6" r="5.7"/><circle cx="583.7" cy="784.6" r="5.7"/><circle cx="586.8" cy="784.6" r="5.7"/><circle cx="589.9" cy="784.6" r="5.7"/><circle cx="558.7" cy="789.1" r="5.7"/><circle cx="561.9" cy="789.1" r="5.7"/><circle cx="565" cy="789.1" r="5.7"/><circle cx="568.2" cy="789.1" r="5.7"/><circle cx="571.3" cy="789.1" r="5.7"/><circle cx="574.5" cy="789.1" r="5.7"/><circle cx="577.7" cy="789.1" r="5.7"/><circle cx="580.8" cy="789.1" r="5.7"/><circle cx="584" cy="789.1" r="5.7"/><circle cx="587.1" cy="789.1" r="5.7"/><circle cx="590.3" cy="789.1" r="5.7"/><circle cx="560.4" cy="793.5" r="5.7"/><circle cx="563.5" cy="793.5" r="5.7"/><circle cx="566.7" cy="793.5" r="5.7"/><circle cx="569.8" cy="793.5" r="5.7"/><circle cx="572.9" cy="793.5" r="5.7"/><circle cx="576.1" cy="793.5" r="5.7"/><circle cx="579.2" cy="793.5" r="5.7"/><circle cx="582.3" cy="793.5" r="5.7"/><circle cx="585.5" cy="793.5" r="5.7"/><circle cx="588.6" cy="793.5" r="5.7"/><circle cx="561.2" cy="798" r="5.7"/><circle cx="564.5" cy="798" r="5.7"/><circle cx="567.8" cy="798" r="5.7"/><circle cx="571.2" cy="798" r="5.7"/><circle cx="574.5" cy="798" r="5.7"/><circle cx="577.8" cy="798" r="5.7"/><circle cx="581.2" cy="798" r="5.7"/><circle cx="584.5" cy="798" r="5.7"/><circle cx="587.8" cy="798" r="5.7"/><circle cx="559.7" cy="802.5" r="5.7"/><circle cx="563" cy="802.5" r="5.7"/><circle cx="566.3" cy="802.5" r="5.7"/><circle cx="569.6" cy="802.5" r="5.7"/><circle cx="572.9" cy="802.5" r="5.7"/><circle cx="576.1" cy="802.5" r="5.7"/><circle cx="579.4" cy="802.5" r="5.7"/><circle cx="582.7" cy="802.5" r="5.7"/><circle cx="586" cy="802.5" r="5.7"/><circle cx="589.3" cy="802.5" r="5.7"/><circle cx="558.2" cy="807" r="5.7"/><circle cx="561.5" cy="807" r="5.7"/><circle cx="564.7" cy="807" r="5.7"/><circle cx="568" cy="807" r="5.7"/><circle cx="571.2" cy="807" r="5.7"/><circle cx="574.5" cy="807" r="5.7"/><circle cx="577.8" cy="807" r="5.7"/><circle cx="581" cy="807" r="5.7"/><circle cx="584.3" cy="807" r="5.7"/><circle cx="587.5" cy="807" r="5.7"/><circle cx="590.8" cy="807" r="5.7"/><circle cx="559.3" cy="811.5" r="5.7"/><circle cx="562.7" cy="811.5" r="5.7"/><circle cx="566" cy="811.5" r="5.7"/><circle cx="569.4" cy="811.5" r="5.7"/><circle cx="572.8" cy="811.5" r="5.7"/><circle cx="576.2" cy="811.5" r="5.7"/><circle cx="579.6" cy="811.5" r="5.7"/><circle cx="583" cy="811.5" r="5.7"/><circle cx="586.3" cy="811.5" r="5.7"/><circle cx="589.7" cy="811.5" r="5.7"/><circle cx="568.2" cy="815.9" r="5.7"/><circle cx="571.3" cy="815.9" r="5.7"/><circle cx="574.5" cy="815.9" r="5.7"/><circle cx="577.7" cy="815.9" r="5.7"/><circle cx="580.8" cy="815.9" r="5.7"/><circle cx="574.5" cy="820.4" r="5.7"/><circle cx="574.5" cy="629.5" r="5.7"/><circle cx="557.3" cy="727.6" r="5.7"/><circle cx="591.9" cy="730.2" r="5.7"/><circle cx="582" cy="738" r="5.7"/><circle cx="565.5" cy="742" r="5.7"/><circle cx="560.2" cy="746.6" r="5.7"/><circle cx="589.9" cy="743.5" r="5.7"/><circle cx="570.5" cy="745.5" r="5.7"/><circle cx="578.5" cy="749.5" r="5.7"/><circle cx="558.5" cy="754.1" r="5.7"/><circle cx="590.5" cy="753" r="5.7"/><circle cx="566.5" cy="755.3" r="5.7"/><circle cx="583.5" cy="755.8" r="5.7"/><circle cx="574.5" cy="754.1" r="5.7"/>
</g>
<line x1="556.5" y1="789.6" x2="592.5" y2="789.6" stroke="#000" stroke-width="1.7"/>
<line x1="561" y1="786.2" x2="588" y2="786.2" stroke="#000" stroke-width="1.4"/>
<line x1="561" y1="793" x2="588" y2="793" stroke="#000" stroke-width="1.4"/>
<line x1="574.5" y1="786.2" x2="574.5" y2="793" stroke="#000" stroke-width="1.4"/>
<g fill="none" stroke="#ec008c" stroke-width="2.9">
<circle cx="644.8" cy="772.7" r="5.7"/><circle cx="648.1" cy="772.7" r="5.7"/><circle cx="651.4" cy="772.7" r="5.7"/><circle cx="654.7" cy="772.7" r="5.7"/><circle cx="658" cy="772.7" r="5.7"/><circle cx="661.3" cy="772.7" r="5.7"/><circle cx="664.6" cy="772.7" r="5.7"/><circle cx="639" cy="777" r="5.7"/><circle cx="642.1" cy="777" r="5.7"/><circle cx="645.3" cy="777" r="5.7"/><circle cx="648.4" cy="777" r="5.7"/><circle cx="651.6" cy="777" r="5.7"/><circle cx="654.7" cy="777" r="5.7"/><circle cx="657.8" cy="777" r="5.7"/><circle cx="661" cy="777" r="5.7"/><circle cx="664.1" cy="777" r="5.7"/><circle cx="667.3" cy="777" r="5.7"/><circle cx="670.4" cy="777" r="5.7"/><circle cx="638.2" cy="781.3" r="5.7"/><circle cx="641.5" cy="781.3" r="5.7"/><circle cx="644.8" cy="781.3" r="5.7"/><circle cx="648.1" cy="781.3" r="5.7"/><circle cx="651.4" cy="781.3" r="5.7"/><circle cx="654.7" cy="781.3" r="5.7"/><circle cx="658" cy="781.3" r="5.7"/><circle cx="661.3" cy="781.3" r="5.7"/><circle cx="664.6" cy="781.3" r="5.7"/><circle cx="667.9" cy="781.3" r="5.7"/><circle cx="671.2" cy="781.3" r="5.7"/><circle cx="638.2" cy="785.6" r="5.7"/><circle cx="641.5" cy="785.6" r="5.7"/><circle cx="644.8" cy="785.6" r="5.7"/><circle cx="648.1" cy="785.6" r="5.7"/><circle cx="651.4" cy="785.6" r="5.7"/><circle cx="654.7" cy="785.6" r="5.7"/><circle cx="658" cy="785.6" r="5.7"/><circle cx="661.3" cy="785.6" r="5.7"/><circle cx="664.6" cy="785.6" r="5.7"/><circle cx="667.9" cy="785.6" r="5.7"/><circle cx="671.2" cy="785.6" r="5.7"/><circle cx="639.1" cy="789.9" r="5.7"/><circle cx="642.2" cy="789.9" r="5.7"/><circle cx="645.3" cy="789.9" r="5.7"/><circle cx="648.5" cy="789.9" r="5.7"/><circle cx="651.6" cy="789.9" r="5.7"/><circle cx="654.7" cy="789.9" r="5.7"/><circle cx="657.8" cy="789.9" r="5.7"/><circle cx="660.9" cy="789.9" r="5.7"/><circle cx="664.1" cy="789.9" r="5.7"/><circle cx="667.2" cy="789.9" r="5.7"/><circle cx="670.3" cy="789.9" r="5.7"/><circle cx="640.7" cy="794.2" r="5.7"/><circle cx="643.8" cy="794.2" r="5.7"/><circle cx="646.9" cy="794.2" r="5.7"/><circle cx="650" cy="794.2" r="5.7"/><circle cx="653.1" cy="794.2" r="5.7"/><circle cx="656.3" cy="794.2" r="5.7"/><circle cx="659.4" cy="794.2" r="5.7"/><circle cx="662.5" cy="794.2" r="5.7"/><circle cx="665.6" cy="794.2" r="5.7"/><circle cx="668.7" cy="794.2" r="5.7"/><circle cx="644.1" cy="798.5" r="5.7"/><circle cx="647.1" cy="798.5" r="5.7"/><circle cx="650.2" cy="798.5" r="5.7"/><circle cx="653.2" cy="798.5" r="5.7"/><circle cx="656.2" cy="798.5" r="5.7"/><circle cx="659.2" cy="798.5" r="5.7"/><circle cx="662.3" cy="798.5" r="5.7"/><circle cx="665.3" cy="798.5" r="5.7"/><circle cx="649.8" cy="802.8" r="5.7"/><circle cx="653.1" cy="802.8" r="5.7"/><circle cx="656.3" cy="802.8" r="5.7"/><circle cx="659.6" cy="802.8" r="5.7"/><circle cx="654.7" cy="807.1" r="5.7"/><circle cx="654.7" cy="811.4" r="5.7"/><circle cx="663.1" cy="673.5" r="5.7"/><circle cx="645.9" cy="690.2" r="5.7"/><circle cx="645.9" cy="711.8" r="5.7"/><circle cx="663.1" cy="711.8" r="5.7"/><circle cx="647.9" cy="719" r="5.7"/><circle cx="661.1" cy="721" r="5.7"/><circle cx="643.3" cy="733.4" r="5.7"/><circle cx="665.7" cy="733.4" r="5.7"/><circle cx="639.3" cy="746" r="5.7"/><circle cx="669.7" cy="750.1" r="5.7"/><circle cx="652.7" cy="736.8" r="5.7"/><circle cx="649.7" cy="743.7" r="5.7"/><circle cx="660.7" cy="741.4" r="5.7"/><circle cx="641.7" cy="755.3" r="5.7"/><circle cx="654.7" cy="751.2" r="5.7"/><circle cx="666.7" cy="758.7" r="5.7"/><circle cx="648.7" cy="757" r="5.7"/><circle cx="659.7" cy="759.9" r="5.7"/><circle cx="638.7" cy="763.9" r="5.7"/><circle cx="670.7" cy="765.6" r="5.7"/><circle cx="645.7" cy="765.6" r="5.7"/><circle cx="663.7" cy="766.8" r="5.7"/><circle cx="654.7" cy="764.5" r="5.7"/>
</g>
<line x1="636.7" y1="778.8" x2="672.7" y2="778.8" stroke="#000" stroke-width="1.7"/>
<line x1="641.2" y1="775.1" x2="668.2" y2="775.1" stroke="#000" stroke-width="1.4"/>
<line x1="641.2" y1="782.5" x2="668.2" y2="782.5" stroke="#000" stroke-width="1.4"/>
<line x1="654.7" y1="775.1" x2="654.7" y2="782.5" stroke="#000" stroke-width="1.4"/>
<text x="654" y="649" text-anchor="middle" font-size="28.5">**</text>
<text x="511.8" y="874.5" text-anchor="end" transform="rotate(-45 511.8 874.5)">Saline</text>
<text x="593.8" y="874.5" text-anchor="end" transform="rotate(-45 593.8 874.5)">BzATP</text>
<text x="678.5" y="874.5" text-anchor="end" transform="rotate(-45 678.5 874.5)">ATP</text>
<!-- panel h -->
<text x="793" y="531.5" class="pl">h</text>
<text transform="translate(829 786) rotate(-90)">Correlation</text>
<line x1="880.2" y1="769.8" x2="1143.4" y2="769.8" stroke="#000" stroke-width="1.8"/>
<line x1="936" y1="769.8" x2="936" y2="776.8" stroke="#000" stroke-width="1.8"/>
<line x1="1016" y1="769.8" x2="1016" y2="776.8" stroke="#000" stroke-width="1.8"/>
<line x1="1096.2" y1="769.8" x2="1096.2" y2="776.8" stroke="#000" stroke-width="1.8"/>
<path d="M920.8 625.7l4.6 -10.3l-9.2 0zM923.4 625.7l4.6 -10.3l-9.2 0zM926 625.7l4.6 -10.3l-9.2 0zM928.6 625.7l4.6 -10.3l-9.2 0zM931.2 625.7l4.6 -10.3l-9.2 0zM933.8 625.7l4.6 -10.3l-9.2 0zM936.4 625.7l4.6 -10.3l-9.2 0zM939 625.7l4.6 -10.3l-9.2 0zM941.6 625.7l4.6 -10.3l-9.2 0zM944.2 625.7l4.6 -10.3l-9.2 0zM946.8 625.7l4.6 -10.3l-9.2 0zM949.4 625.7l4.6 -10.3l-9.2 0zM952 625.7l4.6 -10.3l-9.2 0zM922.2 630l4.6 -10.3l-9.2 0zM924.8 630l4.6 -10.3l-9.2 0zM927.4 630l4.6 -10.3l-9.2 0zM929.9 630l4.6 -10.3l-9.2 0zM932.5 630l4.6 -10.3l-9.2 0zM935.1 630l4.6 -10.3l-9.2 0zM937.7 630l4.6 -10.3l-9.2 0zM940.3 630l4.6 -10.3l-9.2 0zM942.9 630l4.6 -10.3l-9.2 0zM945.4 630l4.6 -10.3l-9.2 0zM948 630l4.6 -10.3l-9.2 0zM950.6 630l4.6 -10.3l-9.2 0zM925.1 634.3l4.6 -10.3l-9.2 0zM927.6 634.3l4.6 -10.3l-9.2 0zM930.1 634.3l4.6 -10.3l-9.2 0zM932.6 634.3l4.6 -10.3l-9.2 0zM935.1 634.3l4.6 -10.3l-9.2 0zM937.7 634.3l4.6 -10.3l-9.2 0zM940.2 634.3l4.6 -10.3l-9.2 0zM942.7 634.3l4.6 -10.3l-9.2 0zM945.2 634.3l4.6 -10.3l-9.2 0zM947.7 634.3l4.6 -10.3l-9.2 0zM928.9 638.7l4.6 -10.3l-9.2 0zM931.4 638.7l4.6 -10.3l-9.2 0zM933.9 638.7l4.6 -10.3l-9.2 0zM936.4 638.7l4.6 -10.3l-9.2 0zM938.9 638.7l4.6 -10.3l-9.2 0zM941.4 638.7l4.6 -10.3l-9.2 0zM943.9 638.7l4.6 -10.3l-9.2 0zM932.6 643l4.6 -10.3l-9.2 0zM935.1 643l4.6 -10.3l-9.2 0zM937.7 643l4.6 -10.3l-9.2 0zM940.2 643l4.6 -10.3l-9.2 0zM936.4 647.3l4.6 -10.3l-9.2 0zM936.4 651.7l4.6 -10.3l-9.2 0zM919.8 670.7l4.6 -10.3l-9.2 0zM922.5 670.7l4.6 -10.3l-9.2 0zM925.3 670.7l4.6 -10.3l-9.2 0zM928.1 670.7l4.6 -10.3l-9.2 0zM930.9 670.7l4.6 -10.3l-9.2 0zM933.6 670.7l4.6 -10.3l-9.2 0zM936.4 670.7l4.6 -10.3l-9.2 0zM939.2 670.7l4.6 -10.3l-9.2 0zM942 670.7l4.6 -10.3l-9.2 0zM944.7 670.7l4.6 -10.3l-9.2 0zM947.5 670.7l4.6 -10.3l-9.2 0zM950.3 670.7l4.6 -10.3l-9.2 0zM953 670.7l4.6 -10.3l-9.2 0zM922.3 674.8l4.6 -10.3l-9.2 0zM924.8 674.8l4.6 -10.3l-9.2 0zM927.4 674.8l4.6 -10.3l-9.2 0zM930 674.8l4.6 -10.3l-9.2 0zM932.5 674.8l4.6 -10.3l-9.2 0zM935.1 674.8l4.6 -10.3l-9.2 0zM937.7 674.8l4.6 -10.3l-9.2 0zM940.3 674.8l4.6 -10.3l-9.2 0zM942.8 674.8l4.6 -10.3l-9.2 0zM945.4 674.8l4.6 -10.3l-9.2 0zM948 674.8l4.6 -10.3l-9.2 0zM950.5 674.8l4.6 -10.3l-9.2 0zM921.1 679l4.6 -10.3l-9.2 0zM923.9 679l4.6 -10.3l-9.2 0zM926.6 679l4.6 -10.3l-9.2 0zM929.4 679l4.6 -10.3l-9.2 0zM932.2 679l4.6 -10.3l-9.2 0zM935 679l4.6 -10.3l-9.2 0zM937.8 679l4.6 -10.3l-9.2 0zM940.6 679l4.6 -10.3l-9.2 0zM943.4 679l4.6 -10.3l-9.2 0zM946.2 679l4.6 -10.3l-9.2 0zM948.9 679l4.6 -10.3l-9.2 0zM951.7 679l4.6 -10.3l-9.2 0zM920.5 683.2l4.6 -10.3l-9.2 0zM923.2 683.2l4.6 -10.3l-9.2 0zM925.8 683.2l4.6 -10.3l-9.2 0zM928.5 683.2l4.6 -10.3l-9.2 0zM931.1 683.2l4.6 -10.3l-9.2 0zM933.8 683.2l4.6 -10.3l-9.2 0zM936.4 683.2l4.6 -10.3l-9.2 0zM939 683.2l4.6 -10.3l-9.2 0zM941.7 683.2l4.6 -10.3l-9.2 0zM944.3 683.2l4.6 -10.3l-9.2 0zM947 683.2l4.6 -10.3l-9.2 0zM949.6 683.2l4.6 -10.3l-9.2 0zM952.3 683.2l4.6 -10.3l-9.2 0zM922.6 687.4l4.6 -10.3l-9.2 0zM925.4 687.4l4.6 -10.3l-9.2 0zM928.1 687.4l4.6 -10.3l-9.2 0zM930.9 687.4l4.6 -10.3l-9.2 0zM933.6 687.4l4.6 -10.3l-9.2 0zM936.4 687.4l4.6 -10.3l-9.2 0zM939.2 687.4l4.6 -10.3l-9.2 0zM941.9 687.4l4.6 -10.3l-9.2 0zM944.7 687.4l4.6 -10.3l-9.2 0zM947.4 687.4l4.6 -10.3l-9.2 0zM950.2 687.4l4.6 -10.3l-9.2 0zM921.1 691.5l4.6 -10.3l-9.2 0zM923.9 691.5l4.6 -10.3l-9.2 0zM926.7 691.5l4.6 -10.3l-9.2 0zM929.4 691.5l4.6 -10.3l-9.2 0zM932.2 691.5l4.6 -10.3l-9.2 0zM935 691.5l4.6 -10.3l-9.2 0zM937.8 691.5l4.6 -10.3l-9.2 0zM940.6 691.5l4.6 -10.3l-9.2 0zM943.4 691.5l4.6 -10.3l-9.2 0zM946.1 691.5l4.6 -10.3l-9.2 0zM948.9 691.5l4.6 -10.3l-9.2 0zM951.7 691.5l4.6 -10.3l-9.2 0zM919.4 695.7l4.6 -10.3l-9.2 0zM922 695.7l4.6 -10.3l-9.2 0zM924.6 695.7l4.6 -10.3l-9.2 0zM927.2 695.7l4.6 -10.3l-9.2 0zM929.8 695.7l4.6 -10.3l-9.2 0zM932.5 695.7l4.6 -10.3l-9.2 0zM935.1 695.7l4.6 -10.3l-9.2 0zM937.7 695.7l4.6 -10.3l-9.2 0zM940.3 695.7l4.6 -10.3l-9.2 0zM943 695.7l4.6 -10.3l-9.2 0zM945.6 695.7l4.6 -10.3l-9.2 0zM948.2 695.7l4.6 -10.3l-9.2 0zM950.8 695.7l4.6 -10.3l-9.2 0zM953.4 695.7l4.6 -10.3l-9.2 0zM920.4 699.9l4.6 -10.3l-9.2 0zM923 699.9l4.6 -10.3l-9.2 0zM925.7 699.9l4.6 -10.3l-9.2 0zM928.4 699.9l4.6 -10.3l-9.2 0zM931.1 699.9l4.6 -10.3l-9.2 0zM933.7 699.9l4.6 -10.3l-9.2 0zM936.4 699.9l4.6 -10.3l-9.2 0zM939.1 699.9l4.6 -10.3l-9.2 0zM941.7 699.9l4.6 -10.3l-9.2 0zM944.4 699.9l4.6 -10.3l-9.2 0zM947.1 699.9l4.6 -10.3l-9.2 0zM949.8 699.9l4.6 -10.3l-9.2 0zM952.4 699.9l4.6 -10.3l-9.2 0zM921.4 704.1l4.6 -10.3l-9.2 0zM924.1 704.1l4.6 -10.3l-9.2 0zM926.8 704.1l4.6 -10.3l-9.2 0zM929.6 704.1l4.6 -10.3l-9.2 0zM932.3 704.1l4.6 -10.3l-9.2 0zM935 704.1l4.6 -10.3l-9.2 0zM937.8 704.1l4.6 -10.3l-9.2 0zM940.5 704.1l4.6 -10.3l-9.2 0zM943.2 704.1l4.6 -10.3l-9.2 0zM946 704.1l4.6 -10.3l-9.2 0zM948.7 704.1l4.6 -10.3l-9.2 0zM951.4 704.1l4.6 -10.3l-9.2 0zM922.8 708.3l4.6 -10.3l-9.2 0zM925.5 708.3l4.6 -10.3l-9.2 0zM928.2 708.3l4.6 -10.3l-9.2 0zM931 708.3l4.6 -10.3l-9.2 0zM933.7 708.3l4.6 -10.3l-9.2 0zM936.4 708.3l4.6 -10.3l-9.2 0zM939.1 708.3l4.6 -10.3l-9.2 0zM941.8 708.3l4.6 -10.3l-9.2 0zM944.6 708.3l4.6 -10.3l-9.2 0zM947.3 708.3l4.6 -10.3l-9.2 0zM950 708.3l4.6 -10.3l-9.2 0zM924.5 712.4l4.6 -10.3l-9.2 0zM927.1 712.4l4.6 -10.3l-9.2 0zM929.8 712.4l4.6 -10.3l-9.2 0zM932.4 712.4l4.6 -10.3l-9.2 0zM935.1 712.4l4.6 -10.3l-9.2 0zM937.7 712.4l4.6 -10.3l-9.2 0zM940.4 712.4l4.6 -10.3l-9.2 0zM943 712.4l4.6 -10.3l-9.2 0zM945.7 712.4l4.6 -10.3l-9.2 0zM948.3 712.4l4.6 -10.3l-9.2 0zM926 716.6l4.6 -10.3l-9.2 0zM928.6 716.6l4.6 -10.3l-9.2 0zM931.2 716.6l4.6 -10.3l-9.2 0zM933.8 716.6l4.6 -10.3l-9.2 0zM936.4 716.6l4.6 -10.3l-9.2 0zM939 716.6l4.6 -10.3l-9.2 0zM941.6 716.6l4.6 -10.3l-9.2 0zM944.2 716.6l4.6 -10.3l-9.2 0zM946.8 716.6l4.6 -10.3l-9.2 0zM927 720.8l4.6 -10.3l-9.2 0zM929.7 720.8l4.6 -10.3l-9.2 0zM932.4 720.8l4.6 -10.3l-9.2 0zM935.1 720.8l4.6 -10.3l-9.2 0zM937.7 720.8l4.6 -10.3l-9.2 0zM940.4 720.8l4.6 -10.3l-9.2 0zM943.1 720.8l4.6 -10.3l-9.2 0zM945.8 720.8l4.6 -10.3l-9.2 0zM922.3 725l4.6 -10.3l-9.2 0zM924.9 725l4.6 -10.3l-9.2 0zM927.4 725l4.6 -10.3l-9.2 0zM930 725l4.6 -10.3l-9.2 0zM932.6 725l4.6 -10.3l-9.2 0zM935.1 725l4.6 -10.3l-9.2 0zM937.7 725l4.6 -10.3l-9.2 0zM940.2 725l4.6 -10.3l-9.2 0zM942.8 725l4.6 -10.3l-9.2 0zM945.4 725l4.6 -10.3l-9.2 0zM947.9 725l4.6 -10.3l-9.2 0zM950.5 725l4.6 -10.3l-9.2 0zM920.4 729.1l4.6 -10.3l-9.2 0zM923.1 729.1l4.6 -10.3l-9.2 0zM925.7 729.1l4.6 -10.3l-9.2 0zM928.4 729.1l4.6 -10.3l-9.2 0zM931.1 729.1l4.6 -10.3l-9.2 0zM933.7 729.1l4.6 -10.3l-9.2 0zM936.4 729.1l4.6 -10.3l-9.2 0zM939.1 729.1l4.6 -10.3l-9.2 0zM941.7 729.1l4.6 -10.3l-9.2 0zM944.4 729.1l4.6 -10.3l-9.2 0zM947.1 729.1l4.6 -10.3l-9.2 0zM949.7 729.1l4.6 -10.3l-9.2 0zM952.4 729.1l4.6 -10.3l-9.2 0zM921.6 733.3l4.6 -10.3l-9.2 0zM924.3 733.3l4.6 -10.3l-9.2 0zM927 733.3l4.6 -10.3l-9.2 0zM929.7 733.3l4.6 -10.3l-9.2 0zM932.4 733.3l4.6 -10.3l-9.2 0zM935.1 733.3l4.6 -10.3l-9.2 0zM937.7 733.3l4.6 -10.3l-9.2 0zM940.4 733.3l4.6 -10.3l-9.2 0zM943.1 733.3l4.6 -10.3l-9.2 0zM945.8 733.3l4.6 -10.3l-9.2 0zM948.5 733.3l4.6 -10.3l-9.2 0zM951.2 733.3l4.6 -10.3l-9.2 0zM923.2 737.5l4.6 -10.3l-9.2 0zM925.8 737.5l4.6 -10.3l-9.2 0zM928.5 737.5l4.6 -10.3l-9.2 0zM931.1 737.5l4.6 -10.3l-9.2 0zM933.8 737.5l4.6 -10.3l-9.2 0zM936.4 737.5l4.6 -10.3l-9.2 0zM939 737.5l4.6 -10.3l-9.2 0zM941.7 737.5l4.6 -10.3l-9.2 0zM944.3 737.5l4.6 -10.3l-9.2 0zM947 737.5l4.6 -10.3l-9.2 0zM949.6 737.5l4.6 -10.3l-9.2 0zM924.8 741.7l4.6 -10.3l-9.2 0zM927.3 741.7l4.6 -10.3l-9.2 0zM929.9 741.7l4.6 -10.3l-9.2 0zM932.5 741.7l4.6 -10.3l-9.2 0zM935.1 741.7l4.6 -10.3l-9.2 0zM937.7 741.7l4.6 -10.3l-9.2 0zM940.3 741.7l4.6 -10.3l-9.2 0zM942.9 741.7l4.6 -10.3l-9.2 0zM945.5 741.7l4.6 -10.3l-9.2 0zM948 741.7l4.6 -10.3l-9.2 0zM923.8 747.7l4.6 -10.3l-9.2 0zM932.2 747.7l4.6 -10.3l-9.2 0zM940.6 747.7l4.6 -10.3l-9.2 0zM949 747.7l4.6 -10.3l-9.2 0zM924.5 753.7l4.6 -10.3l-9.2 0zM932.4 753.7l4.6 -10.3l-9.2 0zM940.4 753.7l4.6 -10.3l-9.2 0zM948.3 753.7l4.6 -10.3l-9.2 0zM925.5 759.7l4.6 -10.3l-9.2 0zM932.8 759.7l4.6 -10.3l-9.2 0zM940 759.7l4.6 -10.3l-9.2 0zM947.2 759.7l4.6 -10.3l-9.2 0zM926.8 765.7l4.6 -10.3l-9.2 0zM933.2 765.7l4.6 -10.3l-9.2 0zM939.6 765.7l4.6 -10.3l-9.2 0zM946 765.7l4.6 -10.3l-9.2 0zM931.8 771.7l4.6 -10.3l-9.2 0zM936.4 771.7l4.6 -10.3l-9.2 0zM941 771.7l4.6 -10.3l-9.2 0zM922.4 655.7l4.6 -10.3l-9.2 0zM951.4 652.4l4.6 -10.3l-9.2 0zM931.4 660.7l4.6 -10.3l-9.2 0zM942.4 662.7l4.6 -10.3l-9.2 0zM929.9 773.7l4.6 -10.3l-9.2 0zM942.2 780.7l4.6 -10.3l-9.2 0zM936.4 808l4.6 -10.3l-9.2 0z" fill="none" stroke="#6a6a6c" stroke-width="2.1" stroke-linejoin="miter"/>
<line x1="917.4" y1="693.7" x2="955.4" y2="693.7" stroke="#000" stroke-width="1.6"/>
<line x1="923.4" y1="691.1" x2="949.4" y2="691.1" stroke="#000" stroke-width="1.3"/>
<line x1="923.4" y1="696.3" x2="949.4" y2="696.3" stroke="#000" stroke-width="1.3"/>
<line x1="936.4" y1="691.1" x2="936.4" y2="696.3" stroke="#000" stroke-width="1.3"/>
<path d="M1001.4 638.7l4.6 -10.3l-9.2 0zM1007.2 638.7l4.6 -10.3l-9.2 0zM1013.1 638.7l4.6 -10.3l-9.2 0zM1018.9 638.7l4.6 -10.3l-9.2 0zM1024.8 638.7l4.6 -10.3l-9.2 0zM1030.7 638.7l4.6 -10.3l-9.2 0zM1001.9 643.9l4.6 -10.3l-9.2 0zM1007.6 643.9l4.6 -10.3l-9.2 0zM1013.2 643.9l4.6 -10.3l-9.2 0zM1018.8 643.9l4.6 -10.3l-9.2 0zM1024.4 643.9l4.6 -10.3l-9.2 0zM1030.1 643.9l4.6 -10.3l-9.2 0zM1002.2 649.1l4.6 -10.3l-9.2 0zM1009.1 649.1l4.6 -10.3l-9.2 0zM1016 649.1l4.6 -10.3l-9.2 0zM1022.9 649.1l4.6 -10.3l-9.2 0zM1029.8 649.1l4.6 -10.3l-9.2 0zM1001.7 654.3l4.6 -10.3l-9.2 0zM1007.4 654.3l4.6 -10.3l-9.2 0zM1013.1 654.3l4.6 -10.3l-9.2 0zM1018.9 654.3l4.6 -10.3l-9.2 0zM1024.6 654.3l4.6 -10.3l-9.2 0zM1030.3 654.3l4.6 -10.3l-9.2 0zM1001.9 659.5l4.6 -10.3l-9.2 0zM1007.5 659.5l4.6 -10.3l-9.2 0zM1013.2 659.5l4.6 -10.3l-9.2 0zM1018.8 659.5l4.6 -10.3l-9.2 0zM1024.5 659.5l4.6 -10.3l-9.2 0zM1030.1 659.5l4.6 -10.3l-9.2 0zM1003.4 664.7l4.6 -10.3l-9.2 0zM1009.7 664.7l4.6 -10.3l-9.2 0zM1016 664.7l4.6 -10.3l-9.2 0zM1022.3 664.7l4.6 -10.3l-9.2 0zM1028.7 664.7l4.6 -10.3l-9.2 0zM998.9 670.2l4.6 -10.3l-9.2 0zM1001.5 670.2l4.6 -10.3l-9.2 0zM1004.1 670.2l4.6 -10.3l-9.2 0zM1006.8 670.2l4.6 -10.3l-9.2 0zM1009.4 670.2l4.6 -10.3l-9.2 0zM1012 670.2l4.6 -10.3l-9.2 0zM1014.7 670.2l4.6 -10.3l-9.2 0zM1017.3 670.2l4.6 -10.3l-9.2 0zM1020 670.2l4.6 -10.3l-9.2 0zM1022.6 670.2l4.6 -10.3l-9.2 0zM1025.2 670.2l4.6 -10.3l-9.2 0zM1027.9 670.2l4.6 -10.3l-9.2 0zM1030.5 670.2l4.6 -10.3l-9.2 0zM1033.2 670.2l4.6 -10.3l-9.2 0zM1000.7 674.4l4.6 -10.3l-9.2 0zM1003.5 674.4l4.6 -10.3l-9.2 0zM1006.3 674.4l4.6 -10.3l-9.2 0zM1009.1 674.4l4.6 -10.3l-9.2 0zM1011.8 674.4l4.6 -10.3l-9.2 0zM1014.6 674.4l4.6 -10.3l-9.2 0zM1017.4 674.4l4.6 -10.3l-9.2 0zM1020.2 674.4l4.6 -10.3l-9.2 0zM1022.9 674.4l4.6 -10.3l-9.2 0zM1025.7 674.4l4.6 -10.3l-9.2 0zM1028.5 674.4l4.6 -10.3l-9.2 0zM1031.3 674.4l4.6 -10.3l-9.2 0zM1002.6 678.6l4.6 -10.3l-9.2 0zM1005.3 678.6l4.6 -10.3l-9.2 0zM1008 678.6l4.6 -10.3l-9.2 0zM1010.7 678.6l4.6 -10.3l-9.2 0zM1013.3 678.6l4.6 -10.3l-9.2 0zM1016 678.6l4.6 -10.3l-9.2 0zM1018.7 678.6l4.6 -10.3l-9.2 0zM1021.3 678.6l4.6 -10.3l-9.2 0zM1024 678.6l4.6 -10.3l-9.2 0zM1026.7 678.6l4.6 -10.3l-9.2 0zM1029.4 678.6l4.6 -10.3l-9.2 0zM1004.5 682.9l4.6 -10.3l-9.2 0zM1007.1 682.9l4.6 -10.3l-9.2 0zM1009.6 682.9l4.6 -10.3l-9.2 0zM1012.2 682.9l4.6 -10.3l-9.2 0zM1014.7 682.9l4.6 -10.3l-9.2 0zM1017.3 682.9l4.6 -10.3l-9.2 0zM1019.8 682.9l4.6 -10.3l-9.2 0zM1022.4 682.9l4.6 -10.3l-9.2 0zM1024.9 682.9l4.6 -10.3l-9.2 0zM1027.5 682.9l4.6 -10.3l-9.2 0zM999 687.1l4.6 -10.3l-9.2 0zM1001.6 687.1l4.6 -10.3l-9.2 0zM1004.2 687.1l4.6 -10.3l-9.2 0zM1006.8 687.1l4.6 -10.3l-9.2 0zM1009.5 687.1l4.6 -10.3l-9.2 0zM1012.1 687.1l4.6 -10.3l-9.2 0zM1014.7 687.1l4.6 -10.3l-9.2 0zM1017.3 687.1l4.6 -10.3l-9.2 0zM1019.9 687.1l4.6 -10.3l-9.2 0zM1022.5 687.1l4.6 -10.3l-9.2 0zM1025.2 687.1l4.6 -10.3l-9.2 0zM1027.8 687.1l4.6 -10.3l-9.2 0zM1030.4 687.1l4.6 -10.3l-9.2 0zM1033 687.1l4.6 -10.3l-9.2 0zM1000.5 691.3l4.6 -10.3l-9.2 0zM1003 691.3l4.6 -10.3l-9.2 0zM1005.6 691.3l4.6 -10.3l-9.2 0zM1008.2 691.3l4.6 -10.3l-9.2 0zM1010.8 691.3l4.6 -10.3l-9.2 0zM1013.4 691.3l4.6 -10.3l-9.2 0zM1016 691.3l4.6 -10.3l-9.2 0zM1018.6 691.3l4.6 -10.3l-9.2 0zM1021.2 691.3l4.6 -10.3l-9.2 0zM1023.8 691.3l4.6 -10.3l-9.2 0zM1026.4 691.3l4.6 -10.3l-9.2 0zM1029 691.3l4.6 -10.3l-9.2 0zM1031.5 691.3l4.6 -10.3l-9.2 0zM1001.9 695.6l4.6 -10.3l-9.2 0zM1004.5 695.6l4.6 -10.3l-9.2 0zM1007 695.6l4.6 -10.3l-9.2 0zM1009.6 695.6l4.6 -10.3l-9.2 0zM1012.2 695.6l4.6 -10.3l-9.2 0zM1014.7 695.6l4.6 -10.3l-9.2 0zM1017.3 695.6l4.6 -10.3l-9.2 0zM1019.8 695.6l4.6 -10.3l-9.2 0zM1022.4 695.6l4.6 -10.3l-9.2 0zM1025 695.6l4.6 -10.3l-9.2 0zM1027.5 695.6l4.6 -10.3l-9.2 0zM1030.1 695.6l4.6 -10.3l-9.2 0zM1003.4 699.8l4.6 -10.3l-9.2 0zM1005.9 699.8l4.6 -10.3l-9.2 0zM1008.4 699.8l4.6 -10.3l-9.2 0zM1010.9 699.8l4.6 -10.3l-9.2 0zM1013.5 699.8l4.6 -10.3l-9.2 0zM1016 699.8l4.6 -10.3l-9.2 0zM1018.5 699.8l4.6 -10.3l-9.2 0zM1021.1 699.8l4.6 -10.3l-9.2 0zM1023.6 699.8l4.6 -10.3l-9.2 0zM1026.1 699.8l4.6 -10.3l-9.2 0zM1028.6 699.8l4.6 -10.3l-9.2 0zM1004.8 704.1l4.6 -10.3l-9.2 0zM1007.6 704.1l4.6 -10.3l-9.2 0zM1010.4 704.1l4.6 -10.3l-9.2 0zM1013.2 704.1l4.6 -10.3l-9.2 0zM1016 704.1l4.6 -10.3l-9.2 0zM1018.8 704.1l4.6 -10.3l-9.2 0zM1021.6 704.1l4.6 -10.3l-9.2 0zM1024.4 704.1l4.6 -10.3l-9.2 0zM1027.2 704.1l4.6 -10.3l-9.2 0zM999 708.3l4.6 -10.3l-9.2 0zM1001.6 708.3l4.6 -10.3l-9.2 0zM1004.2 708.3l4.6 -10.3l-9.2 0zM1006.8 708.3l4.6 -10.3l-9.2 0zM1009.5 708.3l4.6 -10.3l-9.2 0zM1012.1 708.3l4.6 -10.3l-9.2 0zM1014.7 708.3l4.6 -10.3l-9.2 0zM1017.3 708.3l4.6 -10.3l-9.2 0zM1019.9 708.3l4.6 -10.3l-9.2 0zM1022.5 708.3l4.6 -10.3l-9.2 0zM1025.2 708.3l4.6 -10.3l-9.2 0zM1027.8 708.3l4.6 -10.3l-9.2 0zM1030.4 708.3l4.6 -10.3l-9.2 0zM1033 708.3l4.6 -10.3l-9.2 0zM1000.7 712.5l4.6 -10.3l-9.2 0zM1003.5 712.5l4.6 -10.3l-9.2 0zM1006.3 712.5l4.6 -10.3l-9.2 0zM1009 712.5l4.6 -10.3l-9.2 0zM1011.8 712.5l4.6 -10.3l-9.2 0zM1014.6 712.5l4.6 -10.3l-9.2 0zM1017.4 712.5l4.6 -10.3l-9.2 0zM1020.2 712.5l4.6 -10.3l-9.2 0zM1023 712.5l4.6 -10.3l-9.2 0zM1025.7 712.5l4.6 -10.3l-9.2 0zM1028.5 712.5l4.6 -10.3l-9.2 0zM1031.3 712.5l4.6 -10.3l-9.2 0zM1002.4 716.8l4.6 -10.3l-9.2 0zM1005.1 716.8l4.6 -10.3l-9.2 0zM1007.8 716.8l4.6 -10.3l-9.2 0zM1010.6 716.8l4.6 -10.3l-9.2 0zM1013.3 716.8l4.6 -10.3l-9.2 0zM1016 716.8l4.6 -10.3l-9.2 0zM1018.7 716.8l4.6 -10.3l-9.2 0zM1021.4 716.8l4.6 -10.3l-9.2 0zM1024.2 716.8l4.6 -10.3l-9.2 0zM1026.9 716.8l4.6 -10.3l-9.2 0zM1029.6 716.8l4.6 -10.3l-9.2 0zM1004.1 721l4.6 -10.3l-9.2 0zM1006.7 721l4.6 -10.3l-9.2 0zM1009.4 721l4.6 -10.3l-9.2 0zM1012 721l4.6 -10.3l-9.2 0zM1014.7 721l4.6 -10.3l-9.2 0zM1017.3 721l4.6 -10.3l-9.2 0zM1020 721l4.6 -10.3l-9.2 0zM1022.6 721l4.6 -10.3l-9.2 0zM1025.3 721l4.6 -10.3l-9.2 0zM1027.9 721l4.6 -10.3l-9.2 0zM999 725.2l4.6 -10.3l-9.2 0zM1001.6 725.2l4.6 -10.3l-9.2 0zM1004.2 725.2l4.6 -10.3l-9.2 0zM1006.8 725.2l4.6 -10.3l-9.2 0zM1009.5 725.2l4.6 -10.3l-9.2 0zM1012.1 725.2l4.6 -10.3l-9.2 0zM1014.7 725.2l4.6 -10.3l-9.2 0zM1017.3 725.2l4.6 -10.3l-9.2 0zM1019.9 725.2l4.6 -10.3l-9.2 0zM1022.5 725.2l4.6 -10.3l-9.2 0zM1025.2 725.2l4.6 -10.3l-9.2 0zM1027.8 725.2l4.6 -10.3l-9.2 0zM1030.4 725.2l4.6 -10.3l-9.2 0zM1033 725.2l4.6 -10.3l-9.2 0zM1000.1 729.5l4.6 -10.3l-9.2 0zM1002.8 729.5l4.6 -10.3l-9.2 0zM1005.4 729.5l4.6 -10.3l-9.2 0zM1008.1 729.5l4.6 -10.3l-9.2 0zM1010.7 729.5l4.6 -10.3l-9.2 0zM1013.4 729.5l4.6 -10.3l-9.2 0zM1016 729.5l4.6 -10.3l-9.2 0zM1018.6 729.5l4.6 -10.3l-9.2 0zM1021.3 729.5l4.6 -10.3l-9.2 0zM1023.9 729.5l4.6 -10.3l-9.2 0zM1026.6 729.5l4.6 -10.3l-9.2 0zM1029.2 729.5l4.6 -10.3l-9.2 0zM1031.9 729.5l4.6 -10.3l-9.2 0zM1001.2 733.7l4.6 -10.3l-9.2 0zM1003.9 733.7l4.6 -10.3l-9.2 0zM1006.6 733.7l4.6 -10.3l-9.2 0zM1009.3 733.7l4.6 -10.3l-9.2 0zM1012 733.7l4.6 -10.3l-9.2 0zM1014.7 733.7l4.6 -10.3l-9.2 0zM1017.3 733.7l4.6 -10.3l-9.2 0zM1020 733.7l4.6 -10.3l-9.2 0zM1022.7 733.7l4.6 -10.3l-9.2 0zM1025.4 733.7l4.6 -10.3l-9.2 0zM1028.1 733.7l4.6 -10.3l-9.2 0zM1030.8 733.7l4.6 -10.3l-9.2 0zM1005.7 738l4.6 -10.3l-9.2 0zM1008.3 738l4.6 -10.3l-9.2 0zM1010.9 738l4.6 -10.3l-9.2 0zM1013.4 738l4.6 -10.3l-9.2 0zM1016 738l4.6 -10.3l-9.2 0zM1018.6 738l4.6 -10.3l-9.2 0zM1021.1 738l4.6 -10.3l-9.2 0zM1023.7 738l4.6 -10.3l-9.2 0zM1026.3 738l4.6 -10.3l-9.2 0zM1010.8 742.2l4.6 -10.3l-9.2 0zM1013.4 742.2l4.6 -10.3l-9.2 0zM1016 742.2l4.6 -10.3l-9.2 0zM1018.6 742.2l4.6 -10.3l-9.2 0zM1021.2 742.2l4.6 -10.3l-9.2 0zM1015.1 746.4l4.6 -10.3l-9.2 0zM1016.9 746.4l4.6 -10.3l-9.2 0zM1016 750.7l4.6 -10.3l-9.2 0zM1004.5 757.9l4.6 -10.3l-9.2 0zM1012.5 762.9l4.6 -10.3l-9.2 0zM1021.2 760.4l4.6 -10.3l-9.2 0zM1029.2 757.9l4.6 -10.3l-9.2 0zM1024.8 750.7l4.6 -10.3l-9.2 0zM1006.3 753.4l4.6 -10.3l-9.2 0z" fill="none" stroke="#a97c50" stroke-width="2.1" stroke-linejoin="miter"/>
<line x1="997" y1="693.7" x2="1035" y2="693.7" stroke="#000" stroke-width="1.6"/>
<line x1="1003" y1="691.9" x2="1029" y2="691.9" stroke="#000" stroke-width="1.3"/>
<line x1="1003" y1="695.5" x2="1029" y2="695.5" stroke="#000" stroke-width="1.3"/>
<line x1="1016" y1="691.9" x2="1016" y2="695.5" stroke="#000" stroke-width="1.3"/>
<path d="M1082.8 615.7l4.6 -10.3l-9.2 0zM1085.5 615.7l4.6 -10.3l-9.2 0zM1088.2 615.7l4.6 -10.3l-9.2 0zM1090.9 615.7l4.6 -10.3l-9.2 0zM1093.7 615.7l4.6 -10.3l-9.2 0zM1096.4 615.7l4.6 -10.3l-9.2 0zM1099.1 615.7l4.6 -10.3l-9.2 0zM1101.9 615.7l4.6 -10.3l-9.2 0zM1104.6 615.7l4.6 -10.3l-9.2 0zM1107.3 615.7l4.6 -10.3l-9.2 0zM1110 615.7l4.6 -10.3l-9.2 0zM1080.1 619.8l4.6 -10.3l-9.2 0zM1082.9 619.8l4.6 -10.3l-9.2 0zM1085.6 619.8l4.6 -10.3l-9.2 0zM1088.3 619.8l4.6 -10.3l-9.2 0zM1091 619.8l4.6 -10.3l-9.2 0zM1093.7 619.8l4.6 -10.3l-9.2 0zM1096.4 619.8l4.6 -10.3l-9.2 0zM1099.1 619.8l4.6 -10.3l-9.2 0zM1101.8 619.8l4.6 -10.3l-9.2 0zM1104.5 619.8l4.6 -10.3l-9.2 0zM1107.2 619.8l4.6 -10.3l-9.2 0zM1109.9 619.8l4.6 -10.3l-9.2 0zM1112.7 619.8l4.6 -10.3l-9.2 0zM1081.2 623.9l4.6 -10.3l-9.2 0zM1084 623.9l4.6 -10.3l-9.2 0zM1086.7 623.9l4.6 -10.3l-9.2 0zM1089.5 623.9l4.6 -10.3l-9.2 0zM1092.3 623.9l4.6 -10.3l-9.2 0zM1095 623.9l4.6 -10.3l-9.2 0zM1097.8 623.9l4.6 -10.3l-9.2 0zM1100.5 623.9l4.6 -10.3l-9.2 0zM1103.3 623.9l4.6 -10.3l-9.2 0zM1106.1 623.9l4.6 -10.3l-9.2 0zM1108.8 623.9l4.6 -10.3l-9.2 0zM1111.6 623.9l4.6 -10.3l-9.2 0zM1082.3 628l4.6 -10.3l-9.2 0zM1084.9 628l4.6 -10.3l-9.2 0zM1087.4 628l4.6 -10.3l-9.2 0zM1090 628l4.6 -10.3l-9.2 0zM1092.6 628l4.6 -10.3l-9.2 0zM1095.1 628l4.6 -10.3l-9.2 0zM1097.7 628l4.6 -10.3l-9.2 0zM1100.2 628l4.6 -10.3l-9.2 0zM1102.8 628l4.6 -10.3l-9.2 0zM1105.4 628l4.6 -10.3l-9.2 0zM1107.9 628l4.6 -10.3l-9.2 0zM1110.5 628l4.6 -10.3l-9.2 0zM1079.9 632.1l4.6 -10.3l-9.2 0zM1082.7 632.1l4.6 -10.3l-9.2 0zM1085.4 632.1l4.6 -10.3l-9.2 0zM1088.2 632.1l4.6 -10.3l-9.2 0zM1090.9 632.1l4.6 -10.3l-9.2 0zM1093.7 632.1l4.6 -10.3l-9.2 0zM1096.4 632.1l4.6 -10.3l-9.2 0zM1099.1 632.1l4.6 -10.3l-9.2 0zM1101.9 632.1l4.6 -10.3l-9.2 0zM1104.6 632.1l4.6 -10.3l-9.2 0zM1107.4 632.1l4.6 -10.3l-9.2 0zM1110.1 632.1l4.6 -10.3l-9.2 0zM1112.9 632.1l4.6 -10.3l-9.2 0zM1081 636.2l4.6 -10.3l-9.2 0zM1083.8 636.2l4.6 -10.3l-9.2 0zM1086.6 636.2l4.6 -10.3l-9.2 0zM1089.4 636.2l4.6 -10.3l-9.2 0zM1092.2 636.2l4.6 -10.3l-9.2 0zM1095 636.2l4.6 -10.3l-9.2 0zM1097.8 636.2l4.6 -10.3l-9.2 0zM1100.6 636.2l4.6 -10.3l-9.2 0zM1103.4 636.2l4.6 -10.3l-9.2 0zM1106.2 636.2l4.6 -10.3l-9.2 0zM1109 636.2l4.6 -10.3l-9.2 0zM1111.8 636.2l4.6 -10.3l-9.2 0zM1082.1 640.3l4.6 -10.3l-9.2 0zM1084.7 640.3l4.6 -10.3l-9.2 0zM1087.3 640.3l4.6 -10.3l-9.2 0zM1089.9 640.3l4.6 -10.3l-9.2 0zM1092.5 640.3l4.6 -10.3l-9.2 0zM1095.1 640.3l4.6 -10.3l-9.2 0zM1097.7 640.3l4.6 -10.3l-9.2 0zM1100.3 640.3l4.6 -10.3l-9.2 0zM1102.9 640.3l4.6 -10.3l-9.2 0zM1105.5 640.3l4.6 -10.3l-9.2 0zM1108.1 640.3l4.6 -10.3l-9.2 0zM1110.7 640.3l4.6 -10.3l-9.2 0zM1080.2 644.4l4.6 -10.3l-9.2 0zM1082.9 644.4l4.6 -10.3l-9.2 0zM1085.6 644.4l4.6 -10.3l-9.2 0zM1088.3 644.4l4.6 -10.3l-9.2 0zM1091 644.4l4.6 -10.3l-9.2 0zM1093.7 644.4l4.6 -10.3l-9.2 0zM1096.4 644.4l4.6 -10.3l-9.2 0zM1099.1 644.4l4.6 -10.3l-9.2 0zM1101.8 644.4l4.6 -10.3l-9.2 0zM1104.5 644.4l4.6 -10.3l-9.2 0zM1107.2 644.4l4.6 -10.3l-9.2 0zM1109.9 644.4l4.6 -10.3l-9.2 0zM1112.6 644.4l4.6 -10.3l-9.2 0zM1080.8 648.5l4.6 -10.3l-9.2 0zM1083.4 648.5l4.6 -10.3l-9.2 0zM1086 648.5l4.6 -10.3l-9.2 0zM1088.6 648.5l4.6 -10.3l-9.2 0zM1091.2 648.5l4.6 -10.3l-9.2 0zM1093.8 648.5l4.6 -10.3l-9.2 0zM1096.4 648.5l4.6 -10.3l-9.2 0zM1099 648.5l4.6 -10.3l-9.2 0zM1101.6 648.5l4.6 -10.3l-9.2 0zM1104.2 648.5l4.6 -10.3l-9.2 0zM1106.8 648.5l4.6 -10.3l-9.2 0zM1109.4 648.5l4.6 -10.3l-9.2 0zM1112 648.5l4.6 -10.3l-9.2 0zM1082 652.6l4.6 -10.3l-9.2 0zM1084.6 652.6l4.6 -10.3l-9.2 0zM1087.2 652.6l4.6 -10.3l-9.2 0zM1089.9 652.6l4.6 -10.3l-9.2 0zM1092.5 652.6l4.6 -10.3l-9.2 0zM1095.1 652.6l4.6 -10.3l-9.2 0zM1097.7 652.6l4.6 -10.3l-9.2 0zM1100.3 652.6l4.6 -10.3l-9.2 0zM1102.9 652.6l4.6 -10.3l-9.2 0zM1105.6 652.6l4.6 -10.3l-9.2 0zM1108.2 652.6l4.6 -10.3l-9.2 0zM1110.8 652.6l4.6 -10.3l-9.2 0zM1083.2 656.7l4.6 -10.3l-9.2 0zM1085.8 656.7l4.6 -10.3l-9.2 0zM1088.5 656.7l4.6 -10.3l-9.2 0zM1091.1 656.7l4.6 -10.3l-9.2 0zM1093.8 656.7l4.6 -10.3l-9.2 0zM1096.4 656.7l4.6 -10.3l-9.2 0zM1099 656.7l4.6 -10.3l-9.2 0zM1101.7 656.7l4.6 -10.3l-9.2 0zM1104.3 656.7l4.6 -10.3l-9.2 0zM1107 656.7l4.6 -10.3l-9.2 0zM1109.6 656.7l4.6 -10.3l-9.2 0zM1079.8 660.8l4.6 -10.3l-9.2 0zM1082.6 660.8l4.6 -10.3l-9.2 0zM1085.3 660.8l4.6 -10.3l-9.2 0zM1088.1 660.8l4.6 -10.3l-9.2 0zM1090.9 660.8l4.6 -10.3l-9.2 0zM1093.6 660.8l4.6 -10.3l-9.2 0zM1096.4 660.8l4.6 -10.3l-9.2 0zM1099.2 660.8l4.6 -10.3l-9.2 0zM1101.9 660.8l4.6 -10.3l-9.2 0zM1104.7 660.8l4.6 -10.3l-9.2 0zM1107.5 660.8l4.6 -10.3l-9.2 0zM1110.2 660.8l4.6 -10.3l-9.2 0zM1113 660.8l4.6 -10.3l-9.2 0zM1081.4 664.9l4.6 -10.3l-9.2 0zM1084.1 664.9l4.6 -10.3l-9.2 0zM1086.8 664.9l4.6 -10.3l-9.2 0zM1089.6 664.9l4.6 -10.3l-9.2 0zM1092.3 664.9l4.6 -10.3l-9.2 0zM1095 664.9l4.6 -10.3l-9.2 0zM1097.8 664.9l4.6 -10.3l-9.2 0zM1100.5 664.9l4.6 -10.3l-9.2 0zM1103.2 664.9l4.6 -10.3l-9.2 0zM1106 664.9l4.6 -10.3l-9.2 0zM1108.7 664.9l4.6 -10.3l-9.2 0zM1111.4 664.9l4.6 -10.3l-9.2 0zM1082.9 669l4.6 -10.3l-9.2 0zM1085.6 669l4.6 -10.3l-9.2 0zM1088.3 669l4.6 -10.3l-9.2 0zM1091 669l4.6 -10.3l-9.2 0zM1093.7 669l4.6 -10.3l-9.2 0zM1096.4 669l4.6 -10.3l-9.2 0zM1099.1 669l4.6 -10.3l-9.2 0zM1101.8 669l4.6 -10.3l-9.2 0zM1104.5 669l4.6 -10.3l-9.2 0zM1107.2 669l4.6 -10.3l-9.2 0zM1109.9 669l4.6 -10.3l-9.2 0zM1084.5 673.1l4.6 -10.3l-9.2 0zM1087.2 673.1l4.6 -10.3l-9.2 0zM1089.8 673.1l4.6 -10.3l-9.2 0zM1092.4 673.1l4.6 -10.3l-9.2 0zM1095.1 673.1l4.6 -10.3l-9.2 0zM1097.7 673.1l4.6 -10.3l-9.2 0zM1100.4 673.1l4.6 -10.3l-9.2 0zM1103 673.1l4.6 -10.3l-9.2 0zM1105.6 673.1l4.6 -10.3l-9.2 0zM1108.3 673.1l4.6 -10.3l-9.2 0zM1080.5 677.2l4.6 -10.3l-9.2 0zM1083.2 677.2l4.6 -10.3l-9.2 0zM1085.8 677.2l4.6 -10.3l-9.2 0zM1088.5 677.2l4.6 -10.3l-9.2 0zM1091.1 677.2l4.6 -10.3l-9.2 0zM1093.8 677.2l4.6 -10.3l-9.2 0zM1096.4 677.2l4.6 -10.3l-9.2 0zM1099 677.2l4.6 -10.3l-9.2 0zM1101.7 677.2l4.6 -10.3l-9.2 0zM1104.3 677.2l4.6 -10.3l-9.2 0zM1107 677.2l4.6 -10.3l-9.2 0zM1109.7 677.2l4.6 -10.3l-9.2 0zM1112.3 677.2l4.6 -10.3l-9.2 0zM1082.6 681.3l4.6 -10.3l-9.2 0zM1085.3 681.3l4.6 -10.3l-9.2 0zM1088.1 681.3l4.6 -10.3l-9.2 0zM1090.9 681.3l4.6 -10.3l-9.2 0zM1093.6 681.3l4.6 -10.3l-9.2 0zM1096.4 681.3l4.6 -10.3l-9.2 0zM1099.2 681.3l4.6 -10.3l-9.2 0zM1101.9 681.3l4.6 -10.3l-9.2 0zM1104.7 681.3l4.6 -10.3l-9.2 0zM1107.5 681.3l4.6 -10.3l-9.2 0zM1110.3 681.3l4.6 -10.3l-9.2 0zM1084.6 685.4l4.6 -10.3l-9.2 0zM1087.2 685.4l4.6 -10.3l-9.2 0zM1089.8 685.4l4.6 -10.3l-9.2 0zM1092.5 685.4l4.6 -10.3l-9.2 0zM1095.1 685.4l4.6 -10.3l-9.2 0zM1097.7 685.4l4.6 -10.3l-9.2 0zM1100.3 685.4l4.6 -10.3l-9.2 0zM1103 685.4l4.6 -10.3l-9.2 0zM1105.6 685.4l4.6 -10.3l-9.2 0zM1108.2 685.4l4.6 -10.3l-9.2 0zM1086.7 689.5l4.6 -10.3l-9.2 0zM1089.4 689.5l4.6 -10.3l-9.2 0zM1092.2 689.5l4.6 -10.3l-9.2 0zM1095 689.5l4.6 -10.3l-9.2 0zM1097.8 689.5l4.6 -10.3l-9.2 0zM1100.6 689.5l4.6 -10.3l-9.2 0zM1103.4 689.5l4.6 -10.3l-9.2 0zM1106.2 689.5l4.6 -10.3l-9.2 0zM1089 693.6l4.6 -10.3l-9.2 0zM1091.5 693.6l4.6 -10.3l-9.2 0zM1093.9 693.6l4.6 -10.3l-9.2 0zM1096.4 693.6l4.6 -10.3l-9.2 0zM1098.9 693.6l4.6 -10.3l-9.2 0zM1101.3 693.6l4.6 -10.3l-9.2 0zM1103.8 693.6l4.6 -10.3l-9.2 0zM1091.8 697.7l4.6 -10.3l-9.2 0zM1094.1 697.7l4.6 -10.3l-9.2 0zM1096.4 697.7l4.6 -10.3l-9.2 0zM1098.7 697.7l4.6 -10.3l-9.2 0zM1101 697.7l4.6 -10.3l-9.2 0zM1084.4 699.9l4.6 -10.3l-9.2 0zM1109.2 699.9l4.6 -10.3l-9.2 0zM1081.1 715.7l4.6 -10.3l-9.2 0zM1095.2 711.3l4.6 -10.3l-9.2 0zM1101.4 714l4.6 -10.3l-9.2 0zM1111 721l4.6 -10.3l-9.2 0zM1086.4 733.3l4.6 -10.3l-9.2 0zM1096 728.9l4.6 -10.3l-9.2 0zM1105.7 738.7l4.6 -10.3l-9.2 0zM1082.9 747.4l4.6 -10.3l-9.2 0zM1091.7 750.9l4.6 -10.3l-9.2 0zM1100.4 752.7l4.6 -10.3l-9.2 0zM1109.2 747.4l4.6 -10.3l-9.2 0zM1105.4 614.7l4.6 -10.3l-9.2 0zM1085.4 616.7l4.6 -10.3l-9.2 0zM1096.4 802.7l4.6 -10.3l-9.2 0z" fill="none" stroke="#ec008c" stroke-width="2.1" stroke-linejoin="miter"/>
<line x1="1077.4" y1="658.6" x2="1115.4" y2="658.6" stroke="#000" stroke-width="1.6"/>
<line x1="1083.4" y1="656" x2="1109.4" y2="656" stroke="#000" stroke-width="1.3"/>
<line x1="1083.4" y1="661.2" x2="1109.4" y2="661.2" stroke="#000" stroke-width="1.3"/>
<line x1="1096.4" y1="656" x2="1096.4" y2="661.2" stroke="#000" stroke-width="1.3"/>
<line x1="891.2" y1="578.3" x2="891.2" y2="866.2" stroke="#000" stroke-width="1.8"/>
<line x1="880.2" y1="578.6" x2="891.2" y2="578.6" stroke="#000" stroke-width="1.8"/>
<text x="872.2" y="587.4" text-anchor="end">1.0</text>
<line x1="880.2" y1="674.2" x2="891.2" y2="674.2" stroke="#000" stroke-width="1.8"/>
<text x="872.2" y="683" text-anchor="end">0.5</text>
<line x1="880.2" y1="769.8" x2="891.2" y2="769.8" stroke="#000" stroke-width="1.8"/>
<text x="872.2" y="778.6" text-anchor="end">0.0</text>
<line x1="880.2" y1="865.4" x2="891.2" y2="865.4" stroke="#000" stroke-width="1.8"/>
<text x="872.2" y="874.2" text-anchor="end">-0.5</text>
<text x="1097.5" y="592.4" text-anchor="middle" font-size="28.5">***</text>
<text x="956.8" y="874" text-anchor="end" transform="rotate(-45 956.8 874)">Saline</text>
<text x="1042.6" y="874" text-anchor="end" transform="rotate(-45 1042.6 874)">BzATP</text>
<text x="1122.5" y="874" text-anchor="end" transform="rotate(-45 1122.5 874)">ATP</text>
<!-- panel i -->
<text x="1208" y="532.5" class="pl">i</text>
<path d="M1306.3 705.7C1307.7 704.9 1311.6 700.7 1314.7 701C1317.8 701.2 1320.9 704.6 1324.8 707.4C1328.7 710.1 1333.8 714.8 1338.3 717.5C1342.8 720.1 1347.3 718.4 1351.8 723.2C1356.3 728 1361.4 739.8 1365.2 746.1C1369.1 752.5 1371.3 759 1374.7 761.3C1378 763.5 1381.4 758.5 1385.5 759.6C1389.5 760.7 1394.5 764.4 1398.9 768C1403.4 771.7 1407.9 777 1412.4 781.5C1416.9 786 1420.3 788.8 1425.9 795C1431.5 801.2 1440.5 813.8 1446.1 818.6C1451.7 823.4 1451.7 822.2 1459.6 823.6C1467.5 825 1482.1 825.8 1493.3 827C1504.5 828.2 1515.8 829.6 1527 831.1C1538.2 832.5 1549.5 834.4 1560.7 835.4C1571.9 836.4 1579.6 836.4 1594.4 837.1C1609.2 837.8 1640.2 839.4 1649.3 839.8L1649.3 844.5C1634.6 844.1 1581.1 842.8 1560.7 842.2C1540.3 841.5 1538.2 841.3 1527 840.5C1515.8 839.6 1504.5 838.1 1493.3 837.1C1482.1 836.1 1470.8 835.8 1459.6 834.4C1448.4 833.1 1436 830.8 1425.9 829C1415.8 827.2 1406.2 825.7 1398.9 823.6C1391.6 821.6 1387.7 818.9 1382.1 816.9C1376.5 814.9 1370.3 814.1 1365.2 811.8C1360.2 809.6 1356 806.1 1351.8 803.4C1347.6 800.8 1343.3 796.6 1340 796C1336.6 795.4 1335.2 798.2 1331.5 800C1327.9 801.8 1322.3 806.2 1318.1 806.8C1313.8 807.3 1308.2 804 1306.3 803.4Z" fill="#a7a9ac" fill-opacity="0.5"/>
<path d="M1306.3 727.6C1308 723.9 1313.3 713.5 1316.4 705.7C1319.5 697.8 1321.7 691.4 1324.8 680.4C1327.9 669.5 1331.5 652 1334.9 640C1338.3 627.9 1341.7 615.8 1345 608C1348.4 600.1 1352.3 594.5 1355.1 592.8C1357.9 591.1 1359.1 591.4 1361.9 597.8C1364.7 604.3 1368.6 619.2 1372 631.5C1375.4 643.9 1378.7 659.1 1382.1 672C1385.5 684.9 1388.8 697.5 1392.2 709.1C1395.6 720.6 1398.9 732.6 1402.3 741.1C1405.7 749.5 1408.5 753.1 1412.4 759.6C1416.4 766.1 1421.4 774.8 1425.9 779.8C1430.4 784.9 1434.9 787.4 1439.4 789.9C1443.9 792.5 1448.4 792.5 1452.9 795C1457.4 797.5 1461.9 801.5 1466.3 805.1C1470.8 808.8 1475.3 814.1 1479.8 816.9C1484.3 819.7 1488.3 821.1 1493.3 822C1498.4 822.8 1504.5 822 1510.2 822C1515.8 822 1522 820.5 1527 822C1532.1 823.4 1536 828.1 1540.5 830.4C1545 832.6 1545 834 1554 835.4C1563 836.8 1578.5 837.4 1594.4 838.8C1610.3 840.2 1640.2 843 1649.3 843.9L1649.3 848.6C1640.2 847.5 1611.4 844.1 1594.4 842.2C1577.4 840.3 1558.5 839.4 1547.2 837.1C1536 834.9 1536 830.4 1527 828.7C1518 827 1503.4 828.1 1493.3 827C1483.2 825.9 1474.2 824.8 1466.3 822C1458.5 819.1 1452.9 814.6 1446.1 810.2C1439.4 805.7 1432.6 800.6 1425.9 795C1419.2 789.4 1411.3 783.5 1405.7 776.5C1400.1 769.4 1396.1 760.7 1392.2 752.9C1388.3 745 1385.5 736.6 1382.1 729.3C1378.7 722 1375.9 713.8 1372 709.1C1368.1 704.3 1363 702.9 1358.5 700.6C1354 698.4 1349 695.6 1345 695.6C1341.1 695.6 1338.3 697.5 1334.9 700.6C1331.5 703.7 1328.2 706.5 1324.8 714.1C1321.4 721.7 1317.8 737.3 1314.7 746.1C1311.6 754.9 1307.7 763.5 1306.3 767Z" fill="#f06bb4" fill-opacity="0.5"/>
<path d="M1306.3 712.4C1308 713.8 1313.3 719.7 1316.4 720.8C1319.5 722 1321.7 722 1324.8 719.2C1327.9 716.4 1331.7 708 1334.9 704C1338.1 700 1341.2 694.6 1344 694.9C1346.8 695.2 1348.8 699.7 1351.8 705.7C1354.7 711.7 1358.1 721.5 1361.9 731C1365.7 740.4 1371 758.1 1374.7 762.3C1378.3 766.5 1380.9 758.1 1383.8 756.2C1386.7 754.4 1389.1 751.5 1392.2 751.2C1395.3 750.9 1398.9 752 1402.3 754.6C1405.7 757.1 1408.5 761 1412.4 766.3C1416.4 771.7 1421.4 780.7 1425.9 786.6C1430.4 792.5 1434.9 797 1439.4 801.7C1443.9 806.5 1448.4 811.6 1452.9 815.2C1457.4 818.9 1459.6 821.5 1466.3 823.6C1473.1 825.8 1483.2 826.1 1493.3 828C1503.4 830 1515.8 833.8 1527 835.4C1538.2 837.1 1540.3 836.9 1560.7 837.8C1581.1 838.6 1634.6 840 1649.3 840.5L1649.3 845.5C1631.8 845 1567.1 843.3 1543.9 842.2C1520.7 841 1521.4 840.3 1510.2 838.8C1498.9 837.3 1486 834.8 1476.5 833.1C1466.9 831.4 1460.2 830.5 1452.9 828.7C1445.6 826.8 1439.4 824.8 1432.6 822C1425.9 819.1 1419.2 814.6 1412.4 811.8C1405.7 809 1398.9 807.1 1392.2 805.1C1385.5 803.1 1377.6 802.6 1372 800C1366.4 797.5 1362.7 792.7 1358.5 789.9C1354.3 787.1 1350.1 783.8 1346.7 783.2C1343.3 782.6 1341.9 784.6 1338.3 786.6C1334.6 788.5 1330.1 793.2 1324.8 795C1319.5 796.8 1309.4 797 1306.3 797.4Z" fill="#b08d68" fill-opacity="0.5"/>
<path d="M1306.3 747.8C1307.7 745.3 1311.6 740.8 1314.7 732.6C1317.8 724.5 1321.4 710.2 1324.8 698.9C1328.2 687.7 1331.5 673.9 1334.9 665.2C1338.3 656.5 1341.7 650.8 1345 646.7C1348.4 642.7 1352.3 641.5 1355.1 641C1357.9 640.4 1359.1 639.3 1361.9 643.3C1364.7 647.4 1368.6 656.5 1372 665.2C1375.4 673.9 1378.7 685.5 1382.1 695.6C1385.5 705.7 1389.4 717.5 1392.2 725.9C1395 734.3 1395.6 738.8 1398.9 746.1C1402.3 753.4 1407.9 763 1412.4 769.7C1416.9 776.5 1420.8 781.2 1425.9 786.6C1431 791.9 1437.1 797.4 1442.8 801.7C1448.4 806.1 1454 809.8 1459.6 812.9C1465.2 815.9 1470.8 818.5 1476.5 820.3C1482.1 822.1 1487.7 823 1493.3 823.6C1498.9 824.3 1504.5 824 1510.2 824.3C1515.8 824.6 1522 824.2 1527 825.3C1532.1 826.4 1536.6 829.3 1540.5 831.1C1544.4 832.8 1541.6 834.3 1550.6 835.8C1559.6 837.2 1581.5 838.4 1594.4 839.8C1607.3 841.3 1619 843.3 1628.1 844.5C1637.3 845.8 1645.8 846.8 1649.3 847.2" fill="none" stroke="#ea3e9b" stroke-width="3.5"/>
<path d="M1306.3 749.5C1308 750.3 1313.3 754.3 1316.4 754.6C1319.5 754.8 1321.7 753.7 1324.8 751.2C1327.9 748.7 1331.7 742.5 1334.9 739.4C1338.2 736.3 1341.5 732.9 1344.3 732.6C1347.2 732.4 1348.8 733.8 1351.8 737.7C1354.7 741.6 1358.5 749.8 1361.9 756.2C1365.2 762.7 1368.6 772.8 1372 776.5C1375.4 780.1 1378.7 778.6 1382.1 778.1C1385.5 777.7 1388.3 773.6 1392.2 773.8C1396.1 773.9 1401.2 776.5 1405.7 779.2C1410.2 781.8 1414.7 785.6 1419.2 789.9C1423.7 794.3 1428.2 799.8 1432.6 805.1C1437.1 810.4 1441.6 818.4 1446.1 822C1450.6 825.5 1451.7 825.2 1459.6 826.3C1467.5 827.5 1482.1 827.6 1493.3 828.7C1504.5 829.8 1518 831.7 1527 833.1C1536 834.5 1536 836.1 1547.2 837.1C1558.5 838.1 1577.4 838.3 1594.4 839.1C1611.4 840 1640.2 841.7 1649.3 842.2" fill="none" stroke="#6d6e71" stroke-width="3.5"/>
<path d="M1306.3 737.7C1308 737.9 1312.2 738.1 1316.4 738.7C1320.6 739.3 1327 741.2 1331.5 741.4C1336 741.6 1339.4 738.4 1343.3 740.1C1347.3 741.7 1350.9 745.8 1355.1 751.2C1359.3 756.6 1364.1 767.1 1368.6 772.4C1373.1 777.7 1377.6 779.2 1382.1 783.2C1386.6 787.2 1391.1 792.7 1395.6 796.7C1400.1 800.6 1404.6 805.4 1409.1 806.8C1413.5 808.2 1418.6 805.4 1422.5 805.1C1426.5 804.8 1429.3 804.1 1432.6 805.1C1436 806.1 1438.3 807.5 1442.8 810.8C1447.2 814.2 1451.2 822.1 1459.6 825.3C1468 828.6 1484.3 828.7 1493.3 830.4C1502.3 832.1 1506.8 833.9 1513.5 835.4C1520.3 837 1520.3 839 1533.7 839.8C1547.2 840.7 1575.1 839.9 1594.4 840.5C1613.7 841 1640.2 842.7 1649.3 843.2" fill="none" stroke="#a97c50" stroke-width="3.5"/>
<line x1="1306.3" y1="556.7" x2="1306.3" y2="848.2" stroke="#231f20" stroke-width="1.8"/>
<line x1="1295.3" y1="847.2" x2="1650.3" y2="847.2" stroke="#231f20" stroke-width="1.8"/>
<line x1="1295.3" y1="847.2" x2="1306.3" y2="847.2" stroke="#231f20" stroke-width="1.8"/>
<text x="1281.7" y="856" text-anchor="end">0</text>
<line x1="1295.3" y1="774.6" x2="1306.3" y2="774.6" stroke="#231f20" stroke-width="1.8"/>
<text x="1281.7" y="783.4" text-anchor="end">0.2</text>
<line x1="1295.3" y1="702" x2="1306.3" y2="702" stroke="#231f20" stroke-width="1.8"/>
<text x="1281.7" y="710.8" text-anchor="end">0.4</text>
<line x1="1295.3" y1="629.3" x2="1306.3" y2="629.3" stroke="#231f20" stroke-width="1.8"/>
<text x="1281.7" y="638.1" text-anchor="end">0.6</text>
<line x1="1295.3" y1="556.7" x2="1306.3" y2="556.7" stroke="#231f20" stroke-width="1.8"/>
<text x="1278" y="565.5" text-anchor="end">0.8</text>
<line x1="1306.3" y1="847.2" x2="1306.3" y2="856.2" stroke="#231f20" stroke-width="1.8"/>
<text x="1311.3" y="890" text-anchor="middle">0.5</text>
<line x1="1359.5" y1="847.2" x2="1359.5" y2="856.2" stroke="#231f20" stroke-width="1.8"/>
<text x="1359.5" y="890" text-anchor="middle">4</text>
<line x1="1424.2" y1="847.2" x2="1424.2" y2="856.2" stroke="#231f20" stroke-width="1.8"/>
<text x="1431.2" y="890" text-anchor="middle">8</text>
<line x1="1488.2" y1="847.2" x2="1488.2" y2="856.2" stroke="#231f20" stroke-width="1.8"/>
<text x="1495.2" y="890" text-anchor="middle">12</text>
<line x1="1649.3" y1="847.2" x2="1649.3" y2="856.2" stroke="#231f20" stroke-width="1.8"/>
<text x="1652.3" y="890" text-anchor="middle">20</text>
<text x="1470" y="926" text-anchor="middle">Frequency(Hz)</text>
<text transform="translate(1232 790) rotate(-90)">Power (µV²/Hz)</text>
<line x1="1496.7" y1="572.6" x2="1525.5" y2="572.6" stroke="#6d6e71" stroke-width="8"/>
<text x="1540.5" y="581" font-size="29.2">Saline</text>
<line x1="1496.7" y1="608.6" x2="1525.5" y2="608.6" stroke="#a97c50" stroke-width="8"/>
<text x="1540.5" y="617" font-size="29.2">BzATP</text>
<line x1="1496.7" y1="645" x2="1525.5" y2="645" stroke="#ec008c" stroke-width="8"/>
<text x="1540.5" y="653.4" font-size="29.2">ATP</text>
<!-- panel j -->
<text x="1679" y="532.5" class="pl">j</text>
<text x="1856" y="539.5" text-anchor="middle" font-size="28.2" class="it">4-8Hz</text>
<line x1="1817.4" y1="542.6" x2="1895" y2="542.6" stroke="#000" stroke-width="1.6"/>
<rect x="1820.7" y="724.9" width="26.3" height="127.3" fill="#696969"/>
<rect x="1879" y="728.2" width="26.3" height="124" fill="#c69c6d"/>
<rect x="1937" y="675" width="26.6" height="177.2" fill="#ec008c"/>
<line x1="1794.8" y1="562.8" x2="1794.8" y2="853.2" stroke="#000" stroke-width="1.8"/>
<line x1="1784.8" y1="852.2" x2="1999" y2="852.2" stroke="#000" stroke-width="1.8"/>
<line x1="1784.8" y1="852.2" x2="1794.8" y2="852.2" stroke="#000" stroke-width="1.8"/>
<text x="1774.8" y="862.2" text-anchor="end">0</text>
<line x1="1784.8" y1="755.7" x2="1794.8" y2="755.7" stroke="#000" stroke-width="1.8"/>
<text x="1774.8" y="765.7" text-anchor="end">0.2</text>
<line x1="1784.8" y1="659.3" x2="1794.8" y2="659.3" stroke="#000" stroke-width="1.8"/>
<text x="1774.8" y="669.3" text-anchor="end">0.4</text>
<line x1="1784.8" y1="562.8" x2="1794.8" y2="562.8" stroke="#000" stroke-width="1.8"/>
<text x="1774.8" y="572.8" text-anchor="end">0.6</text>
<text transform="translate(1720 830) rotate(-90)">Mean power (µV²/Hz)</text>
<circle cx="1833.8" cy="697.2" r="5.6" fill="none" stroke="#a7a9ac" stroke-width="3"/>
<circle cx="1833.8" cy="700.6" r="5.6" fill="none" stroke="#a7a9ac" stroke-width="3"/>
<circle cx="1833.8" cy="703" r="5.6" fill="none" stroke="#a7a9ac" stroke-width="3"/>
<circle cx="1833.8" cy="735.3" r="5.6" fill="none" stroke="#a7a9ac" stroke-width="3"/>
<circle cx="1833.8" cy="742.1" r="5.6" fill="none" stroke="#a7a9ac" stroke-width="3"/>
<circle cx="1833.8" cy="756.2" r="5.6" fill="none" stroke="#a7a9ac" stroke-width="3"/>
<circle cx="1892" cy="710.7" r="5.6" fill="none" stroke="#a7a9ac" stroke-width="3"/>
<circle cx="1892" cy="725.9" r="5.6" fill="none" stroke="#a7a9ac" stroke-width="3"/>
<circle cx="1892" cy="731.9" r="5.6" fill="none" stroke="#a7a9ac" stroke-width="3"/>
<circle cx="1892" cy="752.2" r="5.6" fill="none" stroke="#a7a9ac" stroke-width="3"/>
<circle cx="1950.3" cy="638.3" r="5.6" fill="none" stroke="#a7a9ac" stroke-width="3"/>
<circle cx="1950.3" cy="662.5" r="5.6" fill="none" stroke="#a7a9ac" stroke-width="3"/>
<circle cx="1950.3" cy="678.7" r="5.6" fill="none" stroke="#a7a9ac" stroke-width="3"/>
<circle cx="1950.3" cy="692.2" r="5.6" fill="none" stroke="#a7a9ac" stroke-width="3"/>
<circle cx="1950.3" cy="703.3" r="5.6" fill="none" stroke="#a7a9ac" stroke-width="3"/>
<line x1="1833.8" y1="714.8" x2="1833.8" y2="725.9" stroke="#000" stroke-width="1.6"/>
<line x1="1825.8" y1="714.8" x2="1841.8" y2="714.8" stroke="#000" stroke-width="1.6"/>
<line x1="1892" y1="721.5" x2="1892" y2="729.3" stroke="#000" stroke-width="1.6"/>
<line x1="1885" y1="721.5" x2="1899" y2="721.5" stroke="#000" stroke-width="1.6"/>
<line x1="1950.3" y1="665.9" x2="1950.3" y2="676" stroke="#000" stroke-width="1.6"/>
<line x1="1942.3" y1="665.9" x2="1958.3" y2="665.9" stroke="#000" stroke-width="1.6"/>
<text x="1950" y="631" text-anchor="middle" font-size="28.5">**</text>
<text x="1845" y="885" text-anchor="end" transform="rotate(-45 1845 885)">Saline</text>
<text x="1908" y="885" text-anchor="end" transform="rotate(-45 1908 885)">BzATP</text>
<text x="1964" y="885" text-anchor="end" transform="rotate(-45 1964 885)">ATP</text>
<!-- panel k -->
<text x="13" y="1000" class="pl">k</text>
<line x1="34.7" y1="1013.5" x2="34.7" y2="1031.5" stroke="#000" stroke-width="2.4"/>
<path d="M27.9 1029.5L41.5 1029.5L34.7 1050.5Z" fill="#000"/>
<text x="55.8" y="1044">Spine imaging</text>
<rect x="61.4" y="1073" width="164.6" height="36.2" fill="#b3b3b5"/>
<text x="130.1" y="1098.8" text-anchor="middle">Saline</text>
<rect x="61.4" y="1128.5" width="164.6" height="36.2" fill="#d3b18c"/>
<text x="131.6" y="1160.3" text-anchor="middle">BzATP</text>
<rect x="61" y="1182.3" width="166" height="38" fill="#f05297" stroke="#f032a0" stroke-width="2.4"/>
<text x="130.8" y="1214.6" text-anchor="middle">ATP</text>
<line x1="58.7" y1="1242.7" x2="58.7" y2="1261.4" stroke="#000" stroke-width="2.4"/>
<path d="M51.9 1259.4L65.5 1259.4L58.7 1280.4Z" fill="#000"/>
<line x1="115.1" y1="1242.7" x2="115.1" y2="1261.4" stroke="#000" stroke-width="2.4"/>
<path d="M108.3 1259.4L121.9 1259.4L115.1 1280.4Z" fill="#000"/>
<line x1="169.4" y1="1242.7" x2="169.4" y2="1261.4" stroke="#000" stroke-width="2.4"/>
<path d="M162.6 1259.4L176.2 1259.4L169.4 1280.4Z" fill="#000"/>
<line x1="224.3" y1="1242.7" x2="224.3" y2="1261.4" stroke="#000" stroke-width="2.4"/>
<path d="M217.5 1259.4L231.1 1259.4L224.3 1280.4Z" fill="#000"/>
<line x1="55.8" y1="1294.4" x2="252" y2="1294.4" stroke="#000" stroke-width="2.6"/>
<path d="M244 1286.2L273.5 1294.4L244 1302.6Z" fill="#000"/>
<line x1="60.8" y1="1294.4" x2="60.8" y2="1308" stroke="#000" stroke-width="2.6"/>
<text x="60.8" y="1337" text-anchor="middle">0d</text>
<line x1="115.1" y1="1294.4" x2="115.1" y2="1308" stroke="#000" stroke-width="2.6"/>
<text x="115.1" y="1337" text-anchor="middle">1d</text>
<line x1="169.4" y1="1294.4" x2="169.4" y2="1308" stroke="#000" stroke-width="2.6"/>
<text x="169.4" y="1337" text-anchor="middle">2d</text>
<line x1="224.3" y1="1294.4" x2="224.3" y2="1308" stroke="#000" stroke-width="2.6"/>
<text x="224.3" y="1337" text-anchor="middle">3d</text>
<!-- panel l -->
<text x="323" y="1000" class="pl">l</text>
<rect x="441.3" y="1213.7" width="24" height="99.3" fill="#6d6e71"/>
<rect x="465" y="1221.1" width="24.6" height="91.9" fill="#c49a6c"/>
<rect x="489.3" y="1219" width="24.3" height="94" fill="#de1783"/>
<rect x="537.7" y="1160.9" width="24.6" height="152.1" fill="#6d6e71"/>
<rect x="562" y="1144.8" width="24" height="168.2" fill="#c49a6c"/>
<rect x="585.7" y="1146.9" width="24.3" height="166.1" fill="#de1783"/>
<rect x="634.1" y="1111.3" width="24.3" height="201.7" fill="#6d6e71"/>
<rect x="658.1" y="1097.1" width="24.6" height="215.9" fill="#c49a6c"/>
<rect x="682.5" y="1081.6" width="24.3" height="231.4" fill="#de1783"/>
<line x1="427.3" y1="1022.3" x2="427.3" y2="1314" stroke="#000" stroke-width="1.8"/>
<line x1="416.3" y1="1313" x2="720.2" y2="1313" stroke="#000" stroke-width="1.8"/>
<line x1="416.3" y1="1313" x2="427.3" y2="1313" stroke="#000" stroke-width="1.8"/>
<text x="406.3" y="1321.8" text-anchor="end">4</text>
<line x1="416.3" y1="1216.1" x2="427.3" y2="1216.1" stroke="#000" stroke-width="1.8"/>
<text x="406.3" y="1224.9" text-anchor="end">6</text>
<line x1="416.3" y1="1119.2" x2="427.3" y2="1119.2" stroke="#000" stroke-width="1.8"/>
<text x="406.3" y="1128" text-anchor="end">8</text>
<line x1="416.3" y1="1022.3" x2="427.3" y2="1022.3" stroke="#000" stroke-width="1.8"/>
<text x="406.3" y="1031.1" text-anchor="end">10</text>
<line x1="453.1" y1="1208" x2="453.1" y2="1214.6" stroke="#000" stroke-width="1.5"/>
<line x1="447.6" y1="1208" x2="458.6" y2="1208" stroke="#000" stroke-width="1.5"/>
<line x1="477.5" y1="1218.1" x2="477.5" y2="1221.7" stroke="#000" stroke-width="1.5"/>
<line x1="472" y1="1218.1" x2="483" y2="1218.1" stroke="#000" stroke-width="1.5"/>
<line x1="501.5" y1="1212.8" x2="501.5" y2="1219.6" stroke="#000" stroke-width="1.5"/>
<line x1="496" y1="1212.8" x2="507" y2="1212.8" stroke="#000" stroke-width="1.5"/>
<line x1="549.6" y1="1155.8" x2="549.6" y2="1161.8" stroke="#000" stroke-width="1.5"/>
<line x1="544.1" y1="1155.8" x2="555.1" y2="1155.8" stroke="#000" stroke-width="1.5"/>
<line x1="573.9" y1="1136.8" x2="573.9" y2="1145.4" stroke="#000" stroke-width="1.5"/>
<line x1="568.4" y1="1136.8" x2="579.4" y2="1136.8" stroke="#000" stroke-width="1.5"/>
<line x1="597.9" y1="1144.5" x2="597.9" y2="1147.5" stroke="#000" stroke-width="1.5"/>
<line x1="592.4" y1="1144.5" x2="603.4" y2="1144.5" stroke="#000" stroke-width="1.5"/>
<line x1="646" y1="1103" x2="646" y2="1111.9" stroke="#000" stroke-width="1.5"/>
<line x1="640.5" y1="1103" x2="651.5" y2="1103" stroke="#000" stroke-width="1.5"/>
<line x1="670.3" y1="1091.1" x2="670.3" y2="1098" stroke="#000" stroke-width="1.5"/>
<line x1="664.8" y1="1091.1" x2="675.8" y2="1091.1" stroke="#000" stroke-width="1.5"/>
<line x1="694.3" y1="1076.3" x2="694.3" y2="1082.2" stroke="#000" stroke-width="1.5"/>
<line x1="688.8" y1="1076.3" x2="699.8" y2="1076.3" stroke="#000" stroke-width="1.5"/>
<circle cx="446.6" cy="1200.9" r="5.7" fill="none" stroke="#8c8e91" stroke-width="1.8"/>
<circle cx="452.2" cy="1212.8" r="5.7" fill="none" stroke="#8c8e91" stroke-width="1.8"/>
<circle cx="459.4" cy="1213.1" r="5.7" fill="none" stroke="#8c8e91" stroke-width="1.8"/>
<circle cx="453.1" cy="1228.5" r="5.7" fill="none" stroke="#8c8e91" stroke-width="1.8"/>
<circle cx="474.8" cy="1215.2" r="5.7" fill="none" stroke="#8c8e91" stroke-width="1.8"/>
<circle cx="470" cy="1224.6" r="5.7" fill="none" stroke="#8c8e91" stroke-width="1.8"/>
<circle cx="478.3" cy="1224.1" r="5.7" fill="none" stroke="#8c8e91" stroke-width="1.8"/>
<circle cx="483.7" cy="1222.3" r="5.7" fill="none" stroke="#8c8e91" stroke-width="1.8"/>
<circle cx="501.5" cy="1202.7" r="5.7" fill="none" stroke="#8c8e91" stroke-width="1.8"/>
<circle cx="501.5" cy="1218.1" r="5.7" fill="none" stroke="#8c8e91" stroke-width="1.8"/>
<circle cx="495" cy="1228.5" r="5.7" fill="none" stroke="#8c8e91" stroke-width="1.8"/>
<circle cx="508" cy="1227" r="5.7" fill="none" stroke="#8c8e91" stroke-width="1.8"/>
<circle cx="549.6" cy="1154.3" r="5.7" fill="none" stroke="#8c8e91" stroke-width="1.8"/>
<circle cx="556.1" cy="1149.9" r="5.7" fill="none" stroke="#8c8e91" stroke-width="1.8"/>
<circle cx="543" cy="1172.4" r="5.7" fill="none" stroke="#8c8e91" stroke-width="1.8"/>
<circle cx="555.5" cy="1166.2" r="5.7" fill="none" stroke="#8c8e91" stroke-width="1.8"/>
<circle cx="567.4" cy="1127.6" r="5.7" fill="none" stroke="#8c8e91" stroke-width="1.8"/>
<circle cx="579.8" cy="1136.8" r="5.7" fill="none" stroke="#8c8e91" stroke-width="1.8"/>
<circle cx="567.4" cy="1161.8" r="5.7" fill="none" stroke="#8c8e91" stroke-width="1.8"/>
<circle cx="579.8" cy="1154.3" r="5.7" fill="none" stroke="#8c8e91" stroke-width="1.8"/>
<circle cx="596.1" cy="1143.1" r="5.7" fill="none" stroke="#8c8e91" stroke-width="1.8"/>
<circle cx="604.7" cy="1145.4" r="5.7" fill="none" stroke="#8c8e91" stroke-width="1.8"/>
<circle cx="591.1" cy="1154.3" r="5.7" fill="none" stroke="#8c8e91" stroke-width="1.8"/>
<circle cx="600" cy="1148.4" r="5.7" fill="none" stroke="#8c8e91" stroke-width="1.8"/>
<circle cx="645.1" cy="1099.4" r="5.7" fill="none" stroke="#8c8e91" stroke-width="1.8"/>
<circle cx="652.2" cy="1097.1" r="5.7" fill="none" stroke="#8c8e91" stroke-width="1.8"/>
<circle cx="646" cy="1117.2" r="5.7" fill="none" stroke="#8c8e91" stroke-width="1.8"/>
<circle cx="646.3" cy="1131.5" r="5.7" fill="none" stroke="#8c8e91" stroke-width="1.8"/>
<circle cx="663.8" cy="1083.1" r="5.7" fill="none" stroke="#8c8e91" stroke-width="1.8"/>
<circle cx="669.1" cy="1097.1" r="5.7" fill="none" stroke="#8c8e91" stroke-width="1.8"/>
<circle cx="675.9" cy="1096.5" r="5.7" fill="none" stroke="#8c8e91" stroke-width="1.8"/>
<circle cx="670.3" cy="1110.7" r="5.7" fill="none" stroke="#8c8e91" stroke-width="1.8"/>
<circle cx="694.3" cy="1064.4" r="5.7" fill="none" stroke="#8c8e91" stroke-width="1.8"/>
<circle cx="688.4" cy="1089.7" r="5.7" fill="none" stroke="#8c8e91" stroke-width="1.8"/>
<circle cx="694.9" cy="1087" r="5.7" fill="none" stroke="#8c8e91" stroke-width="1.8"/>
<circle cx="700.9" cy="1088.2" r="5.7" fill="none" stroke="#8c8e91" stroke-width="1.8"/>
<rect x="441.3" y="1009" width="18.4" height="14.2" fill="#6d6e71"/>
<text x="473.3" y="1023.5" font-size="26">Saline</text>
<rect x="441.3" y="1045.4" width="18.4" height="14.2" fill="#c49a6c"/>
<text x="473.3" y="1060" font-size="26">BzATP</text>
<rect x="441.3" y="1081.5" width="18.4" height="14.2" fill="#de1783"/>
<text x="473.3" y="1096" font-size="26">ATP</text>
<text x="479.8" y="1351.5" text-anchor="middle">1 d</text>
<text x="574" y="1351.5" text-anchor="middle">2 d</text>
<text x="658" y="1351.5" text-anchor="middle">3 d</text>
<text transform="translate(367 1279) rotate(-90)">Spine formation (%)</text>
<text x="691" y="1058.5" text-anchor="middle" font-size="28.5">**</text>
<!-- panel m -->
<text x="757" y="1000" class="pl">m</text>
<rect x="904.8" y="1176" width="24.6" height="137.1" fill="#6d6e71"/>
<rect x="929.2" y="1152.9" width="24.6" height="160.2" fill="#c49a6c"/>
<rect x="953.5" y="1152.9" width="24.3" height="160.2" fill="#de1783"/>
<rect x="1001.6" y="1133.6" width="24.6" height="179.5" fill="#6d6e71"/>
<rect x="1025.9" y="1113.7" width="24.3" height="199.4" fill="#c49a6c"/>
<rect x="1049.9" y="1109" width="24.3" height="204.1" fill="#de1783"/>
<rect x="1098.3" y="1075.7" width="24.3" height="237.4" fill="#6d6e71"/>
<rect x="1122.4" y="1060" width="24.3" height="253.1" fill="#c49a6c"/>
<rect x="1146.4" y="1061.8" width="24.3" height="251.3" fill="#de1783"/>
<line x1="878.1" y1="1022.3" x2="878.1" y2="1314.1" stroke="#000" stroke-width="1.8"/>
<line x1="867.1" y1="1313.1" x2="1207.2" y2="1313.1" stroke="#000" stroke-width="1.8"/>
<line x1="867.1" y1="1313.1" x2="878.1" y2="1313.1" stroke="#000" stroke-width="1.8"/>
<text x="850.1" y="1321.9" text-anchor="end">4</text>
<line x1="867.1" y1="1216.2" x2="878.1" y2="1216.2" stroke="#000" stroke-width="1.8"/>
<text x="850.1" y="1225" text-anchor="end">6</text>
<line x1="867.1" y1="1119.2" x2="878.1" y2="1119.2" stroke="#000" stroke-width="1.8"/>
<text x="850.1" y="1128" text-anchor="end">8</text>
<line x1="867.1" y1="1022.3" x2="878.1" y2="1022.3" stroke="#000" stroke-width="1.8"/>
<text x="850.1" y="1031.1" text-anchor="end">10</text>
<line x1="917.3" y1="1166.8" x2="917.3" y2="1176.6" stroke="#000" stroke-width="1.5"/>
<line x1="911.8" y1="1166.8" x2="922.8" y2="1166.8" stroke="#000" stroke-width="1.5"/>
<line x1="941" y1="1147.6" x2="941" y2="1153.5" stroke="#000" stroke-width="1.5"/>
<line x1="935.5" y1="1147.6" x2="946.5" y2="1147.6" stroke="#000" stroke-width="1.5"/>
<line x1="965.4" y1="1145.5" x2="965.4" y2="1153.5" stroke="#000" stroke-width="1.5"/>
<line x1="959.9" y1="1145.5" x2="970.9" y2="1145.5" stroke="#000" stroke-width="1.5"/>
<line x1="1013.7" y1="1118.8" x2="1013.7" y2="1134.5" stroke="#000" stroke-width="1.5"/>
<line x1="1008.2" y1="1118.8" x2="1019.2" y2="1118.8" stroke="#000" stroke-width="1.5"/>
<line x1="1037.8" y1="1106" x2="1037.8" y2="1114.3" stroke="#000" stroke-width="1.5"/>
<line x1="1032.3" y1="1106" x2="1043.3" y2="1106" stroke="#000" stroke-width="1.5"/>
<line x1="1061.8" y1="1103" x2="1061.8" y2="1109.6" stroke="#000" stroke-width="1.5"/>
<line x1="1056.3" y1="1103" x2="1067.3" y2="1103" stroke="#000" stroke-width="1.5"/>
<line x1="1110.8" y1="1067.4" x2="1110.8" y2="1076.3" stroke="#000" stroke-width="1.5"/>
<line x1="1105.3" y1="1067.4" x2="1116.3" y2="1067.4" stroke="#000" stroke-width="1.5"/>
<line x1="1133.9" y1="1055.6" x2="1133.9" y2="1060.9" stroke="#000" stroke-width="1.5"/>
<line x1="1128.4" y1="1055.6" x2="1139.4" y2="1055.6" stroke="#000" stroke-width="1.5"/>
<line x1="1158.3" y1="1050.5" x2="1158.3" y2="1062.4" stroke="#000" stroke-width="1.5"/>
<line x1="1152.8" y1="1050.5" x2="1163.8" y2="1050.5" stroke="#000" stroke-width="1.5"/>
<circle cx="917.3" cy="1155.3" r="5.7" fill="none" stroke="#8c8e91" stroke-width="1.8"/>
<circle cx="910.8" cy="1172.5" r="5.7" fill="none" stroke="#8c8e91" stroke-width="1.8"/>
<circle cx="923.2" cy="1176.6" r="5.7" fill="none" stroke="#8c8e91" stroke-width="1.8"/>
<circle cx="917.3" cy="1200.4" r="5.7" fill="none" stroke="#8c8e91" stroke-width="1.8"/>
<circle cx="941" cy="1137.2" r="5.7" fill="none" stroke="#8c8e91" stroke-width="1.8"/>
<circle cx="934.5" cy="1161.8" r="5.7" fill="none" stroke="#8c8e91" stroke-width="1.8"/>
<circle cx="947.6" cy="1159.4" r="5.7" fill="none" stroke="#8c8e91" stroke-width="1.8"/>
<circle cx="941" cy="1154.4" r="5.7" fill="none" stroke="#8c8e91" stroke-width="1.8"/>
<circle cx="958.8" cy="1146.1" r="5.7" fill="none" stroke="#8c8e91" stroke-width="1.8"/>
<circle cx="965.4" cy="1144" r="5.7" fill="none" stroke="#8c8e91" stroke-width="1.8"/>
<circle cx="971.9" cy="1147.9" r="5.7" fill="none" stroke="#8c8e91" stroke-width="1.8"/>
<circle cx="965.4" cy="1175.8" r="5.7" fill="none" stroke="#8c8e91" stroke-width="1.8"/>
<circle cx="1013.7" cy="1097.1" r="5.7" fill="none" stroke="#8c8e91" stroke-width="1.8"/>
<circle cx="1013.7" cy="1125.3" r="5.7" fill="none" stroke="#8c8e91" stroke-width="1.8"/>
<circle cx="1013.7" cy="1146.1" r="5.7" fill="none" stroke="#8c8e91" stroke-width="1.8"/>
<circle cx="1013.7" cy="1166.3" r="5.7" fill="none" stroke="#8c8e91" stroke-width="1.8"/>
<circle cx="1037.8" cy="1096.5" r="5.7" fill="none" stroke="#8c8e91" stroke-width="1.8"/>
<circle cx="1037.8" cy="1110.8" r="5.7" fill="none" stroke="#8c8e91" stroke-width="1.8"/>
<circle cx="1031.5" cy="1130" r="5.7" fill="none" stroke="#8c8e91" stroke-width="1.8"/>
<circle cx="1044.3" cy="1118.8" r="5.7" fill="none" stroke="#8c8e91" stroke-width="1.8"/>
<circle cx="1061.8" cy="1092.7" r="5.7" fill="none" stroke="#8c8e91" stroke-width="1.8"/>
<circle cx="1061.8" cy="1108.4" r="5.7" fill="none" stroke="#8c8e91" stroke-width="1.8"/>
<circle cx="1055.6" cy="1117.3" r="5.7" fill="none" stroke="#8c8e91" stroke-width="1.8"/>
<circle cx="1068.6" cy="1115.8" r="5.7" fill="none" stroke="#8c8e91" stroke-width="1.8"/>
<circle cx="1104.3" cy="1067.4" r="5.7" fill="none" stroke="#8c8e91" stroke-width="1.8"/>
<circle cx="1110.8" cy="1062.4" r="5.7" fill="none" stroke="#8c8e91" stroke-width="1.8"/>
<circle cx="1116.1" cy="1074.3" r="5.7" fill="none" stroke="#8c8e91" stroke-width="1.8"/>
<circle cx="1110.2" cy="1098.3" r="5.7" fill="none" stroke="#8c8e91" stroke-width="1.8"/>
<circle cx="1133.9" cy="1057.9" r="5.7" fill="none" stroke="#8c8e91" stroke-width="1.8"/>
<circle cx="1140.5" cy="1048.4" r="5.7" fill="none" stroke="#8c8e91" stroke-width="1.8"/>
<circle cx="1128" cy="1067.4" r="5.7" fill="none" stroke="#8c8e91" stroke-width="1.8"/>
<circle cx="1140.5" cy="1064.5" r="5.7" fill="none" stroke="#8c8e91" stroke-width="1.8"/>
<circle cx="1158.3" cy="1031.8" r="5.7" fill="none" stroke="#8c8e91" stroke-width="1.8"/>
<circle cx="1164.8" cy="1062.4" r="5.7" fill="none" stroke="#8c8e91" stroke-width="1.8"/>
<circle cx="1158.3" cy="1065.4" r="5.7" fill="none" stroke="#8c8e91" stroke-width="1.8"/>
<circle cx="1158.3" cy="1087.6" r="5.7" fill="none" stroke="#8c8e91" stroke-width="1.8"/>
<rect x="904.8" y="1012.8" width="18.4" height="14.2" fill="#6d6e71"/>
<text x="936.9" y="1028" font-size="26">Saline</text>
<rect x="904.8" y="1049.9" width="18.4" height="14.2" fill="#c49a6c"/>
<text x="936.9" y="1064.2" font-size="26">BzATP</text>
<rect x="904.8" y="1085.8" width="18.4" height="14.2" fill="#de1783"/>
<text x="936.9" y="1100" font-size="26">ATP</text>
<text x="936.6" y="1346" text-anchor="middle">1 d</text>
<text x="1030" y="1346" text-anchor="middle">2 d</text>
<text x="1114" y="1346" text-anchor="middle">3 d</text>
<text transform="translate(811 1291) rotate(-90)">Spine elimination (%)</text>
<!-- panel n -->
<text x="1254" y="1001" class="pl">n</text>
<rect x="1389.1" y="1088.2" width="29.2" height="197.6" fill="#6d6e71"/>
<rect x="1447.3" y="1103.9" width="29.2" height="181.9" fill="#c69c6d"/>
<rect x="1505.5" y="1177.5" width="29.2" height="108.3" fill="#ec008c"/>
<line x1="1368.4" y1="998" x2="1368.4" y2="1286.8" stroke="#000" stroke-width="1.8"/>
<line x1="1358.4" y1="1285.8" x2="1573.1" y2="1285.8" stroke="#000" stroke-width="1.8"/>
<line x1="1358.4" y1="1285.8" x2="1368.4" y2="1285.8" stroke="#000" stroke-width="1.8"/>
<text x="1348.4" y="1294.6" text-anchor="end">0.0</text>
<line x1="1358.4" y1="1189.9" x2="1368.4" y2="1189.9" stroke="#000" stroke-width="1.8"/>
<text x="1348.4" y="1198.7" text-anchor="end">0.5</text>
<line x1="1358.4" y1="1093.9" x2="1368.4" y2="1093.9" stroke="#000" stroke-width="1.8"/>
<text x="1348.4" y="1103.5" text-anchor="end">1.0</text>
<line x1="1358.4" y1="998" x2="1368.4" y2="998" stroke="#000" stroke-width="1.8"/>
<text x="1348.4" y="1009.5" text-anchor="end">1.5</text>
<text transform="translate(1295 1214) rotate(-90)">50% PWT(g)</text>
<line x1="1404" y1="1078.7" x2="1404" y2="1089.1" stroke="#000" stroke-width="1.7"/>
<line x1="1395" y1="1078.7" x2="1413" y2="1078.7" stroke="#000" stroke-width="1.7"/>
<line x1="1461.8" y1="1090" x2="1461.8" y2="1105.4" stroke="#000" stroke-width="1.7"/>
<line x1="1452.8" y1="1090" x2="1470.8" y2="1090" stroke="#000" stroke-width="1.7"/>
<line x1="1520.6" y1="1157.3" x2="1520.6" y2="1179.6" stroke="#000" stroke-width="1.7"/>
<line x1="1511.6" y1="1157.3" x2="1529.6" y2="1157.3" stroke="#000" stroke-width="1.7"/>
<circle cx="1404" cy="1052.3" r="5.6" fill="none" stroke="#a7a9ac" stroke-width="3"/>
<circle cx="1404" cy="1054.1" r="5.6" fill="none" stroke="#a7a9ac" stroke-width="3"/>
<circle cx="1404" cy="1069.8" r="5.6" fill="none" stroke="#a7a9ac" stroke-width="3"/>
<circle cx="1404" cy="1098" r="5.6" fill="none" stroke="#a7a9ac" stroke-width="3"/>
<circle cx="1404" cy="1102.4" r="5.6" fill="none" stroke="#a7a9ac" stroke-width="3"/>
<circle cx="1404" cy="1152.3" r="5.6" fill="none" stroke="#a7a9ac" stroke-width="3"/>
<circle cx="1461.8" cy="1054.4" r="5.6" fill="none" stroke="#a7a9ac" stroke-width="3"/>
<circle cx="1461.8" cy="1069.8" r="5.6" fill="none" stroke="#a7a9ac" stroke-width="3"/>
<circle cx="1461.8" cy="1076.6" r="5.6" fill="none" stroke="#a7a9ac" stroke-width="3"/>
<circle cx="1461.8" cy="1096.5" r="5.6" fill="none" stroke="#a7a9ac" stroke-width="3"/>
<circle cx="1461.8" cy="1119.3" r="5.6" fill="none" stroke="#a7a9ac" stroke-width="3"/>
<circle cx="1461.8" cy="1152.3" r="5.6" fill="none" stroke="#a7a9ac" stroke-width="3"/>
<circle cx="1461.8" cy="1177.2" r="5.6" fill="none" stroke="#a7a9ac" stroke-width="3"/>
<circle cx="1520.6" cy="1100.9" r="5.6" fill="none" stroke="#a7a9ac" stroke-width="3"/>
<circle cx="1520.6" cy="1118.2" r="5.6" fill="none" stroke="#a7a9ac" stroke-width="3"/>
<circle cx="1520.6" cy="1151.4" r="5.6" fill="none" stroke="#a7a9ac" stroke-width="3"/>
<circle cx="1520.6" cy="1175.1" r="5.6" fill="none" stroke="#a7a9ac" stroke-width="3"/>
<circle cx="1520.6" cy="1221.1" r="5.6" fill="none" stroke="#a7a9ac" stroke-width="3"/>
<circle cx="1520.6" cy="1259.7" r="5.6" fill="none" stroke="#a7a9ac" stroke-width="3"/>
<text x="1520" y="1096" text-anchor="middle" font-size="28.5">**</text>
<text x="1410" y="1312.5" text-anchor="end" transform="rotate(-45 1410 1312.5)">Saline</text>
<text x="1471.5" y="1312.5" text-anchor="end" transform="rotate(-45 1471.5 1312.5)">BzATP</text>
<text x="1528.5" y="1312.5" text-anchor="end" transform="rotate(-45 1528.5 1312.5)">ATP</text>
<!-- panel o -->
<text x="1613" y="1001" class="pl">o</text>
<rect x="1768.2" y="1221.9" width="28.5" height="8.2" fill="#6d6e71"/>
<rect x="1826" y="1219.8" width="29" height="6.3" fill="#c69c6d" stroke="#bbb" stroke-width="1"/>
<rect x="1884.2" y="1176.6" width="28.8" height="45.3" fill="#ec008c"/>
<line x1="1747.7" y1="1006.9" x2="1747.7" y2="1294.7" stroke="#000" stroke-width="1.8"/>
<line x1="1737.7" y1="1221.9" x2="1952.1" y2="1221.9" stroke="#000" stroke-width="1.8"/>
<line x1="1737.7" y1="1293.6" x2="1747.7" y2="1293.6" stroke="#000" stroke-width="1.8"/>
<text x="1727.7" y="1302.4" text-anchor="end" fill="#231f20">-100</text>
<line x1="1737.7" y1="1221.9" x2="1747.7" y2="1221.9" stroke="#000" stroke-width="1.8"/>
<text x="1722.2" y="1230.7" text-anchor="end" fill="#231f20">0</text>
<line x1="1737.7" y1="1150.2" x2="1747.7" y2="1150.2" stroke="#000" stroke-width="1.8"/>
<text x="1727.7" y="1159" text-anchor="end" fill="#231f20">100</text>
<line x1="1737.7" y1="1078.5" x2="1747.7" y2="1078.5" stroke="#000" stroke-width="1.8"/>
<text x="1727.7" y="1087.3" text-anchor="end" fill="#231f20">200</text>
<line x1="1737.7" y1="1006.8" x2="1747.7" y2="1006.8" stroke="#000" stroke-width="1.8"/>
<text x="1727.7" y="1015.6" text-anchor="end" fill="#231f20">300</text>
<text transform="translate(1664 1279) rotate(-90)">CPP difference score (s)</text>
<line x1="1782.1" y1="1213.6" x2="1782.1" y2="1242.4" stroke="#000" stroke-width="1.7"/>
<line x1="1773.1" y1="1213.6" x2="1791.1" y2="1213.6" stroke="#000" stroke-width="1.7"/>
<line x1="1773.1" y1="1242.4" x2="1791.1" y2="1242.4" stroke="#000" stroke-width="1.7"/>
<line x1="1840.3" y1="1209.8" x2="1840.3" y2="1236.8" stroke="#000" stroke-width="1.7"/>
<line x1="1831.3" y1="1209.8" x2="1849.3" y2="1209.8" stroke="#000" stroke-width="1.7"/>
<line x1="1831.3" y1="1236.8" x2="1849.3" y2="1236.8" stroke="#000" stroke-width="1.7"/>
<line x1="1898.1" y1="1166.5" x2="1898.1" y2="1181" stroke="#000" stroke-width="1.7"/>
<line x1="1889.1" y1="1166.5" x2="1907.1" y2="1166.5" stroke="#000" stroke-width="1.7"/>
<line x1="1889.1" y1="1181" x2="1907.1" y2="1181" stroke="#000" stroke-width="1.7"/>
<circle cx="1782.1" cy="1167.1" r="5.6" fill="none" stroke="#a7a9ac" stroke-width="3"/>
<circle cx="1782.1" cy="1203.3" r="5.6" fill="none" stroke="#a7a9ac" stroke-width="3"/>
<circle cx="1782.1" cy="1205" r="5.6" fill="none" stroke="#a7a9ac" stroke-width="3"/>
<circle cx="1782.1" cy="1229.1" r="5.6" fill="none" stroke="#a7a9ac" stroke-width="3"/>
<circle cx="1782.1" cy="1248.3" r="5.6" fill="none" stroke="#a7a9ac" stroke-width="3"/>
<circle cx="1782.1" cy="1265.5" r="5.6" fill="none" stroke="#a7a9ac" stroke-width="3"/>
<circle cx="1782.1" cy="1275" r="5.6" fill="none" stroke="#a7a9ac" stroke-width="3"/>
<circle cx="1840.3" cy="1175.7" r="5.6" fill="none" stroke="#a7a9ac" stroke-width="3"/>
<circle cx="1840.3" cy="1199.7" r="5.6" fill="none" stroke="#a7a9ac" stroke-width="3"/>
<circle cx="1840.3" cy="1203.3" r="5.6" fill="none" stroke="#a7a9ac" stroke-width="3"/>
<circle cx="1840.3" cy="1254.6" r="5.6" fill="none" stroke="#a7a9ac" stroke-width="3"/>
<circle cx="1840.3" cy="1259.6" r="5.6" fill="none" stroke="#a7a9ac" stroke-width="3"/>
<circle cx="1840.3" cy="1264.1" r="5.6" fill="none" stroke="#a7a9ac" stroke-width="3"/>
<circle cx="1898.1" cy="1147.8" r="5.6" fill="none" stroke="#a7a9ac" stroke-width="3"/>
<circle cx="1898.1" cy="1152.8" r="5.6" fill="none" stroke="#a7a9ac" stroke-width="3"/>
<circle cx="1898.1" cy="1163.2" r="5.6" fill="none" stroke="#a7a9ac" stroke-width="3"/>
<circle cx="1898.1" cy="1179.5" r="5.6" fill="none" stroke="#a7a9ac" stroke-width="3"/>
<circle cx="1898.1" cy="1186.9" r="5.6" fill="none" stroke="#a7a9ac" stroke-width="3"/>
<circle cx="1898.1" cy="1192.9" r="5.6" fill="none" stroke="#a7a9ac" stroke-width="3"/>
<circle cx="1898.1" cy="1197.3" r="5.6" fill="none" stroke="#a7a9ac" stroke-width="3"/>
<text x="1898" y="1127" text-anchor="middle" font-size="28.5">**</text>
<text x="1794" y="1307" text-anchor="end" transform="rotate(-45 1794 1307)">Saline</text>
<text x="1856.5" y="1307" text-anchor="end" transform="rotate(-45 1856.5 1307)">BzATP</text>
<text x="1912.5" y="1307" text-anchor="end" transform="rotate(-45 1912.5 1307)">ATP</text>
</svg>
</body></html>
